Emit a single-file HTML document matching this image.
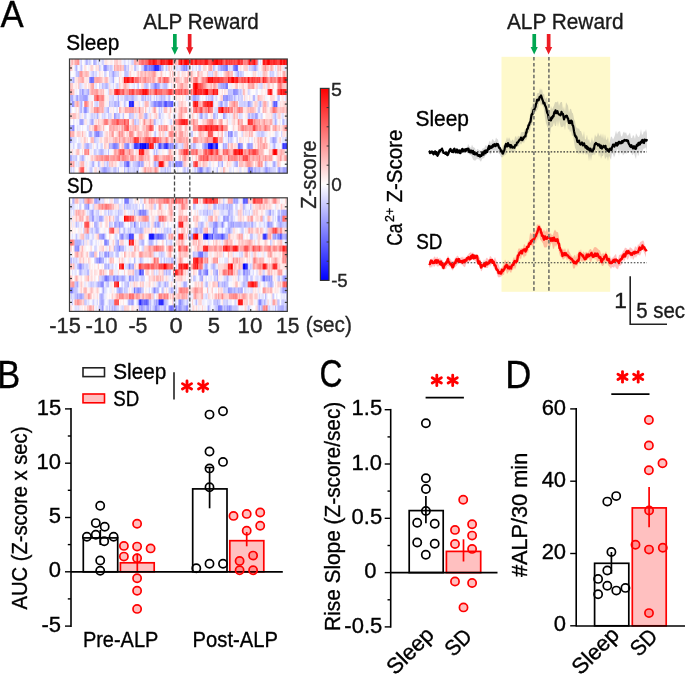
<!DOCTYPE html>
<html><head><meta charset="utf-8"><style>
html,body{margin:0;padding:0;background:#fff;}
body{width:685px;height:675px;overflow:hidden;}
svg{display:block;will-change:transform;}
text{stroke-width:0.35px;}
.hm rect{width:1.6px;height:6.35px;}
svg{font-family:"Liberation Sans",sans-serif;}
</style></head><body>
<svg width="685" height="675" viewBox="0 0 685 675" shape-rendering="auto">
<defs><filter id="hb" x="-2%" y="-2%" width="104%" height="104%"><feGaussianBlur stdDeviation="0.55 0.3"/></filter></defs>
<defs><clipPath id="c1"><rect x="69.50" y="59.00" width="217.80" height="114.20"/></clipPath></defs>
<g clip-path="url(#c1)"><g class="hm" filter="url(#hb)">
<g transform="translate(0,59.00)">
<rect x="69.5" fill="#ffefef"/>
<rect x="70.7" fill="#ffc2c2"/>
<rect x="72.0" fill="#ffb5b5"/>
<rect x="73.2" fill="#ffd8d8"/>
<rect x="74.5" fill="#ffa7a7"/>
<rect x="75.7" fill="#ffa9a9"/>
<rect x="76.9" fill="#ff9999"/>
<rect x="78.2" fill="#ff8787"/>
<rect x="79.4" fill="#eaeaff"/>
<rect x="80.6" fill="#cfcfff"/>
<rect x="81.9" fill="#fff9f9"/>
<rect x="83.1" fill="#fcfcff"/>
<rect x="84.3" fill="#e5e5ff"/>
<rect x="85.6" fill="#b2b2ff"/>
<rect x="86.8" fill="#bebeff"/>
<rect x="88.1" fill="#dbdbff"/>
<rect x="89.3" fill="#bfbfff"/>
<rect x="90.5" fill="#ededff"/>
<rect x="91.8" fill="#ffffff"/>
<rect x="93.0" fill="#bfbfff"/>
<rect x="94.2" fill="#a2a2ff"/>
<rect x="95.5" fill="#bfbfff"/>
<rect x="96.7" fill="#ededff"/>
<rect x="98.0" fill="#d4d4ff"/>
<rect x="99.2" fill="#e9e9ff"/>
<rect x="100.4" fill="#efefff"/>
<rect x="101.7" fill="#d1d1ff"/>
<rect x="102.9" fill="#d4d4ff"/>
<rect x="104.2" fill="#ffeaea"/>
<rect x="105.4" fill="#ffdcdc"/>
<rect x="106.6" fill="#ffecec"/>
<rect x="107.9" fill="#fff3f3"/>
<rect x="109.1" fill="#fff7f7"/>
<rect x="110.3" fill="#ffe6e6"/>
<rect x="111.6" fill="#ffebeb"/>
<rect x="112.8" fill="#fafaff"/>
<rect x="114.1" fill="#ffcccc"/>
<rect x="115.3" fill="#ffcaca"/>
<rect x="116.5" fill="#ffc2c2"/>
<rect x="117.8" fill="#ffe4e4"/>
<rect x="119.0" fill="#ffdfdf"/>
<rect x="120.2" fill="#ffd3d3"/>
<rect x="121.5" fill="#f4f4ff"/>
<rect x="122.7" fill="#ececff"/>
<rect x="124.0" fill="#dbdbff"/>
<rect x="125.2" fill="#e7e7ff"/>
<rect x="126.4" fill="#fefeff"/>
<rect x="127.7" fill="#dfdfff"/>
<rect x="128.9" fill="#f2f2ff"/>
<rect x="130.1" fill="#eeeeff"/>
<rect x="131.4" fill="#ceceff"/>
<rect x="132.6" fill="#d7d7ff"/>
<rect x="133.9" fill="#ffafaf"/>
<rect x="135.1" fill="#ffa6a6"/>
<rect x="136.3" fill="#ffbdbd"/>
<rect x="137.6" fill="#ffc1c1"/>
<rect x="138.8" fill="#ff8585"/>
<rect x="140.0" fill="#ff8989"/>
<rect x="141.3" fill="#ff5d5d"/>
<rect x="142.5" fill="#ff6969"/>
<rect x="143.8" fill="#ff8282"/>
<rect x="145.0" fill="#ff6f6f"/>
<rect x="146.2" fill="#ff5959"/>
<rect x="147.5" fill="#ff5252"/>
<rect x="148.7" fill="#ff2525"/>
<rect x="149.9" fill="#ff2929"/>
<rect x="151.2" fill="#ff2626"/>
<rect x="152.4" fill="#ff0e0e"/>
<rect x="153.7" fill="#ff1818"/>
<rect x="154.9" fill="#ff2727"/>
<rect x="156.1" fill="#ff2626"/>
<rect x="157.4" fill="#ff4b4b"/>
<rect x="158.6" fill="#ff5b5b"/>
<rect x="159.8" fill="#ff2c2c"/>
<rect x="161.1" fill="#ff0000"/>
<rect x="162.3" fill="#ff0c0c"/>
<rect x="163.6" fill="#ff2222"/>
<rect x="164.8" fill="#ff3e3e"/>
<rect x="166.0" fill="#ff2f2f"/>
<rect x="167.3" fill="#ff0202"/>
<rect x="168.5" fill="#ff0000"/>
<rect x="169.7" fill="#ff1010"/>
<rect x="171.0" fill="#ff0000"/>
<rect x="172.2" fill="#ff2828"/>
<rect x="173.4" fill="#ffd2d2"/>
<rect x="174.7" fill="#ffadad"/>
<rect x="175.9" fill="#ffbaba"/>
<rect x="177.2" fill="#ffcaca"/>
<rect x="178.4" fill="#ff3333"/>
<rect x="179.6" fill="#ff2727"/>
<rect x="180.9" fill="#ff0000"/>
<rect x="182.1" fill="#ff3c3c"/>
<rect x="183.4" fill="#ff1717"/>
<rect x="184.6" fill="#ff0404"/>
<rect x="185.8" fill="#ff0000"/>
<rect x="187.1" fill="#ff0000"/>
<rect x="188.3" fill="#ff0000"/>
<rect x="189.5" fill="#ff0f0f"/>
<rect x="190.8" fill="#ff1515"/>
<rect x="192.0" fill="#ff2323"/>
<rect x="193.2" fill="#ff4848"/>
<rect x="194.5" fill="#ff1616"/>
<rect x="195.7" fill="#ff1818"/>
<rect x="197.0" fill="#ff3737"/>
<rect x="198.2" fill="#ff2c2c"/>
<rect x="199.4" fill="#ff2929"/>
<rect x="200.7" fill="#ff3232"/>
<rect x="201.9" fill="#ff3737"/>
<rect x="203.2" fill="#ff2929"/>
<rect x="204.4" fill="#ff1c1c"/>
<rect x="205.6" fill="#ff1717"/>
<rect x="206.9" fill="#ff2121"/>
<rect x="208.1" fill="#ff4949"/>
<rect x="209.3" fill="#ff4b4b"/>
<rect x="210.6" fill="#ff5050"/>
<rect x="211.8" fill="#ff3131"/>
<rect x="213.1" fill="#ff0c0c"/>
<rect x="214.3" fill="#ff0101"/>
<rect x="215.5" fill="#ff0000"/>
<rect x="216.8" fill="#ff0000"/>
<rect x="218.0" fill="#ff2424"/>
<rect x="219.2" fill="#ff0808"/>
<rect x="220.5" fill="#ff0909"/>
<rect x="221.7" fill="#ff3a3a"/>
<rect x="223.0" fill="#ff5555"/>
<rect x="224.2" fill="#ff6262"/>
<rect x="225.4" fill="#ff2b2b"/>
<rect x="226.7" fill="#ff3b3b"/>
<rect x="227.9" fill="#ff4e4e"/>
<rect x="229.1" fill="#ff2d2d"/>
<rect x="230.4" fill="#ff3434"/>
<rect x="231.6" fill="#ff4e4e"/>
<rect x="232.8" fill="#ff5353"/>
<rect x="234.1" fill="#ff3737"/>
<rect x="235.3" fill="#ff4747"/>
<rect x="236.6" fill="#ff4646"/>
<rect x="237.8" fill="#ff2222"/>
<rect x="239.0" fill="#ff2727"/>
<rect x="240.3" fill="#ff3434"/>
<rect x="241.5" fill="#ff2d2d"/>
<rect x="242.8" fill="#ff9191"/>
<rect x="244.0" fill="#ff8383"/>
<rect x="245.2" fill="#ff7979"/>
<rect x="246.5" fill="#ff8888"/>
<rect x="247.7" fill="#ff5353"/>
<rect x="248.9" fill="#ff1818"/>
<rect x="250.2" fill="#ff1e1e"/>
<rect x="251.4" fill="#ff3939"/>
<rect x="252.7" fill="#ff2525"/>
<rect x="253.9" fill="#ff0a0a"/>
<rect x="255.1" fill="#ff3f3f"/>
<rect x="256.4" fill="#ff5757"/>
<rect x="257.6" fill="#cbcbff"/>
<rect x="258.8" fill="#f9f9ff"/>
<rect x="260.1" fill="#e1e1ff"/>
<rect x="261.3" fill="#fffcfc"/>
<rect x="262.6" fill="#ff1414"/>
<rect x="263.8" fill="#ff1919"/>
<rect x="265.0" fill="#ff3636"/>
<rect x="266.3" fill="#ff0505"/>
<rect x="267.5" fill="#ff0000"/>
<rect x="268.7" fill="#ff1111"/>
<rect x="270.0" fill="#ff3232"/>
<rect x="271.2" fill="#ff1e1e"/>
<rect x="272.5" fill="#ff2a2a"/>
<rect x="273.7" fill="#ff2020"/>
<rect x="274.9" fill="#ff3131"/>
<rect x="276.2" fill="#ff1f1f"/>
<rect x="277.4" fill="#ff4646"/>
<rect x="278.6" fill="#ff4343"/>
<rect x="279.9" fill="#ff0c0c"/>
<rect x="281.1" fill="#ff0000"/>
<rect x="282.4" fill="#ff2121"/>
<rect x="283.6" fill="#ff0505"/>
<rect x="284.8" fill="#ff2525"/>
<rect x="286.1" fill="#ff0101"/>
</g>
<g transform="translate(0,65.01)">
<rect x="69.5" fill="#ffbdbd"/>
<rect x="70.7" fill="#ffcfcf"/>
<rect x="72.0" fill="#ffe4e4"/>
<rect x="73.2" fill="#fcfcff"/>
<rect x="74.5" fill="#dadaff"/>
<rect x="75.7" fill="#afafff"/>
<rect x="76.9" fill="#dcdcff"/>
<rect x="78.2" fill="#fcfcff"/>
<rect x="79.4" fill="#eaeaff"/>
<rect x="80.6" fill="#c2c2ff"/>
<rect x="81.9" fill="#e8e8ff"/>
<rect x="83.1" fill="#fffcfc"/>
<rect x="84.3" fill="#ffd8d8"/>
<rect x="85.6" fill="#ffeded"/>
<rect x="86.8" fill="#fdfdff"/>
<rect x="88.1" fill="#f2f2ff"/>
<rect x="89.3" fill="#ffefef"/>
<rect x="90.5" fill="#ffd0d0"/>
<rect x="91.8" fill="#ffd6d6"/>
<rect x="93.0" fill="#ffecec"/>
<rect x="94.2" fill="#fffefe"/>
<rect x="95.5" fill="#ffd8d8"/>
<rect x="96.7" fill="#ffe5e5"/>
<rect x="98.0" fill="#ffdada"/>
<rect x="99.2" fill="#bfbfff"/>
<rect x="100.4" fill="#e7e7ff"/>
<rect x="101.7" fill="#fcfcff"/>
<rect x="102.9" fill="#bdbdff"/>
<rect x="104.2" fill="#8282ff"/>
<rect x="105.4" fill="#8686ff"/>
<rect x="106.6" fill="#bebeff"/>
<rect x="107.9" fill="#c6c6ff"/>
<rect x="109.1" fill="#d4d4ff"/>
<rect x="110.3" fill="#bbbbff"/>
<rect x="111.6" fill="#d5d5ff"/>
<rect x="112.8" fill="#efefff"/>
<rect x="114.1" fill="#ffa1a1"/>
<rect x="115.3" fill="#ffc8c8"/>
<rect x="116.5" fill="#ffaeae"/>
<rect x="117.8" fill="#ffb2b2"/>
<rect x="119.0" fill="#ffc4c4"/>
<rect x="120.2" fill="#ffa4a4"/>
<rect x="121.5" fill="#ffd2d2"/>
<rect x="122.7" fill="#ffbfbf"/>
<rect x="124.0" fill="#b7b7ff"/>
<rect x="125.2" fill="#ababff"/>
<rect x="126.4" fill="#e1e1ff"/>
<rect x="127.7" fill="#c1c1ff"/>
<rect x="128.9" fill="#fff1f1"/>
<rect x="130.1" fill="#fff1f1"/>
<rect x="131.4" fill="#ffdddd"/>
<rect x="132.6" fill="#fffafa"/>
<rect x="133.9" fill="#c6c6ff"/>
<rect x="135.1" fill="#bbbbff"/>
<rect x="136.3" fill="#e5e5ff"/>
<rect x="137.6" fill="#e3e3ff"/>
<rect x="138.8" fill="#fefeff"/>
<rect x="140.0" fill="#fff9f9"/>
<rect x="141.3" fill="#cbcbff"/>
<rect x="142.5" fill="#d2d2ff"/>
<rect x="143.8" fill="#8383ff"/>
<rect x="145.0" fill="#6f6fff"/>
<rect x="146.2" fill="#6969ff"/>
<rect x="147.5" fill="#a7a7ff"/>
<rect x="148.7" fill="#7f7fff"/>
<rect x="149.9" fill="#8c8cff"/>
<rect x="151.2" fill="#6a6aff"/>
<rect x="152.4" fill="#7171ff"/>
<rect x="153.7" fill="#4040ff"/>
<rect x="154.9" fill="#2626ff"/>
<rect x="156.1" fill="#2b2bff"/>
<rect x="157.4" fill="#1010ff"/>
<rect x="158.6" fill="#7878ff"/>
<rect x="159.8" fill="#7d7dff"/>
<rect x="161.1" fill="#b2b2ff"/>
<rect x="162.3" fill="#afafff"/>
<rect x="163.6" fill="#f9f9ff"/>
<rect x="164.8" fill="#e0e0ff"/>
<rect x="166.0" fill="#c5c5ff"/>
<rect x="167.3" fill="#e3e3ff"/>
<rect x="168.5" fill="#ffaeae"/>
<rect x="169.7" fill="#ffe9e9"/>
<rect x="171.0" fill="#ffcece"/>
<rect x="172.2" fill="#fff1f1"/>
<rect x="173.4" fill="#d1d1ff"/>
<rect x="174.7" fill="#fff4f4"/>
<rect x="175.9" fill="#dedeff"/>
<rect x="177.2" fill="#dbdbff"/>
<rect x="178.4" fill="#e9e9ff"/>
<rect x="179.6" fill="#d5d5ff"/>
<rect x="180.9" fill="#b4b4ff"/>
<rect x="182.1" fill="#a9a9ff"/>
<rect x="183.4" fill="#7c7cff"/>
<rect x="184.6" fill="#a5a5ff"/>
<rect x="185.8" fill="#8484ff"/>
<rect x="187.1" fill="#b7b7ff"/>
<rect x="188.3" fill="#d0d0ff"/>
<rect x="189.5" fill="#f7f7ff"/>
<rect x="190.8" fill="#fffafa"/>
<rect x="192.0" fill="#d7d7ff"/>
<rect x="193.2" fill="#eeeeff"/>
<rect x="194.5" fill="#f5f5ff"/>
<rect x="195.7" fill="#dadaff"/>
<rect x="197.0" fill="#fbfbff"/>
<rect x="198.2" fill="#d8d8ff"/>
<rect x="199.4" fill="#c5c5ff"/>
<rect x="200.7" fill="#fff2f2"/>
<rect x="201.9" fill="#f4f4ff"/>
<rect x="203.2" fill="#ffcece"/>
<rect x="204.4" fill="#ffd4d4"/>
<rect x="205.6" fill="#ffe2e2"/>
<rect x="206.9" fill="#fffcfc"/>
<rect x="208.1" fill="#ffc3c3"/>
<rect x="209.3" fill="#ffa4a4"/>
<rect x="210.6" fill="#ff9797"/>
<rect x="211.8" fill="#ffd6d6"/>
<rect x="213.1" fill="#b7b7ff"/>
<rect x="214.3" fill="#cfcfff"/>
<rect x="215.5" fill="#f7f7ff"/>
<rect x="216.8" fill="#e6e6ff"/>
<rect x="218.0" fill="#bcbcff"/>
<rect x="219.2" fill="#bcbcff"/>
<rect x="220.5" fill="#9a9aff"/>
<rect x="221.7" fill="#a3a3ff"/>
<rect x="223.0" fill="#9393ff"/>
<rect x="224.2" fill="#8787ff"/>
<rect x="225.4" fill="#7474ff"/>
<rect x="226.7" fill="#7c7cff"/>
<rect x="227.9" fill="#e7e7ff"/>
<rect x="229.1" fill="#d7d7ff"/>
<rect x="230.4" fill="#e0e0ff"/>
<rect x="231.6" fill="#e4e4ff"/>
<rect x="232.8" fill="#9292ff"/>
<rect x="234.1" fill="#7171ff"/>
<rect x="235.3" fill="#5b5bff"/>
<rect x="236.6" fill="#5353ff"/>
<rect x="237.8" fill="#e8e8ff"/>
<rect x="239.0" fill="#ffeded"/>
<rect x="240.3" fill="#ffd7d7"/>
<rect x="241.5" fill="#fffdfd"/>
<rect x="242.8" fill="#ffdede"/>
<rect x="244.0" fill="#ffd3d3"/>
<rect x="245.2" fill="#ffcccc"/>
<rect x="246.5" fill="#ffc7c7"/>
<rect x="247.7" fill="#efefff"/>
<rect x="248.9" fill="#d1d1ff"/>
<rect x="250.2" fill="#d5d5ff"/>
<rect x="251.4" fill="#c9c9ff"/>
<rect x="252.7" fill="#bdbdff"/>
<rect x="253.9" fill="#a5a5ff"/>
<rect x="255.1" fill="#9b9bff"/>
<rect x="256.4" fill="#c4c4ff"/>
<rect x="257.6" fill="#e8e8ff"/>
<rect x="258.8" fill="#fff2f2"/>
<rect x="260.1" fill="#fffafa"/>
<rect x="261.3" fill="#ffdfdf"/>
<rect x="262.6" fill="#ffb1b1"/>
<rect x="263.8" fill="#ffa9a9"/>
<rect x="265.0" fill="#ff8e8e"/>
<rect x="266.3" fill="#ffbcbc"/>
<rect x="267.5" fill="#ffb8b8"/>
<rect x="268.7" fill="#ffe0e0"/>
<rect x="270.0" fill="#ffc1c1"/>
<rect x="271.2" fill="#ffa2a2"/>
<rect x="272.5" fill="#ffd0d0"/>
<rect x="273.7" fill="#fff8f8"/>
<rect x="274.9" fill="#e2e2ff"/>
<rect x="276.2" fill="#f3f3ff"/>
<rect x="277.4" fill="#ffb4b4"/>
<rect x="278.6" fill="#ffd5d5"/>
<rect x="279.9" fill="#ffb3b3"/>
<rect x="281.1" fill="#ffe1e1"/>
<rect x="282.4" fill="#ffe5e5"/>
<rect x="283.6" fill="#e5e5ff"/>
<rect x="284.8" fill="#e4e4ff"/>
<rect x="286.1" fill="#ffeaea"/>
</g>
<g transform="translate(0,71.02)">
<rect x="69.5" fill="#eaeaff"/>
<rect x="70.7" fill="#fdfdff"/>
<rect x="72.0" fill="#fffdfd"/>
<rect x="73.2" fill="#fbfbff"/>
<rect x="74.5" fill="#f3f3ff"/>
<rect x="75.7" fill="#c6c6ff"/>
<rect x="76.9" fill="#c7c7ff"/>
<rect x="78.2" fill="#b1b1ff"/>
<rect x="79.4" fill="#ffa0a0"/>
<rect x="80.6" fill="#ff9494"/>
<rect x="81.9" fill="#ffb1b1"/>
<rect x="83.1" fill="#ffcdcd"/>
<rect x="84.3" fill="#ffbebe"/>
<rect x="85.6" fill="#ffafaf"/>
<rect x="86.8" fill="#ffbebe"/>
<rect x="88.1" fill="#ffc5c5"/>
<rect x="89.3" fill="#f3f3ff"/>
<rect x="90.5" fill="#ddddff"/>
<rect x="91.8" fill="#ceceff"/>
<rect x="93.0" fill="#c2c2ff"/>
<rect x="94.2" fill="#e5e5ff"/>
<rect x="95.5" fill="#ccccff"/>
<rect x="96.7" fill="#f4f4ff"/>
<rect x="98.0" fill="#f3f3ff"/>
<rect x="99.2" fill="#ffd1d1"/>
<rect x="100.4" fill="#fff5f5"/>
<rect x="101.7" fill="#ffeded"/>
<rect x="102.9" fill="#fffbfb"/>
<rect x="104.2" fill="#cdcdff"/>
<rect x="105.4" fill="#d5d5ff"/>
<rect x="106.6" fill="#fff7f7"/>
<rect x="107.9" fill="#fafaff"/>
<rect x="109.1" fill="#c7c7ff"/>
<rect x="110.3" fill="#d6d6ff"/>
<rect x="111.6" fill="#bdbdff"/>
<rect x="112.8" fill="#a0a0ff"/>
<rect x="114.1" fill="#bdbdff"/>
<rect x="115.3" fill="#c8c8ff"/>
<rect x="116.5" fill="#d9d9ff"/>
<rect x="117.8" fill="#d0d0ff"/>
<rect x="119.0" fill="#fff0f0"/>
<rect x="120.2" fill="#ffe6e6"/>
<rect x="121.5" fill="#f5f5ff"/>
<rect x="122.7" fill="#fafaff"/>
<rect x="124.0" fill="#cdcdff"/>
<rect x="125.2" fill="#b9b9ff"/>
<rect x="126.4" fill="#bfbfff"/>
<rect x="127.7" fill="#ceceff"/>
<rect x="128.9" fill="#ffdfdf"/>
<rect x="130.1" fill="#ffcfcf"/>
<rect x="131.4" fill="#fffcfc"/>
<rect x="132.6" fill="#fff2f2"/>
<rect x="133.9" fill="#fff0f0"/>
<rect x="135.1" fill="#fcfcff"/>
<rect x="136.3" fill="#ffe6e6"/>
<rect x="137.6" fill="#ffbcbc"/>
<rect x="138.8" fill="#ffe3e3"/>
<rect x="140.0" fill="#ffc4c4"/>
<rect x="141.3" fill="#ffacac"/>
<rect x="142.5" fill="#ffd0d0"/>
<rect x="143.8" fill="#ffc1c1"/>
<rect x="145.0" fill="#ffadad"/>
<rect x="146.2" fill="#ffcbcb"/>
<rect x="147.5" fill="#ffbebe"/>
<rect x="148.7" fill="#ffb5b5"/>
<rect x="149.9" fill="#ffbdbd"/>
<rect x="151.2" fill="#ffabab"/>
<rect x="152.4" fill="#ffa0a0"/>
<rect x="153.7" fill="#ff9595"/>
<rect x="154.9" fill="#ffb0b0"/>
<rect x="156.1" fill="#ffdddd"/>
<rect x="157.4" fill="#ffebeb"/>
<rect x="158.6" fill="#fff4f4"/>
<rect x="159.8" fill="#ffdbdb"/>
<rect x="161.1" fill="#ffc1c1"/>
<rect x="162.3" fill="#ffeeee"/>
<rect x="163.6" fill="#fffdfd"/>
<rect x="164.8" fill="#ffecec"/>
<rect x="166.0" fill="#fbfbff"/>
<rect x="167.3" fill="#fefeff"/>
<rect x="168.5" fill="#ffeded"/>
<rect x="169.7" fill="#ffcbcb"/>
<rect x="171.0" fill="#fff4f4"/>
<rect x="172.2" fill="#ffb9b9"/>
<rect x="173.4" fill="#ffdbdb"/>
<rect x="174.7" fill="#ffe4e4"/>
<rect x="175.9" fill="#f8f8ff"/>
<rect x="177.2" fill="#ffe0e0"/>
<rect x="178.4" fill="#ffcccc"/>
<rect x="179.6" fill="#f9f9ff"/>
<rect x="180.9" fill="#ffebeb"/>
<rect x="182.1" fill="#ffdada"/>
<rect x="183.4" fill="#ffe1e1"/>
<rect x="184.6" fill="#ffe1e1"/>
<rect x="185.8" fill="#fff6f6"/>
<rect x="187.1" fill="#ffd8d8"/>
<rect x="188.3" fill="#ff9999"/>
<rect x="189.5" fill="#ffc2c2"/>
<rect x="190.8" fill="#ffb1b1"/>
<rect x="192.0" fill="#ffc8c8"/>
<rect x="193.2" fill="#ffe9e9"/>
<rect x="194.5" fill="#ffeaea"/>
<rect x="195.7" fill="#fffbfb"/>
<rect x="197.0" fill="#ffc2c2"/>
<rect x="198.2" fill="#ffa5a5"/>
<rect x="199.4" fill="#ffdcdc"/>
<rect x="200.7" fill="#ffcece"/>
<rect x="201.9" fill="#ffd7d7"/>
<rect x="203.2" fill="#fff3f3"/>
<rect x="204.4" fill="#fff1f1"/>
<rect x="205.6" fill="#fff4f4"/>
<rect x="206.9" fill="#ffcccc"/>
<rect x="208.1" fill="#d9d9ff"/>
<rect x="209.3" fill="#d4d4ff"/>
<rect x="210.6" fill="#e7e7ff"/>
<rect x="211.8" fill="#cdcdff"/>
<rect x="213.1" fill="#ffdddd"/>
<rect x="214.3" fill="#ffcece"/>
<rect x="215.5" fill="#ffb4b4"/>
<rect x="216.8" fill="#ffdcdc"/>
<rect x="218.0" fill="#e8e8ff"/>
<rect x="219.2" fill="#f8f8ff"/>
<rect x="220.5" fill="#e9e9ff"/>
<rect x="221.7" fill="#fcfcff"/>
<rect x="223.0" fill="#ffe7e7"/>
<rect x="224.2" fill="#ffcccc"/>
<rect x="225.4" fill="#ffb7b7"/>
<rect x="226.7" fill="#ffacac"/>
<rect x="227.9" fill="#ff9a9a"/>
<rect x="229.1" fill="#ffb5b5"/>
<rect x="230.4" fill="#ffc5c5"/>
<rect x="231.6" fill="#ffafaf"/>
<rect x="232.8" fill="#f7f7ff"/>
<rect x="234.1" fill="#e8e8ff"/>
<rect x="235.3" fill="#d2d2ff"/>
<rect x="236.6" fill="#c0c0ff"/>
<rect x="237.8" fill="#a9a9ff"/>
<rect x="239.0" fill="#d8d8ff"/>
<rect x="240.3" fill="#b5b5ff"/>
<rect x="241.5" fill="#d9d9ff"/>
<rect x="242.8" fill="#d8d8ff"/>
<rect x="244.0" fill="#fafaff"/>
<rect x="245.2" fill="#f9f9ff"/>
<rect x="246.5" fill="#fff4f4"/>
<rect x="247.7" fill="#fbfbff"/>
<rect x="248.9" fill="#fdfdff"/>
<rect x="250.2" fill="#fffafa"/>
<rect x="251.4" fill="#f2f2ff"/>
<rect x="252.7" fill="#ffd7d7"/>
<rect x="253.9" fill="#ffdfdf"/>
<rect x="255.1" fill="#ffd5d5"/>
<rect x="256.4" fill="#fffcfc"/>
<rect x="257.6" fill="#e7e7ff"/>
<rect x="258.8" fill="#f0f0ff"/>
<rect x="260.1" fill="#e8e8ff"/>
<rect x="261.3" fill="#ededff"/>
<rect x="262.6" fill="#ffc2c2"/>
<rect x="263.8" fill="#ffbbbb"/>
<rect x="265.0" fill="#ffc8c8"/>
<rect x="266.3" fill="#ffc1c1"/>
<rect x="267.5" fill="#fcfcff"/>
<rect x="268.7" fill="#e6e6ff"/>
<rect x="270.0" fill="#cbcbff"/>
<rect x="271.2" fill="#d5d5ff"/>
<rect x="272.5" fill="#c6c6ff"/>
<rect x="273.7" fill="#ebebff"/>
<rect x="274.9" fill="#f8f8ff"/>
<rect x="276.2" fill="#e3e3ff"/>
<rect x="277.4" fill="#ffcfcf"/>
<rect x="278.6" fill="#ffeded"/>
<rect x="279.9" fill="#ffdbdb"/>
<rect x="281.1" fill="#fff6f6"/>
<rect x="282.4" fill="#ffb9b9"/>
<rect x="283.6" fill="#ff9f9f"/>
<rect x="284.8" fill="#ffcaca"/>
<rect x="286.1" fill="#ffe9e9"/>
</g>
<g transform="translate(0,77.03)">
<rect x="69.5" fill="#dbdbff"/>
<rect x="70.7" fill="#d8d8ff"/>
<rect x="72.0" fill="#c9c9ff"/>
<rect x="73.2" fill="#a5a5ff"/>
<rect x="74.5" fill="#ffeeee"/>
<rect x="75.7" fill="#ffe4e4"/>
<rect x="76.9" fill="#ffe1e1"/>
<rect x="78.2" fill="#ffbbbb"/>
<rect x="79.4" fill="#ffc0c0"/>
<rect x="80.6" fill="#ffb6b6"/>
<rect x="81.9" fill="#ffa5a5"/>
<rect x="83.1" fill="#ffa9a9"/>
<rect x="84.3" fill="#ffeded"/>
<rect x="85.6" fill="#ffe3e3"/>
<rect x="86.8" fill="#ffe7e7"/>
<rect x="88.1" fill="#ffe8e8"/>
<rect x="89.3" fill="#7b7bff"/>
<rect x="90.5" fill="#6868ff"/>
<rect x="91.8" fill="#7171ff"/>
<rect x="93.0" fill="#7676ff"/>
<rect x="94.2" fill="#ffa6a6"/>
<rect x="95.5" fill="#ffa7a7"/>
<rect x="96.7" fill="#ffa2a2"/>
<rect x="98.0" fill="#ffa6a6"/>
<rect x="99.2" fill="#ffa4a4"/>
<rect x="100.4" fill="#ffb4b4"/>
<rect x="101.7" fill="#ffd0d0"/>
<rect x="102.9" fill="#ffe4e4"/>
<rect x="104.2" fill="#ffc9c9"/>
<rect x="105.4" fill="#ffafaf"/>
<rect x="106.6" fill="#ffbebe"/>
<rect x="107.9" fill="#ffe5e5"/>
<rect x="109.1" fill="#e3e3ff"/>
<rect x="110.3" fill="#d8d8ff"/>
<rect x="111.6" fill="#d2d2ff"/>
<rect x="112.8" fill="#acacff"/>
<rect x="114.1" fill="#efefff"/>
<rect x="115.3" fill="#fff2f2"/>
<rect x="116.5" fill="#fefeff"/>
<rect x="117.8" fill="#f3f3ff"/>
<rect x="119.0" fill="#ffcaca"/>
<rect x="120.2" fill="#fff5f5"/>
<rect x="121.5" fill="#ffe1e1"/>
<rect x="122.7" fill="#ffb4b4"/>
<rect x="124.0" fill="#ff0707"/>
<rect x="125.2" fill="#ff1f1f"/>
<rect x="126.4" fill="#ff1212"/>
<rect x="127.7" fill="#ff1313"/>
<rect x="128.9" fill="#ff3434"/>
<rect x="130.1" fill="#ff4343"/>
<rect x="131.4" fill="#ff1212"/>
<rect x="132.6" fill="#ff2f2f"/>
<rect x="133.9" fill="#ff8e8e"/>
<rect x="135.1" fill="#ff5d5d"/>
<rect x="136.3" fill="#ff6060"/>
<rect x="137.6" fill="#ff6e6e"/>
<rect x="138.8" fill="#ffa6a6"/>
<rect x="140.0" fill="#ff9191"/>
<rect x="141.3" fill="#ffb6b6"/>
<rect x="142.5" fill="#ff9f9f"/>
<rect x="143.8" fill="#ff9090"/>
<rect x="145.0" fill="#ff8181"/>
<rect x="146.2" fill="#ffa7a7"/>
<rect x="147.5" fill="#ff9c9c"/>
<rect x="148.7" fill="#ffb6b6"/>
<rect x="149.9" fill="#ffa7a7"/>
<rect x="151.2" fill="#ffbfbf"/>
<rect x="152.4" fill="#ff9898"/>
<rect x="153.7" fill="#ffaeae"/>
<rect x="154.9" fill="#ffcfcf"/>
<rect x="156.1" fill="#ffe7e7"/>
<rect x="157.4" fill="#ffb5b5"/>
<rect x="158.6" fill="#ff8686"/>
<rect x="159.8" fill="#ff7a7a"/>
<rect x="161.1" fill="#ffb7b7"/>
<rect x="162.3" fill="#ff8b8b"/>
<rect x="163.6" fill="#ff5151"/>
<rect x="164.8" fill="#ff6c6c"/>
<rect x="166.0" fill="#ff6e6e"/>
<rect x="167.3" fill="#ff5454"/>
<rect x="168.5" fill="#ffb2b2"/>
<rect x="169.7" fill="#ffdcdc"/>
<rect x="171.0" fill="#ffcccc"/>
<rect x="172.2" fill="#ffeaea"/>
<rect x="173.4" fill="#ffb6b6"/>
<rect x="174.7" fill="#ffc9c9"/>
<rect x="175.9" fill="#ffacac"/>
<rect x="177.2" fill="#ffaeae"/>
<rect x="178.4" fill="#ffb9b9"/>
<rect x="179.6" fill="#ffd9d9"/>
<rect x="180.9" fill="#ffd3d3"/>
<rect x="182.1" fill="#ffefef"/>
<rect x="183.4" fill="#ffcece"/>
<rect x="184.6" fill="#ffa5a5"/>
<rect x="185.8" fill="#ffafaf"/>
<rect x="187.1" fill="#ff9494"/>
<rect x="188.3" fill="#ffe0e0"/>
<rect x="189.5" fill="#ffc6c6"/>
<rect x="190.8" fill="#ffbaba"/>
<rect x="192.0" fill="#ffd7d7"/>
<rect x="193.2" fill="#ff8989"/>
<rect x="194.5" fill="#ff7e7e"/>
<rect x="195.7" fill="#ff7171"/>
<rect x="197.0" fill="#ff8c8c"/>
<rect x="198.2" fill="#ffcece"/>
<rect x="199.4" fill="#ffdbdb"/>
<rect x="200.7" fill="#ffb4b4"/>
<rect x="201.9" fill="#ff8b8b"/>
<rect x="203.2" fill="#ff7272"/>
<rect x="204.4" fill="#ff9191"/>
<rect x="205.6" fill="#ff6969"/>
<rect x="206.9" fill="#ff4e4e"/>
<rect x="208.1" fill="#ff0000"/>
<rect x="209.3" fill="#ff0404"/>
<rect x="210.6" fill="#ff2323"/>
<rect x="211.8" fill="#ff0808"/>
<rect x="213.1" fill="#ff3636"/>
<rect x="214.3" fill="#ff1c1c"/>
<rect x="215.5" fill="#ff4141"/>
<rect x="216.8" fill="#ff3939"/>
<rect x="218.0" fill="#ff2e2e"/>
<rect x="219.2" fill="#ff3232"/>
<rect x="220.5" fill="#ff4545"/>
<rect x="221.7" fill="#ff4949"/>
<rect x="223.0" fill="#ff5d5d"/>
<rect x="224.2" fill="#ff6565"/>
<rect x="225.4" fill="#ff5f5f"/>
<rect x="226.7" fill="#ff7a7a"/>
<rect x="227.9" fill="#ff1b1b"/>
<rect x="229.1" fill="#ff2e2e"/>
<rect x="230.4" fill="#ff2121"/>
<rect x="231.6" fill="#ff0101"/>
<rect x="232.8" fill="#ff0000"/>
<rect x="234.1" fill="#ff3030"/>
<rect x="235.3" fill="#ff1111"/>
<rect x="236.6" fill="#ff0000"/>
<rect x="237.8" fill="#ff6464"/>
<rect x="239.0" fill="#ff6f6f"/>
<rect x="240.3" fill="#ff6363"/>
<rect x="241.5" fill="#ff4343"/>
<rect x="242.8" fill="#ff5e5e"/>
<rect x="244.0" fill="#ff4343"/>
<rect x="245.2" fill="#ff4141"/>
<rect x="246.5" fill="#ff7272"/>
<rect x="247.7" fill="#ff0707"/>
<rect x="248.9" fill="#ff3e3e"/>
<rect x="250.2" fill="#ff4d4d"/>
<rect x="251.4" fill="#ff2929"/>
<rect x="252.7" fill="#ff4a4a"/>
<rect x="253.9" fill="#ff3f3f"/>
<rect x="255.1" fill="#ff4e4e"/>
<rect x="256.4" fill="#ff3a3a"/>
<rect x="257.6" fill="#ff5454"/>
<rect x="258.8" fill="#ff3d3d"/>
<rect x="260.1" fill="#ff7979"/>
<rect x="261.3" fill="#ff9393"/>
<rect x="262.6" fill="#ff1c1c"/>
<rect x="263.8" fill="#ff4646"/>
<rect x="265.0" fill="#ff4545"/>
<rect x="266.3" fill="#ff5252"/>
<rect x="267.5" fill="#ff9c9c"/>
<rect x="268.7" fill="#ffa5a5"/>
<rect x="270.0" fill="#ff7777"/>
<rect x="271.2" fill="#ff5a5a"/>
<rect x="272.5" fill="#ff8e8e"/>
<rect x="273.7" fill="#ff7e7e"/>
<rect x="274.9" fill="#ff8585"/>
<rect x="276.2" fill="#ff9f9f"/>
<rect x="277.4" fill="#ff5959"/>
<rect x="278.6" fill="#ff3a3a"/>
<rect x="279.9" fill="#ff4747"/>
<rect x="281.1" fill="#ff6d6d"/>
<rect x="282.4" fill="#ff4b4b"/>
<rect x="283.6" fill="#ff1212"/>
<rect x="284.8" fill="#ff1414"/>
<rect x="286.1" fill="#ff2929"/>
</g>
<g transform="translate(0,83.04)">
<rect x="69.5" fill="#ffc9c9"/>
<rect x="70.7" fill="#ffc8c8"/>
<rect x="72.0" fill="#ffcbcb"/>
<rect x="73.2" fill="#fff2f2"/>
<rect x="74.5" fill="#ffecec"/>
<rect x="75.7" fill="#ffe4e4"/>
<rect x="76.9" fill="#fff2f2"/>
<rect x="78.2" fill="#ffc1c1"/>
<rect x="79.4" fill="#d2d2ff"/>
<rect x="80.6" fill="#dfdfff"/>
<rect x="81.9" fill="#e9e9ff"/>
<rect x="83.1" fill="#f0f0ff"/>
<rect x="84.3" fill="#ffdfdf"/>
<rect x="85.6" fill="#ffdcdc"/>
<rect x="86.8" fill="#fafaff"/>
<rect x="88.1" fill="#ffdada"/>
<rect x="89.3" fill="#ffdddd"/>
<rect x="90.5" fill="#ffb4b4"/>
<rect x="91.8" fill="#ffa7a7"/>
<rect x="93.0" fill="#ffa2a2"/>
<rect x="94.2" fill="#f0f0ff"/>
<rect x="95.5" fill="#d7d7ff"/>
<rect x="96.7" fill="#fff8f8"/>
<rect x="98.0" fill="#fffefe"/>
<rect x="99.2" fill="#c7c7ff"/>
<rect x="100.4" fill="#f4f4ff"/>
<rect x="101.7" fill="#bbbbff"/>
<rect x="102.9" fill="#cacaff"/>
<rect x="104.2" fill="#c9c9ff"/>
<rect x="105.4" fill="#afafff"/>
<rect x="106.6" fill="#b9b9ff"/>
<rect x="107.9" fill="#d7d7ff"/>
<rect x="109.1" fill="#ffdddd"/>
<rect x="110.3" fill="#e8e8ff"/>
<rect x="111.6" fill="#f6f6ff"/>
<rect x="112.8" fill="#dadaff"/>
<rect x="114.1" fill="#fff7f7"/>
<rect x="115.3" fill="#e1e1ff"/>
<rect x="116.5" fill="#cbcbff"/>
<rect x="117.8" fill="#dedeff"/>
<rect x="119.0" fill="#ffcdcd"/>
<rect x="120.2" fill="#ffdede"/>
<rect x="121.5" fill="#fff5f5"/>
<rect x="122.7" fill="#ffc9c9"/>
<rect x="124.0" fill="#ffb5b5"/>
<rect x="125.2" fill="#ffa7a7"/>
<rect x="126.4" fill="#ffcece"/>
<rect x="127.7" fill="#ffd6d6"/>
<rect x="128.9" fill="#e8e8ff"/>
<rect x="130.1" fill="#f9f9ff"/>
<rect x="131.4" fill="#efefff"/>
<rect x="132.6" fill="#eaeaff"/>
<rect x="133.9" fill="#dfdfff"/>
<rect x="135.1" fill="#fdfdff"/>
<rect x="136.3" fill="#ececff"/>
<rect x="137.6" fill="#bdbdff"/>
<rect x="138.8" fill="#fffcfc"/>
<rect x="140.0" fill="#fcfcff"/>
<rect x="141.3" fill="#ffd8d8"/>
<rect x="142.5" fill="#ffdcdc"/>
<rect x="143.8" fill="#ceceff"/>
<rect x="145.0" fill="#c7c7ff"/>
<rect x="146.2" fill="#b6b6ff"/>
<rect x="147.5" fill="#ccccff"/>
<rect x="148.7" fill="#ffffff"/>
<rect x="149.9" fill="#d5d5ff"/>
<rect x="151.2" fill="#b7b7ff"/>
<rect x="152.4" fill="#bbbbff"/>
<rect x="153.7" fill="#9b9bff"/>
<rect x="154.9" fill="#7f7fff"/>
<rect x="156.1" fill="#8686ff"/>
<rect x="157.4" fill="#9c9cff"/>
<rect x="158.6" fill="#a9a9ff"/>
<rect x="159.8" fill="#d9d9ff"/>
<rect x="161.1" fill="#e1e1ff"/>
<rect x="162.3" fill="#c9c9ff"/>
<rect x="163.6" fill="#bdbdff"/>
<rect x="164.8" fill="#bcbcff"/>
<rect x="166.0" fill="#b9b9ff"/>
<rect x="167.3" fill="#dbdbff"/>
<rect x="168.5" fill="#fffbfb"/>
<rect x="169.7" fill="#fffbfb"/>
<rect x="171.0" fill="#e4e4ff"/>
<rect x="172.2" fill="#ffe9e9"/>
<rect x="173.4" fill="#ffd6d6"/>
<rect x="174.7" fill="#ffe1e1"/>
<rect x="175.9" fill="#fffcfc"/>
<rect x="177.2" fill="#ffbdbd"/>
<rect x="178.4" fill="#ffcaca"/>
<rect x="179.6" fill="#ffacac"/>
<rect x="180.9" fill="#ff9e9e"/>
<rect x="182.1" fill="#ff9494"/>
<rect x="183.4" fill="#ffcaca"/>
<rect x="184.6" fill="#ffc4c4"/>
<rect x="185.8" fill="#ffc2c2"/>
<rect x="187.1" fill="#ffcbcb"/>
<rect x="188.3" fill="#f9f9ff"/>
<rect x="189.5" fill="#fefeff"/>
<rect x="190.8" fill="#fff9f9"/>
<rect x="192.0" fill="#ffd4d4"/>
<rect x="193.2" fill="#ff0000"/>
<rect x="194.5" fill="#ff0000"/>
<rect x="195.7" fill="#ff0000"/>
<rect x="197.0" fill="#ff1f1f"/>
<rect x="198.2" fill="#ff4040"/>
<rect x="199.4" fill="#ff4949"/>
<rect x="200.7" fill="#ff6161"/>
<rect x="201.9" fill="#ff6767"/>
<rect x="203.2" fill="#ff7c7c"/>
<rect x="204.4" fill="#ff8f8f"/>
<rect x="205.6" fill="#ffb5b5"/>
<rect x="206.9" fill="#ffc8c8"/>
<rect x="208.1" fill="#ffd2d2"/>
<rect x="209.3" fill="#ffcdcd"/>
<rect x="210.6" fill="#ffaeae"/>
<rect x="211.8" fill="#ffdbdb"/>
<rect x="213.1" fill="#ffafaf"/>
<rect x="214.3" fill="#ff9696"/>
<rect x="215.5" fill="#ffc2c2"/>
<rect x="216.8" fill="#ffd2d2"/>
<rect x="218.0" fill="#c0c0ff"/>
<rect x="219.2" fill="#b6b6ff"/>
<rect x="220.5" fill="#a5a5ff"/>
<rect x="221.7" fill="#aaaaff"/>
<rect x="223.0" fill="#9c9cff"/>
<rect x="224.2" fill="#a2a2ff"/>
<rect x="225.4" fill="#8080ff"/>
<rect x="226.7" fill="#7171ff"/>
<rect x="227.9" fill="#fff9f9"/>
<rect x="229.1" fill="#fff1f1"/>
<rect x="230.4" fill="#ebebff"/>
<rect x="231.6" fill="#ffebeb"/>
<rect x="232.8" fill="#ffefef"/>
<rect x="234.1" fill="#ffe9e9"/>
<rect x="235.3" fill="#ffc0c0"/>
<rect x="236.6" fill="#ffb8b8"/>
<rect x="237.8" fill="#f9f9ff"/>
<rect x="239.0" fill="#ffe2e2"/>
<rect x="240.3" fill="#ffeaea"/>
<rect x="241.5" fill="#ffd8d8"/>
<rect x="242.8" fill="#ffcdcd"/>
<rect x="244.0" fill="#ffefef"/>
<rect x="245.2" fill="#ffe9e9"/>
<rect x="246.5" fill="#fff2f2"/>
<rect x="247.7" fill="#ffa7a7"/>
<rect x="248.9" fill="#ffa6a6"/>
<rect x="250.2" fill="#ffabab"/>
<rect x="251.4" fill="#ffa6a6"/>
<rect x="252.7" fill="#ff9595"/>
<rect x="253.9" fill="#ffcaca"/>
<rect x="255.1" fill="#ffe6e6"/>
<rect x="256.4" fill="#ffc6c6"/>
<rect x="257.6" fill="#ececff"/>
<rect x="258.8" fill="#dedeff"/>
<rect x="260.1" fill="#d6d6ff"/>
<rect x="261.3" fill="#cbcbff"/>
<rect x="262.6" fill="#ffe2e2"/>
<rect x="263.8" fill="#ffdada"/>
<rect x="265.0" fill="#ffe7e7"/>
<rect x="266.3" fill="#e4e4ff"/>
<rect x="267.5" fill="#ffc1c1"/>
<rect x="268.7" fill="#ffcdcd"/>
<rect x="270.0" fill="#ffe9e9"/>
<rect x="271.2" fill="#ffecec"/>
<rect x="272.5" fill="#ffcece"/>
<rect x="273.7" fill="#fff8f8"/>
<rect x="274.9" fill="#fcfcff"/>
<rect x="276.2" fill="#fff7f7"/>
<rect x="277.4" fill="#ff9595"/>
<rect x="278.6" fill="#ff8989"/>
<rect x="279.9" fill="#ff7171"/>
<rect x="281.1" fill="#ff8989"/>
<rect x="282.4" fill="#ffbfbf"/>
<rect x="283.6" fill="#ffc5c5"/>
<rect x="284.8" fill="#ffcaca"/>
<rect x="286.1" fill="#ffcaca"/>
</g>
<g transform="translate(0,89.05)">
<rect x="69.5" fill="#ffb7b7"/>
<rect x="70.7" fill="#ffa0a0"/>
<rect x="72.0" fill="#ffc3c3"/>
<rect x="73.2" fill="#ffc0c0"/>
<rect x="74.5" fill="#f7f7ff"/>
<rect x="75.7" fill="#ebebff"/>
<rect x="76.9" fill="#f7f7ff"/>
<rect x="78.2" fill="#fffcfc"/>
<rect x="79.4" fill="#a9a9ff"/>
<rect x="80.6" fill="#cdcdff"/>
<rect x="81.9" fill="#9a9aff"/>
<rect x="83.1" fill="#aaaaff"/>
<rect x="84.3" fill="#cfcfff"/>
<rect x="85.6" fill="#cacaff"/>
<rect x="86.8" fill="#babaff"/>
<rect x="88.1" fill="#a3a3ff"/>
<rect x="89.3" fill="#ffd9d9"/>
<rect x="90.5" fill="#ffb1b1"/>
<rect x="91.8" fill="#ffa2a2"/>
<rect x="93.0" fill="#ffaeae"/>
<rect x="94.2" fill="#ffa1a1"/>
<rect x="95.5" fill="#ff9999"/>
<rect x="96.7" fill="#ff9b9b"/>
<rect x="98.0" fill="#ffc2c2"/>
<rect x="99.2" fill="#ffcdcd"/>
<rect x="100.4" fill="#ffb7b7"/>
<rect x="101.7" fill="#ffd0d0"/>
<rect x="102.9" fill="#ffbcbc"/>
<rect x="104.2" fill="#fff7f7"/>
<rect x="105.4" fill="#f5f5ff"/>
<rect x="106.6" fill="#f7f7ff"/>
<rect x="107.9" fill="#dcdcff"/>
<rect x="109.1" fill="#ffbfbf"/>
<rect x="110.3" fill="#ffb7b7"/>
<rect x="111.6" fill="#ffd3d3"/>
<rect x="112.8" fill="#ffd4d4"/>
<rect x="114.1" fill="#ff4d4d"/>
<rect x="115.3" fill="#ff1919"/>
<rect x="116.5" fill="#ff1818"/>
<rect x="117.8" fill="#ff3030"/>
<rect x="119.0" fill="#ff4343"/>
<rect x="120.2" fill="#ff6a6a"/>
<rect x="121.5" fill="#ff6767"/>
<rect x="122.7" fill="#ff5353"/>
<rect x="124.0" fill="#ff8b8b"/>
<rect x="125.2" fill="#ff9e9e"/>
<rect x="126.4" fill="#ff8a8a"/>
<rect x="127.7" fill="#ff9999"/>
<rect x="128.9" fill="#ff5050"/>
<rect x="130.1" fill="#ff5d5d"/>
<rect x="131.4" fill="#ff3b3b"/>
<rect x="132.6" fill="#ff4141"/>
<rect x="133.9" fill="#ff7777"/>
<rect x="135.1" fill="#ff8c8c"/>
<rect x="136.3" fill="#ff5151"/>
<rect x="137.6" fill="#ff7373"/>
<rect x="138.8" fill="#ff5050"/>
<rect x="140.0" fill="#ff4c4c"/>
<rect x="141.3" fill="#ff3737"/>
<rect x="142.5" fill="#ff0808"/>
<rect x="143.8" fill="#ff1f1f"/>
<rect x="145.0" fill="#ff0f0f"/>
<rect x="146.2" fill="#ff0000"/>
<rect x="147.5" fill="#ff3535"/>
<rect x="148.7" fill="#ffa2a2"/>
<rect x="149.9" fill="#ff7a7a"/>
<rect x="151.2" fill="#ff8d8d"/>
<rect x="152.4" fill="#ff9696"/>
<rect x="153.7" fill="#ff6d6d"/>
<rect x="154.9" fill="#ff4545"/>
<rect x="156.1" fill="#ff3131"/>
<rect x="157.4" fill="#ff6e6e"/>
<rect x="158.6" fill="#ff6565"/>
<rect x="159.8" fill="#ff6c6c"/>
<rect x="161.1" fill="#ff5b5b"/>
<rect x="162.3" fill="#ff8080"/>
<rect x="163.6" fill="#ff8585"/>
<rect x="164.8" fill="#ff8686"/>
<rect x="166.0" fill="#ff7676"/>
<rect x="167.3" fill="#ff5555"/>
<rect x="168.5" fill="#ff4141"/>
<rect x="169.7" fill="#ff3e3e"/>
<rect x="171.0" fill="#ff4646"/>
<rect x="172.2" fill="#ff7979"/>
<rect x="173.4" fill="#ff7878"/>
<rect x="174.7" fill="#ff6060"/>
<rect x="175.9" fill="#ff7474"/>
<rect x="177.2" fill="#ff6c6c"/>
<rect x="178.4" fill="#ff4848"/>
<rect x="179.6" fill="#ff7878"/>
<rect x="180.9" fill="#ff5151"/>
<rect x="182.1" fill="#ff7d7d"/>
<rect x="183.4" fill="#ff7a7a"/>
<rect x="184.6" fill="#ff4e4e"/>
<rect x="185.8" fill="#ff7373"/>
<rect x="187.1" fill="#ff6a6a"/>
<rect x="188.3" fill="#ffacac"/>
<rect x="189.5" fill="#ff8787"/>
<rect x="190.8" fill="#ff6f6f"/>
<rect x="192.0" fill="#ff9d9d"/>
<rect x="193.2" fill="#ff2121"/>
<rect x="194.5" fill="#ff0202"/>
<rect x="195.7" fill="#ff1111"/>
<rect x="197.0" fill="#ff3333"/>
<rect x="198.2" fill="#ff1515"/>
<rect x="199.4" fill="#ff2a2a"/>
<rect x="200.7" fill="#ff2828"/>
<rect x="201.9" fill="#ff4e4e"/>
<rect x="203.2" fill="#ff0f0f"/>
<rect x="204.4" fill="#ff0d0d"/>
<rect x="205.6" fill="#ff0000"/>
<rect x="206.9" fill="#ff0000"/>
<rect x="208.1" fill="#ff5f5f"/>
<rect x="209.3" fill="#ff5f5f"/>
<rect x="210.6" fill="#ff6868"/>
<rect x="211.8" fill="#ff5252"/>
<rect x="213.1" fill="#ff0000"/>
<rect x="214.3" fill="#ff2929"/>
<rect x="215.5" fill="#ff3939"/>
<rect x="216.8" fill="#ff1c1c"/>
<rect x="218.0" fill="#ffd5d5"/>
<rect x="219.2" fill="#fff1f1"/>
<rect x="220.5" fill="#fff8f8"/>
<rect x="221.7" fill="#ffdede"/>
<rect x="223.0" fill="#fffdfd"/>
<rect x="224.2" fill="#ffd8d8"/>
<rect x="225.4" fill="#ffebeb"/>
<rect x="226.7" fill="#ffeded"/>
<rect x="227.9" fill="#bdbdff"/>
<rect x="229.1" fill="#c1c1ff"/>
<rect x="230.4" fill="#b8b8ff"/>
<rect x="231.6" fill="#d6d6ff"/>
<rect x="232.8" fill="#9292ff"/>
<rect x="234.1" fill="#8484ff"/>
<rect x="235.3" fill="#8a8aff"/>
<rect x="236.6" fill="#9696ff"/>
<rect x="237.8" fill="#bebeff"/>
<rect x="239.0" fill="#d1d1ff"/>
<rect x="240.3" fill="#b7b7ff"/>
<rect x="241.5" fill="#e4e4ff"/>
<rect x="242.8" fill="#ffb9b9"/>
<rect x="244.0" fill="#ffc3c3"/>
<rect x="245.2" fill="#ffefef"/>
<rect x="246.5" fill="#ffeded"/>
<rect x="247.7" fill="#d4d4ff"/>
<rect x="248.9" fill="#dedeff"/>
<rect x="250.2" fill="#f1f1ff"/>
<rect x="251.4" fill="#ffffff"/>
<rect x="252.7" fill="#fff9f9"/>
<rect x="253.9" fill="#fffdfd"/>
<rect x="255.1" fill="#f2f2ff"/>
<rect x="256.4" fill="#dbdbff"/>
<rect x="257.6" fill="#ffffff"/>
<rect x="258.8" fill="#fffafa"/>
<rect x="260.1" fill="#f9f9ff"/>
<rect x="261.3" fill="#ffe5e5"/>
<rect x="262.6" fill="#fff8f8"/>
<rect x="263.8" fill="#fff6f6"/>
<rect x="265.0" fill="#ffecec"/>
<rect x="266.3" fill="#f1f1ff"/>
<rect x="267.5" fill="#ff4242"/>
<rect x="268.7" fill="#ff2c2c"/>
<rect x="270.0" fill="#ff0808"/>
<rect x="271.2" fill="#ff1e1e"/>
<rect x="272.5" fill="#fff7f7"/>
<rect x="273.7" fill="#f5f5ff"/>
<rect x="274.9" fill="#fffafa"/>
<rect x="276.2" fill="#ffdada"/>
<rect x="277.4" fill="#ff4a4a"/>
<rect x="278.6" fill="#ff4b4b"/>
<rect x="279.9" fill="#ff2727"/>
<rect x="281.1" fill="#ff0000"/>
<rect x="282.4" fill="#ff1f1f"/>
<rect x="283.6" fill="#ff1a1a"/>
<rect x="284.8" fill="#ff1e1e"/>
<rect x="286.1" fill="#ff4848"/>
</g>
<g transform="translate(0,95.06)">
<rect x="69.5" fill="#c3c3ff"/>
<rect x="70.7" fill="#adadff"/>
<rect x="72.0" fill="#adadff"/>
<rect x="73.2" fill="#d7d7ff"/>
<rect x="74.5" fill="#e2e2ff"/>
<rect x="75.7" fill="#b3b3ff"/>
<rect x="76.9" fill="#a1a1ff"/>
<rect x="78.2" fill="#ceceff"/>
<rect x="79.4" fill="#afafff"/>
<rect x="80.6" fill="#b3b3ff"/>
<rect x="81.9" fill="#b1b1ff"/>
<rect x="83.1" fill="#9e9eff"/>
<rect x="84.3" fill="#9494ff"/>
<rect x="85.6" fill="#9898ff"/>
<rect x="86.8" fill="#afafff"/>
<rect x="88.1" fill="#e5e5ff"/>
<rect x="89.3" fill="#ffebeb"/>
<rect x="90.5" fill="#f3f3ff"/>
<rect x="91.8" fill="#fff6f6"/>
<rect x="93.0" fill="#f1f1ff"/>
<rect x="94.2" fill="#ff6b6b"/>
<rect x="95.5" fill="#ff7777"/>
<rect x="96.7" fill="#ff4949"/>
<rect x="98.0" fill="#ff6565"/>
<rect x="99.2" fill="#ff8a8a"/>
<rect x="100.4" fill="#ff8c8c"/>
<rect x="101.7" fill="#ff7d7d"/>
<rect x="102.9" fill="#ff8989"/>
<rect x="104.2" fill="#ffd5d5"/>
<rect x="105.4" fill="#fff4f4"/>
<rect x="106.6" fill="#ffebeb"/>
<rect x="107.9" fill="#ffecec"/>
<rect x="109.1" fill="#dcdcff"/>
<rect x="110.3" fill="#dbdbff"/>
<rect x="111.6" fill="#d9d9ff"/>
<rect x="112.8" fill="#ccccff"/>
<rect x="114.1" fill="#efefff"/>
<rect x="115.3" fill="#e9e9ff"/>
<rect x="116.5" fill="#e0e0ff"/>
<rect x="117.8" fill="#b3b3ff"/>
<rect x="119.0" fill="#f2f2ff"/>
<rect x="120.2" fill="#dfdfff"/>
<rect x="121.5" fill="#d9d9ff"/>
<rect x="122.7" fill="#e9e9ff"/>
<rect x="124.0" fill="#cbcbff"/>
<rect x="125.2" fill="#babaff"/>
<rect x="126.4" fill="#b4b4ff"/>
<rect x="127.7" fill="#c6c6ff"/>
<rect x="128.9" fill="#cacaff"/>
<rect x="130.1" fill="#c6c6ff"/>
<rect x="131.4" fill="#acacff"/>
<rect x="132.6" fill="#b6b6ff"/>
<rect x="133.9" fill="#d2d2ff"/>
<rect x="135.1" fill="#d5d5ff"/>
<rect x="136.3" fill="#d6d6ff"/>
<rect x="137.6" fill="#f0f0ff"/>
<rect x="138.8" fill="#f1f1ff"/>
<rect x="140.0" fill="#efefff"/>
<rect x="141.3" fill="#b8b8ff"/>
<rect x="142.5" fill="#b6b6ff"/>
<rect x="143.8" fill="#d4d4ff"/>
<rect x="145.0" fill="#b6b6ff"/>
<rect x="146.2" fill="#e7e7ff"/>
<rect x="147.5" fill="#bebeff"/>
<rect x="148.7" fill="#e7e7ff"/>
<rect x="149.9" fill="#c4c4ff"/>
<rect x="151.2" fill="#e7e7ff"/>
<rect x="152.4" fill="#f7f7ff"/>
<rect x="153.7" fill="#d5d5ff"/>
<rect x="154.9" fill="#f3f3ff"/>
<rect x="156.1" fill="#c4c4ff"/>
<rect x="157.4" fill="#e8e8ff"/>
<rect x="158.6" fill="#d2d2ff"/>
<rect x="159.8" fill="#ccccff"/>
<rect x="161.1" fill="#b0b0ff"/>
<rect x="162.3" fill="#cacaff"/>
<rect x="163.6" fill="#bbbbff"/>
<rect x="164.8" fill="#d5d5ff"/>
<rect x="166.0" fill="#ebebff"/>
<rect x="167.3" fill="#e5e5ff"/>
<rect x="168.5" fill="#b2b2ff"/>
<rect x="169.7" fill="#e8e8ff"/>
<rect x="171.0" fill="#fefeff"/>
<rect x="172.2" fill="#f1f1ff"/>
<rect x="173.4" fill="#fffbfb"/>
<rect x="174.7" fill="#fff8f8"/>
<rect x="175.9" fill="#ffdddd"/>
<rect x="177.2" fill="#fff3f3"/>
<rect x="178.4" fill="#ffe3e3"/>
<rect x="179.6" fill="#ffeaea"/>
<rect x="180.9" fill="#fffcfc"/>
<rect x="182.1" fill="#ffdada"/>
<rect x="183.4" fill="#fff6f6"/>
<rect x="184.6" fill="#fff2f2"/>
<rect x="185.8" fill="#e0e0ff"/>
<rect x="187.1" fill="#efefff"/>
<rect x="188.3" fill="#d2d2ff"/>
<rect x="189.5" fill="#fbfbff"/>
<rect x="190.8" fill="#d5d5ff"/>
<rect x="192.0" fill="#c7c7ff"/>
<rect x="193.2" fill="#9898ff"/>
<rect x="194.5" fill="#9a9aff"/>
<rect x="195.7" fill="#b9b9ff"/>
<rect x="197.0" fill="#bbbbff"/>
<rect x="198.2" fill="#b4b4ff"/>
<rect x="199.4" fill="#ececff"/>
<rect x="200.7" fill="#fefeff"/>
<rect x="201.9" fill="#f2f2ff"/>
<rect x="203.2" fill="#f9f9ff"/>
<rect x="204.4" fill="#fdfdff"/>
<rect x="205.6" fill="#d0d0ff"/>
<rect x="206.9" fill="#eaeaff"/>
<rect x="208.1" fill="#c7c7ff"/>
<rect x="209.3" fill="#d2d2ff"/>
<rect x="210.6" fill="#c6c6ff"/>
<rect x="211.8" fill="#b0b0ff"/>
<rect x="213.1" fill="#d9d9ff"/>
<rect x="214.3" fill="#f7f7ff"/>
<rect x="215.5" fill="#d3d3ff"/>
<rect x="216.8" fill="#f1f1ff"/>
<rect x="218.0" fill="#fffdfd"/>
<rect x="219.2" fill="#fff1f1"/>
<rect x="220.5" fill="#ffd0d0"/>
<rect x="221.7" fill="#ffd4d4"/>
<rect x="223.0" fill="#9292ff"/>
<rect x="224.2" fill="#9696ff"/>
<rect x="225.4" fill="#9393ff"/>
<rect x="226.7" fill="#8b8bff"/>
<rect x="227.9" fill="#b2b2ff"/>
<rect x="229.1" fill="#a5a5ff"/>
<rect x="230.4" fill="#b4b4ff"/>
<rect x="231.6" fill="#b6b6ff"/>
<rect x="232.8" fill="#dbdbff"/>
<rect x="234.1" fill="#b1b1ff"/>
<rect x="235.3" fill="#d1d1ff"/>
<rect x="236.6" fill="#f1f1ff"/>
<rect x="237.8" fill="#c5c5ff"/>
<rect x="239.0" fill="#d7d7ff"/>
<rect x="240.3" fill="#d3d3ff"/>
<rect x="241.5" fill="#c5c5ff"/>
<rect x="242.8" fill="#fff3f3"/>
<rect x="244.0" fill="#ffd3d3"/>
<rect x="245.2" fill="#ececff"/>
<rect x="246.5" fill="#ffe7e7"/>
<rect x="247.7" fill="#fffefe"/>
<rect x="248.9" fill="#ffe3e3"/>
<rect x="250.2" fill="#f1f1ff"/>
<rect x="251.4" fill="#fff4f4"/>
<rect x="252.7" fill="#b6b6ff"/>
<rect x="253.9" fill="#b7b7ff"/>
<rect x="255.1" fill="#ececff"/>
<rect x="256.4" fill="#eaeaff"/>
<rect x="257.6" fill="#ffafaf"/>
<rect x="258.8" fill="#ffc5c5"/>
<rect x="260.1" fill="#ffcece"/>
<rect x="261.3" fill="#ffd0d0"/>
<rect x="262.6" fill="#ffe8e8"/>
<rect x="263.8" fill="#ffe3e3"/>
<rect x="265.0" fill="#f3f3ff"/>
<rect x="266.3" fill="#f5f5ff"/>
<rect x="267.5" fill="#fefeff"/>
<rect x="268.7" fill="#fffafa"/>
<rect x="270.0" fill="#ffdada"/>
<rect x="271.2" fill="#ffd3d3"/>
<rect x="272.5" fill="#ffdada"/>
<rect x="273.7" fill="#ffdfdf"/>
<rect x="274.9" fill="#fff7f7"/>
<rect x="276.2" fill="#f5f5ff"/>
<rect x="277.4" fill="#c3c3ff"/>
<rect x="278.6" fill="#cacaff"/>
<rect x="279.9" fill="#fdfdff"/>
<rect x="281.1" fill="#fff2f2"/>
<rect x="282.4" fill="#ffe1e1"/>
<rect x="283.6" fill="#fbfbff"/>
<rect x="284.8" fill="#e1e1ff"/>
<rect x="286.1" fill="#ffe6e6"/>
</g>
<g transform="translate(0,101.07)">
<rect x="69.5" fill="#bebeff"/>
<rect x="70.7" fill="#d4d4ff"/>
<rect x="72.0" fill="#9292ff"/>
<rect x="73.2" fill="#9393ff"/>
<rect x="74.5" fill="#ffcece"/>
<rect x="75.7" fill="#ffbcbc"/>
<rect x="76.9" fill="#ffa6a6"/>
<rect x="78.2" fill="#ffbbbb"/>
<rect x="79.4" fill="#d2d2ff"/>
<rect x="80.6" fill="#a9a9ff"/>
<rect x="81.9" fill="#d8d8ff"/>
<rect x="83.1" fill="#fcfcff"/>
<rect x="84.3" fill="#ff6f6f"/>
<rect x="85.6" fill="#ff7e7e"/>
<rect x="86.8" fill="#ff9f9f"/>
<rect x="88.1" fill="#ffb7b7"/>
<rect x="89.3" fill="#fff1f1"/>
<rect x="90.5" fill="#ffd5d5"/>
<rect x="91.8" fill="#ffc7c7"/>
<rect x="93.0" fill="#fefeff"/>
<rect x="94.2" fill="#d8d8ff"/>
<rect x="95.5" fill="#d5d5ff"/>
<rect x="96.7" fill="#cdcdff"/>
<rect x="98.0" fill="#e7e7ff"/>
<rect x="99.2" fill="#ffa4a4"/>
<rect x="100.4" fill="#ffaaaa"/>
<rect x="101.7" fill="#ffafaf"/>
<rect x="102.9" fill="#ffb2b2"/>
<rect x="104.2" fill="#ffe5e5"/>
<rect x="105.4" fill="#fff0f0"/>
<rect x="106.6" fill="#f1f1ff"/>
<rect x="107.9" fill="#ffeeee"/>
<rect x="109.1" fill="#b9b9ff"/>
<rect x="110.3" fill="#d2d2ff"/>
<rect x="111.6" fill="#c8c8ff"/>
<rect x="112.8" fill="#d2d2ff"/>
<rect x="114.1" fill="#afafff"/>
<rect x="115.3" fill="#a7a7ff"/>
<rect x="116.5" fill="#ccccff"/>
<rect x="117.8" fill="#a0a0ff"/>
<rect x="119.0" fill="#d6d6ff"/>
<rect x="120.2" fill="#ffecec"/>
<rect x="121.5" fill="#f8f8ff"/>
<rect x="122.7" fill="#eaeaff"/>
<rect x="124.0" fill="#c1c1ff"/>
<rect x="125.2" fill="#d1d1ff"/>
<rect x="126.4" fill="#f9f9ff"/>
<rect x="127.7" fill="#f4f4ff"/>
<rect x="128.9" fill="#2525ff"/>
<rect x="130.1" fill="#2727ff"/>
<rect x="131.4" fill="#2121ff"/>
<rect x="132.6" fill="#2323ff"/>
<rect x="133.9" fill="#ffd8d8"/>
<rect x="135.1" fill="#ffefef"/>
<rect x="136.3" fill="#ffe7e7"/>
<rect x="137.6" fill="#ffe4e4"/>
<rect x="138.8" fill="#dedeff"/>
<rect x="140.0" fill="#fff4f4"/>
<rect x="141.3" fill="#f9f9ff"/>
<rect x="142.5" fill="#e0e0ff"/>
<rect x="143.8" fill="#ffdada"/>
<rect x="145.0" fill="#ffb9b9"/>
<rect x="146.2" fill="#ffafaf"/>
<rect x="147.5" fill="#ffb8b8"/>
<rect x="148.7" fill="#efefff"/>
<rect x="149.9" fill="#d1d1ff"/>
<rect x="151.2" fill="#b4b4ff"/>
<rect x="152.4" fill="#b0b0ff"/>
<rect x="153.7" fill="#8888ff"/>
<rect x="154.9" fill="#8585ff"/>
<rect x="156.1" fill="#9393ff"/>
<rect x="157.4" fill="#7f7fff"/>
<rect x="158.6" fill="#7575ff"/>
<rect x="159.8" fill="#7a7aff"/>
<rect x="161.1" fill="#7878ff"/>
<rect x="162.3" fill="#a8a8ff"/>
<rect x="163.6" fill="#6b6bff"/>
<rect x="164.8" fill="#5050ff"/>
<rect x="166.0" fill="#5656ff"/>
<rect x="167.3" fill="#7d7dff"/>
<rect x="168.5" fill="#7777ff"/>
<rect x="169.7" fill="#7272ff"/>
<rect x="171.0" fill="#6363ff"/>
<rect x="172.2" fill="#4c4cff"/>
<rect x="173.4" fill="#fdfdff"/>
<rect x="174.7" fill="#dcdcff"/>
<rect x="175.9" fill="#fff8f8"/>
<rect x="177.2" fill="#dedeff"/>
<rect x="178.4" fill="#ffcccc"/>
<rect x="179.6" fill="#ffd8d8"/>
<rect x="180.9" fill="#ffc5c5"/>
<rect x="182.1" fill="#ffc4c4"/>
<rect x="183.4" fill="#ffeaea"/>
<rect x="184.6" fill="#ffd9d9"/>
<rect x="185.8" fill="#fff7f7"/>
<rect x="187.1" fill="#fff7f7"/>
<rect x="188.3" fill="#e4e4ff"/>
<rect x="189.5" fill="#e1e1ff"/>
<rect x="190.8" fill="#ffffff"/>
<rect x="192.0" fill="#ffd7d7"/>
<rect x="193.2" fill="#ff1e1e"/>
<rect x="194.5" fill="#ff0505"/>
<rect x="195.7" fill="#ff2c2c"/>
<rect x="197.0" fill="#ff1717"/>
<rect x="198.2" fill="#ffaaaa"/>
<rect x="199.4" fill="#ffa3a3"/>
<rect x="200.7" fill="#ffc5c5"/>
<rect x="201.9" fill="#ff9898"/>
<rect x="203.2" fill="#ff3636"/>
<rect x="204.4" fill="#ff2f2f"/>
<rect x="205.6" fill="#ff3a3a"/>
<rect x="206.9" fill="#ff1414"/>
<rect x="208.1" fill="#ff1515"/>
<rect x="209.3" fill="#ff1414"/>
<rect x="210.6" fill="#ff0808"/>
<rect x="211.8" fill="#ff2b2b"/>
<rect x="213.1" fill="#d8d8ff"/>
<rect x="214.3" fill="#fff6f6"/>
<rect x="215.5" fill="#f4f4ff"/>
<rect x="216.8" fill="#ffeaea"/>
<rect x="218.0" fill="#d2d2ff"/>
<rect x="219.2" fill="#c3c3ff"/>
<rect x="220.5" fill="#9191ff"/>
<rect x="221.7" fill="#b8b8ff"/>
<rect x="223.0" fill="#e5e5ff"/>
<rect x="224.2" fill="#c5c5ff"/>
<rect x="225.4" fill="#b4b4ff"/>
<rect x="226.7" fill="#c5c5ff"/>
<rect x="227.9" fill="#fff6f6"/>
<rect x="229.1" fill="#ffc0c0"/>
<rect x="230.4" fill="#ffb9b9"/>
<rect x="231.6" fill="#ffacac"/>
<rect x="232.8" fill="#ff9c9c"/>
<rect x="234.1" fill="#ff7d7d"/>
<rect x="235.3" fill="#ffb0b0"/>
<rect x="236.6" fill="#ff9797"/>
<rect x="237.8" fill="#f0f0ff"/>
<rect x="239.0" fill="#d0d0ff"/>
<rect x="240.3" fill="#cbcbff"/>
<rect x="241.5" fill="#cfcfff"/>
<rect x="242.8" fill="#d1d1ff"/>
<rect x="244.0" fill="#c7c7ff"/>
<rect x="245.2" fill="#cbcbff"/>
<rect x="246.5" fill="#d8d8ff"/>
<rect x="247.7" fill="#9393ff"/>
<rect x="248.9" fill="#a7a7ff"/>
<rect x="250.2" fill="#b3b3ff"/>
<rect x="251.4" fill="#cdcdff"/>
<rect x="252.7" fill="#ffecec"/>
<rect x="253.9" fill="#ffd9d9"/>
<rect x="255.1" fill="#ffc8c8"/>
<rect x="256.4" fill="#ffd0d0"/>
<rect x="257.6" fill="#e0e0ff"/>
<rect x="258.8" fill="#c5c5ff"/>
<rect x="260.1" fill="#ababff"/>
<rect x="261.3" fill="#dbdbff"/>
<rect x="262.6" fill="#ffbdbd"/>
<rect x="263.8" fill="#ffaaaa"/>
<rect x="265.0" fill="#ffaaaa"/>
<rect x="266.3" fill="#ffcbcb"/>
<rect x="267.5" fill="#d6d6ff"/>
<rect x="268.7" fill="#fff7f7"/>
<rect x="270.0" fill="#fff8f8"/>
<rect x="271.2" fill="#ffd9d9"/>
<rect x="272.5" fill="#9898ff"/>
<rect x="273.7" fill="#5b5bff"/>
<rect x="274.9" fill="#7070ff"/>
<rect x="276.2" fill="#4545ff"/>
<rect x="277.4" fill="#eaeaff"/>
<rect x="278.6" fill="#f1f1ff"/>
<rect x="279.9" fill="#ffe0e0"/>
<rect x="281.1" fill="#ffe9e9"/>
<rect x="282.4" fill="#ffe1e1"/>
<rect x="283.6" fill="#ffd7d7"/>
<rect x="284.8" fill="#ffd2d2"/>
<rect x="286.1" fill="#ffeaea"/>
</g>
<g transform="translate(0,107.08)">
<rect x="69.5" fill="#c6c6ff"/>
<rect x="70.7" fill="#ebebff"/>
<rect x="72.0" fill="#fffafa"/>
<rect x="73.2" fill="#ffffff"/>
<rect x="74.5" fill="#f0f0ff"/>
<rect x="75.7" fill="#ffe5e5"/>
<rect x="76.9" fill="#fff7f7"/>
<rect x="78.2" fill="#ffe0e0"/>
<rect x="79.4" fill="#c5c5ff"/>
<rect x="80.6" fill="#afafff"/>
<rect x="81.9" fill="#e3e3ff"/>
<rect x="83.1" fill="#c8c8ff"/>
<rect x="84.3" fill="#7a7aff"/>
<rect x="85.6" fill="#9191ff"/>
<rect x="86.8" fill="#c3c3ff"/>
<rect x="88.1" fill="#cdcdff"/>
<rect x="89.3" fill="#fff5f5"/>
<rect x="90.5" fill="#ffd2d2"/>
<rect x="91.8" fill="#ffd3d3"/>
<rect x="93.0" fill="#ffcfcf"/>
<rect x="94.2" fill="#ff8282"/>
<rect x="95.5" fill="#ff9d9d"/>
<rect x="96.7" fill="#ff7f7f"/>
<rect x="98.0" fill="#ff9595"/>
<rect x="99.2" fill="#ffa7a7"/>
<rect x="100.4" fill="#ffbaba"/>
<rect x="101.7" fill="#ffa5a5"/>
<rect x="102.9" fill="#ffbfbf"/>
<rect x="104.2" fill="#d3d3ff"/>
<rect x="105.4" fill="#d9d9ff"/>
<rect x="106.6" fill="#c6c6ff"/>
<rect x="107.9" fill="#afafff"/>
<rect x="109.1" fill="#f7f7ff"/>
<rect x="110.3" fill="#ffe6e6"/>
<rect x="111.6" fill="#f8f8ff"/>
<rect x="112.8" fill="#ffe4e4"/>
<rect x="114.1" fill="#f5f5ff"/>
<rect x="115.3" fill="#f8f8ff"/>
<rect x="116.5" fill="#dbdbff"/>
<rect x="117.8" fill="#fefeff"/>
<rect x="119.0" fill="#ffa5a5"/>
<rect x="120.2" fill="#ffb7b7"/>
<rect x="121.5" fill="#ffe5e5"/>
<rect x="122.7" fill="#ffd4d4"/>
<rect x="124.0" fill="#ffcccc"/>
<rect x="125.2" fill="#ff9595"/>
<rect x="126.4" fill="#ffaaaa"/>
<rect x="127.7" fill="#ffb1b1"/>
<rect x="128.9" fill="#ffa5a5"/>
<rect x="130.1" fill="#ff9999"/>
<rect x="131.4" fill="#ff9898"/>
<rect x="132.6" fill="#ff9f9f"/>
<rect x="133.9" fill="#ffc4c4"/>
<rect x="135.1" fill="#ffafaf"/>
<rect x="136.3" fill="#ffc6c6"/>
<rect x="137.6" fill="#ffcccc"/>
<rect x="138.8" fill="#ff8888"/>
<rect x="140.0" fill="#ffbfbf"/>
<rect x="141.3" fill="#ffcccc"/>
<rect x="142.5" fill="#ffc4c4"/>
<rect x="143.8" fill="#fff7f7"/>
<rect x="145.0" fill="#ffc2c2"/>
<rect x="146.2" fill="#ffe7e7"/>
<rect x="147.5" fill="#fffbfb"/>
<rect x="148.7" fill="#ddddff"/>
<rect x="149.9" fill="#f1f1ff"/>
<rect x="151.2" fill="#ffebeb"/>
<rect x="152.4" fill="#ffcece"/>
<rect x="153.7" fill="#ff9e9e"/>
<rect x="154.9" fill="#ffb1b1"/>
<rect x="156.1" fill="#ffe9e9"/>
<rect x="157.4" fill="#ffffff"/>
<rect x="158.6" fill="#c7c7ff"/>
<rect x="159.8" fill="#e7e7ff"/>
<rect x="161.1" fill="#c8c8ff"/>
<rect x="162.3" fill="#f3f3ff"/>
<rect x="163.6" fill="#ffbebe"/>
<rect x="164.8" fill="#ffc2c2"/>
<rect x="166.0" fill="#ffc1c1"/>
<rect x="167.3" fill="#ffecec"/>
<rect x="168.5" fill="#fff8f8"/>
<rect x="169.7" fill="#ffbfbf"/>
<rect x="171.0" fill="#ffdcdc"/>
<rect x="172.2" fill="#fff8f8"/>
<rect x="173.4" fill="#fff4f4"/>
<rect x="174.7" fill="#ffcfcf"/>
<rect x="175.9" fill="#ffe3e3"/>
<rect x="177.2" fill="#fff1f1"/>
<rect x="178.4" fill="#ffc4c4"/>
<rect x="179.6" fill="#ffb3b3"/>
<rect x="180.9" fill="#ff9797"/>
<rect x="182.1" fill="#ffaeae"/>
<rect x="183.4" fill="#ffb7b7"/>
<rect x="184.6" fill="#ff9f9f"/>
<rect x="185.8" fill="#ffa0a0"/>
<rect x="187.1" fill="#ffdede"/>
<rect x="188.3" fill="#eaeaff"/>
<rect x="189.5" fill="#ffe6e6"/>
<rect x="190.8" fill="#ffd6d6"/>
<rect x="192.0" fill="#f3f3ff"/>
<rect x="193.2" fill="#ff7070"/>
<rect x="194.5" fill="#ff7676"/>
<rect x="195.7" fill="#ff5959"/>
<rect x="197.0" fill="#ff8787"/>
<rect x="198.2" fill="#ff8484"/>
<rect x="199.4" fill="#ff5f5f"/>
<rect x="200.7" fill="#ff4343"/>
<rect x="201.9" fill="#ff7c7c"/>
<rect x="203.2" fill="#ffa6a6"/>
<rect x="204.4" fill="#ff9797"/>
<rect x="205.6" fill="#ff7f7f"/>
<rect x="206.9" fill="#ff9999"/>
<rect x="208.1" fill="#ff3b3b"/>
<rect x="209.3" fill="#ff6b6b"/>
<rect x="210.6" fill="#ff8888"/>
<rect x="211.8" fill="#ff9393"/>
<rect x="213.1" fill="#f2f2ff"/>
<rect x="214.3" fill="#dadaff"/>
<rect x="215.5" fill="#dbdbff"/>
<rect x="216.8" fill="#d6d6ff"/>
<rect x="218.0" fill="#ff5a5a"/>
<rect x="219.2" fill="#ff1717"/>
<rect x="220.5" fill="#ff2b2b"/>
<rect x="221.7" fill="#ff0101"/>
<rect x="223.0" fill="#ff4444"/>
<rect x="224.2" fill="#ff6e6e"/>
<rect x="225.4" fill="#ff4646"/>
<rect x="226.7" fill="#ff8080"/>
<rect x="227.9" fill="#ff4a4a"/>
<rect x="229.1" fill="#ff8080"/>
<rect x="230.4" fill="#ff8686"/>
<rect x="231.6" fill="#ff7070"/>
<rect x="232.8" fill="#ffd0d0"/>
<rect x="234.1" fill="#ffa2a2"/>
<rect x="235.3" fill="#ffc4c4"/>
<rect x="236.6" fill="#ff9898"/>
<rect x="237.8" fill="#ff8787"/>
<rect x="239.0" fill="#ff7373"/>
<rect x="240.3" fill="#ff8383"/>
<rect x="241.5" fill="#ff8484"/>
<rect x="242.8" fill="#ffe0e0"/>
<rect x="244.0" fill="#ffe2e2"/>
<rect x="245.2" fill="#ffe2e2"/>
<rect x="246.5" fill="#ffcccc"/>
<rect x="247.7" fill="#ffbaba"/>
<rect x="248.9" fill="#ffc7c7"/>
<rect x="250.2" fill="#ffa4a4"/>
<rect x="251.4" fill="#ffb4b4"/>
<rect x="252.7" fill="#ffb5b5"/>
<rect x="253.9" fill="#ffcbcb"/>
<rect x="255.1" fill="#ffd0d0"/>
<rect x="256.4" fill="#fff8f8"/>
<rect x="257.6" fill="#c7c7ff"/>
<rect x="258.8" fill="#c5c5ff"/>
<rect x="260.1" fill="#efefff"/>
<rect x="261.3" fill="#fff9f9"/>
<rect x="262.6" fill="#ffa9a9"/>
<rect x="263.8" fill="#ffc5c5"/>
<rect x="265.0" fill="#ffbbbb"/>
<rect x="266.3" fill="#ffd4d4"/>
<rect x="267.5" fill="#fff5f5"/>
<rect x="268.7" fill="#ffe8e8"/>
<rect x="270.0" fill="#ffcbcb"/>
<rect x="271.2" fill="#ffb5b5"/>
<rect x="272.5" fill="#ff7272"/>
<rect x="273.7" fill="#ff7272"/>
<rect x="274.9" fill="#ff8888"/>
<rect x="276.2" fill="#ff9393"/>
<rect x="277.4" fill="#ffcaca"/>
<rect x="278.6" fill="#ffd0d0"/>
<rect x="279.9" fill="#ffc2c2"/>
<rect x="281.1" fill="#ffc4c4"/>
<rect x="282.4" fill="#ffaeae"/>
<rect x="283.6" fill="#ffc5c5"/>
<rect x="284.8" fill="#ffcece"/>
<rect x="286.1" fill="#ffb5b5"/>
</g>
<g transform="translate(0,113.09)">
<rect x="69.5" fill="#ffc3c3"/>
<rect x="70.7" fill="#ffc9c9"/>
<rect x="72.0" fill="#ffc8c8"/>
<rect x="73.2" fill="#ffb4b4"/>
<rect x="74.5" fill="#ffbbbb"/>
<rect x="75.7" fill="#ffdbdb"/>
<rect x="76.9" fill="#ffe5e5"/>
<rect x="78.2" fill="#ffd2d2"/>
<rect x="79.4" fill="#dadaff"/>
<rect x="80.6" fill="#ebebff"/>
<rect x="81.9" fill="#ffe8e8"/>
<rect x="83.1" fill="#f3f3ff"/>
<rect x="84.3" fill="#c7c7ff"/>
<rect x="85.6" fill="#ddddff"/>
<rect x="86.8" fill="#f9f9ff"/>
<rect x="88.1" fill="#f3f3ff"/>
<rect x="89.3" fill="#ebebff"/>
<rect x="90.5" fill="#d3d3ff"/>
<rect x="91.8" fill="#cdcdff"/>
<rect x="93.0" fill="#dbdbff"/>
<rect x="94.2" fill="#cacaff"/>
<rect x="95.5" fill="#e5e5ff"/>
<rect x="96.7" fill="#b2b2ff"/>
<rect x="98.0" fill="#d8d8ff"/>
<rect x="99.2" fill="#ffe8e8"/>
<rect x="100.4" fill="#f9f9ff"/>
<rect x="101.7" fill="#d5d5ff"/>
<rect x="102.9" fill="#dfdfff"/>
<rect x="104.2" fill="#cacaff"/>
<rect x="105.4" fill="#e5e5ff"/>
<rect x="106.6" fill="#f8f8ff"/>
<rect x="107.9" fill="#cbcbff"/>
<rect x="109.1" fill="#dadaff"/>
<rect x="110.3" fill="#cfcfff"/>
<rect x="111.6" fill="#ffeded"/>
<rect x="112.8" fill="#ffebeb"/>
<rect x="114.1" fill="#8e8eff"/>
<rect x="115.3" fill="#a9a9ff"/>
<rect x="116.5" fill="#cbcbff"/>
<rect x="117.8" fill="#bebeff"/>
<rect x="119.0" fill="#c7c7ff"/>
<rect x="120.2" fill="#f2f2ff"/>
<rect x="121.5" fill="#f0f0ff"/>
<rect x="122.7" fill="#c5c5ff"/>
<rect x="124.0" fill="#ffefef"/>
<rect x="125.2" fill="#fff7f7"/>
<rect x="126.4" fill="#fff5f5"/>
<rect x="127.7" fill="#f8f8ff"/>
<rect x="128.9" fill="#bdbdff"/>
<rect x="130.1" fill="#c2c2ff"/>
<rect x="131.4" fill="#ccccff"/>
<rect x="132.6" fill="#ccccff"/>
<rect x="133.9" fill="#ffe3e3"/>
<rect x="135.1" fill="#e9e9ff"/>
<rect x="136.3" fill="#dcdcff"/>
<rect x="137.6" fill="#ffebeb"/>
<rect x="138.8" fill="#ffbfbf"/>
<rect x="140.0" fill="#ffbfbf"/>
<rect x="141.3" fill="#ffbfbf"/>
<rect x="142.5" fill="#ffdede"/>
<rect x="143.8" fill="#c3c3ff"/>
<rect x="145.0" fill="#b3b3ff"/>
<rect x="146.2" fill="#a7a7ff"/>
<rect x="147.5" fill="#e6e6ff"/>
<rect x="148.7" fill="#ffe2e2"/>
<rect x="149.9" fill="#ffd3d3"/>
<rect x="151.2" fill="#eaeaff"/>
<rect x="152.4" fill="#fff8f8"/>
<rect x="153.7" fill="#ffdede"/>
<rect x="154.9" fill="#ffd7d7"/>
<rect x="156.1" fill="#ffc5c5"/>
<rect x="157.4" fill="#fff2f2"/>
<rect x="158.6" fill="#b8b8ff"/>
<rect x="159.8" fill="#cacaff"/>
<rect x="161.1" fill="#ececff"/>
<rect x="162.3" fill="#dfdfff"/>
<rect x="163.6" fill="#f6f6ff"/>
<rect x="164.8" fill="#fffbfb"/>
<rect x="166.0" fill="#fff6f6"/>
<rect x="167.3" fill="#f2f2ff"/>
<rect x="168.5" fill="#ffd3d3"/>
<rect x="169.7" fill="#ffe4e4"/>
<rect x="171.0" fill="#fcfcff"/>
<rect x="172.2" fill="#fff6f6"/>
<rect x="173.4" fill="#ccccff"/>
<rect x="174.7" fill="#e8e8ff"/>
<rect x="175.9" fill="#f5f5ff"/>
<rect x="177.2" fill="#ffe5e5"/>
<rect x="178.4" fill="#ffb1b1"/>
<rect x="179.6" fill="#ffaeae"/>
<rect x="180.9" fill="#ff9a9a"/>
<rect x="182.1" fill="#ffcbcb"/>
<rect x="183.4" fill="#ffd9d9"/>
<rect x="184.6" fill="#ffebeb"/>
<rect x="185.8" fill="#fffdfd"/>
<rect x="187.1" fill="#ffe4e4"/>
<rect x="188.3" fill="#f8f8ff"/>
<rect x="189.5" fill="#ddddff"/>
<rect x="190.8" fill="#ffecec"/>
<rect x="192.0" fill="#ffcfcf"/>
<rect x="193.2" fill="#ffdfdf"/>
<rect x="194.5" fill="#fefeff"/>
<rect x="195.7" fill="#f4f4ff"/>
<rect x="197.0" fill="#ffd8d8"/>
<rect x="198.2" fill="#ebebff"/>
<rect x="199.4" fill="#b9b9ff"/>
<rect x="200.7" fill="#9e9eff"/>
<rect x="201.9" fill="#bdbdff"/>
<rect x="203.2" fill="#e8e8ff"/>
<rect x="204.4" fill="#ceceff"/>
<rect x="205.6" fill="#c1c1ff"/>
<rect x="206.9" fill="#cbcbff"/>
<rect x="208.1" fill="#fdfdff"/>
<rect x="209.3" fill="#fff7f7"/>
<rect x="210.6" fill="#ffdede"/>
<rect x="211.8" fill="#ffebeb"/>
<rect x="213.1" fill="#b0b0ff"/>
<rect x="214.3" fill="#aaaaff"/>
<rect x="215.5" fill="#dfdfff"/>
<rect x="216.8" fill="#c2c2ff"/>
<rect x="218.0" fill="#fdfdff"/>
<rect x="219.2" fill="#fafaff"/>
<rect x="220.5" fill="#efefff"/>
<rect x="221.7" fill="#f0f0ff"/>
<rect x="223.0" fill="#a3a3ff"/>
<rect x="224.2" fill="#a3a3ff"/>
<rect x="225.4" fill="#c8c8ff"/>
<rect x="226.7" fill="#e2e2ff"/>
<rect x="227.9" fill="#f0f0ff"/>
<rect x="229.1" fill="#dedeff"/>
<rect x="230.4" fill="#ffeded"/>
<rect x="231.6" fill="#e6e6ff"/>
<rect x="232.8" fill="#ffc4c4"/>
<rect x="234.1" fill="#ffacac"/>
<rect x="235.3" fill="#ffdddd"/>
<rect x="236.6" fill="#ffbbbb"/>
<rect x="237.8" fill="#ececff"/>
<rect x="239.0" fill="#d1d1ff"/>
<rect x="240.3" fill="#d9d9ff"/>
<rect x="241.5" fill="#e1e1ff"/>
<rect x="242.8" fill="#f9f9ff"/>
<rect x="244.0" fill="#f8f8ff"/>
<rect x="245.2" fill="#ffeaea"/>
<rect x="246.5" fill="#ffe8e8"/>
<rect x="247.7" fill="#bcbcff"/>
<rect x="248.9" fill="#afafff"/>
<rect x="250.2" fill="#d6d6ff"/>
<rect x="251.4" fill="#b4b4ff"/>
<rect x="252.7" fill="#bbbbff"/>
<rect x="253.9" fill="#c7c7ff"/>
<rect x="255.1" fill="#9d9dff"/>
<rect x="256.4" fill="#8f8fff"/>
<rect x="257.6" fill="#e2e2ff"/>
<rect x="258.8" fill="#ebebff"/>
<rect x="260.1" fill="#e2e2ff"/>
<rect x="261.3" fill="#ccccff"/>
<rect x="262.6" fill="#fffcfc"/>
<rect x="263.8" fill="#fffefe"/>
<rect x="265.0" fill="#fff1f1"/>
<rect x="266.3" fill="#ffe3e3"/>
<rect x="267.5" fill="#ffe9e9"/>
<rect x="268.7" fill="#ffe8e8"/>
<rect x="270.0" fill="#ffebeb"/>
<rect x="271.2" fill="#ffd8d8"/>
<rect x="272.5" fill="#d9d9ff"/>
<rect x="273.7" fill="#cfcfff"/>
<rect x="274.9" fill="#bbbbff"/>
<rect x="276.2" fill="#e2e2ff"/>
<rect x="277.4" fill="#ffd9d9"/>
<rect x="278.6" fill="#ffcccc"/>
<rect x="279.9" fill="#ffe0e0"/>
<rect x="281.1" fill="#eeeeff"/>
<rect x="282.4" fill="#d4d4ff"/>
<rect x="283.6" fill="#fffafa"/>
<rect x="284.8" fill="#ffdddd"/>
<rect x="286.1" fill="#ffeded"/>
</g>
<g transform="translate(0,119.11)">
<rect x="69.5" fill="#f3f3ff"/>
<rect x="70.7" fill="#fffafa"/>
<rect x="72.0" fill="#fdfdff"/>
<rect x="73.2" fill="#dadaff"/>
<rect x="74.5" fill="#fffefe"/>
<rect x="75.7" fill="#f3f3ff"/>
<rect x="76.9" fill="#f1f1ff"/>
<rect x="78.2" fill="#f6f6ff"/>
<rect x="79.4" fill="#a6a6ff"/>
<rect x="80.6" fill="#9f9fff"/>
<rect x="81.9" fill="#a0a0ff"/>
<rect x="83.1" fill="#c0c0ff"/>
<rect x="84.3" fill="#ffe8e8"/>
<rect x="85.6" fill="#ffe4e4"/>
<rect x="86.8" fill="#efefff"/>
<rect x="88.1" fill="#f4f4ff"/>
<rect x="89.3" fill="#d7d7ff"/>
<rect x="90.5" fill="#b6b6ff"/>
<rect x="91.8" fill="#a3a3ff"/>
<rect x="93.0" fill="#c5c5ff"/>
<rect x="94.2" fill="#ffecec"/>
<rect x="95.5" fill="#ffd1d1"/>
<rect x="96.7" fill="#ffecec"/>
<rect x="98.0" fill="#ffc0c0"/>
<rect x="99.2" fill="#ffd9d9"/>
<rect x="100.4" fill="#ffdbdb"/>
<rect x="101.7" fill="#ffd1d1"/>
<rect x="102.9" fill="#ffb2b2"/>
<rect x="104.2" fill="#ff7373"/>
<rect x="105.4" fill="#ff7171"/>
<rect x="106.6" fill="#ff7e7e"/>
<rect x="107.9" fill="#ffb5b5"/>
<rect x="109.1" fill="#ffc5c5"/>
<rect x="110.3" fill="#ffb0b0"/>
<rect x="111.6" fill="#ff8181"/>
<rect x="112.8" fill="#ff8181"/>
<rect x="114.1" fill="#ff7070"/>
<rect x="115.3" fill="#ff7676"/>
<rect x="116.5" fill="#ff4848"/>
<rect x="117.8" fill="#ff5858"/>
<rect x="119.0" fill="#ff7f7f"/>
<rect x="120.2" fill="#ff7575"/>
<rect x="121.5" fill="#ff7878"/>
<rect x="122.7" fill="#ff8585"/>
<rect x="124.0" fill="#ff4b4b"/>
<rect x="125.2" fill="#ff6767"/>
<rect x="126.4" fill="#ff8585"/>
<rect x="127.7" fill="#ff4f4f"/>
<rect x="128.9" fill="#ffeded"/>
<rect x="130.1" fill="#fff0f0"/>
<rect x="131.4" fill="#ffd6d6"/>
<rect x="132.6" fill="#ffadad"/>
<rect x="133.9" fill="#cacaff"/>
<rect x="135.1" fill="#b9b9ff"/>
<rect x="136.3" fill="#e3e3ff"/>
<rect x="137.6" fill="#cbcbff"/>
<rect x="138.8" fill="#ffdcdc"/>
<rect x="140.0" fill="#ffe1e1"/>
<rect x="141.3" fill="#fffdfd"/>
<rect x="142.5" fill="#ffc1c1"/>
<rect x="143.8" fill="#ff8c8c"/>
<rect x="145.0" fill="#ffc1c1"/>
<rect x="146.2" fill="#ffd1d1"/>
<rect x="147.5" fill="#ffd6d6"/>
<rect x="148.7" fill="#ffc5c5"/>
<rect x="149.9" fill="#ff9292"/>
<rect x="151.2" fill="#ffb9b9"/>
<rect x="152.4" fill="#ffc3c3"/>
<rect x="153.7" fill="#b3b3ff"/>
<rect x="154.9" fill="#c5c5ff"/>
<rect x="156.1" fill="#ececff"/>
<rect x="157.4" fill="#e1e1ff"/>
<rect x="158.6" fill="#f9f9ff"/>
<rect x="159.8" fill="#e6e6ff"/>
<rect x="161.1" fill="#d5d5ff"/>
<rect x="162.3" fill="#f1f1ff"/>
<rect x="163.6" fill="#ffeaea"/>
<rect x="164.8" fill="#fff8f8"/>
<rect x="166.0" fill="#fffbfb"/>
<rect x="167.3" fill="#f5f5ff"/>
<rect x="168.5" fill="#f5f5ff"/>
<rect x="169.7" fill="#d8d8ff"/>
<rect x="171.0" fill="#d5d5ff"/>
<rect x="172.2" fill="#fffcfc"/>
<rect x="173.4" fill="#ff8383"/>
<rect x="174.7" fill="#ff8b8b"/>
<rect x="175.9" fill="#ff9292"/>
<rect x="177.2" fill="#ff8585"/>
<rect x="178.4" fill="#ff5656"/>
<rect x="179.6" fill="#ff4646"/>
<rect x="180.9" fill="#ff2a2a"/>
<rect x="182.1" fill="#ff1818"/>
<rect x="183.4" fill="#ff0000"/>
<rect x="184.6" fill="#ff3636"/>
<rect x="185.8" fill="#ff2020"/>
<rect x="187.1" fill="#ff3b3b"/>
<rect x="188.3" fill="#ffe8e8"/>
<rect x="189.5" fill="#ffd5d5"/>
<rect x="190.8" fill="#ffb7b7"/>
<rect x="192.0" fill="#ffb8b8"/>
<rect x="193.2" fill="#ff7070"/>
<rect x="194.5" fill="#ffb4b4"/>
<rect x="195.7" fill="#ffbaba"/>
<rect x="197.0" fill="#ffafaf"/>
<rect x="198.2" fill="#fffcfc"/>
<rect x="199.4" fill="#f5f5ff"/>
<rect x="200.7" fill="#fff5f5"/>
<rect x="201.9" fill="#ffdcdc"/>
<rect x="203.2" fill="#ffc6c6"/>
<rect x="204.4" fill="#ffd6d6"/>
<rect x="205.6" fill="#ffc9c9"/>
<rect x="206.9" fill="#ffa0a0"/>
<rect x="208.1" fill="#ff9c9c"/>
<rect x="209.3" fill="#ff7878"/>
<rect x="210.6" fill="#ff8787"/>
<rect x="211.8" fill="#ff7777"/>
<rect x="213.1" fill="#ffb7b7"/>
<rect x="214.3" fill="#ffc7c7"/>
<rect x="215.5" fill="#ffd3d3"/>
<rect x="216.8" fill="#fff5f5"/>
<rect x="218.0" fill="#ffd7d7"/>
<rect x="219.2" fill="#ffaeae"/>
<rect x="220.5" fill="#ff8b8b"/>
<rect x="221.7" fill="#ffbfbf"/>
<rect x="223.0" fill="#fff8f8"/>
<rect x="224.2" fill="#fff1f1"/>
<rect x="225.4" fill="#ffefef"/>
<rect x="226.7" fill="#ffc3c3"/>
<rect x="227.9" fill="#f1f1ff"/>
<rect x="229.1" fill="#e9e9ff"/>
<rect x="230.4" fill="#f4f4ff"/>
<rect x="231.6" fill="#ffdfdf"/>
<rect x="232.8" fill="#ffd4d4"/>
<rect x="234.1" fill="#ffc7c7"/>
<rect x="235.3" fill="#fff2f2"/>
<rect x="236.6" fill="#ffe5e5"/>
<rect x="237.8" fill="#ff8989"/>
<rect x="239.0" fill="#ffafaf"/>
<rect x="240.3" fill="#ffb4b4"/>
<rect x="241.5" fill="#ff9e9e"/>
<rect x="242.8" fill="#fff7f7"/>
<rect x="244.0" fill="#fff5f5"/>
<rect x="245.2" fill="#fff2f2"/>
<rect x="246.5" fill="#ffebeb"/>
<rect x="247.7" fill="#ff2929"/>
<rect x="248.9" fill="#ff3232"/>
<rect x="250.2" fill="#ff3333"/>
<rect x="251.4" fill="#ff2929"/>
<rect x="252.7" fill="#ffa0a0"/>
<rect x="253.9" fill="#ff8383"/>
<rect x="255.1" fill="#ff9d9d"/>
<rect x="256.4" fill="#ffa5a5"/>
<rect x="257.6" fill="#ffb7b7"/>
<rect x="258.8" fill="#ff9f9f"/>
<rect x="260.1" fill="#ffcfcf"/>
<rect x="261.3" fill="#ffbebe"/>
<rect x="262.6" fill="#ffafaf"/>
<rect x="263.8" fill="#ff9595"/>
<rect x="265.0" fill="#ffc2c2"/>
<rect x="266.3" fill="#ffb1b1"/>
<rect x="267.5" fill="#ffd1d1"/>
<rect x="268.7" fill="#ffc1c1"/>
<rect x="270.0" fill="#ffa8a8"/>
<rect x="271.2" fill="#ffa6a6"/>
<rect x="272.5" fill="#e9e9ff"/>
<rect x="273.7" fill="#dcdcff"/>
<rect x="274.9" fill="#aeaeff"/>
<rect x="276.2" fill="#c6c6ff"/>
<rect x="277.4" fill="#ffffff"/>
<rect x="278.6" fill="#ffebeb"/>
<rect x="279.9" fill="#ededff"/>
<rect x="281.1" fill="#fefeff"/>
<rect x="282.4" fill="#acacff"/>
<rect x="283.6" fill="#d3d3ff"/>
<rect x="284.8" fill="#ececff"/>
<rect x="286.1" fill="#d8d8ff"/>
</g>
<g transform="translate(0,125.12)">
<rect x="69.5" fill="#b3b3ff"/>
<rect x="70.7" fill="#b7b7ff"/>
<rect x="72.0" fill="#9c9cff"/>
<rect x="73.2" fill="#7e7eff"/>
<rect x="74.5" fill="#fffafa"/>
<rect x="75.7" fill="#f5f5ff"/>
<rect x="76.9" fill="#dfdfff"/>
<rect x="78.2" fill="#ececff"/>
<rect x="79.4" fill="#e4e4ff"/>
<rect x="80.6" fill="#ffffff"/>
<rect x="81.9" fill="#ebebff"/>
<rect x="83.1" fill="#fffbfb"/>
<rect x="84.3" fill="#fbfbff"/>
<rect x="85.6" fill="#fcfcff"/>
<rect x="86.8" fill="#d6d6ff"/>
<rect x="88.1" fill="#d7d7ff"/>
<rect x="89.3" fill="#ffc5c5"/>
<rect x="90.5" fill="#ffefef"/>
<rect x="91.8" fill="#ffd2d2"/>
<rect x="93.0" fill="#ffd1d1"/>
<rect x="94.2" fill="#ff7b7b"/>
<rect x="95.5" fill="#ff6969"/>
<rect x="96.7" fill="#ffa8a8"/>
<rect x="98.0" fill="#ffb9b9"/>
<rect x="99.2" fill="#ffb3b3"/>
<rect x="100.4" fill="#ffd1d1"/>
<rect x="101.7" fill="#ffebeb"/>
<rect x="102.9" fill="#ffbbbb"/>
<rect x="104.2" fill="#ffecec"/>
<rect x="105.4" fill="#f8f8ff"/>
<rect x="106.6" fill="#fffefe"/>
<rect x="107.9" fill="#fafaff"/>
<rect x="109.1" fill="#ffa9a9"/>
<rect x="110.3" fill="#ffa2a2"/>
<rect x="111.6" fill="#ffbdbd"/>
<rect x="112.8" fill="#ffa6a6"/>
<rect x="114.1" fill="#ffadad"/>
<rect x="115.3" fill="#ffb9b9"/>
<rect x="116.5" fill="#ffafaf"/>
<rect x="117.8" fill="#ffd3d3"/>
<rect x="119.0" fill="#ffc0c0"/>
<rect x="120.2" fill="#ffd9d9"/>
<rect x="121.5" fill="#ff9494"/>
<rect x="122.7" fill="#ffbbbb"/>
<rect x="124.0" fill="#ff7b7b"/>
<rect x="125.2" fill="#ff6363"/>
<rect x="126.4" fill="#ff5151"/>
<rect x="127.7" fill="#ff5353"/>
<rect x="128.9" fill="#ffcece"/>
<rect x="130.1" fill="#ffb6b6"/>
<rect x="131.4" fill="#ffcaca"/>
<rect x="132.6" fill="#ffb2b2"/>
<rect x="133.9" fill="#ffbaba"/>
<rect x="135.1" fill="#ff9b9b"/>
<rect x="136.3" fill="#ffc0c0"/>
<rect x="137.6" fill="#ffbaba"/>
<rect x="138.8" fill="#ffe0e0"/>
<rect x="140.0" fill="#fff2f2"/>
<rect x="141.3" fill="#ffe4e4"/>
<rect x="142.5" fill="#ffbdbd"/>
<rect x="143.8" fill="#ffc0c0"/>
<rect x="145.0" fill="#ffc9c9"/>
<rect x="146.2" fill="#ff8d8d"/>
<rect x="147.5" fill="#ff9d9d"/>
<rect x="148.7" fill="#ff6c6c"/>
<rect x="149.9" fill="#ff4747"/>
<rect x="151.2" fill="#ff4242"/>
<rect x="152.4" fill="#ff7070"/>
<rect x="153.7" fill="#fffcfc"/>
<rect x="154.9" fill="#e6e6ff"/>
<rect x="156.1" fill="#fff4f4"/>
<rect x="157.4" fill="#fff5f5"/>
<rect x="158.6" fill="#ff8686"/>
<rect x="159.8" fill="#ffbaba"/>
<rect x="161.1" fill="#ff8a8a"/>
<rect x="162.3" fill="#ffaeae"/>
<rect x="163.6" fill="#ff8c8c"/>
<rect x="164.8" fill="#ff9d9d"/>
<rect x="166.0" fill="#ff8181"/>
<rect x="167.3" fill="#ffb4b4"/>
<rect x="168.5" fill="#fffdfd"/>
<rect x="169.7" fill="#ffe8e8"/>
<rect x="171.0" fill="#ffb8b8"/>
<rect x="172.2" fill="#ffc9c9"/>
<rect x="173.4" fill="#ffcdcd"/>
<rect x="174.7" fill="#ffebeb"/>
<rect x="175.9" fill="#ffd9d9"/>
<rect x="177.2" fill="#ffdbdb"/>
<rect x="178.4" fill="#ffb6b6"/>
<rect x="179.6" fill="#ffb1b1"/>
<rect x="180.9" fill="#ffc5c5"/>
<rect x="182.1" fill="#ffe8e8"/>
<rect x="183.4" fill="#fff8f8"/>
<rect x="184.6" fill="#ffbcbc"/>
<rect x="185.8" fill="#ffbfbf"/>
<rect x="187.1" fill="#ffdfdf"/>
<rect x="188.3" fill="#ffecec"/>
<rect x="189.5" fill="#f0f0ff"/>
<rect x="190.8" fill="#f5f5ff"/>
<rect x="192.0" fill="#ffe5e5"/>
<rect x="193.2" fill="#ff7b7b"/>
<rect x="194.5" fill="#ff9090"/>
<rect x="195.7" fill="#ff9d9d"/>
<rect x="197.0" fill="#ff9b9b"/>
<rect x="198.2" fill="#ff4646"/>
<rect x="199.4" fill="#ff4242"/>
<rect x="200.7" fill="#ff4343"/>
<rect x="201.9" fill="#ff5959"/>
<rect x="203.2" fill="#ff3d3d"/>
<rect x="204.4" fill="#ff3434"/>
<rect x="205.6" fill="#ff1717"/>
<rect x="206.9" fill="#ff2e2e"/>
<rect x="208.1" fill="#ff2222"/>
<rect x="209.3" fill="#ff3232"/>
<rect x="210.6" fill="#ff1616"/>
<rect x="211.8" fill="#ff3838"/>
<rect x="213.1" fill="#ff2e2e"/>
<rect x="214.3" fill="#ff2d2d"/>
<rect x="215.5" fill="#ff2b2b"/>
<rect x="216.8" fill="#ff2424"/>
<rect x="218.0" fill="#ff6363"/>
<rect x="219.2" fill="#ff7474"/>
<rect x="220.5" fill="#ff5252"/>
<rect x="221.7" fill="#ff3838"/>
<rect x="223.0" fill="#ff8a8a"/>
<rect x="224.2" fill="#ff8d8d"/>
<rect x="225.4" fill="#ff8787"/>
<rect x="226.7" fill="#ffa5a5"/>
<rect x="227.9" fill="#fff8f8"/>
<rect x="229.1" fill="#ffffff"/>
<rect x="230.4" fill="#fefeff"/>
<rect x="231.6" fill="#f6f6ff"/>
<rect x="232.8" fill="#ffd2d2"/>
<rect x="234.1" fill="#ffe9e9"/>
<rect x="235.3" fill="#fff1f1"/>
<rect x="236.6" fill="#fff8f8"/>
<rect x="237.8" fill="#ffadad"/>
<rect x="239.0" fill="#ffbcbc"/>
<rect x="240.3" fill="#ff9898"/>
<rect x="241.5" fill="#ff7d7d"/>
<rect x="242.8" fill="#ff7d7d"/>
<rect x="244.0" fill="#ffa0a0"/>
<rect x="245.2" fill="#ff7e7e"/>
<rect x="246.5" fill="#ff9f9f"/>
<rect x="247.7" fill="#ffadad"/>
<rect x="248.9" fill="#ffa0a0"/>
<rect x="250.2" fill="#ff9494"/>
<rect x="251.4" fill="#ffa4a4"/>
<rect x="252.7" fill="#ff4f4f"/>
<rect x="253.9" fill="#ff3f3f"/>
<rect x="255.1" fill="#ff6666"/>
<rect x="256.4" fill="#ff7c7c"/>
<rect x="257.6" fill="#ffb6b6"/>
<rect x="258.8" fill="#ff9b9b"/>
<rect x="260.1" fill="#ff9292"/>
<rect x="261.3" fill="#ffb6b6"/>
<rect x="262.6" fill="#ffb5b5"/>
<rect x="263.8" fill="#ff8a8a"/>
<rect x="265.0" fill="#ff7272"/>
<rect x="266.3" fill="#ff8585"/>
<rect x="267.5" fill="#ffadad"/>
<rect x="268.7" fill="#ffa5a5"/>
<rect x="270.0" fill="#ffd4d4"/>
<rect x="271.2" fill="#fff6f6"/>
<rect x="272.5" fill="#ffabab"/>
<rect x="273.7" fill="#ffb0b0"/>
<rect x="274.9" fill="#ff9898"/>
<rect x="276.2" fill="#ffafaf"/>
<rect x="277.4" fill="#ffdcdc"/>
<rect x="278.6" fill="#ffbdbd"/>
<rect x="279.9" fill="#ffe9e9"/>
<rect x="281.1" fill="#ffe3e3"/>
<rect x="282.4" fill="#ffc8c8"/>
<rect x="283.6" fill="#ffb1b1"/>
<rect x="284.8" fill="#ff9696"/>
<rect x="286.1" fill="#ff7676"/>
</g>
<g transform="translate(0,131.13)">
<rect x="69.5" fill="#ff8f8f"/>
<rect x="70.7" fill="#ffb7b7"/>
<rect x="72.0" fill="#ffb1b1"/>
<rect x="73.2" fill="#ffa6a6"/>
<rect x="74.5" fill="#fff5f5"/>
<rect x="75.7" fill="#ffeaea"/>
<rect x="76.9" fill="#ffcfcf"/>
<rect x="78.2" fill="#ffc5c5"/>
<rect x="79.4" fill="#ffcfcf"/>
<rect x="80.6" fill="#ffecec"/>
<rect x="81.9" fill="#ffb7b7"/>
<rect x="83.1" fill="#ffe1e1"/>
<rect x="84.3" fill="#ffe0e0"/>
<rect x="85.6" fill="#eeeeff"/>
<rect x="86.8" fill="#fefeff"/>
<rect x="88.1" fill="#e0e0ff"/>
<rect x="89.3" fill="#a5a5ff"/>
<rect x="90.5" fill="#b0b0ff"/>
<rect x="91.8" fill="#dadaff"/>
<rect x="93.0" fill="#e6e6ff"/>
<rect x="94.2" fill="#9e9eff"/>
<rect x="95.5" fill="#8383ff"/>
<rect x="96.7" fill="#8989ff"/>
<rect x="98.0" fill="#7d7dff"/>
<rect x="99.2" fill="#aaaaff"/>
<rect x="100.4" fill="#bfbfff"/>
<rect x="101.7" fill="#c8c8ff"/>
<rect x="102.9" fill="#f0f0ff"/>
<rect x="104.2" fill="#ffe5e5"/>
<rect x="105.4" fill="#ffd7d7"/>
<rect x="106.6" fill="#ffcfcf"/>
<rect x="107.9" fill="#ffeded"/>
<rect x="109.1" fill="#ffbbbb"/>
<rect x="110.3" fill="#ffcccc"/>
<rect x="111.6" fill="#ff9595"/>
<rect x="112.8" fill="#ffa9a9"/>
<rect x="114.1" fill="#fff7f7"/>
<rect x="115.3" fill="#ffe4e4"/>
<rect x="116.5" fill="#ffd7d7"/>
<rect x="117.8" fill="#ffb4b4"/>
<rect x="119.0" fill="#ff8484"/>
<rect x="120.2" fill="#ffadad"/>
<rect x="121.5" fill="#ff8686"/>
<rect x="122.7" fill="#ffbfbf"/>
<rect x="124.0" fill="#ffcdcd"/>
<rect x="125.2" fill="#fff5f5"/>
<rect x="126.4" fill="#ffc7c7"/>
<rect x="127.7" fill="#ffe6e6"/>
<rect x="128.9" fill="#ff9494"/>
<rect x="130.1" fill="#ff8383"/>
<rect x="131.4" fill="#ff7f7f"/>
<rect x="132.6" fill="#ffb3b3"/>
<rect x="133.9" fill="#ffe0e0"/>
<rect x="135.1" fill="#fff8f8"/>
<rect x="136.3" fill="#ffd1d1"/>
<rect x="137.6" fill="#ffa9a9"/>
<rect x="138.8" fill="#ffbdbd"/>
<rect x="140.0" fill="#ffbcbc"/>
<rect x="141.3" fill="#ffbaba"/>
<rect x="142.5" fill="#ffe4e4"/>
<rect x="143.8" fill="#ffb6b6"/>
<rect x="145.0" fill="#ffb8b8"/>
<rect x="146.2" fill="#ff9898"/>
<rect x="147.5" fill="#ffa5a5"/>
<rect x="148.7" fill="#ffdddd"/>
<rect x="149.9" fill="#ffd2d2"/>
<rect x="151.2" fill="#ffeaea"/>
<rect x="152.4" fill="#fefeff"/>
<rect x="153.7" fill="#d5d5ff"/>
<rect x="154.9" fill="#c5c5ff"/>
<rect x="156.1" fill="#f3f3ff"/>
<rect x="157.4" fill="#f6f6ff"/>
<rect x="158.6" fill="#ffcccc"/>
<rect x="159.8" fill="#ffc9c9"/>
<rect x="161.1" fill="#fff2f2"/>
<rect x="162.3" fill="#ffc6c6"/>
<rect x="163.6" fill="#ffe0e0"/>
<rect x="164.8" fill="#e5e5ff"/>
<rect x="166.0" fill="#ededff"/>
<rect x="167.3" fill="#fff0f0"/>
<rect x="168.5" fill="#ffa3a3"/>
<rect x="169.7" fill="#ff8686"/>
<rect x="171.0" fill="#ff8686"/>
<rect x="172.2" fill="#ff8989"/>
<rect x="173.4" fill="#ffa4a4"/>
<rect x="174.7" fill="#ffa6a6"/>
<rect x="175.9" fill="#ffb7b7"/>
<rect x="177.2" fill="#ffeaea"/>
<rect x="178.4" fill="#ffb2b2"/>
<rect x="179.6" fill="#ff9b9b"/>
<rect x="180.9" fill="#ff9d9d"/>
<rect x="182.1" fill="#ff9a9a"/>
<rect x="183.4" fill="#ffd9d9"/>
<rect x="184.6" fill="#ffb9b9"/>
<rect x="185.8" fill="#ffdbdb"/>
<rect x="187.1" fill="#ffcaca"/>
<rect x="188.3" fill="#fdfdff"/>
<rect x="189.5" fill="#e1e1ff"/>
<rect x="190.8" fill="#cacaff"/>
<rect x="192.0" fill="#c9c9ff"/>
<rect x="193.2" fill="#fffbfb"/>
<rect x="194.5" fill="#ffe6e6"/>
<rect x="195.7" fill="#fdfdff"/>
<rect x="197.0" fill="#f4f4ff"/>
<rect x="198.2" fill="#ffd3d3"/>
<rect x="199.4" fill="#ffabab"/>
<rect x="200.7" fill="#ffc5c5"/>
<rect x="201.9" fill="#ffcece"/>
<rect x="203.2" fill="#ffc7c7"/>
<rect x="204.4" fill="#ffeeee"/>
<rect x="205.6" fill="#ffdbdb"/>
<rect x="206.9" fill="#ffc7c7"/>
<rect x="208.1" fill="#ff3d3d"/>
<rect x="209.3" fill="#ff4848"/>
<rect x="210.6" fill="#ff5555"/>
<rect x="211.8" fill="#ff6666"/>
<rect x="213.1" fill="#ffdddd"/>
<rect x="214.3" fill="#ffeeee"/>
<rect x="215.5" fill="#fff9f9"/>
<rect x="216.8" fill="#ffe9e9"/>
<rect x="218.0" fill="#ffcccc"/>
<rect x="219.2" fill="#fff2f2"/>
<rect x="220.5" fill="#ffd9d9"/>
<rect x="221.7" fill="#ffb7b7"/>
<rect x="223.0" fill="#fffefe"/>
<rect x="224.2" fill="#dfdfff"/>
<rect x="225.4" fill="#d0d0ff"/>
<rect x="226.7" fill="#fff3f3"/>
<rect x="227.9" fill="#8989ff"/>
<rect x="229.1" fill="#a4a4ff"/>
<rect x="230.4" fill="#8282ff"/>
<rect x="231.6" fill="#9595ff"/>
<rect x="232.8" fill="#ececff"/>
<rect x="234.1" fill="#c8c8ff"/>
<rect x="235.3" fill="#bdbdff"/>
<rect x="236.6" fill="#d1d1ff"/>
<rect x="237.8" fill="#fff9f9"/>
<rect x="239.0" fill="#fff7f7"/>
<rect x="240.3" fill="#fafaff"/>
<rect x="241.5" fill="#d7d7ff"/>
<rect x="242.8" fill="#ffdbdb"/>
<rect x="244.0" fill="#ffe8e8"/>
<rect x="245.2" fill="#ffd2d2"/>
<rect x="246.5" fill="#ffd6d6"/>
<rect x="247.7" fill="#ffe6e6"/>
<rect x="248.9" fill="#ffb2b2"/>
<rect x="250.2" fill="#ffd2d2"/>
<rect x="251.4" fill="#ffabab"/>
<rect x="252.7" fill="#fff0f0"/>
<rect x="253.9" fill="#fff5f5"/>
<rect x="255.1" fill="#f0f0ff"/>
<rect x="256.4" fill="#dedeff"/>
<rect x="257.6" fill="#d3d3ff"/>
<rect x="258.8" fill="#ceceff"/>
<rect x="260.1" fill="#d7d7ff"/>
<rect x="261.3" fill="#babaff"/>
<rect x="262.6" fill="#c7c7ff"/>
<rect x="263.8" fill="#dadaff"/>
<rect x="265.0" fill="#eaeaff"/>
<rect x="266.3" fill="#eaeaff"/>
<rect x="267.5" fill="#fffbfb"/>
<rect x="268.7" fill="#ffeeee"/>
<rect x="270.0" fill="#ffefef"/>
<rect x="271.2" fill="#fffafa"/>
<rect x="272.5" fill="#fff2f2"/>
<rect x="273.7" fill="#f5f5ff"/>
<rect x="274.9" fill="#d7d7ff"/>
<rect x="276.2" fill="#d0d0ff"/>
<rect x="277.4" fill="#e3e3ff"/>
<rect x="278.6" fill="#f9f9ff"/>
<rect x="279.9" fill="#fefeff"/>
<rect x="281.1" fill="#d2d2ff"/>
<rect x="282.4" fill="#ffe3e3"/>
<rect x="283.6" fill="#ffdbdb"/>
<rect x="284.8" fill="#ffebeb"/>
<rect x="286.1" fill="#f8f8ff"/>
</g>
<g transform="translate(0,137.14)">
<rect x="69.5" fill="#8383ff"/>
<rect x="70.7" fill="#bdbdff"/>
<rect x="72.0" fill="#d8d8ff"/>
<rect x="73.2" fill="#d7d7ff"/>
<rect x="74.5" fill="#e4e4ff"/>
<rect x="75.7" fill="#ececff"/>
<rect x="76.9" fill="#ffffff"/>
<rect x="78.2" fill="#e9e9ff"/>
<rect x="79.4" fill="#ebebff"/>
<rect x="80.6" fill="#ffe1e1"/>
<rect x="81.9" fill="#ffeeee"/>
<rect x="83.1" fill="#ffe2e2"/>
<rect x="84.3" fill="#ffbaba"/>
<rect x="85.6" fill="#ffeaea"/>
<rect x="86.8" fill="#ffdfdf"/>
<rect x="88.1" fill="#ffffff"/>
<rect x="89.3" fill="#fff9f9"/>
<rect x="90.5" fill="#ffbdbd"/>
<rect x="91.8" fill="#ffb9b9"/>
<rect x="93.0" fill="#ffc1c1"/>
<rect x="94.2" fill="#b9b9ff"/>
<rect x="95.5" fill="#d5d5ff"/>
<rect x="96.7" fill="#dcdcff"/>
<rect x="98.0" fill="#e1e1ff"/>
<rect x="99.2" fill="#ffe8e8"/>
<rect x="100.4" fill="#ffd2d2"/>
<rect x="101.7" fill="#ffefef"/>
<rect x="102.9" fill="#ffefef"/>
<rect x="104.2" fill="#ffc7c7"/>
<rect x="105.4" fill="#ffc5c5"/>
<rect x="106.6" fill="#ffbdbd"/>
<rect x="107.9" fill="#ffe2e2"/>
<rect x="109.1" fill="#ffcfcf"/>
<rect x="110.3" fill="#ffd6d6"/>
<rect x="111.6" fill="#ffdfdf"/>
<rect x="112.8" fill="#ffbaba"/>
<rect x="114.1" fill="#ffbdbd"/>
<rect x="115.3" fill="#ff9898"/>
<rect x="116.5" fill="#ffbaba"/>
<rect x="117.8" fill="#ffcaca"/>
<rect x="119.0" fill="#ff9797"/>
<rect x="120.2" fill="#ffbfbf"/>
<rect x="121.5" fill="#ffbcbc"/>
<rect x="122.7" fill="#ff9f9f"/>
<rect x="124.0" fill="#ff9c9c"/>
<rect x="125.2" fill="#ffb3b3"/>
<rect x="126.4" fill="#ffc8c8"/>
<rect x="127.7" fill="#ffadad"/>
<rect x="128.9" fill="#ffbcbc"/>
<rect x="130.1" fill="#ff9191"/>
<rect x="131.4" fill="#ffaeae"/>
<rect x="132.6" fill="#ff8585"/>
<rect x="133.9" fill="#ff3d3d"/>
<rect x="135.1" fill="#ff2626"/>
<rect x="136.3" fill="#ff3737"/>
<rect x="137.6" fill="#ff2e2e"/>
<rect x="138.8" fill="#ffadad"/>
<rect x="140.0" fill="#ff8e8e"/>
<rect x="141.3" fill="#ffb4b4"/>
<rect x="142.5" fill="#ff9595"/>
<rect x="143.8" fill="#ff8585"/>
<rect x="145.0" fill="#ff6969"/>
<rect x="146.2" fill="#ff4d4d"/>
<rect x="147.5" fill="#ff6060"/>
<rect x="148.7" fill="#ff4747"/>
<rect x="149.9" fill="#ff6464"/>
<rect x="151.2" fill="#ff7171"/>
<rect x="152.4" fill="#ff4949"/>
<rect x="153.7" fill="#ff3131"/>
<rect x="154.9" fill="#ff3737"/>
<rect x="156.1" fill="#ff6767"/>
<rect x="157.4" fill="#ff4242"/>
<rect x="158.6" fill="#ff9e9e"/>
<rect x="159.8" fill="#ff8383"/>
<rect x="161.1" fill="#ffa3a3"/>
<rect x="162.3" fill="#ffbaba"/>
<rect x="163.6" fill="#ffc1c1"/>
<rect x="164.8" fill="#ffa1a1"/>
<rect x="166.0" fill="#ff7b7b"/>
<rect x="167.3" fill="#ff8f8f"/>
<rect x="168.5" fill="#ffe8e8"/>
<rect x="169.7" fill="#ffcccc"/>
<rect x="171.0" fill="#ffaeae"/>
<rect x="172.2" fill="#ffabab"/>
<rect x="173.4" fill="#ffe8e8"/>
<rect x="174.7" fill="#ffebeb"/>
<rect x="175.9" fill="#ffc6c6"/>
<rect x="177.2" fill="#ffbcbc"/>
<rect x="178.4" fill="#ff9f9f"/>
<rect x="179.6" fill="#ff9a9a"/>
<rect x="180.9" fill="#ffa0a0"/>
<rect x="182.1" fill="#ffacac"/>
<rect x="183.4" fill="#ff9c9c"/>
<rect x="184.6" fill="#ffc6c6"/>
<rect x="185.8" fill="#ff9d9d"/>
<rect x="187.1" fill="#ffa4a4"/>
<rect x="188.3" fill="#ffe2e2"/>
<rect x="189.5" fill="#eeeeff"/>
<rect x="190.8" fill="#ffe9e9"/>
<rect x="192.0" fill="#ffe9e9"/>
<rect x="193.2" fill="#ff7a7a"/>
<rect x="194.5" fill="#ff8080"/>
<rect x="195.7" fill="#ff9999"/>
<rect x="197.0" fill="#ff9d9d"/>
<rect x="198.2" fill="#ffc1c1"/>
<rect x="199.4" fill="#ffc6c6"/>
<rect x="200.7" fill="#ffadad"/>
<rect x="201.9" fill="#ffc2c2"/>
<rect x="203.2" fill="#ffbcbc"/>
<rect x="204.4" fill="#ffa3a3"/>
<rect x="205.6" fill="#ff9b9b"/>
<rect x="206.9" fill="#ff8080"/>
<rect x="208.1" fill="#ff9999"/>
<rect x="209.3" fill="#ff9a9a"/>
<rect x="210.6" fill="#ffa5a5"/>
<rect x="211.8" fill="#ff8f8f"/>
<rect x="213.1" fill="#ff1111"/>
<rect x="214.3" fill="#ff0000"/>
<rect x="215.5" fill="#ff2d2d"/>
<rect x="216.8" fill="#ff4646"/>
<rect x="218.0" fill="#ffc4c4"/>
<rect x="219.2" fill="#ffa8a8"/>
<rect x="220.5" fill="#ff9a9a"/>
<rect x="221.7" fill="#ffb8b8"/>
<rect x="223.0" fill="#e3e3ff"/>
<rect x="224.2" fill="#fafaff"/>
<rect x="225.4" fill="#eaeaff"/>
<rect x="226.7" fill="#ffeeee"/>
<rect x="227.9" fill="#b9b9ff"/>
<rect x="229.1" fill="#ddddff"/>
<rect x="230.4" fill="#babaff"/>
<rect x="231.6" fill="#d8d8ff"/>
<rect x="232.8" fill="#ebebff"/>
<rect x="234.1" fill="#fffdfd"/>
<rect x="235.3" fill="#fff6f6"/>
<rect x="236.6" fill="#c3c3ff"/>
<rect x="237.8" fill="#fff8f8"/>
<rect x="239.0" fill="#ffdada"/>
<rect x="240.3" fill="#ffd9d9"/>
<rect x="241.5" fill="#fff1f1"/>
<rect x="242.8" fill="#ffe4e4"/>
<rect x="244.0" fill="#f9f9ff"/>
<rect x="245.2" fill="#ffe9e9"/>
<rect x="246.5" fill="#fffdfd"/>
<rect x="247.7" fill="#ffd8d8"/>
<rect x="248.9" fill="#eaeaff"/>
<rect x="250.2" fill="#fcfcff"/>
<rect x="251.4" fill="#e0e0ff"/>
<rect x="252.7" fill="#fff7f7"/>
<rect x="253.9" fill="#ffd5d5"/>
<rect x="255.1" fill="#ffeded"/>
<rect x="256.4" fill="#ffdbdb"/>
<rect x="257.6" fill="#ffa9a9"/>
<rect x="258.8" fill="#ffcccc"/>
<rect x="260.1" fill="#ff9d9d"/>
<rect x="261.3" fill="#ffa8a8"/>
<rect x="262.6" fill="#fff5f5"/>
<rect x="263.8" fill="#ffd3d3"/>
<rect x="265.0" fill="#ffb1b1"/>
<rect x="266.3" fill="#ffe5e5"/>
<rect x="267.5" fill="#ffffff"/>
<rect x="268.7" fill="#f3f3ff"/>
<rect x="270.0" fill="#d4d4ff"/>
<rect x="271.2" fill="#c9c9ff"/>
<rect x="272.5" fill="#9494ff"/>
<rect x="273.7" fill="#a6a6ff"/>
<rect x="274.9" fill="#aeaeff"/>
<rect x="276.2" fill="#c4c4ff"/>
<rect x="277.4" fill="#fffbfb"/>
<rect x="278.6" fill="#ffe1e1"/>
<rect x="279.9" fill="#ffd4d4"/>
<rect x="281.1" fill="#f7f7ff"/>
<rect x="282.4" fill="#d8d8ff"/>
<rect x="283.6" fill="#f3f3ff"/>
<rect x="284.8" fill="#ccccff"/>
<rect x="286.1" fill="#d7d7ff"/>
</g>
<g transform="translate(0,143.15)">
<rect x="69.5" fill="#f9f9ff"/>
<rect x="70.7" fill="#eeeeff"/>
<rect x="72.0" fill="#efefff"/>
<rect x="73.2" fill="#cfcfff"/>
<rect x="74.5" fill="#f8f8ff"/>
<rect x="75.7" fill="#fefeff"/>
<rect x="76.9" fill="#d7d7ff"/>
<rect x="78.2" fill="#c3c3ff"/>
<rect x="79.4" fill="#d0d0ff"/>
<rect x="80.6" fill="#e9e9ff"/>
<rect x="81.9" fill="#ffebeb"/>
<rect x="83.1" fill="#ffdfdf"/>
<rect x="84.3" fill="#c3c3ff"/>
<rect x="85.6" fill="#b6b6ff"/>
<rect x="86.8" fill="#a9a9ff"/>
<rect x="88.1" fill="#ababff"/>
<rect x="89.3" fill="#d6d6ff"/>
<rect x="90.5" fill="#d1d1ff"/>
<rect x="91.8" fill="#efefff"/>
<rect x="93.0" fill="#ffe5e5"/>
<rect x="94.2" fill="#fafaff"/>
<rect x="95.5" fill="#ededff"/>
<rect x="96.7" fill="#cfcfff"/>
<rect x="98.0" fill="#f1f1ff"/>
<rect x="99.2" fill="#f6f6ff"/>
<rect x="100.4" fill="#d5d5ff"/>
<rect x="101.7" fill="#d5d5ff"/>
<rect x="102.9" fill="#fffafa"/>
<rect x="104.2" fill="#ffbfbf"/>
<rect x="105.4" fill="#ffd8d8"/>
<rect x="106.6" fill="#ffebeb"/>
<rect x="107.9" fill="#ffd2d2"/>
<rect x="109.1" fill="#a4a4ff"/>
<rect x="110.3" fill="#bcbcff"/>
<rect x="111.6" fill="#aaaaff"/>
<rect x="112.8" fill="#8484ff"/>
<rect x="114.1" fill="#7272ff"/>
<rect x="115.3" fill="#7777ff"/>
<rect x="116.5" fill="#9191ff"/>
<rect x="117.8" fill="#adadff"/>
<rect x="119.0" fill="#ffc8c8"/>
<rect x="120.2" fill="#fff5f5"/>
<rect x="121.5" fill="#ffbcbc"/>
<rect x="122.7" fill="#ffcbcb"/>
<rect x="124.0" fill="#a9a9ff"/>
<rect x="125.2" fill="#8d8dff"/>
<rect x="126.4" fill="#8484ff"/>
<rect x="127.7" fill="#7e7eff"/>
<rect x="128.9" fill="#c9c9ff"/>
<rect x="130.1" fill="#efefff"/>
<rect x="131.4" fill="#cbcbff"/>
<rect x="132.6" fill="#c2c2ff"/>
<rect x="133.9" fill="#4e4eff"/>
<rect x="135.1" fill="#3535ff"/>
<rect x="136.3" fill="#2828ff"/>
<rect x="137.6" fill="#6161ff"/>
<rect x="138.8" fill="#4848ff"/>
<rect x="140.0" fill="#0f0fff"/>
<rect x="141.3" fill="#0000ff"/>
<rect x="142.5" fill="#0c0cff"/>
<rect x="143.8" fill="#0909ff"/>
<rect x="145.0" fill="#0303ff"/>
<rect x="146.2" fill="#3333ff"/>
<rect x="147.5" fill="#1212ff"/>
<rect x="148.7" fill="#ff4545"/>
<rect x="149.9" fill="#ff1111"/>
<rect x="151.2" fill="#ff1111"/>
<rect x="152.4" fill="#ff0c0c"/>
<rect x="153.7" fill="#e9e9ff"/>
<rect x="154.9" fill="#b5b5ff"/>
<rect x="156.1" fill="#ececff"/>
<rect x="157.4" fill="#b7b7ff"/>
<rect x="158.6" fill="#4444ff"/>
<rect x="159.8" fill="#5555ff"/>
<rect x="161.1" fill="#7a7aff"/>
<rect x="162.3" fill="#9494ff"/>
<rect x="163.6" fill="#5252ff"/>
<rect x="164.8" fill="#4040ff"/>
<rect x="166.0" fill="#2d2dff"/>
<rect x="167.3" fill="#2f2fff"/>
<rect x="168.5" fill="#acacff"/>
<rect x="169.7" fill="#8585ff"/>
<rect x="171.0" fill="#9999ff"/>
<rect x="172.2" fill="#8686ff"/>
<rect x="173.4" fill="#9c9cff"/>
<rect x="174.7" fill="#a7a7ff"/>
<rect x="175.9" fill="#ababff"/>
<rect x="177.2" fill="#c3c3ff"/>
<rect x="178.4" fill="#e9e9ff"/>
<rect x="179.6" fill="#dedeff"/>
<rect x="180.9" fill="#dadaff"/>
<rect x="182.1" fill="#c3c3ff"/>
<rect x="183.4" fill="#ffc4c4"/>
<rect x="184.6" fill="#ffb3b3"/>
<rect x="185.8" fill="#ffb3b3"/>
<rect x="187.1" fill="#ff8a8a"/>
<rect x="188.3" fill="#f3f3ff"/>
<rect x="189.5" fill="#d3d3ff"/>
<rect x="190.8" fill="#c7c7ff"/>
<rect x="192.0" fill="#d7d7ff"/>
<rect x="193.2" fill="#a8a8ff"/>
<rect x="194.5" fill="#b6b6ff"/>
<rect x="195.7" fill="#e4e4ff"/>
<rect x="197.0" fill="#ececff"/>
<rect x="198.2" fill="#e5e5ff"/>
<rect x="199.4" fill="#f5f5ff"/>
<rect x="200.7" fill="#fffefe"/>
<rect x="201.9" fill="#c3c3ff"/>
<rect x="203.2" fill="#acacff"/>
<rect x="204.4" fill="#8989ff"/>
<rect x="205.6" fill="#9090ff"/>
<rect x="206.9" fill="#9292ff"/>
<rect x="208.1" fill="#0909ff"/>
<rect x="209.3" fill="#0000ff"/>
<rect x="210.6" fill="#0000ff"/>
<rect x="211.8" fill="#1f1fff"/>
<rect x="213.1" fill="#4747ff"/>
<rect x="214.3" fill="#5555ff"/>
<rect x="215.5" fill="#1313ff"/>
<rect x="216.8" fill="#2222ff"/>
<rect x="218.0" fill="#e5e5ff"/>
<rect x="219.2" fill="#f5f5ff"/>
<rect x="220.5" fill="#fdfdff"/>
<rect x="221.7" fill="#e3e3ff"/>
<rect x="223.0" fill="#a3a3ff"/>
<rect x="224.2" fill="#bbbbff"/>
<rect x="225.4" fill="#a2a2ff"/>
<rect x="226.7" fill="#d8d8ff"/>
<rect x="227.9" fill="#ffaeae"/>
<rect x="229.1" fill="#ffe9e9"/>
<rect x="230.4" fill="#ffc3c3"/>
<rect x="231.6" fill="#ffafaf"/>
<rect x="232.8" fill="#ffe7e7"/>
<rect x="234.1" fill="#ffd4d4"/>
<rect x="235.3" fill="#ffd4d4"/>
<rect x="236.6" fill="#ffeded"/>
<rect x="237.8" fill="#7373ff"/>
<rect x="239.0" fill="#7171ff"/>
<rect x="240.3" fill="#8585ff"/>
<rect x="241.5" fill="#9797ff"/>
<rect x="242.8" fill="#fff0f0"/>
<rect x="244.0" fill="#fafaff"/>
<rect x="245.2" fill="#fffcfc"/>
<rect x="246.5" fill="#c3c3ff"/>
<rect x="247.7" fill="#9090ff"/>
<rect x="248.9" fill="#9898ff"/>
<rect x="250.2" fill="#9f9fff"/>
<rect x="251.4" fill="#9797ff"/>
<rect x="252.7" fill="#ffebeb"/>
<rect x="253.9" fill="#ffefef"/>
<rect x="255.1" fill="#ffdcdc"/>
<rect x="256.4" fill="#fff4f4"/>
<rect x="257.6" fill="#ffa8a8"/>
<rect x="258.8" fill="#ffcaca"/>
<rect x="260.1" fill="#ffa6a6"/>
<rect x="261.3" fill="#ffb8b8"/>
<rect x="262.6" fill="#ffa2a2"/>
<rect x="263.8" fill="#ff9999"/>
<rect x="265.0" fill="#ffbfbf"/>
<rect x="266.3" fill="#ffa0a0"/>
<rect x="267.5" fill="#fff6f6"/>
<rect x="268.7" fill="#ffe2e2"/>
<rect x="270.0" fill="#e9e9ff"/>
<rect x="271.2" fill="#efefff"/>
<rect x="272.5" fill="#d1d1ff"/>
<rect x="273.7" fill="#adadff"/>
<rect x="274.9" fill="#d6d6ff"/>
<rect x="276.2" fill="#f4f4ff"/>
<rect x="277.4" fill="#ebebff"/>
<rect x="278.6" fill="#f2f2ff"/>
<rect x="279.9" fill="#fffafa"/>
<rect x="281.1" fill="#e4e4ff"/>
<rect x="282.4" fill="#2d2dff"/>
<rect x="283.6" fill="#4848ff"/>
<rect x="284.8" fill="#4242ff"/>
<rect x="286.1" fill="#1f1fff"/>
</g>
<g transform="translate(0,149.16)">
<rect x="69.5" fill="#fff8f8"/>
<rect x="70.7" fill="#ffe6e6"/>
<rect x="72.0" fill="#ffd8d8"/>
<rect x="73.2" fill="#f3f3ff"/>
<rect x="74.5" fill="#fff2f2"/>
<rect x="75.7" fill="#ffd1d1"/>
<rect x="76.9" fill="#ffbfbf"/>
<rect x="78.2" fill="#ffb6b6"/>
<rect x="79.4" fill="#fff4f4"/>
<rect x="80.6" fill="#fbfbff"/>
<rect x="81.9" fill="#ffdbdb"/>
<rect x="83.1" fill="#fbfbff"/>
<rect x="84.3" fill="#ff7979"/>
<rect x="85.6" fill="#ff9595"/>
<rect x="86.8" fill="#ff9d9d"/>
<rect x="88.1" fill="#ff7575"/>
<rect x="89.3" fill="#fff8f8"/>
<rect x="90.5" fill="#ebebff"/>
<rect x="91.8" fill="#fff4f4"/>
<rect x="93.0" fill="#e9e9ff"/>
<rect x="94.2" fill="#bdbdff"/>
<rect x="95.5" fill="#d3d3ff"/>
<rect x="96.7" fill="#e9e9ff"/>
<rect x="98.0" fill="#d8d8ff"/>
<rect x="99.2" fill="#bfbfff"/>
<rect x="100.4" fill="#aeaeff"/>
<rect x="101.7" fill="#b5b5ff"/>
<rect x="102.9" fill="#c7c7ff"/>
<rect x="104.2" fill="#e6e6ff"/>
<rect x="105.4" fill="#e0e0ff"/>
<rect x="106.6" fill="#fbfbff"/>
<rect x="107.9" fill="#bebeff"/>
<rect x="109.1" fill="#fdfdff"/>
<rect x="110.3" fill="#f2f2ff"/>
<rect x="111.6" fill="#fffbfb"/>
<rect x="112.8" fill="#ffe1e1"/>
<rect x="114.1" fill="#ffa1a1"/>
<rect x="115.3" fill="#ff9393"/>
<rect x="116.5" fill="#ffc3c3"/>
<rect x="117.8" fill="#ff9393"/>
<rect x="119.0" fill="#ff7474"/>
<rect x="120.2" fill="#ff4646"/>
<rect x="121.5" fill="#ff6464"/>
<rect x="122.7" fill="#ff4949"/>
<rect x="124.0" fill="#ff8585"/>
<rect x="125.2" fill="#ffbcbc"/>
<rect x="126.4" fill="#ffaeae"/>
<rect x="127.7" fill="#ffb1b1"/>
<rect x="128.9" fill="#ff8181"/>
<rect x="130.1" fill="#ffaaaa"/>
<rect x="131.4" fill="#ffafaf"/>
<rect x="132.6" fill="#ffc3c3"/>
<rect x="133.9" fill="#f6f6ff"/>
<rect x="135.1" fill="#ffe7e7"/>
<rect x="136.3" fill="#ffd1d1"/>
<rect x="137.6" fill="#ffeded"/>
<rect x="138.8" fill="#ff1515"/>
<rect x="140.0" fill="#ff3434"/>
<rect x="141.3" fill="#ff0707"/>
<rect x="142.5" fill="#ff0909"/>
<rect x="143.8" fill="#ff9e9e"/>
<rect x="145.0" fill="#ffbfbf"/>
<rect x="146.2" fill="#ffaeae"/>
<rect x="147.5" fill="#ffb9b9"/>
<rect x="148.7" fill="#ffe2e2"/>
<rect x="149.9" fill="#fff9f9"/>
<rect x="151.2" fill="#fffcfc"/>
<rect x="152.4" fill="#eeeeff"/>
<rect x="153.7" fill="#bcbcff"/>
<rect x="154.9" fill="#eaeaff"/>
<rect x="156.1" fill="#babaff"/>
<rect x="157.4" fill="#e2e2ff"/>
<rect x="158.6" fill="#ffe3e3"/>
<rect x="159.8" fill="#f0f0ff"/>
<rect x="161.1" fill="#f3f3ff"/>
<rect x="162.3" fill="#ffe9e9"/>
<rect x="163.6" fill="#fff4f4"/>
<rect x="164.8" fill="#fffafa"/>
<rect x="166.0" fill="#fffcfc"/>
<rect x="167.3" fill="#e5e5ff"/>
<rect x="168.5" fill="#ffb5b5"/>
<rect x="169.7" fill="#ffb0b0"/>
<rect x="171.0" fill="#ffd4d4"/>
<rect x="172.2" fill="#ffdfdf"/>
<rect x="173.4" fill="#fff4f4"/>
<rect x="174.7" fill="#ffdcdc"/>
<rect x="175.9" fill="#ffebeb"/>
<rect x="177.2" fill="#f7f7ff"/>
<rect x="178.4" fill="#ffb3b3"/>
<rect x="179.6" fill="#ffa6a6"/>
<rect x="180.9" fill="#ff8585"/>
<rect x="182.1" fill="#ff8585"/>
<rect x="183.4" fill="#ff2d2d"/>
<rect x="184.6" fill="#ff4f4f"/>
<rect x="185.8" fill="#ff2a2a"/>
<rect x="187.1" fill="#ff3a3a"/>
<rect x="188.3" fill="#ff8e8e"/>
<rect x="189.5" fill="#ffb6b6"/>
<rect x="190.8" fill="#ff8383"/>
<rect x="192.0" fill="#ff7c7c"/>
<rect x="193.2" fill="#ff6969"/>
<rect x="194.5" fill="#ff8f8f"/>
<rect x="195.7" fill="#ff5e5e"/>
<rect x="197.0" fill="#ff8282"/>
<rect x="198.2" fill="#ffcccc"/>
<rect x="199.4" fill="#ffbfbf"/>
<rect x="200.7" fill="#ffcaca"/>
<rect x="201.9" fill="#ffd6d6"/>
<rect x="203.2" fill="#ff7979"/>
<rect x="204.4" fill="#ff6262"/>
<rect x="205.6" fill="#ff4d4d"/>
<rect x="206.9" fill="#ff7f7f"/>
<rect x="208.1" fill="#ff5353"/>
<rect x="209.3" fill="#ff3b3b"/>
<rect x="210.6" fill="#ff1b1b"/>
<rect x="211.8" fill="#ff3737"/>
<rect x="213.1" fill="#ff6767"/>
<rect x="214.3" fill="#ff8686"/>
<rect x="215.5" fill="#ff5454"/>
<rect x="216.8" fill="#ff3f3f"/>
<rect x="218.0" fill="#ff9c9c"/>
<rect x="219.2" fill="#ffc2c2"/>
<rect x="220.5" fill="#ffeded"/>
<rect x="221.7" fill="#ffc4c4"/>
<rect x="223.0" fill="#ff6565"/>
<rect x="224.2" fill="#ff7272"/>
<rect x="225.4" fill="#ff7171"/>
<rect x="226.7" fill="#ff5a5a"/>
<rect x="227.9" fill="#ff8b8b"/>
<rect x="229.1" fill="#ff9e9e"/>
<rect x="230.4" fill="#ffb4b4"/>
<rect x="231.6" fill="#ffc7c7"/>
<rect x="232.8" fill="#ff5858"/>
<rect x="234.1" fill="#ff1616"/>
<rect x="235.3" fill="#ff0000"/>
<rect x="236.6" fill="#ff3333"/>
<rect x="237.8" fill="#ff2323"/>
<rect x="239.0" fill="#ff0000"/>
<rect x="240.3" fill="#ff0c0c"/>
<rect x="241.5" fill="#ff0000"/>
<rect x="242.8" fill="#ffaaaa"/>
<rect x="244.0" fill="#ff9494"/>
<rect x="245.2" fill="#ff8181"/>
<rect x="246.5" fill="#ffb3b3"/>
<rect x="247.7" fill="#ff8585"/>
<rect x="248.9" fill="#ff5050"/>
<rect x="250.2" fill="#ff7272"/>
<rect x="251.4" fill="#ff6262"/>
<rect x="252.7" fill="#ff4242"/>
<rect x="253.9" fill="#ff4545"/>
<rect x="255.1" fill="#ff4141"/>
<rect x="256.4" fill="#ff6666"/>
<rect x="257.6" fill="#ff8787"/>
<rect x="258.8" fill="#ffb4b4"/>
<rect x="260.1" fill="#ffb3b3"/>
<rect x="261.3" fill="#ffabab"/>
<rect x="262.6" fill="#ffc4c4"/>
<rect x="263.8" fill="#fff1f1"/>
<rect x="265.0" fill="#fcfcff"/>
<rect x="266.3" fill="#fff2f2"/>
<rect x="267.5" fill="#fffcfc"/>
<rect x="268.7" fill="#ffc3c3"/>
<rect x="270.0" fill="#ffcfcf"/>
<rect x="271.2" fill="#ffc9c9"/>
<rect x="272.5" fill="#ff2626"/>
<rect x="273.7" fill="#ff0707"/>
<rect x="274.9" fill="#ff0000"/>
<rect x="276.2" fill="#ff0000"/>
<rect x="277.4" fill="#ffdbdb"/>
<rect x="278.6" fill="#ffcccc"/>
<rect x="279.9" fill="#ffb8b8"/>
<rect x="281.1" fill="#ffa4a4"/>
<rect x="282.4" fill="#ffb8b8"/>
<rect x="283.6" fill="#ffc8c8"/>
<rect x="284.8" fill="#ffe8e8"/>
<rect x="286.1" fill="#fbfbff"/>
</g>
<g transform="translate(0,155.17)">
<rect x="69.5" fill="#aaaaff"/>
<rect x="70.7" fill="#aeaeff"/>
<rect x="72.0" fill="#d3d3ff"/>
<rect x="73.2" fill="#cacaff"/>
<rect x="74.5" fill="#d1d1ff"/>
<rect x="75.7" fill="#bfbfff"/>
<rect x="76.9" fill="#efefff"/>
<rect x="78.2" fill="#fffdfd"/>
<rect x="79.4" fill="#d3d3ff"/>
<rect x="80.6" fill="#c9c9ff"/>
<rect x="81.9" fill="#adadff"/>
<rect x="83.1" fill="#b8b8ff"/>
<rect x="84.3" fill="#dfdfff"/>
<rect x="85.6" fill="#fffbfb"/>
<rect x="86.8" fill="#f2f2ff"/>
<rect x="88.1" fill="#fff6f6"/>
<rect x="89.3" fill="#fff4f4"/>
<rect x="90.5" fill="#ffd0d0"/>
<rect x="91.8" fill="#ffc5c5"/>
<rect x="93.0" fill="#ffdddd"/>
<rect x="94.2" fill="#ffc0c0"/>
<rect x="95.5" fill="#ffacac"/>
<rect x="96.7" fill="#ff9f9f"/>
<rect x="98.0" fill="#ffabab"/>
<rect x="99.2" fill="#ff9797"/>
<rect x="100.4" fill="#ff9797"/>
<rect x="101.7" fill="#ff8888"/>
<rect x="102.9" fill="#ffa6a6"/>
<rect x="104.2" fill="#ff8585"/>
<rect x="105.4" fill="#ff7e7e"/>
<rect x="106.6" fill="#ff8383"/>
<rect x="107.9" fill="#ff7f7f"/>
<rect x="109.1" fill="#ffb8b8"/>
<rect x="110.3" fill="#ff9393"/>
<rect x="111.6" fill="#ffa0a0"/>
<rect x="112.8" fill="#ff9393"/>
<rect x="114.1" fill="#ff8f8f"/>
<rect x="115.3" fill="#ffa1a1"/>
<rect x="116.5" fill="#ff8f8f"/>
<rect x="117.8" fill="#ff7d7d"/>
<rect x="119.0" fill="#ff6a6a"/>
<rect x="120.2" fill="#ffb1b1"/>
<rect x="121.5" fill="#ff8787"/>
<rect x="122.7" fill="#ff8080"/>
<rect x="124.0" fill="#ff8c8c"/>
<rect x="125.2" fill="#ff8383"/>
<rect x="126.4" fill="#ffa1a1"/>
<rect x="127.7" fill="#ffaaaa"/>
<rect x="128.9" fill="#ffcccc"/>
<rect x="130.1" fill="#ff9393"/>
<rect x="131.4" fill="#ff8383"/>
<rect x="132.6" fill="#ff9393"/>
<rect x="133.9" fill="#ffc1c1"/>
<rect x="135.1" fill="#ffafaf"/>
<rect x="136.3" fill="#ffdddd"/>
<rect x="137.6" fill="#ffd1d1"/>
<rect x="138.8" fill="#ff9191"/>
<rect x="140.0" fill="#ff9494"/>
<rect x="141.3" fill="#ff7676"/>
<rect x="142.5" fill="#ffa3a3"/>
<rect x="143.8" fill="#ffc2c2"/>
<rect x="145.0" fill="#ffb4b4"/>
<rect x="146.2" fill="#ffcdcd"/>
<rect x="147.5" fill="#ffabab"/>
<rect x="148.7" fill="#ffc7c7"/>
<rect x="149.9" fill="#ffeaea"/>
<rect x="151.2" fill="#fff7f7"/>
<rect x="152.4" fill="#ffebeb"/>
<rect x="153.7" fill="#ff8787"/>
<rect x="154.9" fill="#ff7575"/>
<rect x="156.1" fill="#ff6e6e"/>
<rect x="157.4" fill="#ff7e7e"/>
<rect x="158.6" fill="#ffc0c0"/>
<rect x="159.8" fill="#ffbebe"/>
<rect x="161.1" fill="#ffc0c0"/>
<rect x="162.3" fill="#ffa4a4"/>
<rect x="163.6" fill="#ff9898"/>
<rect x="164.8" fill="#ffa7a7"/>
<rect x="166.0" fill="#ff9292"/>
<rect x="167.3" fill="#ff8383"/>
<rect x="168.5" fill="#ff8181"/>
<rect x="169.7" fill="#ffb0b0"/>
<rect x="171.0" fill="#ff9e9e"/>
<rect x="172.2" fill="#ffb4b4"/>
<rect x="173.4" fill="#ffebeb"/>
<rect x="174.7" fill="#fff1f1"/>
<rect x="175.9" fill="#f7f7ff"/>
<rect x="177.2" fill="#f5f5ff"/>
<rect x="178.4" fill="#ffdcdc"/>
<rect x="179.6" fill="#ffbebe"/>
<rect x="180.9" fill="#ffe9e9"/>
<rect x="182.1" fill="#ffb7b7"/>
<rect x="183.4" fill="#ff9a9a"/>
<rect x="184.6" fill="#ff8888"/>
<rect x="185.8" fill="#ffbcbc"/>
<rect x="187.1" fill="#ffd1d1"/>
<rect x="188.3" fill="#ffcccc"/>
<rect x="189.5" fill="#fff0f0"/>
<rect x="190.8" fill="#f9f9ff"/>
<rect x="192.0" fill="#ffdbdb"/>
<rect x="193.2" fill="#fffbfb"/>
<rect x="194.5" fill="#ffebeb"/>
<rect x="195.7" fill="#ffc3c3"/>
<rect x="197.0" fill="#ffeaea"/>
<rect x="198.2" fill="#ff9393"/>
<rect x="199.4" fill="#ff7a7a"/>
<rect x="200.7" fill="#ff6a6a"/>
<rect x="201.9" fill="#ff8080"/>
<rect x="203.2" fill="#ff3c3c"/>
<rect x="204.4" fill="#ff6f6f"/>
<rect x="205.6" fill="#ff6464"/>
<rect x="206.9" fill="#ff4646"/>
<rect x="208.1" fill="#ff7777"/>
<rect x="209.3" fill="#ffaaaa"/>
<rect x="210.6" fill="#ff8c8c"/>
<rect x="211.8" fill="#ffa1a1"/>
<rect x="213.1" fill="#ffa1a1"/>
<rect x="214.3" fill="#ff8a8a"/>
<rect x="215.5" fill="#ff8a8a"/>
<rect x="216.8" fill="#ffa6a6"/>
<rect x="218.0" fill="#ff8787"/>
<rect x="219.2" fill="#ff7474"/>
<rect x="220.5" fill="#ff7575"/>
<rect x="221.7" fill="#ffb3b3"/>
<rect x="223.0" fill="#ffd2d2"/>
<rect x="224.2" fill="#ffb2b2"/>
<rect x="225.4" fill="#ffcbcb"/>
<rect x="226.7" fill="#ffd7d7"/>
<rect x="227.9" fill="#ff5f5f"/>
<rect x="229.1" fill="#ff8888"/>
<rect x="230.4" fill="#ff8787"/>
<rect x="231.6" fill="#ff8585"/>
<rect x="232.8" fill="#ff8e8e"/>
<rect x="234.1" fill="#ff7575"/>
<rect x="235.3" fill="#ff7777"/>
<rect x="236.6" fill="#ff9393"/>
<rect x="237.8" fill="#ffbbbb"/>
<rect x="239.0" fill="#ff8888"/>
<rect x="240.3" fill="#ffaeae"/>
<rect x="241.5" fill="#ff9c9c"/>
<rect x="242.8" fill="#ff4c4c"/>
<rect x="244.0" fill="#ff5a5a"/>
<rect x="245.2" fill="#ff4141"/>
<rect x="246.5" fill="#ff3232"/>
<rect x="247.7" fill="#ff9797"/>
<rect x="248.9" fill="#ff8c8c"/>
<rect x="250.2" fill="#ffbaba"/>
<rect x="251.4" fill="#ffb3b3"/>
<rect x="252.7" fill="#ff9c9c"/>
<rect x="253.9" fill="#ffb2b2"/>
<rect x="255.1" fill="#ffb4b4"/>
<rect x="256.4" fill="#ff9696"/>
<rect x="257.6" fill="#ffb5b5"/>
<rect x="258.8" fill="#ff8989"/>
<rect x="260.1" fill="#ffb5b5"/>
<rect x="261.3" fill="#ffc2c2"/>
<rect x="262.6" fill="#ffa8a8"/>
<rect x="263.8" fill="#ffbbbb"/>
<rect x="265.0" fill="#ff9292"/>
<rect x="266.3" fill="#ffa7a7"/>
<rect x="267.5" fill="#ffc3c3"/>
<rect x="268.7" fill="#ffa4a4"/>
<rect x="270.0" fill="#ffa9a9"/>
<rect x="271.2" fill="#ff9c9c"/>
<rect x="272.5" fill="#ffeded"/>
<rect x="273.7" fill="#fcfcff"/>
<rect x="274.9" fill="#fff8f8"/>
<rect x="276.2" fill="#ffe1e1"/>
<rect x="277.4" fill="#ffc3c3"/>
<rect x="278.6" fill="#ffc9c9"/>
<rect x="279.9" fill="#ff9999"/>
<rect x="281.1" fill="#ffb4b4"/>
<rect x="282.4" fill="#ffe5e5"/>
<rect x="283.6" fill="#ffbcbc"/>
<rect x="284.8" fill="#ff9f9f"/>
<rect x="286.1" fill="#ffa4a4"/>
</g>
<g transform="translate(0,161.18)">
<rect x="69.5" fill="#ffc1c1"/>
<rect x="70.7" fill="#ff9b9b"/>
<rect x="72.0" fill="#ffc1c1"/>
<rect x="73.2" fill="#ff9898"/>
<rect x="74.5" fill="#f2f2ff"/>
<rect x="75.7" fill="#e2e2ff"/>
<rect x="76.9" fill="#ececff"/>
<rect x="78.2" fill="#d9d9ff"/>
<rect x="79.4" fill="#ffd4d4"/>
<rect x="80.6" fill="#ffb8b8"/>
<rect x="81.9" fill="#ffb8b8"/>
<rect x="83.1" fill="#ffaeae"/>
<rect x="84.3" fill="#f3f3ff"/>
<rect x="85.6" fill="#e7e7ff"/>
<rect x="86.8" fill="#ffeeee"/>
<rect x="88.1" fill="#f8f8ff"/>
<rect x="89.3" fill="#e2e2ff"/>
<rect x="90.5" fill="#dedeff"/>
<rect x="91.8" fill="#babaff"/>
<rect x="93.0" fill="#b0b0ff"/>
<rect x="94.2" fill="#e5e5ff"/>
<rect x="95.5" fill="#fbfbff"/>
<rect x="96.7" fill="#ececff"/>
<rect x="98.0" fill="#b6b6ff"/>
<rect x="99.2" fill="#cbcbff"/>
<rect x="100.4" fill="#fff3f3"/>
<rect x="101.7" fill="#ffe1e1"/>
<rect x="102.9" fill="#ffe1e1"/>
<rect x="104.2" fill="#cbcbff"/>
<rect x="105.4" fill="#f0f0ff"/>
<rect x="106.6" fill="#bcbcff"/>
<rect x="107.9" fill="#d7d7ff"/>
<rect x="109.1" fill="#ffbfbf"/>
<rect x="110.3" fill="#ffd4d4"/>
<rect x="111.6" fill="#ffb9b9"/>
<rect x="112.8" fill="#ffdfdf"/>
<rect x="114.1" fill="#ffe0e0"/>
<rect x="115.3" fill="#ffcece"/>
<rect x="116.5" fill="#fff6f6"/>
<rect x="117.8" fill="#f5f5ff"/>
<rect x="119.0" fill="#e5e5ff"/>
<rect x="120.2" fill="#cdcdff"/>
<rect x="121.5" fill="#d7d7ff"/>
<rect x="122.7" fill="#e3e3ff"/>
<rect x="124.0" fill="#9292ff"/>
<rect x="125.2" fill="#8f8fff"/>
<rect x="126.4" fill="#6666ff"/>
<rect x="127.7" fill="#5a5aff"/>
<rect x="128.9" fill="#a9a9ff"/>
<rect x="130.1" fill="#d8d8ff"/>
<rect x="131.4" fill="#f0f0ff"/>
<rect x="132.6" fill="#c9c9ff"/>
<rect x="133.9" fill="#cbcbff"/>
<rect x="135.1" fill="#c2c2ff"/>
<rect x="136.3" fill="#b8b8ff"/>
<rect x="137.6" fill="#a0a0ff"/>
<rect x="138.8" fill="#9595ff"/>
<rect x="140.0" fill="#c1c1ff"/>
<rect x="141.3" fill="#9696ff"/>
<rect x="142.5" fill="#b2b2ff"/>
<rect x="143.8" fill="#ffe2e2"/>
<rect x="145.0" fill="#ffefef"/>
<rect x="146.2" fill="#ffdbdb"/>
<rect x="147.5" fill="#fff5f5"/>
<rect x="148.7" fill="#ffc3c3"/>
<rect x="149.9" fill="#ffeeee"/>
<rect x="151.2" fill="#fffafa"/>
<rect x="152.4" fill="#ffdddd"/>
<rect x="153.7" fill="#babaff"/>
<rect x="154.9" fill="#ababff"/>
<rect x="156.1" fill="#cacaff"/>
<rect x="157.4" fill="#b4b4ff"/>
<rect x="158.6" fill="#ff2323"/>
<rect x="159.8" fill="#ff0c0c"/>
<rect x="161.1" fill="#ff0000"/>
<rect x="162.3" fill="#ff0000"/>
<rect x="163.6" fill="#ffacac"/>
<rect x="164.8" fill="#ffd8d8"/>
<rect x="166.0" fill="#ffe4e4"/>
<rect x="167.3" fill="#ffd5d5"/>
<rect x="168.5" fill="#aaaaff"/>
<rect x="169.7" fill="#afafff"/>
<rect x="171.0" fill="#d9d9ff"/>
<rect x="172.2" fill="#c0c0ff"/>
<rect x="173.4" fill="#a8a8ff"/>
<rect x="174.7" fill="#9595ff"/>
<rect x="175.9" fill="#7f7fff"/>
<rect x="177.2" fill="#8585ff"/>
<rect x="178.4" fill="#8787ff"/>
<rect x="179.6" fill="#8484ff"/>
<rect x="180.9" fill="#8686ff"/>
<rect x="182.1" fill="#b8b8ff"/>
<rect x="183.4" fill="#ffc2c2"/>
<rect x="184.6" fill="#ffcaca"/>
<rect x="185.8" fill="#ffe1e1"/>
<rect x="187.1" fill="#ffeaea"/>
<rect x="188.3" fill="#fff2f2"/>
<rect x="189.5" fill="#f7f7ff"/>
<rect x="190.8" fill="#dfdfff"/>
<rect x="192.0" fill="#e7e7ff"/>
<rect x="193.2" fill="#ff6262"/>
<rect x="194.5" fill="#ff4040"/>
<rect x="195.7" fill="#ff3a3a"/>
<rect x="197.0" fill="#ff5353"/>
<rect x="198.2" fill="#ffe3e3"/>
<rect x="199.4" fill="#ffbaba"/>
<rect x="200.7" fill="#ffecec"/>
<rect x="201.9" fill="#ffd7d7"/>
<rect x="203.2" fill="#ffadad"/>
<rect x="204.4" fill="#ffd0d0"/>
<rect x="205.6" fill="#ffcfcf"/>
<rect x="206.9" fill="#ffe0e0"/>
<rect x="208.1" fill="#f1f1ff"/>
<rect x="209.3" fill="#d9d9ff"/>
<rect x="210.6" fill="#f7f7ff"/>
<rect x="211.8" fill="#fff2f2"/>
<rect x="213.1" fill="#ffe9e9"/>
<rect x="214.3" fill="#fafaff"/>
<rect x="215.5" fill="#fffdfd"/>
<rect x="216.8" fill="#fff1f1"/>
<rect x="218.0" fill="#bdbdff"/>
<rect x="219.2" fill="#dadaff"/>
<rect x="220.5" fill="#d7d7ff"/>
<rect x="221.7" fill="#adadff"/>
<rect x="223.0" fill="#f6f6ff"/>
<rect x="224.2" fill="#ffefef"/>
<rect x="225.4" fill="#fff9f9"/>
<rect x="226.7" fill="#ffcaca"/>
<rect x="227.9" fill="#ffe8e8"/>
<rect x="229.1" fill="#ffdcdc"/>
<rect x="230.4" fill="#ffe6e6"/>
<rect x="231.6" fill="#f3f3ff"/>
<rect x="232.8" fill="#e3e3ff"/>
<rect x="234.1" fill="#c8c8ff"/>
<rect x="235.3" fill="#b2b2ff"/>
<rect x="236.6" fill="#9d9dff"/>
<rect x="237.8" fill="#fff1f1"/>
<rect x="239.0" fill="#ffbaba"/>
<rect x="240.3" fill="#ffb8b8"/>
<rect x="241.5" fill="#ffb9b9"/>
<rect x="242.8" fill="#ffd0d0"/>
<rect x="244.0" fill="#ffd6d6"/>
<rect x="245.2" fill="#ffb2b2"/>
<rect x="246.5" fill="#ff9a9a"/>
<rect x="247.7" fill="#ff9898"/>
<rect x="248.9" fill="#ff9797"/>
<rect x="250.2" fill="#ff9f9f"/>
<rect x="251.4" fill="#ffb9b9"/>
<rect x="252.7" fill="#ffdada"/>
<rect x="253.9" fill="#fff7f7"/>
<rect x="255.1" fill="#ffcaca"/>
<rect x="256.4" fill="#ffd6d6"/>
<rect x="257.6" fill="#ff9999"/>
<rect x="258.8" fill="#ff8888"/>
<rect x="260.1" fill="#ffacac"/>
<rect x="261.3" fill="#ff8383"/>
<rect x="262.6" fill="#fff7f7"/>
<rect x="263.8" fill="#e8e8ff"/>
<rect x="265.0" fill="#b9b9ff"/>
<rect x="266.3" fill="#d1d1ff"/>
<rect x="267.5" fill="#fff0f0"/>
<rect x="268.7" fill="#efefff"/>
<rect x="270.0" fill="#fff0f0"/>
<rect x="271.2" fill="#f4f4ff"/>
<rect x="272.5" fill="#b9b9ff"/>
<rect x="273.7" fill="#a4a4ff"/>
<rect x="274.9" fill="#c7c7ff"/>
<rect x="276.2" fill="#e1e1ff"/>
<rect x="277.4" fill="#ffbaba"/>
<rect x="278.6" fill="#ffd7d7"/>
<rect x="279.9" fill="#ffe4e4"/>
<rect x="281.1" fill="#fffefe"/>
<rect x="282.4" fill="#fefeff"/>
<rect x="283.6" fill="#fffafa"/>
<rect x="284.8" fill="#fffbfb"/>
<rect x="286.1" fill="#f5f5ff"/>
</g>
<g transform="translate(0,167.19)">
<rect x="69.5" fill="#f7f7ff"/>
<rect x="70.7" fill="#d3d3ff"/>
<rect x="72.0" fill="#ececff"/>
<rect x="73.2" fill="#ceceff"/>
<rect x="74.5" fill="#fff1f1"/>
<rect x="75.7" fill="#fefeff"/>
<rect x="76.9" fill="#fcfcff"/>
<rect x="78.2" fill="#ffd7d7"/>
<rect x="79.4" fill="#ff8c8c"/>
<rect x="80.6" fill="#ff6060"/>
<rect x="81.9" fill="#ff5555"/>
<rect x="83.1" fill="#ff5353"/>
<rect x="84.3" fill="#fff4f4"/>
<rect x="85.6" fill="#ffe8e8"/>
<rect x="86.8" fill="#f3f3ff"/>
<rect x="88.1" fill="#f2f2ff"/>
<rect x="89.3" fill="#d2d2ff"/>
<rect x="90.5" fill="#c2c2ff"/>
<rect x="91.8" fill="#ddddff"/>
<rect x="93.0" fill="#f9f9ff"/>
<rect x="94.2" fill="#ffdcdc"/>
<rect x="95.5" fill="#ffd3d3"/>
<rect x="96.7" fill="#eeeeff"/>
<rect x="98.0" fill="#ffe5e5"/>
<rect x="99.2" fill="#d5d5ff"/>
<rect x="100.4" fill="#ccccff"/>
<rect x="101.7" fill="#b3b3ff"/>
<rect x="102.9" fill="#a2a2ff"/>
<rect x="104.2" fill="#8a8aff"/>
<rect x="105.4" fill="#9c9cff"/>
<rect x="106.6" fill="#bcbcff"/>
<rect x="107.9" fill="#bcbcff"/>
<rect x="109.1" fill="#c3c3ff"/>
<rect x="110.3" fill="#d3d3ff"/>
<rect x="111.6" fill="#ececff"/>
<rect x="112.8" fill="#c9c9ff"/>
<rect x="114.1" fill="#bcbcff"/>
<rect x="115.3" fill="#b4b4ff"/>
<rect x="116.5" fill="#ebebff"/>
<rect x="117.8" fill="#c0c0ff"/>
<rect x="119.0" fill="#fffcfc"/>
<rect x="120.2" fill="#f5f5ff"/>
<rect x="121.5" fill="#fff1f1"/>
<rect x="122.7" fill="#fff9f9"/>
<rect x="124.0" fill="#bdbdff"/>
<rect x="125.2" fill="#e5e5ff"/>
<rect x="126.4" fill="#ddddff"/>
<rect x="127.7" fill="#b0b0ff"/>
<rect x="128.9" fill="#d9d9ff"/>
<rect x="130.1" fill="#d3d3ff"/>
<rect x="131.4" fill="#ddddff"/>
<rect x="132.6" fill="#d4d4ff"/>
<rect x="133.9" fill="#cacaff"/>
<rect x="135.1" fill="#d7d7ff"/>
<rect x="136.3" fill="#cacaff"/>
<rect x="137.6" fill="#babaff"/>
<rect x="138.8" fill="#fffefe"/>
<rect x="140.0" fill="#f5f5ff"/>
<rect x="141.3" fill="#ffeeee"/>
<rect x="142.5" fill="#ffd9d9"/>
<rect x="143.8" fill="#ffaeae"/>
<rect x="145.0" fill="#ff9e9e"/>
<rect x="146.2" fill="#ffcaca"/>
<rect x="147.5" fill="#ffb1b1"/>
<rect x="148.7" fill="#ffcaca"/>
<rect x="149.9" fill="#ffb1b1"/>
<rect x="151.2" fill="#ffb9b9"/>
<rect x="152.4" fill="#ffd8d8"/>
<rect x="153.7" fill="#ffb8b8"/>
<rect x="154.9" fill="#ff8f8f"/>
<rect x="156.1" fill="#ff9c9c"/>
<rect x="157.4" fill="#ffbcbc"/>
<rect x="158.6" fill="#fafaff"/>
<rect x="159.8" fill="#e0e0ff"/>
<rect x="161.1" fill="#cdcdff"/>
<rect x="162.3" fill="#d5d5ff"/>
<rect x="163.6" fill="#d5d5ff"/>
<rect x="164.8" fill="#bbbbff"/>
<rect x="166.0" fill="#e5e5ff"/>
<rect x="167.3" fill="#b4b4ff"/>
<rect x="168.5" fill="#e5e5ff"/>
<rect x="169.7" fill="#cbcbff"/>
<rect x="171.0" fill="#f7f7ff"/>
<rect x="172.2" fill="#fff9f9"/>
<rect x="173.4" fill="#ebebff"/>
<rect x="174.7" fill="#f6f6ff"/>
<rect x="175.9" fill="#fffbfb"/>
<rect x="177.2" fill="#e1e1ff"/>
<rect x="178.4" fill="#fbfbff"/>
<rect x="179.6" fill="#fff8f8"/>
<rect x="180.9" fill="#fffdfd"/>
<rect x="182.1" fill="#e7e7ff"/>
<rect x="183.4" fill="#c1c1ff"/>
<rect x="184.6" fill="#c1c1ff"/>
<rect x="185.8" fill="#eaeaff"/>
<rect x="187.1" fill="#babaff"/>
<rect x="188.3" fill="#d9d9ff"/>
<rect x="189.5" fill="#e6e6ff"/>
<rect x="190.8" fill="#fcfcff"/>
<rect x="192.0" fill="#eaeaff"/>
<rect x="193.2" fill="#ededff"/>
<rect x="194.5" fill="#bfbfff"/>
<rect x="195.7" fill="#e7e7ff"/>
<rect x="197.0" fill="#b7b7ff"/>
<rect x="198.2" fill="#a0a0ff"/>
<rect x="199.4" fill="#8282ff"/>
<rect x="200.7" fill="#7e7eff"/>
<rect x="201.9" fill="#a2a2ff"/>
<rect x="203.2" fill="#c7c7ff"/>
<rect x="204.4" fill="#dcdcff"/>
<rect x="205.6" fill="#bfbfff"/>
<rect x="206.9" fill="#a8a8ff"/>
<rect x="208.1" fill="#b2b2ff"/>
<rect x="209.3" fill="#c4c4ff"/>
<rect x="210.6" fill="#e4e4ff"/>
<rect x="211.8" fill="#f8f8ff"/>
<rect x="213.1" fill="#d9d9ff"/>
<rect x="214.3" fill="#f9f9ff"/>
<rect x="215.5" fill="#e8e8ff"/>
<rect x="216.8" fill="#c2c2ff"/>
<rect x="218.0" fill="#f8f8ff"/>
<rect x="219.2" fill="#fff3f3"/>
<rect x="220.5" fill="#ffe4e4"/>
<rect x="221.7" fill="#ececff"/>
<rect x="223.0" fill="#ffb3b3"/>
<rect x="224.2" fill="#ffbfbf"/>
<rect x="225.4" fill="#fff1f1"/>
<rect x="226.7" fill="#fff1f1"/>
<rect x="227.9" fill="#fff2f2"/>
<rect x="229.1" fill="#e0e0ff"/>
<rect x="230.4" fill="#e2e2ff"/>
<rect x="231.6" fill="#fffefe"/>
<rect x="232.8" fill="#e1e1ff"/>
<rect x="234.1" fill="#fffbfb"/>
<rect x="235.3" fill="#fff6f6"/>
<rect x="236.6" fill="#f0f0ff"/>
<rect x="237.8" fill="#ffecec"/>
<rect x="239.0" fill="#e5e5ff"/>
<rect x="240.3" fill="#dadaff"/>
<rect x="241.5" fill="#fffafa"/>
<rect x="242.8" fill="#fff4f4"/>
<rect x="244.0" fill="#ededff"/>
<rect x="245.2" fill="#eeeeff"/>
<rect x="246.5" fill="#ffeaea"/>
<rect x="247.7" fill="#9292ff"/>
<rect x="248.9" fill="#7878ff"/>
<rect x="250.2" fill="#9090ff"/>
<rect x="251.4" fill="#8282ff"/>
<rect x="252.7" fill="#d1d1ff"/>
<rect x="253.9" fill="#bcbcff"/>
<rect x="255.1" fill="#aeaeff"/>
<rect x="256.4" fill="#cbcbff"/>
<rect x="257.6" fill="#c6c6ff"/>
<rect x="258.8" fill="#b7b7ff"/>
<rect x="260.1" fill="#d2d2ff"/>
<rect x="261.3" fill="#e0e0ff"/>
<rect x="262.6" fill="#d3d3ff"/>
<rect x="263.8" fill="#bfbfff"/>
<rect x="265.0" fill="#a5a5ff"/>
<rect x="266.3" fill="#8282ff"/>
<rect x="267.5" fill="#c4c4ff"/>
<rect x="268.7" fill="#b1b1ff"/>
<rect x="270.0" fill="#c8c8ff"/>
<rect x="271.2" fill="#c8c8ff"/>
<rect x="272.5" fill="#d1d1ff"/>
<rect x="273.7" fill="#d7d7ff"/>
<rect x="274.9" fill="#d9d9ff"/>
<rect x="276.2" fill="#f7f7ff"/>
<rect x="277.4" fill="#b9b9ff"/>
<rect x="278.6" fill="#8e8eff"/>
<rect x="279.9" fill="#b9b9ff"/>
<rect x="281.1" fill="#c1c1ff"/>
<rect x="282.4" fill="#a6a6ff"/>
<rect x="283.6" fill="#a0a0ff"/>
<rect x="284.8" fill="#a7a7ff"/>
<rect x="286.1" fill="#9c9cff"/>
</g>
</g></g>
<defs><clipPath id="c2"><rect x="69.50" y="197.80" width="217.80" height="113.60"/></clipPath></defs>
<g clip-path="url(#c2)"><g class="hm" filter="url(#hb)">
<g transform="translate(0,197.80)">
<rect x="69.5" fill="#f6f6ff"/>
<rect x="70.7" fill="#fff8f8"/>
<rect x="72.0" fill="#c5c5ff"/>
<rect x="73.2" fill="#aaaaff"/>
<rect x="74.5" fill="#ffc7c7"/>
<rect x="75.7" fill="#ffb9b9"/>
<rect x="76.9" fill="#ffb9b9"/>
<rect x="78.2" fill="#ffd6d6"/>
<rect x="79.4" fill="#d8d8ff"/>
<rect x="80.6" fill="#ddddff"/>
<rect x="81.9" fill="#ddddff"/>
<rect x="83.1" fill="#bbbbff"/>
<rect x="84.3" fill="#ffb3b3"/>
<rect x="85.6" fill="#ffb3b3"/>
<rect x="86.8" fill="#ff9898"/>
<rect x="88.1" fill="#ff7676"/>
<rect x="89.3" fill="#ff9898"/>
<rect x="90.5" fill="#ffb4b4"/>
<rect x="91.8" fill="#ffc8c8"/>
<rect x="93.0" fill="#ffe0e0"/>
<rect x="94.2" fill="#a4a4ff"/>
<rect x="95.5" fill="#9696ff"/>
<rect x="96.7" fill="#b4b4ff"/>
<rect x="98.0" fill="#b5b5ff"/>
<rect x="99.2" fill="#bbbbff"/>
<rect x="100.4" fill="#e7e7ff"/>
<rect x="101.7" fill="#ddddff"/>
<rect x="102.9" fill="#dbdbff"/>
<rect x="104.2" fill="#ffe2e2"/>
<rect x="105.4" fill="#fefeff"/>
<rect x="106.6" fill="#fff4f4"/>
<rect x="107.9" fill="#ffffff"/>
<rect x="109.1" fill="#ebebff"/>
<rect x="110.3" fill="#ffdfdf"/>
<rect x="111.6" fill="#ffe2e2"/>
<rect x="112.8" fill="#f2f2ff"/>
<rect x="114.1" fill="#bdbdff"/>
<rect x="115.3" fill="#c7c7ff"/>
<rect x="116.5" fill="#c7c7ff"/>
<rect x="117.8" fill="#d4d4ff"/>
<rect x="119.0" fill="#fdfdff"/>
<rect x="120.2" fill="#fcfcff"/>
<rect x="121.5" fill="#d9d9ff"/>
<rect x="122.7" fill="#fcfcff"/>
<rect x="124.0" fill="#9f9fff"/>
<rect x="125.2" fill="#6464ff"/>
<rect x="126.4" fill="#7a7aff"/>
<rect x="127.7" fill="#8080ff"/>
<rect x="128.9" fill="#dadaff"/>
<rect x="130.1" fill="#d8d8ff"/>
<rect x="131.4" fill="#d3d3ff"/>
<rect x="132.6" fill="#f5f5ff"/>
<rect x="133.9" fill="#ffefef"/>
<rect x="135.1" fill="#ffdddd"/>
<rect x="136.3" fill="#fffbfb"/>
<rect x="137.6" fill="#ffdede"/>
<rect x="138.8" fill="#fffefe"/>
<rect x="140.0" fill="#e3e3ff"/>
<rect x="141.3" fill="#dfdfff"/>
<rect x="142.5" fill="#fafaff"/>
<rect x="143.8" fill="#ffadad"/>
<rect x="145.0" fill="#ffc2c2"/>
<rect x="146.2" fill="#ffe1e1"/>
<rect x="147.5" fill="#ffe7e7"/>
<rect x="148.7" fill="#ff9d9d"/>
<rect x="149.9" fill="#ffbbbb"/>
<rect x="151.2" fill="#ff8d8d"/>
<rect x="152.4" fill="#ffacac"/>
<rect x="153.7" fill="#ffb4b4"/>
<rect x="154.9" fill="#ffd3d3"/>
<rect x="156.1" fill="#ffadad"/>
<rect x="157.4" fill="#ffb0b0"/>
<rect x="158.6" fill="#ff9494"/>
<rect x="159.8" fill="#ff9b9b"/>
<rect x="161.1" fill="#ff9393"/>
<rect x="162.3" fill="#ff9595"/>
<rect x="163.6" fill="#ff6f6f"/>
<rect x="164.8" fill="#ff8282"/>
<rect x="166.0" fill="#ff7272"/>
<rect x="167.3" fill="#ff4848"/>
<rect x="168.5" fill="#ff8c8c"/>
<rect x="169.7" fill="#ffbbbb"/>
<rect x="171.0" fill="#ff9494"/>
<rect x="172.2" fill="#ff8a8a"/>
<rect x="173.4" fill="#ff3939"/>
<rect x="174.7" fill="#ff6b6b"/>
<rect x="175.9" fill="#ff5454"/>
<rect x="177.2" fill="#ff8282"/>
<rect x="178.4" fill="#ff6666"/>
<rect x="179.6" fill="#ff7979"/>
<rect x="180.9" fill="#ff8585"/>
<rect x="182.1" fill="#ff5555"/>
<rect x="183.4" fill="#ffbcbc"/>
<rect x="184.6" fill="#ffacac"/>
<rect x="185.8" fill="#ff8a8a"/>
<rect x="187.1" fill="#ffadad"/>
<rect x="188.3" fill="#e3e3ff"/>
<rect x="189.5" fill="#ffeded"/>
<rect x="190.8" fill="#fffdfd"/>
<rect x="192.0" fill="#ffecec"/>
<rect x="193.2" fill="#ff4242"/>
<rect x="194.5" fill="#ff3c3c"/>
<rect x="195.7" fill="#ff4a4a"/>
<rect x="197.0" fill="#ff2727"/>
<rect x="198.2" fill="#fff4f4"/>
<rect x="199.4" fill="#ffbcbc"/>
<rect x="200.7" fill="#ffeeee"/>
<rect x="201.9" fill="#ffcccc"/>
<rect x="203.2" fill="#ff4848"/>
<rect x="204.4" fill="#ff4848"/>
<rect x="205.6" fill="#ff1b1b"/>
<rect x="206.9" fill="#ff3c3c"/>
<rect x="208.1" fill="#ff4848"/>
<rect x="209.3" fill="#ff2525"/>
<rect x="210.6" fill="#ff2d2d"/>
<rect x="211.8" fill="#ff4d4d"/>
<rect x="213.1" fill="#ff0e0e"/>
<rect x="214.3" fill="#ff3737"/>
<rect x="215.5" fill="#ff5252"/>
<rect x="216.8" fill="#ff4545"/>
<rect x="218.0" fill="#ffd7d7"/>
<rect x="219.2" fill="#ffc0c0"/>
<rect x="220.5" fill="#ffe9e9"/>
<rect x="221.7" fill="#ffe9e9"/>
<rect x="223.0" fill="#ceceff"/>
<rect x="224.2" fill="#e5e5ff"/>
<rect x="225.4" fill="#fff5f5"/>
<rect x="226.7" fill="#ffe7e7"/>
<rect x="227.9" fill="#ffa5a5"/>
<rect x="229.1" fill="#ffa9a9"/>
<rect x="230.4" fill="#ffa1a1"/>
<rect x="231.6" fill="#ffabab"/>
<rect x="232.8" fill="#b2b2ff"/>
<rect x="234.1" fill="#9494ff"/>
<rect x="235.3" fill="#a9a9ff"/>
<rect x="236.6" fill="#9797ff"/>
<rect x="237.8" fill="#d9d9ff"/>
<rect x="239.0" fill="#eaeaff"/>
<rect x="240.3" fill="#ffeaea"/>
<rect x="241.5" fill="#eaeaff"/>
<rect x="242.8" fill="#6464ff"/>
<rect x="244.0" fill="#5c5cff"/>
<rect x="245.2" fill="#6363ff"/>
<rect x="246.5" fill="#4747ff"/>
<rect x="247.7" fill="#ffb9b9"/>
<rect x="248.9" fill="#ffdada"/>
<rect x="250.2" fill="#ffcccc"/>
<rect x="251.4" fill="#ffd6d6"/>
<rect x="252.7" fill="#ff4d4d"/>
<rect x="253.9" fill="#ff3232"/>
<rect x="255.1" fill="#ff4747"/>
<rect x="256.4" fill="#ff5858"/>
<rect x="257.6" fill="#ff6161"/>
<rect x="258.8" fill="#ff5b5b"/>
<rect x="260.1" fill="#ff5e5e"/>
<rect x="261.3" fill="#ff3333"/>
<rect x="262.6" fill="#ffd7d7"/>
<rect x="263.8" fill="#ffacac"/>
<rect x="265.0" fill="#ff9d9d"/>
<rect x="266.3" fill="#ff9191"/>
<rect x="267.5" fill="#ffcaca"/>
<rect x="268.7" fill="#ffd3d3"/>
<rect x="270.0" fill="#ffe6e6"/>
<rect x="271.2" fill="#ffd3d3"/>
<rect x="272.5" fill="#ff9a9a"/>
<rect x="273.7" fill="#ff8787"/>
<rect x="274.9" fill="#ff8585"/>
<rect x="276.2" fill="#ffaaaa"/>
<rect x="277.4" fill="#ffdada"/>
<rect x="278.6" fill="#ffd3d3"/>
<rect x="279.9" fill="#fffafa"/>
<rect x="281.1" fill="#f4f4ff"/>
<rect x="282.4" fill="#fff2f2"/>
<rect x="283.6" fill="#fefeff"/>
<rect x="284.8" fill="#ffd4d4"/>
<rect x="286.1" fill="#ffe7e7"/>
</g>
<g transform="translate(0,203.78)">
<rect x="69.5" fill="#dedeff"/>
<rect x="70.7" fill="#d6d6ff"/>
<rect x="72.0" fill="#d7d7ff"/>
<rect x="73.2" fill="#d6d6ff"/>
<rect x="74.5" fill="#eeeeff"/>
<rect x="75.7" fill="#f5f5ff"/>
<rect x="76.9" fill="#ebebff"/>
<rect x="78.2" fill="#fffdfd"/>
<rect x="79.4" fill="#bbbbff"/>
<rect x="80.6" fill="#e8e8ff"/>
<rect x="81.9" fill="#fffdfd"/>
<rect x="83.1" fill="#f9f9ff"/>
<rect x="84.3" fill="#b0b0ff"/>
<rect x="85.6" fill="#aaaaff"/>
<rect x="86.8" fill="#adadff"/>
<rect x="88.1" fill="#8383ff"/>
<rect x="89.3" fill="#eaeaff"/>
<rect x="90.5" fill="#f7f7ff"/>
<rect x="91.8" fill="#e2e2ff"/>
<rect x="93.0" fill="#d1d1ff"/>
<rect x="94.2" fill="#ffcdcd"/>
<rect x="95.5" fill="#ffdada"/>
<rect x="96.7" fill="#ffd4d4"/>
<rect x="98.0" fill="#ffb0b0"/>
<rect x="99.2" fill="#ff8b8b"/>
<rect x="100.4" fill="#ffaaaa"/>
<rect x="101.7" fill="#ff7f7f"/>
<rect x="102.9" fill="#ff9d9d"/>
<rect x="104.2" fill="#ff8b8b"/>
<rect x="105.4" fill="#ff6767"/>
<rect x="106.6" fill="#ff8787"/>
<rect x="107.9" fill="#ff8585"/>
<rect x="109.1" fill="#ff9595"/>
<rect x="110.3" fill="#ff8f8f"/>
<rect x="111.6" fill="#ffc2c2"/>
<rect x="112.8" fill="#ffb5b5"/>
<rect x="114.1" fill="#ffe0e0"/>
<rect x="115.3" fill="#ffd9d9"/>
<rect x="116.5" fill="#ffeded"/>
<rect x="117.8" fill="#ffd6d6"/>
<rect x="119.0" fill="#dadaff"/>
<rect x="120.2" fill="#ddddff"/>
<rect x="121.5" fill="#e5e5ff"/>
<rect x="122.7" fill="#ffe7e7"/>
<rect x="124.0" fill="#b9b9ff"/>
<rect x="125.2" fill="#dbdbff"/>
<rect x="126.4" fill="#bdbdff"/>
<rect x="127.7" fill="#ceceff"/>
<rect x="128.9" fill="#c7c7ff"/>
<rect x="130.1" fill="#c9c9ff"/>
<rect x="131.4" fill="#e2e2ff"/>
<rect x="132.6" fill="#d0d0ff"/>
<rect x="133.9" fill="#e0e0ff"/>
<rect x="135.1" fill="#d2d2ff"/>
<rect x="136.3" fill="#c9c9ff"/>
<rect x="137.6" fill="#fffbfb"/>
<rect x="138.8" fill="#dedeff"/>
<rect x="140.0" fill="#fdfdff"/>
<rect x="141.3" fill="#f4f4ff"/>
<rect x="142.5" fill="#babaff"/>
<rect x="143.8" fill="#fffcfc"/>
<rect x="145.0" fill="#ffe7e7"/>
<rect x="146.2" fill="#ffe2e2"/>
<rect x="147.5" fill="#fff2f2"/>
<rect x="148.7" fill="#ffd7d7"/>
<rect x="149.9" fill="#ffd7d7"/>
<rect x="151.2" fill="#ffbbbb"/>
<rect x="152.4" fill="#ffdada"/>
<rect x="153.7" fill="#cfcfff"/>
<rect x="154.9" fill="#ceceff"/>
<rect x="156.1" fill="#f5f5ff"/>
<rect x="157.4" fill="#fafaff"/>
<rect x="158.6" fill="#ff9b9b"/>
<rect x="159.8" fill="#ff9e9e"/>
<rect x="161.1" fill="#ffcaca"/>
<rect x="162.3" fill="#ffe4e4"/>
<rect x="163.6" fill="#f6f6ff"/>
<rect x="164.8" fill="#e7e7ff"/>
<rect x="166.0" fill="#eeeeff"/>
<rect x="167.3" fill="#fff8f8"/>
<rect x="168.5" fill="#ffacac"/>
<rect x="169.7" fill="#ffb9b9"/>
<rect x="171.0" fill="#ffacac"/>
<rect x="172.2" fill="#ffe2e2"/>
<rect x="173.4" fill="#ececff"/>
<rect x="174.7" fill="#ffdfdf"/>
<rect x="175.9" fill="#f1f1ff"/>
<rect x="177.2" fill="#f2f2ff"/>
<rect x="178.4" fill="#ffcdcd"/>
<rect x="179.6" fill="#ffd8d8"/>
<rect x="180.9" fill="#ff9a9a"/>
<rect x="182.1" fill="#ff7777"/>
<rect x="183.4" fill="#ff8383"/>
<rect x="184.6" fill="#ffb3b3"/>
<rect x="185.8" fill="#ffbbbb"/>
<rect x="187.1" fill="#ffc4c4"/>
<rect x="188.3" fill="#fefeff"/>
<rect x="189.5" fill="#fff1f1"/>
<rect x="190.8" fill="#fffdfd"/>
<rect x="192.0" fill="#fffcfc"/>
<rect x="193.2" fill="#b3b3ff"/>
<rect x="194.5" fill="#c7c7ff"/>
<rect x="195.7" fill="#f1f1ff"/>
<rect x="197.0" fill="#f4f4ff"/>
<rect x="198.2" fill="#eeeeff"/>
<rect x="199.4" fill="#f9f9ff"/>
<rect x="200.7" fill="#fff0f0"/>
<rect x="201.9" fill="#f2f2ff"/>
<rect x="203.2" fill="#ebebff"/>
<rect x="204.4" fill="#dadaff"/>
<rect x="205.6" fill="#e6e6ff"/>
<rect x="206.9" fill="#d2d2ff"/>
<rect x="208.1" fill="#ffd6d6"/>
<rect x="209.3" fill="#ffd5d5"/>
<rect x="210.6" fill="#ffe6e6"/>
<rect x="211.8" fill="#ededff"/>
<rect x="213.1" fill="#c4c4ff"/>
<rect x="214.3" fill="#a5a5ff"/>
<rect x="215.5" fill="#c5c5ff"/>
<rect x="216.8" fill="#ebebff"/>
<rect x="218.0" fill="#c3c3ff"/>
<rect x="219.2" fill="#cbcbff"/>
<rect x="220.5" fill="#cdcdff"/>
<rect x="221.7" fill="#c8c8ff"/>
<rect x="223.0" fill="#b0b0ff"/>
<rect x="224.2" fill="#cdcdff"/>
<rect x="225.4" fill="#c7c7ff"/>
<rect x="226.7" fill="#b1b1ff"/>
<rect x="227.9" fill="#cfcfff"/>
<rect x="229.1" fill="#a9a9ff"/>
<rect x="230.4" fill="#babaff"/>
<rect x="231.6" fill="#babaff"/>
<rect x="232.8" fill="#f1f1ff"/>
<rect x="234.1" fill="#fcfcff"/>
<rect x="235.3" fill="#ceceff"/>
<rect x="236.6" fill="#dadaff"/>
<rect x="237.8" fill="#fbfbff"/>
<rect x="239.0" fill="#fff3f3"/>
<rect x="240.3" fill="#ffd3d3"/>
<rect x="241.5" fill="#ffe0e0"/>
<rect x="242.8" fill="#b7b7ff"/>
<rect x="244.0" fill="#c3c3ff"/>
<rect x="245.2" fill="#dcdcff"/>
<rect x="246.5" fill="#f5f5ff"/>
<rect x="247.7" fill="#eeeeff"/>
<rect x="248.9" fill="#f8f8ff"/>
<rect x="250.2" fill="#bbbbff"/>
<rect x="251.4" fill="#ebebff"/>
<rect x="252.7" fill="#ffe0e0"/>
<rect x="253.9" fill="#ffe9e9"/>
<rect x="255.1" fill="#ffd4d4"/>
<rect x="256.4" fill="#ffcccc"/>
<rect x="257.6" fill="#ffdbdb"/>
<rect x="258.8" fill="#ffbcbc"/>
<rect x="260.1" fill="#ffb2b2"/>
<rect x="261.3" fill="#ffdbdb"/>
<rect x="262.6" fill="#ffc2c2"/>
<rect x="263.8" fill="#ffc3c3"/>
<rect x="265.0" fill="#ffe4e4"/>
<rect x="266.3" fill="#ffc1c1"/>
<rect x="267.5" fill="#ffe7e7"/>
<rect x="268.7" fill="#ffd2d2"/>
<rect x="270.0" fill="#ffd7d7"/>
<rect x="271.2" fill="#ffe8e8"/>
<rect x="272.5" fill="#fafaff"/>
<rect x="273.7" fill="#fafaff"/>
<rect x="274.9" fill="#e5e5ff"/>
<rect x="276.2" fill="#ffe5e5"/>
<rect x="277.4" fill="#ffe8e8"/>
<rect x="278.6" fill="#fafaff"/>
<rect x="279.9" fill="#ffe9e9"/>
<rect x="281.1" fill="#ffc0c0"/>
<rect x="282.4" fill="#ffebeb"/>
<rect x="283.6" fill="#ffe1e1"/>
<rect x="284.8" fill="#fff3f3"/>
<rect x="286.1" fill="#ffebeb"/>
</g>
<g transform="translate(0,209.76)">
<rect x="69.5" fill="#f2f2ff"/>
<rect x="70.7" fill="#e6e6ff"/>
<rect x="72.0" fill="#f4f4ff"/>
<rect x="73.2" fill="#d3d3ff"/>
<rect x="74.5" fill="#ffd9d9"/>
<rect x="75.7" fill="#ffa7a7"/>
<rect x="76.9" fill="#ffbfbf"/>
<rect x="78.2" fill="#ff9b9b"/>
<rect x="79.4" fill="#ffb6b6"/>
<rect x="80.6" fill="#ffcdcd"/>
<rect x="81.9" fill="#ffc1c1"/>
<rect x="83.1" fill="#ffb2b2"/>
<rect x="84.3" fill="#ffd3d3"/>
<rect x="85.6" fill="#f5f5ff"/>
<rect x="86.8" fill="#dfdfff"/>
<rect x="88.1" fill="#e7e7ff"/>
<rect x="89.3" fill="#c3c3ff"/>
<rect x="90.5" fill="#babaff"/>
<rect x="91.8" fill="#9f9fff"/>
<rect x="93.0" fill="#bfbfff"/>
<rect x="94.2" fill="#efefff"/>
<rect x="95.5" fill="#d4d4ff"/>
<rect x="96.7" fill="#d5d5ff"/>
<rect x="98.0" fill="#c9c9ff"/>
<rect x="99.2" fill="#f7f7ff"/>
<rect x="100.4" fill="#ffe4e4"/>
<rect x="101.7" fill="#fbfbff"/>
<rect x="102.9" fill="#fff4f4"/>
<rect x="104.2" fill="#d5d5ff"/>
<rect x="105.4" fill="#d6d6ff"/>
<rect x="106.6" fill="#f5f5ff"/>
<rect x="107.9" fill="#bfbfff"/>
<rect x="109.1" fill="#e3e3ff"/>
<rect x="110.3" fill="#c9c9ff"/>
<rect x="111.6" fill="#dadaff"/>
<rect x="112.8" fill="#ededff"/>
<rect x="114.1" fill="#eaeaff"/>
<rect x="115.3" fill="#d4d4ff"/>
<rect x="116.5" fill="#eeeeff"/>
<rect x="117.8" fill="#bdbdff"/>
<rect x="119.0" fill="#d3d3ff"/>
<rect x="120.2" fill="#c9c9ff"/>
<rect x="121.5" fill="#d0d0ff"/>
<rect x="122.7" fill="#ededff"/>
<rect x="124.0" fill="#ffdada"/>
<rect x="125.2" fill="#ffe4e4"/>
<rect x="126.4" fill="#fcfcff"/>
<rect x="127.7" fill="#e8e8ff"/>
<rect x="128.9" fill="#f1f1ff"/>
<rect x="130.1" fill="#e3e3ff"/>
<rect x="131.4" fill="#e0e0ff"/>
<rect x="132.6" fill="#ffe8e8"/>
<rect x="133.9" fill="#bcbcff"/>
<rect x="135.1" fill="#e2e2ff"/>
<rect x="136.3" fill="#cfcfff"/>
<rect x="137.6" fill="#c5c5ff"/>
<rect x="138.8" fill="#8f8fff"/>
<rect x="140.0" fill="#7878ff"/>
<rect x="141.3" fill="#8c8cff"/>
<rect x="142.5" fill="#7e7eff"/>
<rect x="143.8" fill="#8e8eff"/>
<rect x="145.0" fill="#8888ff"/>
<rect x="146.2" fill="#b7b7ff"/>
<rect x="147.5" fill="#cfcfff"/>
<rect x="148.7" fill="#fff0f0"/>
<rect x="149.9" fill="#ffeded"/>
<rect x="151.2" fill="#ffd4d4"/>
<rect x="152.4" fill="#fffafa"/>
<rect x="153.7" fill="#ffefef"/>
<rect x="154.9" fill="#fff4f4"/>
<rect x="156.1" fill="#fffafa"/>
<rect x="157.4" fill="#ffd5d5"/>
<rect x="158.6" fill="#ffdddd"/>
<rect x="159.8" fill="#ffe2e2"/>
<rect x="161.1" fill="#ffc1c1"/>
<rect x="162.3" fill="#ffe0e0"/>
<rect x="163.6" fill="#ffecec"/>
<rect x="164.8" fill="#ffecec"/>
<rect x="166.0" fill="#fffefe"/>
<rect x="167.3" fill="#ffe4e4"/>
<rect x="168.5" fill="#ffd2d2"/>
<rect x="169.7" fill="#ffb3b3"/>
<rect x="171.0" fill="#ffa1a1"/>
<rect x="172.2" fill="#ffbbbb"/>
<rect x="173.4" fill="#ebebff"/>
<rect x="174.7" fill="#fffdfd"/>
<rect x="175.9" fill="#fbfbff"/>
<rect x="177.2" fill="#f8f8ff"/>
<rect x="178.4" fill="#ffcfcf"/>
<rect x="179.6" fill="#ffc6c6"/>
<rect x="180.9" fill="#ffd1d1"/>
<rect x="182.1" fill="#ffc3c3"/>
<rect x="183.4" fill="#fff5f5"/>
<rect x="184.6" fill="#fff1f1"/>
<rect x="185.8" fill="#ffebeb"/>
<rect x="187.1" fill="#fdfdff"/>
<rect x="188.3" fill="#f6f6ff"/>
<rect x="189.5" fill="#e0e0ff"/>
<rect x="190.8" fill="#ffe7e7"/>
<rect x="192.0" fill="#fefeff"/>
<rect x="193.2" fill="#fcfcff"/>
<rect x="194.5" fill="#ffe0e0"/>
<rect x="195.7" fill="#f3f3ff"/>
<rect x="197.0" fill="#ffdfdf"/>
<rect x="198.2" fill="#efefff"/>
<rect x="199.4" fill="#d1d1ff"/>
<rect x="200.7" fill="#dedeff"/>
<rect x="201.9" fill="#e5e5ff"/>
<rect x="203.2" fill="#b9b9ff"/>
<rect x="204.4" fill="#ccccff"/>
<rect x="205.6" fill="#cbcbff"/>
<rect x="206.9" fill="#b0b0ff"/>
<rect x="208.1" fill="#dadaff"/>
<rect x="209.3" fill="#c0c0ff"/>
<rect x="210.6" fill="#e5e5ff"/>
<rect x="211.8" fill="#d1d1ff"/>
<rect x="213.1" fill="#ffe3e3"/>
<rect x="214.3" fill="#ffcece"/>
<rect x="215.5" fill="#ffecec"/>
<rect x="216.8" fill="#ffecec"/>
<rect x="218.0" fill="#ffe8e8"/>
<rect x="219.2" fill="#e8e8ff"/>
<rect x="220.5" fill="#d8d8ff"/>
<rect x="221.7" fill="#d5d5ff"/>
<rect x="223.0" fill="#d8d8ff"/>
<rect x="224.2" fill="#e7e7ff"/>
<rect x="225.4" fill="#e0e0ff"/>
<rect x="226.7" fill="#e4e4ff"/>
<rect x="227.9" fill="#b0b0ff"/>
<rect x="229.1" fill="#adadff"/>
<rect x="230.4" fill="#cacaff"/>
<rect x="231.6" fill="#c1c1ff"/>
<rect x="232.8" fill="#ededff"/>
<rect x="234.1" fill="#fff1f1"/>
<rect x="235.3" fill="#e1e1ff"/>
<rect x="236.6" fill="#d5d5ff"/>
<rect x="237.8" fill="#ffc8c8"/>
<rect x="239.0" fill="#ffd3d3"/>
<rect x="240.3" fill="#ffbbbb"/>
<rect x="241.5" fill="#ffe5e5"/>
<rect x="242.8" fill="#cacaff"/>
<rect x="244.0" fill="#eaeaff"/>
<rect x="245.2" fill="#cfcfff"/>
<rect x="246.5" fill="#e6e6ff"/>
<rect x="247.7" fill="#e4e4ff"/>
<rect x="248.9" fill="#d1d1ff"/>
<rect x="250.2" fill="#fafaff"/>
<rect x="251.4" fill="#dbdbff"/>
<rect x="252.7" fill="#ffcfcf"/>
<rect x="253.9" fill="#ffc6c6"/>
<rect x="255.1" fill="#ffdbdb"/>
<rect x="256.4" fill="#ffbaba"/>
<rect x="257.6" fill="#ffeded"/>
<rect x="258.8" fill="#fff0f0"/>
<rect x="260.1" fill="#fff5f5"/>
<rect x="261.3" fill="#ffd3d3"/>
<rect x="262.6" fill="#fff1f1"/>
<rect x="263.8" fill="#fff6f6"/>
<rect x="265.0" fill="#e6e6ff"/>
<rect x="266.3" fill="#d3d3ff"/>
<rect x="267.5" fill="#d4d4ff"/>
<rect x="268.7" fill="#adadff"/>
<rect x="270.0" fill="#a1a1ff"/>
<rect x="271.2" fill="#e4e4ff"/>
<rect x="272.5" fill="#bbbbff"/>
<rect x="273.7" fill="#ebebff"/>
<rect x="274.9" fill="#ebebff"/>
<rect x="276.2" fill="#ffffff"/>
<rect x="277.4" fill="#c3c3ff"/>
<rect x="278.6" fill="#bbbbff"/>
<rect x="279.9" fill="#dfdfff"/>
<rect x="281.1" fill="#afafff"/>
<rect x="282.4" fill="#a2a2ff"/>
<rect x="283.6" fill="#b0b0ff"/>
<rect x="284.8" fill="#a7a7ff"/>
<rect x="286.1" fill="#a2a2ff"/>
</g>
<g transform="translate(0,215.74)">
<rect x="69.5" fill="#fff1f1"/>
<rect x="70.7" fill="#e4e4ff"/>
<rect x="72.0" fill="#ffe5e5"/>
<rect x="73.2" fill="#ffe7e7"/>
<rect x="74.5" fill="#ffebeb"/>
<rect x="75.7" fill="#ffbcbc"/>
<rect x="76.9" fill="#ffdddd"/>
<rect x="78.2" fill="#ffd8d8"/>
<rect x="79.4" fill="#ffa1a1"/>
<rect x="80.6" fill="#ffc0c0"/>
<rect x="81.9" fill="#ffb0b0"/>
<rect x="83.1" fill="#ffcdcd"/>
<rect x="84.3" fill="#fffcfc"/>
<rect x="85.6" fill="#ffc2c2"/>
<rect x="86.8" fill="#ffb0b0"/>
<rect x="88.1" fill="#ffc0c0"/>
<rect x="89.3" fill="#babaff"/>
<rect x="90.5" fill="#ccccff"/>
<rect x="91.8" fill="#9898ff"/>
<rect x="93.0" fill="#9e9eff"/>
<rect x="94.2" fill="#dedeff"/>
<rect x="95.5" fill="#d1d1ff"/>
<rect x="96.7" fill="#cacaff"/>
<rect x="98.0" fill="#d0d0ff"/>
<rect x="99.2" fill="#9797ff"/>
<rect x="100.4" fill="#a0a0ff"/>
<rect x="101.7" fill="#b1b1ff"/>
<rect x="102.9" fill="#cdcdff"/>
<rect x="104.2" fill="#ffe4e4"/>
<rect x="105.4" fill="#ffd2d2"/>
<rect x="106.6" fill="#ffd9d9"/>
<rect x="107.9" fill="#ffeded"/>
<rect x="109.1" fill="#ffa7a7"/>
<rect x="110.3" fill="#ffdada"/>
<rect x="111.6" fill="#fff5f5"/>
<rect x="112.8" fill="#ffc7c7"/>
<rect x="114.1" fill="#e0e0ff"/>
<rect x="115.3" fill="#c0c0ff"/>
<rect x="116.5" fill="#bfbfff"/>
<rect x="117.8" fill="#b9b9ff"/>
<rect x="119.0" fill="#eeeeff"/>
<rect x="120.2" fill="#f2f2ff"/>
<rect x="121.5" fill="#f1f1ff"/>
<rect x="122.7" fill="#ffeded"/>
<rect x="124.0" fill="#ff0202"/>
<rect x="125.2" fill="#ff1010"/>
<rect x="126.4" fill="#ff1d1d"/>
<rect x="127.7" fill="#ff3232"/>
<rect x="128.9" fill="#ff5757"/>
<rect x="130.1" fill="#ff3737"/>
<rect x="131.4" fill="#ff6767"/>
<rect x="132.6" fill="#ff5656"/>
<rect x="133.9" fill="#ffbaba"/>
<rect x="135.1" fill="#ffbaba"/>
<rect x="136.3" fill="#ffeded"/>
<rect x="137.6" fill="#ffd9d9"/>
<rect x="138.8" fill="#ffbfbf"/>
<rect x="140.0" fill="#ffc9c9"/>
<rect x="141.3" fill="#ffaeae"/>
<rect x="142.5" fill="#ff9c9c"/>
<rect x="143.8" fill="#ff9696"/>
<rect x="145.0" fill="#ff8989"/>
<rect x="146.2" fill="#ff8787"/>
<rect x="147.5" fill="#ff9999"/>
<rect x="148.7" fill="#dfdfff"/>
<rect x="149.9" fill="#fff7f7"/>
<rect x="151.2" fill="#ffe1e1"/>
<rect x="152.4" fill="#ffd6d6"/>
<rect x="153.7" fill="#ffe5e5"/>
<rect x="154.9" fill="#e5e5ff"/>
<rect x="156.1" fill="#dbdbff"/>
<rect x="157.4" fill="#cfcfff"/>
<rect x="158.6" fill="#ff7171"/>
<rect x="159.8" fill="#ff6767"/>
<rect x="161.1" fill="#ff8080"/>
<rect x="162.3" fill="#ff4d4d"/>
<rect x="163.6" fill="#ff9f9f"/>
<rect x="164.8" fill="#ff9a9a"/>
<rect x="166.0" fill="#ffbbbb"/>
<rect x="167.3" fill="#ffd8d8"/>
<rect x="168.5" fill="#ffecec"/>
<rect x="169.7" fill="#ffc3c3"/>
<rect x="171.0" fill="#ffbaba"/>
<rect x="172.2" fill="#ffd9d9"/>
<rect x="173.4" fill="#ffe2e2"/>
<rect x="174.7" fill="#ffecec"/>
<rect x="175.9" fill="#fffefe"/>
<rect x="177.2" fill="#f9f9ff"/>
<rect x="178.4" fill="#ff9494"/>
<rect x="179.6" fill="#ffa0a0"/>
<rect x="180.9" fill="#ff9595"/>
<rect x="182.1" fill="#ffbcbc"/>
<rect x="183.4" fill="#ff9e9e"/>
<rect x="184.6" fill="#ffb3b3"/>
<rect x="185.8" fill="#ff8989"/>
<rect x="187.1" fill="#ffafaf"/>
<rect x="188.3" fill="#ececff"/>
<rect x="189.5" fill="#fafaff"/>
<rect x="190.8" fill="#f4f4ff"/>
<rect x="192.0" fill="#fcfcff"/>
<rect x="193.2" fill="#ffb0b0"/>
<rect x="194.5" fill="#ffdbdb"/>
<rect x="195.7" fill="#ffbfbf"/>
<rect x="197.0" fill="#ffb9b9"/>
<rect x="198.2" fill="#ffdddd"/>
<rect x="199.4" fill="#fff4f4"/>
<rect x="200.7" fill="#fffefe"/>
<rect x="201.9" fill="#f3f3ff"/>
<rect x="203.2" fill="#f7f7ff"/>
<rect x="204.4" fill="#e8e8ff"/>
<rect x="205.6" fill="#dbdbff"/>
<rect x="206.9" fill="#ededff"/>
<rect x="208.1" fill="#ffc4c4"/>
<rect x="209.3" fill="#ffb5b5"/>
<rect x="210.6" fill="#ffa5a5"/>
<rect x="211.8" fill="#ffb4b4"/>
<rect x="213.1" fill="#fff3f3"/>
<rect x="214.3" fill="#ffd8d8"/>
<rect x="215.5" fill="#ffb7b7"/>
<rect x="216.8" fill="#ffdcdc"/>
<rect x="218.0" fill="#d6d6ff"/>
<rect x="219.2" fill="#e0e0ff"/>
<rect x="220.5" fill="#f7f7ff"/>
<rect x="221.7" fill="#f1f1ff"/>
<rect x="223.0" fill="#a2a2ff"/>
<rect x="224.2" fill="#8b8bff"/>
<rect x="225.4" fill="#b4b4ff"/>
<rect x="226.7" fill="#9a9aff"/>
<rect x="227.9" fill="#a5a5ff"/>
<rect x="229.1" fill="#dcdcff"/>
<rect x="230.4" fill="#bdbdff"/>
<rect x="231.6" fill="#b9b9ff"/>
<rect x="232.8" fill="#e5e5ff"/>
<rect x="234.1" fill="#e0e0ff"/>
<rect x="235.3" fill="#fffbfb"/>
<rect x="236.6" fill="#f4f4ff"/>
<rect x="237.8" fill="#ffdbdb"/>
<rect x="239.0" fill="#ffdcdc"/>
<rect x="240.3" fill="#ffbbbb"/>
<rect x="241.5" fill="#ffeeee"/>
<rect x="242.8" fill="#ffd8d8"/>
<rect x="244.0" fill="#fff2f2"/>
<rect x="245.2" fill="#fffcfc"/>
<rect x="246.5" fill="#ffdcdc"/>
<rect x="247.7" fill="#ffb2b2"/>
<rect x="248.9" fill="#ffcdcd"/>
<rect x="250.2" fill="#ffafaf"/>
<rect x="251.4" fill="#ff8787"/>
<rect x="252.7" fill="#ffe6e6"/>
<rect x="253.9" fill="#fff4f4"/>
<rect x="255.1" fill="#ffe2e2"/>
<rect x="256.4" fill="#ffd0d0"/>
<rect x="257.6" fill="#ffd8d8"/>
<rect x="258.8" fill="#ffe5e5"/>
<rect x="260.1" fill="#ffb4b4"/>
<rect x="261.3" fill="#ffa1a1"/>
<rect x="262.6" fill="#ceceff"/>
<rect x="263.8" fill="#e0e0ff"/>
<rect x="265.0" fill="#f7f7ff"/>
<rect x="266.3" fill="#e9e9ff"/>
<rect x="267.5" fill="#ffb6b6"/>
<rect x="268.7" fill="#ffc3c3"/>
<rect x="270.0" fill="#ffe0e0"/>
<rect x="271.2" fill="#ffefef"/>
<rect x="272.5" fill="#ceceff"/>
<rect x="273.7" fill="#f6f6ff"/>
<rect x="274.9" fill="#dedeff"/>
<rect x="276.2" fill="#fafaff"/>
<rect x="277.4" fill="#9898ff"/>
<rect x="278.6" fill="#9999ff"/>
<rect x="279.9" fill="#c5c5ff"/>
<rect x="281.1" fill="#aaaaff"/>
<rect x="282.4" fill="#ff6565"/>
<rect x="283.6" fill="#ff6f6f"/>
<rect x="284.8" fill="#ff8181"/>
<rect x="286.1" fill="#ff8989"/>
</g>
<g transform="translate(0,221.72)">
<rect x="69.5" fill="#fffcfc"/>
<rect x="70.7" fill="#ffe4e4"/>
<rect x="72.0" fill="#eaeaff"/>
<rect x="73.2" fill="#ffe4e4"/>
<rect x="74.5" fill="#ebebff"/>
<rect x="75.7" fill="#b9b9ff"/>
<rect x="76.9" fill="#d7d7ff"/>
<rect x="78.2" fill="#ccccff"/>
<rect x="79.4" fill="#fefeff"/>
<rect x="80.6" fill="#dedeff"/>
<rect x="81.9" fill="#f1f1ff"/>
<rect x="83.1" fill="#fafaff"/>
<rect x="84.3" fill="#ff5151"/>
<rect x="85.6" fill="#ff5656"/>
<rect x="86.8" fill="#ff4e4e"/>
<rect x="88.1" fill="#ff4848"/>
<rect x="89.3" fill="#ffdada"/>
<rect x="90.5" fill="#fffcfc"/>
<rect x="91.8" fill="#ffe6e6"/>
<rect x="93.0" fill="#fff9f9"/>
<rect x="94.2" fill="#a2a2ff"/>
<rect x="95.5" fill="#adadff"/>
<rect x="96.7" fill="#c4c4ff"/>
<rect x="98.0" fill="#d5d5ff"/>
<rect x="99.2" fill="#fff1f1"/>
<rect x="100.4" fill="#ffd5d5"/>
<rect x="101.7" fill="#f2f2ff"/>
<rect x="102.9" fill="#fefeff"/>
<rect x="104.2" fill="#fff3f3"/>
<rect x="105.4" fill="#ffd3d3"/>
<rect x="106.6" fill="#ffd7d7"/>
<rect x="107.9" fill="#fff1f1"/>
<rect x="109.1" fill="#b3b3ff"/>
<rect x="110.3" fill="#d1d1ff"/>
<rect x="111.6" fill="#cfcfff"/>
<rect x="112.8" fill="#f4f4ff"/>
<rect x="114.1" fill="#a7a7ff"/>
<rect x="115.3" fill="#9898ff"/>
<rect x="116.5" fill="#c1c1ff"/>
<rect x="117.8" fill="#b9b9ff"/>
<rect x="119.0" fill="#8d8dff"/>
<rect x="120.2" fill="#b0b0ff"/>
<rect x="121.5" fill="#9e9eff"/>
<rect x="122.7" fill="#c5c5ff"/>
<rect x="124.0" fill="#ececff"/>
<rect x="125.2" fill="#f6f6ff"/>
<rect x="126.4" fill="#fffcfc"/>
<rect x="127.7" fill="#e8e8ff"/>
<rect x="128.9" fill="#fffdfd"/>
<rect x="130.1" fill="#c0c0ff"/>
<rect x="131.4" fill="#bcbcff"/>
<rect x="132.6" fill="#e3e3ff"/>
<rect x="133.9" fill="#8383ff"/>
<rect x="135.1" fill="#a3a3ff"/>
<rect x="136.3" fill="#ccccff"/>
<rect x="137.6" fill="#c7c7ff"/>
<rect x="138.8" fill="#ffffff"/>
<rect x="140.0" fill="#c3c3ff"/>
<rect x="141.3" fill="#ceceff"/>
<rect x="142.5" fill="#d9d9ff"/>
<rect x="143.8" fill="#cfcfff"/>
<rect x="145.0" fill="#cacaff"/>
<rect x="146.2" fill="#e5e5ff"/>
<rect x="147.5" fill="#bfbfff"/>
<rect x="148.7" fill="#d2d2ff"/>
<rect x="149.9" fill="#f2f2ff"/>
<rect x="151.2" fill="#ffdfdf"/>
<rect x="152.4" fill="#ffd6d6"/>
<rect x="153.7" fill="#c4c4ff"/>
<rect x="154.9" fill="#a1a1ff"/>
<rect x="156.1" fill="#c3c3ff"/>
<rect x="157.4" fill="#8c8cff"/>
<rect x="158.6" fill="#b2b2ff"/>
<rect x="159.8" fill="#dbdbff"/>
<rect x="161.1" fill="#f6f6ff"/>
<rect x="162.3" fill="#dadaff"/>
<rect x="163.6" fill="#ffdada"/>
<rect x="164.8" fill="#f0f0ff"/>
<rect x="166.0" fill="#fffefe"/>
<rect x="167.3" fill="#dcdcff"/>
<rect x="168.5" fill="#fff7f7"/>
<rect x="169.7" fill="#fffbfb"/>
<rect x="171.0" fill="#f2f2ff"/>
<rect x="172.2" fill="#fff3f3"/>
<rect x="173.4" fill="#f0f0ff"/>
<rect x="174.7" fill="#e6e6ff"/>
<rect x="175.9" fill="#fffefe"/>
<rect x="177.2" fill="#dbdbff"/>
<rect x="178.4" fill="#ff3232"/>
<rect x="179.6" fill="#ff2828"/>
<rect x="180.9" fill="#ff2e2e"/>
<rect x="182.1" fill="#ff0606"/>
<rect x="183.4" fill="#ffe2e2"/>
<rect x="184.6" fill="#ffdfdf"/>
<rect x="185.8" fill="#ffdbdb"/>
<rect x="187.1" fill="#ffe0e0"/>
<rect x="188.3" fill="#ffdfdf"/>
<rect x="189.5" fill="#ffebeb"/>
<rect x="190.8" fill="#fff5f5"/>
<rect x="192.0" fill="#ffffff"/>
<rect x="193.2" fill="#fafaff"/>
<rect x="194.5" fill="#ffdddd"/>
<rect x="195.7" fill="#ffd7d7"/>
<rect x="197.0" fill="#ffe1e1"/>
<rect x="198.2" fill="#c3c3ff"/>
<rect x="199.4" fill="#d2d2ff"/>
<rect x="200.7" fill="#b3b3ff"/>
<rect x="201.9" fill="#b8b8ff"/>
<rect x="203.2" fill="#cdcdff"/>
<rect x="204.4" fill="#f9f9ff"/>
<rect x="205.6" fill="#ffdbdb"/>
<rect x="206.9" fill="#ffe3e3"/>
<rect x="208.1" fill="#e3e3ff"/>
<rect x="209.3" fill="#c5c5ff"/>
<rect x="210.6" fill="#c7c7ff"/>
<rect x="211.8" fill="#cacaff"/>
<rect x="213.1" fill="#9a9aff"/>
<rect x="214.3" fill="#8c8cff"/>
<rect x="215.5" fill="#8282ff"/>
<rect x="216.8" fill="#a9a9ff"/>
<rect x="218.0" fill="#cbcbff"/>
<rect x="219.2" fill="#cfcfff"/>
<rect x="220.5" fill="#c1c1ff"/>
<rect x="221.7" fill="#8a8aff"/>
<rect x="223.0" fill="#b6b6ff"/>
<rect x="224.2" fill="#e0e0ff"/>
<rect x="225.4" fill="#ffffff"/>
<rect x="226.7" fill="#e9e9ff"/>
<rect x="227.9" fill="#b4b4ff"/>
<rect x="229.1" fill="#babaff"/>
<rect x="230.4" fill="#9999ff"/>
<rect x="231.6" fill="#b0b0ff"/>
<rect x="232.8" fill="#9e9eff"/>
<rect x="234.1" fill="#bdbdff"/>
<rect x="235.3" fill="#acacff"/>
<rect x="236.6" fill="#b4b4ff"/>
<rect x="237.8" fill="#b0b0ff"/>
<rect x="239.0" fill="#acacff"/>
<rect x="240.3" fill="#a4a4ff"/>
<rect x="241.5" fill="#c8c8ff"/>
<rect x="242.8" fill="#c9c9ff"/>
<rect x="244.0" fill="#aeaeff"/>
<rect x="245.2" fill="#a8a8ff"/>
<rect x="246.5" fill="#c6c6ff"/>
<rect x="247.7" fill="#c7c7ff"/>
<rect x="248.9" fill="#c0c0ff"/>
<rect x="250.2" fill="#d6d6ff"/>
<rect x="251.4" fill="#9b9bff"/>
<rect x="252.7" fill="#d5d5ff"/>
<rect x="253.9" fill="#ddddff"/>
<rect x="255.1" fill="#d3d3ff"/>
<rect x="256.4" fill="#f8f8ff"/>
<rect x="257.6" fill="#fff5f5"/>
<rect x="258.8" fill="#e1e1ff"/>
<rect x="260.1" fill="#e2e2ff"/>
<rect x="261.3" fill="#eeeeff"/>
<rect x="262.6" fill="#eeeeff"/>
<rect x="263.8" fill="#d3d3ff"/>
<rect x="265.0" fill="#eaeaff"/>
<rect x="266.3" fill="#d0d0ff"/>
<rect x="267.5" fill="#8686ff"/>
<rect x="268.7" fill="#a3a3ff"/>
<rect x="270.0" fill="#afafff"/>
<rect x="271.2" fill="#a1a1ff"/>
<rect x="272.5" fill="#d0d0ff"/>
<rect x="273.7" fill="#f8f8ff"/>
<rect x="274.9" fill="#fcfcff"/>
<rect x="276.2" fill="#ddddff"/>
<rect x="277.4" fill="#cacaff"/>
<rect x="278.6" fill="#babaff"/>
<rect x="279.9" fill="#a6a6ff"/>
<rect x="281.1" fill="#b0b0ff"/>
<rect x="282.4" fill="#c0c0ff"/>
<rect x="283.6" fill="#d1d1ff"/>
<rect x="284.8" fill="#c6c6ff"/>
<rect x="286.1" fill="#c0c0ff"/>
</g>
<g transform="translate(0,227.69)">
<rect x="69.5" fill="#ffd9d9"/>
<rect x="70.7" fill="#fffafa"/>
<rect x="72.0" fill="#ffe7e7"/>
<rect x="73.2" fill="#fffbfb"/>
<rect x="74.5" fill="#ffeeee"/>
<rect x="75.7" fill="#fcfcff"/>
<rect x="76.9" fill="#fff8f8"/>
<rect x="78.2" fill="#ffe9e9"/>
<rect x="79.4" fill="#efefff"/>
<rect x="80.6" fill="#ffebeb"/>
<rect x="81.9" fill="#fafaff"/>
<rect x="83.1" fill="#dadaff"/>
<rect x="84.3" fill="#ffacac"/>
<rect x="85.6" fill="#ffafaf"/>
<rect x="86.8" fill="#ff8686"/>
<rect x="88.1" fill="#ff9b9b"/>
<rect x="89.3" fill="#e2e2ff"/>
<rect x="90.5" fill="#cbcbff"/>
<rect x="91.8" fill="#c1c1ff"/>
<rect x="93.0" fill="#e3e3ff"/>
<rect x="94.2" fill="#d6d6ff"/>
<rect x="95.5" fill="#afafff"/>
<rect x="96.7" fill="#b4b4ff"/>
<rect x="98.0" fill="#c2c2ff"/>
<rect x="99.2" fill="#ebebff"/>
<rect x="100.4" fill="#fffbfb"/>
<rect x="101.7" fill="#fff8f8"/>
<rect x="102.9" fill="#f4f4ff"/>
<rect x="104.2" fill="#ffe9e9"/>
<rect x="105.4" fill="#f2f2ff"/>
<rect x="106.6" fill="#fffcfc"/>
<rect x="107.9" fill="#e5e5ff"/>
<rect x="109.1" fill="#ff8282"/>
<rect x="110.3" fill="#ff5757"/>
<rect x="111.6" fill="#ff5a5a"/>
<rect x="112.8" fill="#ff4e4e"/>
<rect x="114.1" fill="#ffc9c9"/>
<rect x="115.3" fill="#ffe0e0"/>
<rect x="116.5" fill="#ffd7d7"/>
<rect x="117.8" fill="#ffcece"/>
<rect x="119.0" fill="#bdbdff"/>
<rect x="120.2" fill="#e4e4ff"/>
<rect x="121.5" fill="#fffdfd"/>
<rect x="122.7" fill="#cdcdff"/>
<rect x="124.0" fill="#babaff"/>
<rect x="125.2" fill="#e0e0ff"/>
<rect x="126.4" fill="#eaeaff"/>
<rect x="127.7" fill="#c6c6ff"/>
<rect x="128.9" fill="#d3d3ff"/>
<rect x="130.1" fill="#bdbdff"/>
<rect x="131.4" fill="#e5e5ff"/>
<rect x="132.6" fill="#e1e1ff"/>
<rect x="133.9" fill="#d9d9ff"/>
<rect x="135.1" fill="#b9b9ff"/>
<rect x="136.3" fill="#bfbfff"/>
<rect x="137.6" fill="#c7c7ff"/>
<rect x="138.8" fill="#c1c1ff"/>
<rect x="140.0" fill="#b0b0ff"/>
<rect x="141.3" fill="#a9a9ff"/>
<rect x="142.5" fill="#d0d0ff"/>
<rect x="143.8" fill="#ffdddd"/>
<rect x="145.0" fill="#ffd4d4"/>
<rect x="146.2" fill="#ffe2e2"/>
<rect x="147.5" fill="#ffdada"/>
<rect x="148.7" fill="#ffdede"/>
<rect x="149.9" fill="#ffefef"/>
<rect x="151.2" fill="#ffcece"/>
<rect x="152.4" fill="#fff8f8"/>
<rect x="153.7" fill="#f9f9ff"/>
<rect x="154.9" fill="#ffd2d2"/>
<rect x="156.1" fill="#ffeaea"/>
<rect x="157.4" fill="#fff6f6"/>
<rect x="158.6" fill="#e6e6ff"/>
<rect x="159.8" fill="#ffefef"/>
<rect x="161.1" fill="#dedeff"/>
<rect x="162.3" fill="#ffefef"/>
<rect x="163.6" fill="#c8c8ff"/>
<rect x="164.8" fill="#d3d3ff"/>
<rect x="166.0" fill="#d0d0ff"/>
<rect x="167.3" fill="#b2b2ff"/>
<rect x="168.5" fill="#e8e8ff"/>
<rect x="169.7" fill="#c1c1ff"/>
<rect x="171.0" fill="#e3e3ff"/>
<rect x="172.2" fill="#f8f8ff"/>
<rect x="173.4" fill="#fff1f1"/>
<rect x="174.7" fill="#ffd3d3"/>
<rect x="175.9" fill="#efefff"/>
<rect x="177.2" fill="#dbdbff"/>
<rect x="178.4" fill="#ffe3e3"/>
<rect x="179.6" fill="#fffcfc"/>
<rect x="180.9" fill="#ffcbcb"/>
<rect x="182.1" fill="#ffcccc"/>
<rect x="183.4" fill="#ffb7b7"/>
<rect x="184.6" fill="#ffd7d7"/>
<rect x="185.8" fill="#fffafa"/>
<rect x="187.1" fill="#ffc4c4"/>
<rect x="188.3" fill="#ededff"/>
<rect x="189.5" fill="#f0f0ff"/>
<rect x="190.8" fill="#dadaff"/>
<rect x="192.0" fill="#f5f5ff"/>
<rect x="193.2" fill="#cacaff"/>
<rect x="194.5" fill="#b5b5ff"/>
<rect x="195.7" fill="#9f9fff"/>
<rect x="197.0" fill="#adadff"/>
<rect x="198.2" fill="#d8d8ff"/>
<rect x="199.4" fill="#b8b8ff"/>
<rect x="200.7" fill="#b0b0ff"/>
<rect x="201.9" fill="#ccccff"/>
<rect x="203.2" fill="#ffc8c8"/>
<rect x="204.4" fill="#ffb4b4"/>
<rect x="205.6" fill="#ffb8b8"/>
<rect x="206.9" fill="#ffa9a9"/>
<rect x="208.1" fill="#f5f5ff"/>
<rect x="209.3" fill="#ffe1e1"/>
<rect x="210.6" fill="#e6e6ff"/>
<rect x="211.8" fill="#d5d5ff"/>
<rect x="213.1" fill="#7070ff"/>
<rect x="214.3" fill="#a3a3ff"/>
<rect x="215.5" fill="#a3a3ff"/>
<rect x="216.8" fill="#c6c6ff"/>
<rect x="218.0" fill="#fff7f7"/>
<rect x="219.2" fill="#fff0f0"/>
<rect x="220.5" fill="#f6f6ff"/>
<rect x="221.7" fill="#d6d6ff"/>
<rect x="223.0" fill="#f8f8ff"/>
<rect x="224.2" fill="#f6f6ff"/>
<rect x="225.4" fill="#c9c9ff"/>
<rect x="226.7" fill="#d2d2ff"/>
<rect x="227.9" fill="#aaaaff"/>
<rect x="229.1" fill="#9898ff"/>
<rect x="230.4" fill="#c3c3ff"/>
<rect x="231.6" fill="#ddddff"/>
<rect x="232.8" fill="#ffdcdc"/>
<rect x="234.1" fill="#ffdbdb"/>
<rect x="235.3" fill="#f2f2ff"/>
<rect x="236.6" fill="#fff2f2"/>
<rect x="237.8" fill="#fefeff"/>
<rect x="239.0" fill="#f4f4ff"/>
<rect x="240.3" fill="#dfdfff"/>
<rect x="241.5" fill="#c7c7ff"/>
<rect x="242.8" fill="#d7d7ff"/>
<rect x="244.0" fill="#f7f7ff"/>
<rect x="245.2" fill="#ffdddd"/>
<rect x="246.5" fill="#efefff"/>
<rect x="247.7" fill="#ffbebe"/>
<rect x="248.9" fill="#ffa8a8"/>
<rect x="250.2" fill="#ffcbcb"/>
<rect x="251.4" fill="#ffb2b2"/>
<rect x="252.7" fill="#ffdfdf"/>
<rect x="253.9" fill="#ffe8e8"/>
<rect x="255.1" fill="#ffd6d6"/>
<rect x="256.4" fill="#ffb4b4"/>
<rect x="257.6" fill="#ffc1c1"/>
<rect x="258.8" fill="#ffebeb"/>
<rect x="260.1" fill="#ffbaba"/>
<rect x="261.3" fill="#ffc1c1"/>
<rect x="262.6" fill="#ffe1e1"/>
<rect x="263.8" fill="#f6f6ff"/>
<rect x="265.0" fill="#eeeeff"/>
<rect x="266.3" fill="#d6d6ff"/>
<rect x="267.5" fill="#ffcfcf"/>
<rect x="268.7" fill="#ffbcbc"/>
<rect x="270.0" fill="#ffb6b6"/>
<rect x="271.2" fill="#ff9f9f"/>
<rect x="272.5" fill="#ff4949"/>
<rect x="273.7" fill="#ff6666"/>
<rect x="274.9" fill="#ff4343"/>
<rect x="276.2" fill="#ff4a4a"/>
<rect x="277.4" fill="#ffa3a3"/>
<rect x="278.6" fill="#ffbdbd"/>
<rect x="279.9" fill="#ff8a8a"/>
<rect x="281.1" fill="#ff8b8b"/>
<rect x="282.4" fill="#ffebeb"/>
<rect x="283.6" fill="#ffcece"/>
<rect x="284.8" fill="#ffdada"/>
<rect x="286.1" fill="#ffdbdb"/>
</g>
<g transform="translate(0,233.67)">
<rect x="69.5" fill="#ffe9e9"/>
<rect x="70.7" fill="#f2f2ff"/>
<rect x="72.0" fill="#e6e6ff"/>
<rect x="73.2" fill="#f7f7ff"/>
<rect x="74.5" fill="#efefff"/>
<rect x="75.7" fill="#bdbdff"/>
<rect x="76.9" fill="#e3e3ff"/>
<rect x="78.2" fill="#ebebff"/>
<rect x="79.4" fill="#ffe0e0"/>
<rect x="80.6" fill="#ffcaca"/>
<rect x="81.9" fill="#ffc4c4"/>
<rect x="83.1" fill="#ffbaba"/>
<rect x="84.3" fill="#dedeff"/>
<rect x="85.6" fill="#c8c8ff"/>
<rect x="86.8" fill="#cdcdff"/>
<rect x="88.1" fill="#babaff"/>
<rect x="89.3" fill="#f1f1ff"/>
<rect x="90.5" fill="#f1f1ff"/>
<rect x="91.8" fill="#d9d9ff"/>
<rect x="93.0" fill="#d8d8ff"/>
<rect x="94.2" fill="#ffefef"/>
<rect x="95.5" fill="#ffe7e7"/>
<rect x="96.7" fill="#ffd6d6"/>
<rect x="98.0" fill="#ffbfbf"/>
<rect x="99.2" fill="#9898ff"/>
<rect x="100.4" fill="#a2a2ff"/>
<rect x="101.7" fill="#9696ff"/>
<rect x="102.9" fill="#8787ff"/>
<rect x="104.2" fill="#a7a7ff"/>
<rect x="105.4" fill="#e4e4ff"/>
<rect x="106.6" fill="#fdfdff"/>
<rect x="107.9" fill="#fffefe"/>
<rect x="109.1" fill="#ffd7d7"/>
<rect x="110.3" fill="#fff0f0"/>
<rect x="111.6" fill="#ffffff"/>
<rect x="112.8" fill="#fff6f6"/>
<rect x="114.1" fill="#e8e8ff"/>
<rect x="115.3" fill="#cdcdff"/>
<rect x="116.5" fill="#e2e2ff"/>
<rect x="117.8" fill="#fffdfd"/>
<rect x="119.0" fill="#c0c0ff"/>
<rect x="120.2" fill="#9797ff"/>
<rect x="121.5" fill="#7575ff"/>
<rect x="122.7" fill="#a6a6ff"/>
<rect x="124.0" fill="#c9c9ff"/>
<rect x="125.2" fill="#bebeff"/>
<rect x="126.4" fill="#acacff"/>
<rect x="127.7" fill="#aeaeff"/>
<rect x="128.9" fill="#4343ff"/>
<rect x="130.1" fill="#4242ff"/>
<rect x="131.4" fill="#4040ff"/>
<rect x="132.6" fill="#5656ff"/>
<rect x="133.9" fill="#ffecec"/>
<rect x="135.1" fill="#f8f8ff"/>
<rect x="136.3" fill="#f5f5ff"/>
<rect x="137.6" fill="#f9f9ff"/>
<rect x="138.8" fill="#ffb8b8"/>
<rect x="140.0" fill="#ffb0b0"/>
<rect x="141.3" fill="#ff9b9b"/>
<rect x="142.5" fill="#ffd3d3"/>
<rect x="143.8" fill="#ffe7e7"/>
<rect x="145.0" fill="#f9f9ff"/>
<rect x="146.2" fill="#fffbfb"/>
<rect x="147.5" fill="#fffbfb"/>
<rect x="148.7" fill="#2c2cff"/>
<rect x="149.9" fill="#1919ff"/>
<rect x="151.2" fill="#0000ff"/>
<rect x="152.4" fill="#0000ff"/>
<rect x="153.7" fill="#6f6fff"/>
<rect x="154.9" fill="#8989ff"/>
<rect x="156.1" fill="#7373ff"/>
<rect x="157.4" fill="#4a4aff"/>
<rect x="158.6" fill="#7575ff"/>
<rect x="159.8" fill="#6d6dff"/>
<rect x="161.1" fill="#6767ff"/>
<rect x="162.3" fill="#7272ff"/>
<rect x="163.6" fill="#babaff"/>
<rect x="164.8" fill="#b0b0ff"/>
<rect x="166.0" fill="#dcdcff"/>
<rect x="167.3" fill="#e9e9ff"/>
<rect x="168.5" fill="#ff9f9f"/>
<rect x="169.7" fill="#ffc0c0"/>
<rect x="171.0" fill="#ffa3a3"/>
<rect x="172.2" fill="#ff9d9d"/>
<rect x="173.4" fill="#ffe7e7"/>
<rect x="174.7" fill="#ffd4d4"/>
<rect x="175.9" fill="#f7f7ff"/>
<rect x="177.2" fill="#d8d8ff"/>
<rect x="178.4" fill="#ff1c1c"/>
<rect x="179.6" fill="#ff3d3d"/>
<rect x="180.9" fill="#ff2e2e"/>
<rect x="182.1" fill="#ff1515"/>
<rect x="183.4" fill="#ffbcbc"/>
<rect x="184.6" fill="#ffdede"/>
<rect x="185.8" fill="#ffc0c0"/>
<rect x="187.1" fill="#ffefef"/>
<rect x="188.3" fill="#9b9bff"/>
<rect x="189.5" fill="#c0c0ff"/>
<rect x="190.8" fill="#b4b4ff"/>
<rect x="192.0" fill="#9b9bff"/>
<rect x="193.2" fill="#ff0000"/>
<rect x="194.5" fill="#ff0101"/>
<rect x="195.7" fill="#ff0000"/>
<rect x="197.0" fill="#ff0000"/>
<rect x="198.2" fill="#ffc5c5"/>
<rect x="199.4" fill="#ffdfdf"/>
<rect x="200.7" fill="#ffd6d6"/>
<rect x="201.9" fill="#ffecec"/>
<rect x="203.2" fill="#1818ff"/>
<rect x="204.4" fill="#0c0cff"/>
<rect x="205.6" fill="#0606ff"/>
<rect x="206.9" fill="#0000ff"/>
<rect x="208.1" fill="#5858ff"/>
<rect x="209.3" fill="#5858ff"/>
<rect x="210.6" fill="#8181ff"/>
<rect x="211.8" fill="#4e4eff"/>
<rect x="213.1" fill="#afafff"/>
<rect x="214.3" fill="#9090ff"/>
<rect x="215.5" fill="#8c8cff"/>
<rect x="216.8" fill="#8888ff"/>
<rect x="218.0" fill="#7f7fff"/>
<rect x="219.2" fill="#7d7dff"/>
<rect x="220.5" fill="#6e6eff"/>
<rect x="221.7" fill="#5050ff"/>
<rect x="223.0" fill="#7474ff"/>
<rect x="224.2" fill="#8383ff"/>
<rect x="225.4" fill="#bcbcff"/>
<rect x="226.7" fill="#aaaaff"/>
<rect x="227.9" fill="#ffc0c0"/>
<rect x="229.1" fill="#ffaaaa"/>
<rect x="230.4" fill="#ffe5e5"/>
<rect x="231.6" fill="#ffe8e8"/>
<rect x="232.8" fill="#ffe2e2"/>
<rect x="234.1" fill="#ffefef"/>
<rect x="235.3" fill="#ffe8e8"/>
<rect x="236.6" fill="#ffcdcd"/>
<rect x="237.8" fill="#ffbfbf"/>
<rect x="239.0" fill="#ffa0a0"/>
<rect x="240.3" fill="#ffb2b2"/>
<rect x="241.5" fill="#ff9d9d"/>
<rect x="242.8" fill="#e7e7ff"/>
<rect x="244.0" fill="#fff2f2"/>
<rect x="245.2" fill="#fefeff"/>
<rect x="246.5" fill="#ffe4e4"/>
<rect x="247.7" fill="#fffbfb"/>
<rect x="248.9" fill="#eeeeff"/>
<rect x="250.2" fill="#b7b7ff"/>
<rect x="251.4" fill="#bbbbff"/>
<rect x="252.7" fill="#eeeeff"/>
<rect x="253.9" fill="#eaeaff"/>
<rect x="255.1" fill="#f2f2ff"/>
<rect x="256.4" fill="#dedeff"/>
<rect x="257.6" fill="#ffd5d5"/>
<rect x="258.8" fill="#ffcbcb"/>
<rect x="260.1" fill="#ffdede"/>
<rect x="261.3" fill="#ffe9e9"/>
<rect x="262.6" fill="#5050ff"/>
<rect x="263.8" fill="#3434ff"/>
<rect x="265.0" fill="#3737ff"/>
<rect x="266.3" fill="#6363ff"/>
<rect x="267.5" fill="#ffb6b6"/>
<rect x="268.7" fill="#ffafaf"/>
<rect x="270.0" fill="#ffa2a2"/>
<rect x="271.2" fill="#ffe2e2"/>
<rect x="272.5" fill="#a3a3ff"/>
<rect x="273.7" fill="#a8a8ff"/>
<rect x="274.9" fill="#9797ff"/>
<rect x="276.2" fill="#bebeff"/>
<rect x="277.4" fill="#8181ff"/>
<rect x="278.6" fill="#9292ff"/>
<rect x="279.9" fill="#5a5aff"/>
<rect x="281.1" fill="#6e6eff"/>
<rect x="282.4" fill="#b5b5ff"/>
<rect x="283.6" fill="#b8b8ff"/>
<rect x="284.8" fill="#a5a5ff"/>
<rect x="286.1" fill="#8f8fff"/>
</g>
<g transform="translate(0,239.65)">
<rect x="69.5" fill="#ff8484"/>
<rect x="70.7" fill="#ff7474"/>
<rect x="72.0" fill="#ff7c7c"/>
<rect x="73.2" fill="#ff8e8e"/>
<rect x="74.5" fill="#b4b4ff"/>
<rect x="75.7" fill="#b2b2ff"/>
<rect x="76.9" fill="#aeaeff"/>
<rect x="78.2" fill="#acacff"/>
<rect x="79.4" fill="#a9a9ff"/>
<rect x="80.6" fill="#cdcdff"/>
<rect x="81.9" fill="#dedeff"/>
<rect x="83.1" fill="#bcbcff"/>
<rect x="84.3" fill="#ffe8e8"/>
<rect x="85.6" fill="#e1e1ff"/>
<rect x="86.8" fill="#ffe7e7"/>
<rect x="88.1" fill="#ffeeee"/>
<rect x="89.3" fill="#e5e5ff"/>
<rect x="90.5" fill="#c8c8ff"/>
<rect x="91.8" fill="#ddddff"/>
<rect x="93.0" fill="#f5f5ff"/>
<rect x="94.2" fill="#f7f7ff"/>
<rect x="95.5" fill="#ddddff"/>
<rect x="96.7" fill="#fff7f7"/>
<rect x="98.0" fill="#eeeeff"/>
<rect x="99.2" fill="#fff9f9"/>
<rect x="100.4" fill="#ffe4e4"/>
<rect x="101.7" fill="#fff3f3"/>
<rect x="102.9" fill="#fff8f8"/>
<rect x="104.2" fill="#8080ff"/>
<rect x="105.4" fill="#7272ff"/>
<rect x="106.6" fill="#a7a7ff"/>
<rect x="107.9" fill="#aaaaff"/>
<rect x="109.1" fill="#ffefef"/>
<rect x="110.3" fill="#f5f5ff"/>
<rect x="111.6" fill="#ffeded"/>
<rect x="112.8" fill="#ffd1d1"/>
<rect x="114.1" fill="#fff0f0"/>
<rect x="115.3" fill="#c7c7ff"/>
<rect x="116.5" fill="#bdbdff"/>
<rect x="117.8" fill="#a7a7ff"/>
<rect x="119.0" fill="#ffe6e6"/>
<rect x="120.2" fill="#ffcece"/>
<rect x="121.5" fill="#ffc7c7"/>
<rect x="122.7" fill="#ffd8d8"/>
<rect x="124.0" fill="#f4f4ff"/>
<rect x="125.2" fill="#ebebff"/>
<rect x="126.4" fill="#fff9f9"/>
<rect x="127.7" fill="#e2e2ff"/>
<rect x="128.9" fill="#ff1010"/>
<rect x="130.1" fill="#ff3c3c"/>
<rect x="131.4" fill="#ff2c2c"/>
<rect x="132.6" fill="#ff1b1b"/>
<rect x="133.9" fill="#ffe3e3"/>
<rect x="135.1" fill="#ffcfcf"/>
<rect x="136.3" fill="#ffeeee"/>
<rect x="137.6" fill="#ffe1e1"/>
<rect x="138.8" fill="#d3d3ff"/>
<rect x="140.0" fill="#d0d0ff"/>
<rect x="141.3" fill="#b4b4ff"/>
<rect x="142.5" fill="#ababff"/>
<rect x="143.8" fill="#e4e4ff"/>
<rect x="145.0" fill="#ffffff"/>
<rect x="146.2" fill="#fafaff"/>
<rect x="147.5" fill="#e4e4ff"/>
<rect x="148.7" fill="#b8b8ff"/>
<rect x="149.9" fill="#b6b6ff"/>
<rect x="151.2" fill="#a7a7ff"/>
<rect x="152.4" fill="#c6c6ff"/>
<rect x="153.7" fill="#f7f7ff"/>
<rect x="154.9" fill="#ededff"/>
<rect x="156.1" fill="#ceceff"/>
<rect x="157.4" fill="#fff3f3"/>
<rect x="158.6" fill="#fff1f1"/>
<rect x="159.8" fill="#ffffff"/>
<rect x="161.1" fill="#fff6f6"/>
<rect x="162.3" fill="#ffcaca"/>
<rect x="163.6" fill="#f8f8ff"/>
<rect x="164.8" fill="#f8f8ff"/>
<rect x="166.0" fill="#cacaff"/>
<rect x="167.3" fill="#eaeaff"/>
<rect x="168.5" fill="#e4e4ff"/>
<rect x="169.7" fill="#d3d3ff"/>
<rect x="171.0" fill="#ccccff"/>
<rect x="172.2" fill="#ededff"/>
<rect x="173.4" fill="#ffffff"/>
<rect x="174.7" fill="#fff5f5"/>
<rect x="175.9" fill="#ffd6d6"/>
<rect x="177.2" fill="#ffd8d8"/>
<rect x="178.4" fill="#ffacac"/>
<rect x="179.6" fill="#ffdbdb"/>
<rect x="180.9" fill="#ffb4b4"/>
<rect x="182.1" fill="#ffa2a2"/>
<rect x="183.4" fill="#ffcfcf"/>
<rect x="184.6" fill="#f2f2ff"/>
<rect x="185.8" fill="#fff3f3"/>
<rect x="187.1" fill="#fff8f8"/>
<rect x="188.3" fill="#fff9f9"/>
<rect x="189.5" fill="#efefff"/>
<rect x="190.8" fill="#fff0f0"/>
<rect x="192.0" fill="#ffdfdf"/>
<rect x="193.2" fill="#ffadad"/>
<rect x="194.5" fill="#ffd1d1"/>
<rect x="195.7" fill="#ffbebe"/>
<rect x="197.0" fill="#ffeaea"/>
<rect x="198.2" fill="#ffa0a0"/>
<rect x="199.4" fill="#ffc8c8"/>
<rect x="200.7" fill="#ffdcdc"/>
<rect x="201.9" fill="#ffdddd"/>
<rect x="203.2" fill="#f1f1ff"/>
<rect x="204.4" fill="#ffdede"/>
<rect x="205.6" fill="#fff3f3"/>
<rect x="206.9" fill="#ffeeee"/>
<rect x="208.1" fill="#e0e0ff"/>
<rect x="209.3" fill="#f4f4ff"/>
<rect x="210.6" fill="#fff7f7"/>
<rect x="211.8" fill="#fffbfb"/>
<rect x="213.1" fill="#ffc8c8"/>
<rect x="214.3" fill="#fff0f0"/>
<rect x="215.5" fill="#ffbfbf"/>
<rect x="216.8" fill="#ffdbdb"/>
<rect x="218.0" fill="#ffeeee"/>
<rect x="219.2" fill="#ffdada"/>
<rect x="220.5" fill="#f5f5ff"/>
<rect x="221.7" fill="#e1e1ff"/>
<rect x="223.0" fill="#ffe5e5"/>
<rect x="224.2" fill="#ffbebe"/>
<rect x="225.4" fill="#ffacac"/>
<rect x="226.7" fill="#ff9898"/>
<rect x="227.9" fill="#ffcaca"/>
<rect x="229.1" fill="#ffc4c4"/>
<rect x="230.4" fill="#ffadad"/>
<rect x="231.6" fill="#ffcbcb"/>
<rect x="232.8" fill="#fff5f5"/>
<rect x="234.1" fill="#ededff"/>
<rect x="235.3" fill="#ffeaea"/>
<rect x="236.6" fill="#fffafa"/>
<rect x="237.8" fill="#ffd0d0"/>
<rect x="239.0" fill="#ffc4c4"/>
<rect x="240.3" fill="#ffdada"/>
<rect x="241.5" fill="#ffbcbc"/>
<rect x="242.8" fill="#ffcbcb"/>
<rect x="244.0" fill="#ffd4d4"/>
<rect x="245.2" fill="#ffc0c0"/>
<rect x="246.5" fill="#ffbcbc"/>
<rect x="247.7" fill="#ffb6b6"/>
<rect x="248.9" fill="#ffa6a6"/>
<rect x="250.2" fill="#ffa5a5"/>
<rect x="251.4" fill="#ffc5c5"/>
<rect x="252.7" fill="#ffeeee"/>
<rect x="253.9" fill="#ffdada"/>
<rect x="255.1" fill="#ececff"/>
<rect x="256.4" fill="#fffbfb"/>
<rect x="257.6" fill="#ffcdcd"/>
<rect x="258.8" fill="#ffd7d7"/>
<rect x="260.1" fill="#fff3f3"/>
<rect x="261.3" fill="#fff2f2"/>
<rect x="262.6" fill="#fff9f9"/>
<rect x="263.8" fill="#ffdddd"/>
<rect x="265.0" fill="#ffc8c8"/>
<rect x="266.3" fill="#ffd1d1"/>
<rect x="267.5" fill="#fff9f9"/>
<rect x="268.7" fill="#fffbfb"/>
<rect x="270.0" fill="#ccccff"/>
<rect x="271.2" fill="#dedeff"/>
<rect x="272.5" fill="#ffdbdb"/>
<rect x="273.7" fill="#ffdada"/>
<rect x="274.9" fill="#fdfdff"/>
<rect x="276.2" fill="#ffefef"/>
<rect x="277.4" fill="#ffd3d3"/>
<rect x="278.6" fill="#ffd7d7"/>
<rect x="279.9" fill="#ffc1c1"/>
<rect x="281.1" fill="#ffbcbc"/>
<rect x="282.4" fill="#ebebff"/>
<rect x="283.6" fill="#fffdfd"/>
<rect x="284.8" fill="#dcdcff"/>
<rect x="286.1" fill="#d7d7ff"/>
</g>
<g transform="translate(0,245.63)">
<rect x="69.5" fill="#ffe4e4"/>
<rect x="70.7" fill="#ffd1d1"/>
<rect x="72.0" fill="#ffffff"/>
<rect x="73.2" fill="#ffe9e9"/>
<rect x="74.5" fill="#9393ff"/>
<rect x="75.7" fill="#9c9cff"/>
<rect x="76.9" fill="#9393ff"/>
<rect x="78.2" fill="#7a7aff"/>
<rect x="79.4" fill="#ffe9e9"/>
<rect x="80.6" fill="#ffd8d8"/>
<rect x="81.9" fill="#ffb7b7"/>
<rect x="83.1" fill="#ffe6e6"/>
<rect x="84.3" fill="#ffecec"/>
<rect x="85.6" fill="#f8f8ff"/>
<rect x="86.8" fill="#fefeff"/>
<rect x="88.1" fill="#fff9f9"/>
<rect x="89.3" fill="#fff7f7"/>
<rect x="90.5" fill="#ffd8d8"/>
<rect x="91.8" fill="#f9f9ff"/>
<rect x="93.0" fill="#fbfbff"/>
<rect x="94.2" fill="#d1d1ff"/>
<rect x="95.5" fill="#d0d0ff"/>
<rect x="96.7" fill="#f6f6ff"/>
<rect x="98.0" fill="#fff7f7"/>
<rect x="99.2" fill="#ffdfdf"/>
<rect x="100.4" fill="#ffdfdf"/>
<rect x="101.7" fill="#ffd5d5"/>
<rect x="102.9" fill="#ffc7c7"/>
<rect x="104.2" fill="#fff8f8"/>
<rect x="105.4" fill="#ffe2e2"/>
<rect x="106.6" fill="#ebebff"/>
<rect x="107.9" fill="#f3f3ff"/>
<rect x="109.1" fill="#ffbcbc"/>
<rect x="110.3" fill="#ffe2e2"/>
<rect x="111.6" fill="#fff3f3"/>
<rect x="112.8" fill="#ffd7d7"/>
<rect x="114.1" fill="#b1b1ff"/>
<rect x="115.3" fill="#c7c7ff"/>
<rect x="116.5" fill="#aeaeff"/>
<rect x="117.8" fill="#a8a8ff"/>
<rect x="119.0" fill="#8383ff"/>
<rect x="120.2" fill="#acacff"/>
<rect x="121.5" fill="#b0b0ff"/>
<rect x="122.7" fill="#b2b2ff"/>
<rect x="124.0" fill="#e2e2ff"/>
<rect x="125.2" fill="#d0d0ff"/>
<rect x="126.4" fill="#f8f8ff"/>
<rect x="127.7" fill="#eaeaff"/>
<rect x="128.9" fill="#ffe9e9"/>
<rect x="130.1" fill="#e5e5ff"/>
<rect x="131.4" fill="#dfdfff"/>
<rect x="132.6" fill="#f8f8ff"/>
<rect x="133.9" fill="#ffafaf"/>
<rect x="135.1" fill="#ffb1b1"/>
<rect x="136.3" fill="#ffe7e7"/>
<rect x="137.6" fill="#ffc2c2"/>
<rect x="138.8" fill="#eeeeff"/>
<rect x="140.0" fill="#ffffff"/>
<rect x="141.3" fill="#e6e6ff"/>
<rect x="142.5" fill="#d0d0ff"/>
<rect x="143.8" fill="#ffd0d0"/>
<rect x="145.0" fill="#ffd2d2"/>
<rect x="146.2" fill="#ffc9c9"/>
<rect x="147.5" fill="#ffbdbd"/>
<rect x="148.7" fill="#ff9292"/>
<rect x="149.9" fill="#ffa2a2"/>
<rect x="151.2" fill="#ffb1b1"/>
<rect x="152.4" fill="#ffa7a7"/>
<rect x="153.7" fill="#ff7c7c"/>
<rect x="154.9" fill="#ff8484"/>
<rect x="156.1" fill="#ff5a5a"/>
<rect x="157.4" fill="#ff6d6d"/>
<rect x="158.6" fill="#ff9595"/>
<rect x="159.8" fill="#ff8e8e"/>
<rect x="161.1" fill="#ff9c9c"/>
<rect x="162.3" fill="#ff8989"/>
<rect x="163.6" fill="#ffd3d3"/>
<rect x="164.8" fill="#fffbfb"/>
<rect x="166.0" fill="#ffc7c7"/>
<rect x="167.3" fill="#ffb8b8"/>
<rect x="168.5" fill="#ff8585"/>
<rect x="169.7" fill="#ff7373"/>
<rect x="171.0" fill="#ff9595"/>
<rect x="172.2" fill="#ffa3a3"/>
<rect x="173.4" fill="#fff6f6"/>
<rect x="174.7" fill="#ffdcdc"/>
<rect x="175.9" fill="#fdfdff"/>
<rect x="177.2" fill="#ffebeb"/>
<rect x="178.4" fill="#ff3838"/>
<rect x="179.6" fill="#ff6565"/>
<rect x="180.9" fill="#ff8d8d"/>
<rect x="182.1" fill="#ff9393"/>
<rect x="183.4" fill="#ff6e6e"/>
<rect x="184.6" fill="#ff8181"/>
<rect x="185.8" fill="#ff4e4e"/>
<rect x="187.1" fill="#ff7c7c"/>
<rect x="188.3" fill="#ffe9e9"/>
<rect x="189.5" fill="#fdfdff"/>
<rect x="190.8" fill="#ffdede"/>
<rect x="192.0" fill="#fffdfd"/>
<rect x="193.2" fill="#fff0f0"/>
<rect x="194.5" fill="#ffd1d1"/>
<rect x="195.7" fill="#ffe1e1"/>
<rect x="197.0" fill="#ffb4b4"/>
<rect x="198.2" fill="#ffaaaa"/>
<rect x="199.4" fill="#ffd3d3"/>
<rect x="200.7" fill="#ffd3d3"/>
<rect x="201.9" fill="#ffcece"/>
<rect x="203.2" fill="#ff0c0c"/>
<rect x="204.4" fill="#ff2c2c"/>
<rect x="205.6" fill="#ff2222"/>
<rect x="206.9" fill="#ff2121"/>
<rect x="208.1" fill="#ff9b9b"/>
<rect x="209.3" fill="#ff9b9b"/>
<rect x="210.6" fill="#ffa5a5"/>
<rect x="211.8" fill="#ffadad"/>
<rect x="213.1" fill="#ffb0b0"/>
<rect x="214.3" fill="#ff8181"/>
<rect x="215.5" fill="#ff9292"/>
<rect x="216.8" fill="#ffbcbc"/>
<rect x="218.0" fill="#ffb7b7"/>
<rect x="219.2" fill="#ff9696"/>
<rect x="220.5" fill="#ff8f8f"/>
<rect x="221.7" fill="#ffbcbc"/>
<rect x="223.0" fill="#ff3636"/>
<rect x="224.2" fill="#ff3030"/>
<rect x="225.4" fill="#ff0d0d"/>
<rect x="226.7" fill="#ff2c2c"/>
<rect x="227.9" fill="#ff4848"/>
<rect x="229.1" fill="#ff3f3f"/>
<rect x="230.4" fill="#ff7c7c"/>
<rect x="231.6" fill="#ff7070"/>
<rect x="232.8" fill="#ff2525"/>
<rect x="234.1" fill="#ff1a1a"/>
<rect x="235.3" fill="#ff0000"/>
<rect x="236.6" fill="#ff2c2c"/>
<rect x="237.8" fill="#ff8c8c"/>
<rect x="239.0" fill="#ffc1c1"/>
<rect x="240.3" fill="#ff9595"/>
<rect x="241.5" fill="#ffb0b0"/>
<rect x="242.8" fill="#ff9393"/>
<rect x="244.0" fill="#ff6161"/>
<rect x="245.2" fill="#ff3d3d"/>
<rect x="246.5" fill="#ff4747"/>
<rect x="247.7" fill="#ff7e7e"/>
<rect x="248.9" fill="#ff9b9b"/>
<rect x="250.2" fill="#ffb4b4"/>
<rect x="251.4" fill="#ff9d9d"/>
<rect x="252.7" fill="#ff4a4a"/>
<rect x="253.9" fill="#ff6c6c"/>
<rect x="255.1" fill="#ff7373"/>
<rect x="256.4" fill="#ff7f7f"/>
<rect x="257.6" fill="#ff8484"/>
<rect x="258.8" fill="#ff5656"/>
<rect x="260.1" fill="#ff8787"/>
<rect x="261.3" fill="#ff9c9c"/>
<rect x="262.6" fill="#ffd5d5"/>
<rect x="263.8" fill="#ffa2a2"/>
<rect x="265.0" fill="#ff9d9d"/>
<rect x="266.3" fill="#ff8b8b"/>
<rect x="267.5" fill="#ff8989"/>
<rect x="268.7" fill="#ff7878"/>
<rect x="270.0" fill="#ff8888"/>
<rect x="271.2" fill="#ffbebe"/>
<rect x="272.5" fill="#ff9393"/>
<rect x="273.7" fill="#ff8181"/>
<rect x="274.9" fill="#ff9191"/>
<rect x="276.2" fill="#ff8989"/>
<rect x="277.4" fill="#ffc5c5"/>
<rect x="278.6" fill="#ff8b8b"/>
<rect x="279.9" fill="#ff7272"/>
<rect x="281.1" fill="#ff7f7f"/>
<rect x="282.4" fill="#ff1a1a"/>
<rect x="283.6" fill="#ff2626"/>
<rect x="284.8" fill="#ff4848"/>
<rect x="286.1" fill="#ff3838"/>
</g>
<g transform="translate(0,251.61)">
<rect x="69.5" fill="#e2e2ff"/>
<rect x="70.7" fill="#f5f5ff"/>
<rect x="72.0" fill="#ffeaea"/>
<rect x="73.2" fill="#fffefe"/>
<rect x="74.5" fill="#ffc0c0"/>
<rect x="75.7" fill="#ffb0b0"/>
<rect x="76.9" fill="#ffa0a0"/>
<rect x="78.2" fill="#ffc1c1"/>
<rect x="79.4" fill="#ffdfdf"/>
<rect x="80.6" fill="#ffb8b8"/>
<rect x="81.9" fill="#ffc6c6"/>
<rect x="83.1" fill="#ffdfdf"/>
<rect x="84.3" fill="#fff6f6"/>
<rect x="85.6" fill="#ffdddd"/>
<rect x="86.8" fill="#ffc8c8"/>
<rect x="88.1" fill="#fff1f1"/>
<rect x="89.3" fill="#c4c4ff"/>
<rect x="90.5" fill="#b7b7ff"/>
<rect x="91.8" fill="#b5b5ff"/>
<rect x="93.0" fill="#adadff"/>
<rect x="94.2" fill="#ffbfbf"/>
<rect x="95.5" fill="#ffbebe"/>
<rect x="96.7" fill="#ffeded"/>
<rect x="98.0" fill="#ffffff"/>
<rect x="99.2" fill="#a3a3ff"/>
<rect x="100.4" fill="#e2e2ff"/>
<rect x="101.7" fill="#ccccff"/>
<rect x="102.9" fill="#e8e8ff"/>
<rect x="104.2" fill="#9797ff"/>
<rect x="105.4" fill="#8585ff"/>
<rect x="106.6" fill="#babaff"/>
<rect x="107.9" fill="#8b8bff"/>
<rect x="109.1" fill="#c6c6ff"/>
<rect x="110.3" fill="#cfcfff"/>
<rect x="111.6" fill="#c3c3ff"/>
<rect x="112.8" fill="#e0e0ff"/>
<rect x="114.1" fill="#f4f4ff"/>
<rect x="115.3" fill="#cbcbff"/>
<rect x="116.5" fill="#bebeff"/>
<rect x="117.8" fill="#c7c7ff"/>
<rect x="119.0" fill="#f9f9ff"/>
<rect x="120.2" fill="#fff7f7"/>
<rect x="121.5" fill="#ffe5e5"/>
<rect x="122.7" fill="#fefeff"/>
<rect x="124.0" fill="#ffaeae"/>
<rect x="125.2" fill="#ffc5c5"/>
<rect x="126.4" fill="#fff2f2"/>
<rect x="127.7" fill="#ffe6e6"/>
<rect x="128.9" fill="#ffd8d8"/>
<rect x="130.1" fill="#ffeeee"/>
<rect x="131.4" fill="#ffbfbf"/>
<rect x="132.6" fill="#ffc1c1"/>
<rect x="133.9" fill="#ffc8c8"/>
<rect x="135.1" fill="#ffdfdf"/>
<rect x="136.3" fill="#fff5f5"/>
<rect x="137.6" fill="#fff4f4"/>
<rect x="138.8" fill="#ffa7a7"/>
<rect x="140.0" fill="#ff9696"/>
<rect x="141.3" fill="#ff8e8e"/>
<rect x="142.5" fill="#ffc0c0"/>
<rect x="143.8" fill="#ffc7c7"/>
<rect x="145.0" fill="#ffbdbd"/>
<rect x="146.2" fill="#ffb9b9"/>
<rect x="147.5" fill="#ffc4c4"/>
<rect x="148.7" fill="#ffafaf"/>
<rect x="149.9" fill="#ff9c9c"/>
<rect x="151.2" fill="#ffb2b2"/>
<rect x="152.4" fill="#ffc9c9"/>
<rect x="153.7" fill="#d8d8ff"/>
<rect x="154.9" fill="#ededff"/>
<rect x="156.1" fill="#ececff"/>
<rect x="157.4" fill="#f4f4ff"/>
<rect x="158.6" fill="#d1d1ff"/>
<rect x="159.8" fill="#d9d9ff"/>
<rect x="161.1" fill="#bfbfff"/>
<rect x="162.3" fill="#cfcfff"/>
<rect x="163.6" fill="#d7d7ff"/>
<rect x="164.8" fill="#f0f0ff"/>
<rect x="166.0" fill="#fff3f3"/>
<rect x="167.3" fill="#ffd8d8"/>
<rect x="168.5" fill="#ffc1c1"/>
<rect x="169.7" fill="#ffabab"/>
<rect x="171.0" fill="#ffd9d9"/>
<rect x="172.2" fill="#fffcfc"/>
<rect x="173.4" fill="#f0f0ff"/>
<rect x="174.7" fill="#ebebff"/>
<rect x="175.9" fill="#eeeeff"/>
<rect x="177.2" fill="#ffffff"/>
<rect x="178.4" fill="#ffbcbc"/>
<rect x="179.6" fill="#ffaaaa"/>
<rect x="180.9" fill="#ffcece"/>
<rect x="182.1" fill="#ffc9c9"/>
<rect x="183.4" fill="#ffc3c3"/>
<rect x="184.6" fill="#ffbcbc"/>
<rect x="185.8" fill="#ffc1c1"/>
<rect x="187.1" fill="#ffcccc"/>
<rect x="188.3" fill="#ffe4e4"/>
<rect x="189.5" fill="#e4e4ff"/>
<rect x="190.8" fill="#fff4f4"/>
<rect x="192.0" fill="#e9e9ff"/>
<rect x="193.2" fill="#adadff"/>
<rect x="194.5" fill="#cfcfff"/>
<rect x="195.7" fill="#ccccff"/>
<rect x="197.0" fill="#c2c2ff"/>
<rect x="198.2" fill="#7a7aff"/>
<rect x="199.4" fill="#6c6cff"/>
<rect x="200.7" fill="#7777ff"/>
<rect x="201.9" fill="#6f6fff"/>
<rect x="203.2" fill="#c9c9ff"/>
<rect x="204.4" fill="#b5b5ff"/>
<rect x="205.6" fill="#bbbbff"/>
<rect x="206.9" fill="#c1c1ff"/>
<rect x="208.1" fill="#fff6f6"/>
<rect x="209.3" fill="#ffe1e1"/>
<rect x="210.6" fill="#ffe7e7"/>
<rect x="211.8" fill="#f3f3ff"/>
<rect x="213.1" fill="#fff4f4"/>
<rect x="214.3" fill="#ffdcdc"/>
<rect x="215.5" fill="#ffe1e1"/>
<rect x="216.8" fill="#ffc6c6"/>
<rect x="218.0" fill="#ffe3e3"/>
<rect x="219.2" fill="#ffcaca"/>
<rect x="220.5" fill="#ffd9d9"/>
<rect x="221.7" fill="#ffe7e7"/>
<rect x="223.0" fill="#dbdbff"/>
<rect x="224.2" fill="#fffafa"/>
<rect x="225.4" fill="#fffdfd"/>
<rect x="226.7" fill="#fffafa"/>
<rect x="227.9" fill="#ffb4b4"/>
<rect x="229.1" fill="#ffebeb"/>
<rect x="230.4" fill="#ffd9d9"/>
<rect x="231.6" fill="#ffe3e3"/>
<rect x="232.8" fill="#e2e2ff"/>
<rect x="234.1" fill="#fff1f1"/>
<rect x="235.3" fill="#f0f0ff"/>
<rect x="236.6" fill="#f1f1ff"/>
<rect x="237.8" fill="#f3f3ff"/>
<rect x="239.0" fill="#dcdcff"/>
<rect x="240.3" fill="#e0e0ff"/>
<rect x="241.5" fill="#c8c8ff"/>
<rect x="242.8" fill="#ffeaea"/>
<rect x="244.0" fill="#ffd2d2"/>
<rect x="245.2" fill="#ffa9a9"/>
<rect x="246.5" fill="#ff9999"/>
<rect x="247.7" fill="#fff4f4"/>
<rect x="248.9" fill="#ffd4d4"/>
<rect x="250.2" fill="#f2f2ff"/>
<rect x="251.4" fill="#dcdcff"/>
<rect x="252.7" fill="#ffdede"/>
<rect x="253.9" fill="#ffc8c8"/>
<rect x="255.1" fill="#ffc5c5"/>
<rect x="256.4" fill="#fff2f2"/>
<rect x="257.6" fill="#e9e9ff"/>
<rect x="258.8" fill="#f4f4ff"/>
<rect x="260.1" fill="#f1f1ff"/>
<rect x="261.3" fill="#fff0f0"/>
<rect x="262.6" fill="#ffe4e4"/>
<rect x="263.8" fill="#e9e9ff"/>
<rect x="265.0" fill="#f2f2ff"/>
<rect x="266.3" fill="#fff5f5"/>
<rect x="267.5" fill="#ffb5b5"/>
<rect x="268.7" fill="#ffb7b7"/>
<rect x="270.0" fill="#ff9e9e"/>
<rect x="271.2" fill="#ffa7a7"/>
<rect x="272.5" fill="#fff5f5"/>
<rect x="273.7" fill="#ffdfdf"/>
<rect x="274.9" fill="#ffe7e7"/>
<rect x="276.2" fill="#ffecec"/>
<rect x="277.4" fill="#ffefef"/>
<rect x="278.6" fill="#ffe3e3"/>
<rect x="279.9" fill="#ffe1e1"/>
<rect x="281.1" fill="#fff5f5"/>
<rect x="282.4" fill="#ff8787"/>
<rect x="283.6" fill="#ff9d9d"/>
<rect x="284.8" fill="#ff8d8d"/>
<rect x="286.1" fill="#ff7777"/>
</g>
<g transform="translate(0,257.59)">
<rect x="69.5" fill="#d4d4ff"/>
<rect x="70.7" fill="#b5b5ff"/>
<rect x="72.0" fill="#e6e6ff"/>
<rect x="73.2" fill="#c3c3ff"/>
<rect x="74.5" fill="#e1e1ff"/>
<rect x="75.7" fill="#ccccff"/>
<rect x="76.9" fill="#e2e2ff"/>
<rect x="78.2" fill="#eaeaff"/>
<rect x="79.4" fill="#ffc1c1"/>
<rect x="80.6" fill="#ffe4e4"/>
<rect x="81.9" fill="#ffe4e4"/>
<rect x="83.1" fill="#ffc4c4"/>
<rect x="84.3" fill="#fff2f2"/>
<rect x="85.6" fill="#ffe7e7"/>
<rect x="86.8" fill="#fff8f8"/>
<rect x="88.1" fill="#ffcccc"/>
<rect x="89.3" fill="#ffdfdf"/>
<rect x="90.5" fill="#fff5f5"/>
<rect x="91.8" fill="#fdfdff"/>
<rect x="93.0" fill="#fffefe"/>
<rect x="94.2" fill="#cdcdff"/>
<rect x="95.5" fill="#b0b0ff"/>
<rect x="96.7" fill="#9d9dff"/>
<rect x="98.0" fill="#a4a4ff"/>
<rect x="99.2" fill="#6a6aff"/>
<rect x="100.4" fill="#9c9cff"/>
<rect x="101.7" fill="#b5b5ff"/>
<rect x="102.9" fill="#aeaeff"/>
<rect x="104.2" fill="#f6f6ff"/>
<rect x="105.4" fill="#d5d5ff"/>
<rect x="106.6" fill="#fefeff"/>
<rect x="107.9" fill="#e9e9ff"/>
<rect x="109.1" fill="#ffd7d7"/>
<rect x="110.3" fill="#ffacac"/>
<rect x="111.6" fill="#ffd6d6"/>
<rect x="112.8" fill="#ffc4c4"/>
<rect x="114.1" fill="#fffefe"/>
<rect x="115.3" fill="#fffcfc"/>
<rect x="116.5" fill="#f9f9ff"/>
<rect x="117.8" fill="#fff1f1"/>
<rect x="119.0" fill="#ffc9c9"/>
<rect x="120.2" fill="#fff4f4"/>
<rect x="121.5" fill="#ffc7c7"/>
<rect x="122.7" fill="#ffe2e2"/>
<rect x="124.0" fill="#ebebff"/>
<rect x="125.2" fill="#f4f4ff"/>
<rect x="126.4" fill="#fffcfc"/>
<rect x="127.7" fill="#ffe9e9"/>
<rect x="128.9" fill="#eaeaff"/>
<rect x="130.1" fill="#ececff"/>
<rect x="131.4" fill="#fffefe"/>
<rect x="132.6" fill="#fdfdff"/>
<rect x="133.9" fill="#bbbbff"/>
<rect x="135.1" fill="#dfdfff"/>
<rect x="136.3" fill="#fdfdff"/>
<rect x="137.6" fill="#f1f1ff"/>
<rect x="138.8" fill="#e2e2ff"/>
<rect x="140.0" fill="#bdbdff"/>
<rect x="141.3" fill="#c6c6ff"/>
<rect x="142.5" fill="#e3e3ff"/>
<rect x="143.8" fill="#f8f8ff"/>
<rect x="145.0" fill="#f7f7ff"/>
<rect x="146.2" fill="#f7f7ff"/>
<rect x="147.5" fill="#ececff"/>
<rect x="148.7" fill="#fffefe"/>
<rect x="149.9" fill="#efefff"/>
<rect x="151.2" fill="#ffe4e4"/>
<rect x="152.4" fill="#ffd7d7"/>
<rect x="153.7" fill="#ff6464"/>
<rect x="154.9" fill="#ff8888"/>
<rect x="156.1" fill="#ff9c9c"/>
<rect x="157.4" fill="#ff6565"/>
<rect x="158.6" fill="#f9f9ff"/>
<rect x="159.8" fill="#ddddff"/>
<rect x="161.1" fill="#cbcbff"/>
<rect x="162.3" fill="#fefeff"/>
<rect x="163.6" fill="#b9b9ff"/>
<rect x="164.8" fill="#e9e9ff"/>
<rect x="166.0" fill="#d0d0ff"/>
<rect x="167.3" fill="#dbdbff"/>
<rect x="168.5" fill="#c9c9ff"/>
<rect x="169.7" fill="#dadaff"/>
<rect x="171.0" fill="#b8b8ff"/>
<rect x="172.2" fill="#b3b3ff"/>
<rect x="173.4" fill="#d3d3ff"/>
<rect x="174.7" fill="#c7c7ff"/>
<rect x="175.9" fill="#ebebff"/>
<rect x="177.2" fill="#ffe0e0"/>
<rect x="178.4" fill="#ffbdbd"/>
<rect x="179.6" fill="#ff9090"/>
<rect x="180.9" fill="#ffacac"/>
<rect x="182.1" fill="#ffc3c3"/>
<rect x="183.4" fill="#f8f8ff"/>
<rect x="184.6" fill="#fff5f5"/>
<rect x="185.8" fill="#fbfbff"/>
<rect x="187.1" fill="#ffe8e8"/>
<rect x="188.3" fill="#f1f1ff"/>
<rect x="189.5" fill="#dedeff"/>
<rect x="190.8" fill="#ffefef"/>
<rect x="192.0" fill="#fff1f1"/>
<rect x="193.2" fill="#ff0808"/>
<rect x="194.5" fill="#ff2c2c"/>
<rect x="195.7" fill="#ff1616"/>
<rect x="197.0" fill="#ff0d0d"/>
<rect x="198.2" fill="#ff4646"/>
<rect x="199.4" fill="#ff7171"/>
<rect x="200.7" fill="#ff4646"/>
<rect x="201.9" fill="#ff5b5b"/>
<rect x="203.2" fill="#ffc1c1"/>
<rect x="204.4" fill="#ff8e8e"/>
<rect x="205.6" fill="#ffaaaa"/>
<rect x="206.9" fill="#ff8686"/>
<rect x="208.1" fill="#ffdcdc"/>
<rect x="209.3" fill="#fff9f9"/>
<rect x="210.6" fill="#ffe2e2"/>
<rect x="211.8" fill="#ffd5d5"/>
<rect x="213.1" fill="#ff9797"/>
<rect x="214.3" fill="#ff9292"/>
<rect x="215.5" fill="#ffa7a7"/>
<rect x="216.8" fill="#ff9090"/>
<rect x="218.0" fill="#fff5f5"/>
<rect x="219.2" fill="#e7e7ff"/>
<rect x="220.5" fill="#fbfbff"/>
<rect x="221.7" fill="#f1f1ff"/>
<rect x="223.0" fill="#fcfcff"/>
<rect x="224.2" fill="#e2e2ff"/>
<rect x="225.4" fill="#dedeff"/>
<rect x="226.7" fill="#ddddff"/>
<rect x="227.9" fill="#ffd3d3"/>
<rect x="229.1" fill="#fff9f9"/>
<rect x="230.4" fill="#ffeaea"/>
<rect x="231.6" fill="#ffe4e4"/>
<rect x="232.8" fill="#ff8d8d"/>
<rect x="234.1" fill="#ffb8b8"/>
<rect x="235.3" fill="#ffabab"/>
<rect x="236.6" fill="#ff8e8e"/>
<rect x="237.8" fill="#ffcfcf"/>
<rect x="239.0" fill="#ffabab"/>
<rect x="240.3" fill="#ffd4d4"/>
<rect x="241.5" fill="#ffd3d3"/>
<rect x="242.8" fill="#ffe2e2"/>
<rect x="244.0" fill="#ffeaea"/>
<rect x="245.2" fill="#fefeff"/>
<rect x="246.5" fill="#ffcfcf"/>
<rect x="247.7" fill="#fff2f2"/>
<rect x="248.9" fill="#ffdede"/>
<rect x="250.2" fill="#fff2f2"/>
<rect x="251.4" fill="#ebebff"/>
<rect x="252.7" fill="#ff9f9f"/>
<rect x="253.9" fill="#ff7e7e"/>
<rect x="255.1" fill="#ff8e8e"/>
<rect x="256.4" fill="#ffadad"/>
<rect x="257.6" fill="#ffd4d4"/>
<rect x="258.8" fill="#ffb5b5"/>
<rect x="260.1" fill="#ffabab"/>
<rect x="261.3" fill="#ffb5b5"/>
<rect x="262.6" fill="#ffb1b1"/>
<rect x="263.8" fill="#ffe9e9"/>
<rect x="265.0" fill="#fff9f9"/>
<rect x="266.3" fill="#f3f3ff"/>
<rect x="267.5" fill="#ffefef"/>
<rect x="268.7" fill="#ffe0e0"/>
<rect x="270.0" fill="#ffffff"/>
<rect x="271.2" fill="#ffcccc"/>
<rect x="272.5" fill="#ffcbcb"/>
<rect x="273.7" fill="#ffbbbb"/>
<rect x="274.9" fill="#ffa1a1"/>
<rect x="276.2" fill="#ffa6a6"/>
<rect x="277.4" fill="#ffd7d7"/>
<rect x="278.6" fill="#ffe2e2"/>
<rect x="279.9" fill="#fff0f0"/>
<rect x="281.1" fill="#ffe2e2"/>
<rect x="282.4" fill="#ff7f7f"/>
<rect x="283.6" fill="#ffa3a3"/>
<rect x="284.8" fill="#ff8a8a"/>
<rect x="286.1" fill="#ffb5b5"/>
</g>
<g transform="translate(0,263.57)">
<rect x="69.5" fill="#ffcece"/>
<rect x="70.7" fill="#ffaeae"/>
<rect x="72.0" fill="#ffd8d8"/>
<rect x="73.2" fill="#ffb4b4"/>
<rect x="74.5" fill="#ddddff"/>
<rect x="75.7" fill="#e9e9ff"/>
<rect x="76.9" fill="#bfbfff"/>
<rect x="78.2" fill="#a5a5ff"/>
<rect x="79.4" fill="#7b7bff"/>
<rect x="80.6" fill="#9999ff"/>
<rect x="81.9" fill="#bfbfff"/>
<rect x="83.1" fill="#b5b5ff"/>
<rect x="84.3" fill="#dbdbff"/>
<rect x="85.6" fill="#ccccff"/>
<rect x="86.8" fill="#cfcfff"/>
<rect x="88.1" fill="#e1e1ff"/>
<rect x="89.3" fill="#ffdada"/>
<rect x="90.5" fill="#fffbfb"/>
<rect x="91.8" fill="#ffefef"/>
<rect x="93.0" fill="#fafaff"/>
<rect x="94.2" fill="#ffe8e8"/>
<rect x="95.5" fill="#fefeff"/>
<rect x="96.7" fill="#ffeeee"/>
<rect x="98.0" fill="#ffd5d5"/>
<rect x="99.2" fill="#fefeff"/>
<rect x="100.4" fill="#fafaff"/>
<rect x="101.7" fill="#ffebeb"/>
<rect x="102.9" fill="#fffafa"/>
<rect x="104.2" fill="#b5b5ff"/>
<rect x="105.4" fill="#b0b0ff"/>
<rect x="106.6" fill="#ceceff"/>
<rect x="107.9" fill="#a9a9ff"/>
<rect x="109.1" fill="#cfcfff"/>
<rect x="110.3" fill="#e6e6ff"/>
<rect x="111.6" fill="#cacaff"/>
<rect x="112.8" fill="#e6e6ff"/>
<rect x="114.1" fill="#fafaff"/>
<rect x="115.3" fill="#e1e1ff"/>
<rect x="116.5" fill="#f5f5ff"/>
<rect x="117.8" fill="#ffffff"/>
<rect x="119.0" fill="#ff3333"/>
<rect x="120.2" fill="#ff3d3d"/>
<rect x="121.5" fill="#ff0707"/>
<rect x="122.7" fill="#ff1616"/>
<rect x="124.0" fill="#e8e8ff"/>
<rect x="125.2" fill="#d5d5ff"/>
<rect x="126.4" fill="#d7d7ff"/>
<rect x="127.7" fill="#c2c2ff"/>
<rect x="128.9" fill="#8282ff"/>
<rect x="130.1" fill="#afafff"/>
<rect x="131.4" fill="#b7b7ff"/>
<rect x="132.6" fill="#9c9cff"/>
<rect x="133.9" fill="#ffdcdc"/>
<rect x="135.1" fill="#ffd1d1"/>
<rect x="136.3" fill="#fff5f5"/>
<rect x="137.6" fill="#ffd8d8"/>
<rect x="138.8" fill="#ff4141"/>
<rect x="140.0" fill="#ff4646"/>
<rect x="141.3" fill="#ff5a5a"/>
<rect x="142.5" fill="#ff8080"/>
<rect x="143.8" fill="#ff6e6e"/>
<rect x="145.0" fill="#ff6363"/>
<rect x="146.2" fill="#ff5555"/>
<rect x="147.5" fill="#ff3f3f"/>
<rect x="148.7" fill="#ff6767"/>
<rect x="149.9" fill="#ff8787"/>
<rect x="151.2" fill="#ff4e4e"/>
<rect x="152.4" fill="#ff5959"/>
<rect x="153.7" fill="#ff7e7e"/>
<rect x="154.9" fill="#ff8a8a"/>
<rect x="156.1" fill="#ff7777"/>
<rect x="157.4" fill="#ff8787"/>
<rect x="158.6" fill="#ff4747"/>
<rect x="159.8" fill="#ff4d4d"/>
<rect x="161.1" fill="#ff3636"/>
<rect x="162.3" fill="#ff3c3c"/>
<rect x="163.6" fill="#ff0000"/>
<rect x="164.8" fill="#ff1111"/>
<rect x="166.0" fill="#ff3333"/>
<rect x="167.3" fill="#ff4343"/>
<rect x="168.5" fill="#ff7878"/>
<rect x="169.7" fill="#ff6969"/>
<rect x="171.0" fill="#ff5858"/>
<rect x="172.2" fill="#ff6363"/>
<rect x="173.4" fill="#ffd8d8"/>
<rect x="174.7" fill="#fff5f5"/>
<rect x="175.9" fill="#dbdbff"/>
<rect x="177.2" fill="#f1f1ff"/>
<rect x="178.4" fill="#ff1d1d"/>
<rect x="179.6" fill="#ff3636"/>
<rect x="180.9" fill="#ff1818"/>
<rect x="182.1" fill="#ff3737"/>
<rect x="183.4" fill="#ff0c0c"/>
<rect x="184.6" fill="#ff1d1d"/>
<rect x="185.8" fill="#ff0000"/>
<rect x="187.1" fill="#ff0909"/>
<rect x="188.3" fill="#ffb3b3"/>
<rect x="189.5" fill="#ffdbdb"/>
<rect x="190.8" fill="#ffb7b7"/>
<rect x="192.0" fill="#ff9d9d"/>
<rect x="193.2" fill="#ff2929"/>
<rect x="194.5" fill="#ff2020"/>
<rect x="195.7" fill="#ff3e3e"/>
<rect x="197.0" fill="#ff1010"/>
<rect x="198.2" fill="#ff7d7d"/>
<rect x="199.4" fill="#ff7070"/>
<rect x="200.7" fill="#ff7676"/>
<rect x="201.9" fill="#ff9898"/>
<rect x="203.2" fill="#e1e1ff"/>
<rect x="204.4" fill="#b4b4ff"/>
<rect x="205.6" fill="#a4a4ff"/>
<rect x="206.9" fill="#c1c1ff"/>
<rect x="208.1" fill="#fff2f2"/>
<rect x="209.3" fill="#f4f4ff"/>
<rect x="210.6" fill="#d2d2ff"/>
<rect x="211.8" fill="#c6c6ff"/>
<rect x="213.1" fill="#a9a9ff"/>
<rect x="214.3" fill="#b5b5ff"/>
<rect x="215.5" fill="#e6e6ff"/>
<rect x="216.8" fill="#eaeaff"/>
<rect x="218.0" fill="#ffd5d5"/>
<rect x="219.2" fill="#ffd7d7"/>
<rect x="220.5" fill="#ffdddd"/>
<rect x="221.7" fill="#ffdada"/>
<rect x="223.0" fill="#ffd7d7"/>
<rect x="224.2" fill="#ffbfbf"/>
<rect x="225.4" fill="#ffc2c2"/>
<rect x="226.7" fill="#ffbfbf"/>
<rect x="227.9" fill="#ff1c1c"/>
<rect x="229.1" fill="#ff2424"/>
<rect x="230.4" fill="#ff0808"/>
<rect x="231.6" fill="#ff0000"/>
<rect x="232.8" fill="#ffdada"/>
<rect x="234.1" fill="#ffb8b8"/>
<rect x="235.3" fill="#ffc2c2"/>
<rect x="236.6" fill="#ffeeee"/>
<rect x="237.8" fill="#ffc7c7"/>
<rect x="239.0" fill="#ffadad"/>
<rect x="240.3" fill="#ffc6c6"/>
<rect x="241.5" fill="#ffd2d2"/>
<rect x="242.8" fill="#1111ff"/>
<rect x="244.0" fill="#0202ff"/>
<rect x="245.2" fill="#1717ff"/>
<rect x="246.5" fill="#1919ff"/>
<rect x="247.7" fill="#d9d9ff"/>
<rect x="248.9" fill="#e1e1ff"/>
<rect x="250.2" fill="#bfbfff"/>
<rect x="251.4" fill="#dfdfff"/>
<rect x="252.7" fill="#ffa1a1"/>
<rect x="253.9" fill="#ffaaaa"/>
<rect x="255.1" fill="#ffc0c0"/>
<rect x="256.4" fill="#ffa7a7"/>
<rect x="257.6" fill="#ff9696"/>
<rect x="258.8" fill="#ff8686"/>
<rect x="260.1" fill="#ff7c7c"/>
<rect x="261.3" fill="#ff9e9e"/>
<rect x="262.6" fill="#ff1e1e"/>
<rect x="263.8" fill="#ff1818"/>
<rect x="265.0" fill="#ff2727"/>
<rect x="266.3" fill="#ff4d4d"/>
<rect x="267.5" fill="#ffd1d1"/>
<rect x="268.7" fill="#ffb1b1"/>
<rect x="270.0" fill="#ffc5c5"/>
<rect x="271.2" fill="#ffa9a9"/>
<rect x="272.5" fill="#ff3636"/>
<rect x="273.7" fill="#ff2525"/>
<rect x="274.9" fill="#ff2d2d"/>
<rect x="276.2" fill="#ff1c1c"/>
<rect x="277.4" fill="#ffd9d9"/>
<rect x="278.6" fill="#ffc3c3"/>
<rect x="279.9" fill="#ffe3e3"/>
<rect x="281.1" fill="#ffebeb"/>
<rect x="282.4" fill="#ffe4e4"/>
<rect x="283.6" fill="#ffe0e0"/>
<rect x="284.8" fill="#ffdfdf"/>
<rect x="286.1" fill="#ffb3b3"/>
</g>
<g transform="translate(0,269.55)">
<rect x="69.5" fill="#fffefe"/>
<rect x="70.7" fill="#fffafa"/>
<rect x="72.0" fill="#e3e3ff"/>
<rect x="73.2" fill="#f5f5ff"/>
<rect x="74.5" fill="#e2e2ff"/>
<rect x="75.7" fill="#e9e9ff"/>
<rect x="76.9" fill="#fffdfd"/>
<rect x="78.2" fill="#efefff"/>
<rect x="79.4" fill="#a6a6ff"/>
<rect x="80.6" fill="#c3c3ff"/>
<rect x="81.9" fill="#d8d8ff"/>
<rect x="83.1" fill="#e2e2ff"/>
<rect x="84.3" fill="#ceceff"/>
<rect x="85.6" fill="#dedeff"/>
<rect x="86.8" fill="#bbbbff"/>
<rect x="88.1" fill="#b4b4ff"/>
<rect x="89.3" fill="#fff5f5"/>
<rect x="90.5" fill="#ffdcdc"/>
<rect x="91.8" fill="#ffe8e8"/>
<rect x="93.0" fill="#fbfbff"/>
<rect x="94.2" fill="#ffd4d4"/>
<rect x="95.5" fill="#ffe2e2"/>
<rect x="96.7" fill="#ffecec"/>
<rect x="98.0" fill="#fff5f5"/>
<rect x="99.2" fill="#ffbdbd"/>
<rect x="100.4" fill="#ffa5a5"/>
<rect x="101.7" fill="#ffd7d7"/>
<rect x="102.9" fill="#ffb7b7"/>
<rect x="104.2" fill="#ffdfdf"/>
<rect x="105.4" fill="#ffdede"/>
<rect x="106.6" fill="#fafaff"/>
<rect x="107.9" fill="#ffffff"/>
<rect x="109.1" fill="#ffb7b7"/>
<rect x="110.3" fill="#ffb5b5"/>
<rect x="111.6" fill="#ffa1a1"/>
<rect x="112.8" fill="#ffe0e0"/>
<rect x="114.1" fill="#ebebff"/>
<rect x="115.3" fill="#ebebff"/>
<rect x="116.5" fill="#efefff"/>
<rect x="117.8" fill="#ffdede"/>
<rect x="119.0" fill="#fff8f8"/>
<rect x="120.2" fill="#fffafa"/>
<rect x="121.5" fill="#f5f5ff"/>
<rect x="122.7" fill="#f8f8ff"/>
<rect x="124.0" fill="#ffd1d1"/>
<rect x="125.2" fill="#fcfcff"/>
<rect x="126.4" fill="#fff6f6"/>
<rect x="127.7" fill="#ffd3d3"/>
<rect x="128.9" fill="#ffd9d9"/>
<rect x="130.1" fill="#ffd9d9"/>
<rect x="131.4" fill="#ffdfdf"/>
<rect x="132.6" fill="#ffbbbb"/>
<rect x="133.9" fill="#d8d8ff"/>
<rect x="135.1" fill="#b7b7ff"/>
<rect x="136.3" fill="#bbbbff"/>
<rect x="137.6" fill="#d3d3ff"/>
<rect x="138.8" fill="#6b6bff"/>
<rect x="140.0" fill="#4141ff"/>
<rect x="141.3" fill="#6f6fff"/>
<rect x="142.5" fill="#5959ff"/>
<rect x="143.8" fill="#fffdfd"/>
<rect x="145.0" fill="#ffdbdb"/>
<rect x="146.2" fill="#ffc7c7"/>
<rect x="147.5" fill="#ffc4c4"/>
<rect x="148.7" fill="#ffeded"/>
<rect x="149.9" fill="#f9f9ff"/>
<rect x="151.2" fill="#ffd6d6"/>
<rect x="152.4" fill="#ffd3d3"/>
<rect x="153.7" fill="#d6d6ff"/>
<rect x="154.9" fill="#f2f2ff"/>
<rect x="156.1" fill="#d7d7ff"/>
<rect x="157.4" fill="#ebebff"/>
<rect x="158.6" fill="#ffc9c9"/>
<rect x="159.8" fill="#ffe4e4"/>
<rect x="161.1" fill="#ffe1e1"/>
<rect x="162.3" fill="#ffc6c6"/>
<rect x="163.6" fill="#c4c4ff"/>
<rect x="164.8" fill="#d5d5ff"/>
<rect x="166.0" fill="#afafff"/>
<rect x="167.3" fill="#d2d2ff"/>
<rect x="168.5" fill="#bcbcff"/>
<rect x="169.7" fill="#c2c2ff"/>
<rect x="171.0" fill="#f3f3ff"/>
<rect x="172.2" fill="#f7f7ff"/>
<rect x="173.4" fill="#ff2c2c"/>
<rect x="174.7" fill="#ff0f0f"/>
<rect x="175.9" fill="#ff2323"/>
<rect x="177.2" fill="#ff2424"/>
<rect x="178.4" fill="#ff7878"/>
<rect x="179.6" fill="#ff8989"/>
<rect x="180.9" fill="#ff4e4e"/>
<rect x="182.1" fill="#ff6464"/>
<rect x="183.4" fill="#ffe8e8"/>
<rect x="184.6" fill="#ffc3c3"/>
<rect x="185.8" fill="#ffebeb"/>
<rect x="187.1" fill="#ffe4e4"/>
<rect x="188.3" fill="#d7d7ff"/>
<rect x="189.5" fill="#c7c7ff"/>
<rect x="190.8" fill="#fff1f1"/>
<rect x="192.0" fill="#fff9f9"/>
<rect x="193.2" fill="#ffc2c2"/>
<rect x="194.5" fill="#ffe7e7"/>
<rect x="195.7" fill="#ffe6e6"/>
<rect x="197.0" fill="#fffefe"/>
<rect x="198.2" fill="#ababff"/>
<rect x="199.4" fill="#7e7eff"/>
<rect x="200.7" fill="#b7b7ff"/>
<rect x="201.9" fill="#d2d2ff"/>
<rect x="203.2" fill="#9f9fff"/>
<rect x="204.4" fill="#9090ff"/>
<rect x="205.6" fill="#8080ff"/>
<rect x="206.9" fill="#6d6dff"/>
<rect x="208.1" fill="#e5e5ff"/>
<rect x="209.3" fill="#f5f5ff"/>
<rect x="210.6" fill="#ffe4e4"/>
<rect x="211.8" fill="#fff4f4"/>
<rect x="213.1" fill="#bbbbff"/>
<rect x="214.3" fill="#c2c2ff"/>
<rect x="215.5" fill="#aeaeff"/>
<rect x="216.8" fill="#9b9bff"/>
<rect x="218.0" fill="#fff2f2"/>
<rect x="219.2" fill="#ffc5c5"/>
<rect x="220.5" fill="#ffeeee"/>
<rect x="221.7" fill="#ffb7b7"/>
<rect x="223.0" fill="#ff7c7c"/>
<rect x="224.2" fill="#ff6969"/>
<rect x="225.4" fill="#ff8181"/>
<rect x="226.7" fill="#ffa4a4"/>
<rect x="227.9" fill="#ff5050"/>
<rect x="229.1" fill="#ff7979"/>
<rect x="230.4" fill="#ff6d6d"/>
<rect x="231.6" fill="#ff4e4e"/>
<rect x="232.8" fill="#ffc3c3"/>
<rect x="234.1" fill="#ffb5b5"/>
<rect x="235.3" fill="#ffdfdf"/>
<rect x="236.6" fill="#ffbaba"/>
<rect x="237.8" fill="#bfbfff"/>
<rect x="239.0" fill="#bbbbff"/>
<rect x="240.3" fill="#cfcfff"/>
<rect x="241.5" fill="#f2f2ff"/>
<rect x="242.8" fill="#9393ff"/>
<rect x="244.0" fill="#8a8aff"/>
<rect x="245.2" fill="#aeaeff"/>
<rect x="246.5" fill="#9393ff"/>
<rect x="247.7" fill="#c1c1ff"/>
<rect x="248.9" fill="#b0b0ff"/>
<rect x="250.2" fill="#eaeaff"/>
<rect x="251.4" fill="#f4f4ff"/>
<rect x="252.7" fill="#d7d7ff"/>
<rect x="253.9" fill="#fcfcff"/>
<rect x="255.1" fill="#fffafa"/>
<rect x="256.4" fill="#d9d9ff"/>
<rect x="257.6" fill="#fff0f0"/>
<rect x="258.8" fill="#ffcdcd"/>
<rect x="260.1" fill="#ffc4c4"/>
<rect x="261.3" fill="#ffdfdf"/>
<rect x="262.6" fill="#d1d1ff"/>
<rect x="263.8" fill="#d9d9ff"/>
<rect x="265.0" fill="#ffeded"/>
<rect x="266.3" fill="#ffe8e8"/>
<rect x="267.5" fill="#ffb9b9"/>
<rect x="268.7" fill="#ffb6b6"/>
<rect x="270.0" fill="#ffd8d8"/>
<rect x="271.2" fill="#ffb5b5"/>
<rect x="272.5" fill="#fff5f5"/>
<rect x="273.7" fill="#ffd8d8"/>
<rect x="274.9" fill="#ffe4e4"/>
<rect x="276.2" fill="#ffe4e4"/>
<rect x="277.4" fill="#ffa7a7"/>
<rect x="278.6" fill="#ff9797"/>
<rect x="279.9" fill="#ffa5a5"/>
<rect x="281.1" fill="#ff9999"/>
<rect x="282.4" fill="#ffeded"/>
<rect x="283.6" fill="#f8f8ff"/>
<rect x="284.8" fill="#e8e8ff"/>
<rect x="286.1" fill="#eaeaff"/>
</g>
<g transform="translate(0,275.53)">
<rect x="69.5" fill="#ffb1b1"/>
<rect x="70.7" fill="#ffd1d1"/>
<rect x="72.0" fill="#ffe6e6"/>
<rect x="73.2" fill="#fffcfc"/>
<rect x="74.5" fill="#ffd2d2"/>
<rect x="75.7" fill="#ffaeae"/>
<rect x="76.9" fill="#ffc8c8"/>
<rect x="78.2" fill="#ffe9e9"/>
<rect x="79.4" fill="#fff4f4"/>
<rect x="80.6" fill="#ffdede"/>
<rect x="81.9" fill="#fff8f8"/>
<rect x="83.1" fill="#fffefe"/>
<rect x="84.3" fill="#ffdbdb"/>
<rect x="85.6" fill="#ffd3d3"/>
<rect x="86.8" fill="#ffc5c5"/>
<rect x="88.1" fill="#ffa9a9"/>
<rect x="89.3" fill="#fffafa"/>
<rect x="90.5" fill="#ffd7d7"/>
<rect x="91.8" fill="#ffe4e4"/>
<rect x="93.0" fill="#fff6f6"/>
<rect x="94.2" fill="#ffdfdf"/>
<rect x="95.5" fill="#f8f8ff"/>
<rect x="96.7" fill="#fffefe"/>
<rect x="98.0" fill="#ffdddd"/>
<rect x="99.2" fill="#ceceff"/>
<rect x="100.4" fill="#d4d4ff"/>
<rect x="101.7" fill="#bbbbff"/>
<rect x="102.9" fill="#babaff"/>
<rect x="104.2" fill="#8787ff"/>
<rect x="105.4" fill="#6060ff"/>
<rect x="106.6" fill="#8989ff"/>
<rect x="107.9" fill="#8e8eff"/>
<rect x="109.1" fill="#b4b4ff"/>
<rect x="110.3" fill="#b3b3ff"/>
<rect x="111.6" fill="#cfcfff"/>
<rect x="112.8" fill="#8f8fff"/>
<rect x="114.1" fill="#8888ff"/>
<rect x="115.3" fill="#b6b6ff"/>
<rect x="116.5" fill="#8787ff"/>
<rect x="117.8" fill="#a6a6ff"/>
<rect x="119.0" fill="#c2c2ff"/>
<rect x="120.2" fill="#b5b5ff"/>
<rect x="121.5" fill="#a0a0ff"/>
<rect x="122.7" fill="#a9a9ff"/>
<rect x="124.0" fill="#b4b4ff"/>
<rect x="125.2" fill="#d1d1ff"/>
<rect x="126.4" fill="#eaeaff"/>
<rect x="127.7" fill="#e5e5ff"/>
<rect x="128.9" fill="#9090ff"/>
<rect x="130.1" fill="#9c9cff"/>
<rect x="131.4" fill="#c3c3ff"/>
<rect x="132.6" fill="#9c9cff"/>
<rect x="133.9" fill="#dedeff"/>
<rect x="135.1" fill="#c0c0ff"/>
<rect x="136.3" fill="#b9b9ff"/>
<rect x="137.6" fill="#cacaff"/>
<rect x="138.8" fill="#e9e9ff"/>
<rect x="140.0" fill="#dfdfff"/>
<rect x="141.3" fill="#bebeff"/>
<rect x="142.5" fill="#cfcfff"/>
<rect x="143.8" fill="#d9d9ff"/>
<rect x="145.0" fill="#fffdfd"/>
<rect x="146.2" fill="#fff9f9"/>
<rect x="147.5" fill="#f4f4ff"/>
<rect x="148.7" fill="#ffcccc"/>
<rect x="149.9" fill="#ffdada"/>
<rect x="151.2" fill="#ffd6d6"/>
<rect x="152.4" fill="#ffcccc"/>
<rect x="153.7" fill="#ffb6b6"/>
<rect x="154.9" fill="#ffdede"/>
<rect x="156.1" fill="#ffb1b1"/>
<rect x="157.4" fill="#ffa6a6"/>
<rect x="158.6" fill="#ffd7d7"/>
<rect x="159.8" fill="#ffb2b2"/>
<rect x="161.1" fill="#ffd6d6"/>
<rect x="162.3" fill="#ffb7b7"/>
<rect x="163.6" fill="#f3f3ff"/>
<rect x="164.8" fill="#ffe7e7"/>
<rect x="166.0" fill="#ffd6d6"/>
<rect x="167.3" fill="#ffe8e8"/>
<rect x="168.5" fill="#eaeaff"/>
<rect x="169.7" fill="#f1f1ff"/>
<rect x="171.0" fill="#ebebff"/>
<rect x="172.2" fill="#cfcfff"/>
<rect x="173.4" fill="#ffeaea"/>
<rect x="174.7" fill="#ffd5d5"/>
<rect x="175.9" fill="#ffe9e9"/>
<rect x="177.2" fill="#ffd8d8"/>
<rect x="178.4" fill="#ffcbcb"/>
<rect x="179.6" fill="#ffd2d2"/>
<rect x="180.9" fill="#ffc3c3"/>
<rect x="182.1" fill="#ffdada"/>
<rect x="183.4" fill="#ffebeb"/>
<rect x="184.6" fill="#ffdede"/>
<rect x="185.8" fill="#f6f6ff"/>
<rect x="187.1" fill="#f3f3ff"/>
<rect x="188.3" fill="#ffe5e5"/>
<rect x="189.5" fill="#fff2f2"/>
<rect x="190.8" fill="#dfdfff"/>
<rect x="192.0" fill="#fff4f4"/>
<rect x="193.2" fill="#bcbcff"/>
<rect x="194.5" fill="#c5c5ff"/>
<rect x="195.7" fill="#ededff"/>
<rect x="197.0" fill="#f3f3ff"/>
<rect x="198.2" fill="#f4f4ff"/>
<rect x="199.4" fill="#babaff"/>
<rect x="200.7" fill="#b2b2ff"/>
<rect x="201.9" fill="#a4a4ff"/>
<rect x="203.2" fill="#ffecec"/>
<rect x="204.4" fill="#f0f0ff"/>
<rect x="205.6" fill="#ddddff"/>
<rect x="206.9" fill="#fffdfd"/>
<rect x="208.1" fill="#e9e9ff"/>
<rect x="209.3" fill="#ededff"/>
<rect x="210.6" fill="#e0e0ff"/>
<rect x="211.8" fill="#f8f8ff"/>
<rect x="213.1" fill="#ebebff"/>
<rect x="214.3" fill="#b7b7ff"/>
<rect x="215.5" fill="#e1e1ff"/>
<rect x="216.8" fill="#b0b0ff"/>
<rect x="218.0" fill="#ffe6e6"/>
<rect x="219.2" fill="#ffeded"/>
<rect x="220.5" fill="#ffeded"/>
<rect x="221.7" fill="#f2f2ff"/>
<rect x="223.0" fill="#e9e9ff"/>
<rect x="224.2" fill="#d0d0ff"/>
<rect x="225.4" fill="#d7d7ff"/>
<rect x="226.7" fill="#b0b0ff"/>
<rect x="227.9" fill="#d0d0ff"/>
<rect x="229.1" fill="#ededff"/>
<rect x="230.4" fill="#e7e7ff"/>
<rect x="231.6" fill="#f4f4ff"/>
<rect x="232.8" fill="#ffeaea"/>
<rect x="234.1" fill="#fff1f1"/>
<rect x="235.3" fill="#ffdede"/>
<rect x="236.6" fill="#f4f4ff"/>
<rect x="237.8" fill="#c4c4ff"/>
<rect x="239.0" fill="#e4e4ff"/>
<rect x="240.3" fill="#ededff"/>
<rect x="241.5" fill="#ffffff"/>
<rect x="242.8" fill="#cbcbff"/>
<rect x="244.0" fill="#c3c3ff"/>
<rect x="245.2" fill="#bdbdff"/>
<rect x="246.5" fill="#9898ff"/>
<rect x="247.7" fill="#e3e3ff"/>
<rect x="248.9" fill="#f3f3ff"/>
<rect x="250.2" fill="#cacaff"/>
<rect x="251.4" fill="#c4c4ff"/>
<rect x="252.7" fill="#f4f4ff"/>
<rect x="253.9" fill="#fff1f1"/>
<rect x="255.1" fill="#e3e3ff"/>
<rect x="256.4" fill="#d4d4ff"/>
<rect x="257.6" fill="#e0e0ff"/>
<rect x="258.8" fill="#eeeeff"/>
<rect x="260.1" fill="#d7d7ff"/>
<rect x="261.3" fill="#b8b8ff"/>
<rect x="262.6" fill="#7070ff"/>
<rect x="263.8" fill="#7070ff"/>
<rect x="265.0" fill="#acacff"/>
<rect x="266.3" fill="#8585ff"/>
<rect x="267.5" fill="#b2b2ff"/>
<rect x="268.7" fill="#9090ff"/>
<rect x="270.0" fill="#b3b3ff"/>
<rect x="271.2" fill="#9494ff"/>
<rect x="272.5" fill="#fff5f5"/>
<rect x="273.7" fill="#ffe4e4"/>
<rect x="274.9" fill="#fff2f2"/>
<rect x="276.2" fill="#f0f0ff"/>
<rect x="277.4" fill="#cacaff"/>
<rect x="278.6" fill="#b9b9ff"/>
<rect x="279.9" fill="#ededff"/>
<rect x="281.1" fill="#dadaff"/>
<rect x="282.4" fill="#adadff"/>
<rect x="283.6" fill="#9999ff"/>
<rect x="284.8" fill="#9999ff"/>
<rect x="286.1" fill="#bfbfff"/>
</g>
<g transform="translate(0,281.51)">
<rect x="69.5" fill="#ffb1b1"/>
<rect x="70.7" fill="#ffa8a8"/>
<rect x="72.0" fill="#ff9a9a"/>
<rect x="73.2" fill="#ff9090"/>
<rect x="74.5" fill="#c7c7ff"/>
<rect x="75.7" fill="#bbbbff"/>
<rect x="76.9" fill="#a6a6ff"/>
<rect x="78.2" fill="#d9d9ff"/>
<rect x="79.4" fill="#ffeaea"/>
<rect x="80.6" fill="#ffc5c5"/>
<rect x="81.9" fill="#ffe5e5"/>
<rect x="83.1" fill="#fff2f2"/>
<rect x="84.3" fill="#e2e2ff"/>
<rect x="85.6" fill="#ffecec"/>
<rect x="86.8" fill="#f3f3ff"/>
<rect x="88.1" fill="#e0e0ff"/>
<rect x="89.3" fill="#dadaff"/>
<rect x="90.5" fill="#c2c2ff"/>
<rect x="91.8" fill="#d1d1ff"/>
<rect x="93.0" fill="#cfcfff"/>
<rect x="94.2" fill="#e1e1ff"/>
<rect x="95.5" fill="#d8d8ff"/>
<rect x="96.7" fill="#bebeff"/>
<rect x="98.0" fill="#aaaaff"/>
<rect x="99.2" fill="#aeaeff"/>
<rect x="100.4" fill="#9191ff"/>
<rect x="101.7" fill="#8787ff"/>
<rect x="102.9" fill="#9d9dff"/>
<rect x="104.2" fill="#f3f3ff"/>
<rect x="105.4" fill="#d5d5ff"/>
<rect x="106.6" fill="#c4c4ff"/>
<rect x="107.9" fill="#bfbfff"/>
<rect x="109.1" fill="#f3f3ff"/>
<rect x="110.3" fill="#ffe2e2"/>
<rect x="111.6" fill="#ffecec"/>
<rect x="112.8" fill="#fff2f2"/>
<rect x="114.1" fill="#ff2d2d"/>
<rect x="115.3" fill="#ff3535"/>
<rect x="116.5" fill="#ff2f2f"/>
<rect x="117.8" fill="#ff1010"/>
<rect x="119.0" fill="#fbfbff"/>
<rect x="120.2" fill="#fefeff"/>
<rect x="121.5" fill="#ceceff"/>
<rect x="122.7" fill="#f3f3ff"/>
<rect x="124.0" fill="#d0d0ff"/>
<rect x="125.2" fill="#c3c3ff"/>
<rect x="126.4" fill="#c8c8ff"/>
<rect x="127.7" fill="#adadff"/>
<rect x="128.9" fill="#f0f0ff"/>
<rect x="130.1" fill="#ffe1e1"/>
<rect x="131.4" fill="#ededff"/>
<rect x="132.6" fill="#ffe1e1"/>
<rect x="133.9" fill="#ffcbcb"/>
<rect x="135.1" fill="#ffe3e3"/>
<rect x="136.3" fill="#ffd6d6"/>
<rect x="137.6" fill="#fff4f4"/>
<rect x="138.8" fill="#ffeeee"/>
<rect x="140.0" fill="#ffc9c9"/>
<rect x="141.3" fill="#ffdede"/>
<rect x="142.5" fill="#ffc3c3"/>
<rect x="143.8" fill="#f3f3ff"/>
<rect x="145.0" fill="#fff0f0"/>
<rect x="146.2" fill="#ffe6e6"/>
<rect x="147.5" fill="#ffeeee"/>
<rect x="148.7" fill="#ffcccc"/>
<rect x="149.9" fill="#ffe5e5"/>
<rect x="151.2" fill="#fffbfb"/>
<rect x="152.4" fill="#ffe3e3"/>
<rect x="153.7" fill="#eaeaff"/>
<rect x="154.9" fill="#ffecec"/>
<rect x="156.1" fill="#e8e8ff"/>
<rect x="157.4" fill="#d3d3ff"/>
<rect x="158.6" fill="#b0b0ff"/>
<rect x="159.8" fill="#c6c6ff"/>
<rect x="161.1" fill="#e0e0ff"/>
<rect x="162.3" fill="#e2e2ff"/>
<rect x="163.6" fill="#c5c5ff"/>
<rect x="164.8" fill="#a9a9ff"/>
<rect x="166.0" fill="#cdcdff"/>
<rect x="167.3" fill="#b0b0ff"/>
<rect x="168.5" fill="#fff7f7"/>
<rect x="169.7" fill="#fff1f1"/>
<rect x="171.0" fill="#ffd8d8"/>
<rect x="172.2" fill="#fff2f2"/>
<rect x="173.4" fill="#fffdfd"/>
<rect x="174.7" fill="#fff3f3"/>
<rect x="175.9" fill="#e4e4ff"/>
<rect x="177.2" fill="#ffeeee"/>
<rect x="178.4" fill="#fff0f0"/>
<rect x="179.6" fill="#ffe9e9"/>
<rect x="180.9" fill="#e6e6ff"/>
<rect x="182.1" fill="#e2e2ff"/>
<rect x="183.4" fill="#a7a7ff"/>
<rect x="184.6" fill="#b0b0ff"/>
<rect x="185.8" fill="#b9b9ff"/>
<rect x="187.1" fill="#e9e9ff"/>
<rect x="188.3" fill="#fff7f7"/>
<rect x="189.5" fill="#fff6f6"/>
<rect x="190.8" fill="#fdfdff"/>
<rect x="192.0" fill="#f7f7ff"/>
<rect x="193.2" fill="#fff8f8"/>
<rect x="194.5" fill="#ffd4d4"/>
<rect x="195.7" fill="#ffd4d4"/>
<rect x="197.0" fill="#ffeaea"/>
<rect x="198.2" fill="#ffc8c8"/>
<rect x="199.4" fill="#fff4f4"/>
<rect x="200.7" fill="#ffc2c2"/>
<rect x="201.9" fill="#ffc7c7"/>
<rect x="203.2" fill="#f1f1ff"/>
<rect x="204.4" fill="#e0e0ff"/>
<rect x="205.6" fill="#babaff"/>
<rect x="206.9" fill="#c5c5ff"/>
<rect x="208.1" fill="#ffeeee"/>
<rect x="209.3" fill="#ffdada"/>
<rect x="210.6" fill="#fffdfd"/>
<rect x="211.8" fill="#ffd6d6"/>
<rect x="213.1" fill="#ffbbbb"/>
<rect x="214.3" fill="#ffc2c2"/>
<rect x="215.5" fill="#ffd7d7"/>
<rect x="216.8" fill="#ffc5c5"/>
<rect x="218.0" fill="#a0a0ff"/>
<rect x="219.2" fill="#c8c8ff"/>
<rect x="220.5" fill="#d5d5ff"/>
<rect x="221.7" fill="#b4b4ff"/>
<rect x="223.0" fill="#c4c4ff"/>
<rect x="224.2" fill="#9d9dff"/>
<rect x="225.4" fill="#c3c3ff"/>
<rect x="226.7" fill="#bfbfff"/>
<rect x="227.9" fill="#e3e3ff"/>
<rect x="229.1" fill="#fefeff"/>
<rect x="230.4" fill="#f5f5ff"/>
<rect x="231.6" fill="#fff8f8"/>
<rect x="232.8" fill="#ffeded"/>
<rect x="234.1" fill="#ffeaea"/>
<rect x="235.3" fill="#ffb9b9"/>
<rect x="236.6" fill="#ffc0c0"/>
<rect x="237.8" fill="#fff7f7"/>
<rect x="239.0" fill="#ffeded"/>
<rect x="240.3" fill="#e8e8ff"/>
<rect x="241.5" fill="#d7d7ff"/>
<rect x="242.8" fill="#b7b7ff"/>
<rect x="244.0" fill="#babaff"/>
<rect x="245.2" fill="#c4c4ff"/>
<rect x="246.5" fill="#cfcfff"/>
<rect x="247.7" fill="#ff4747"/>
<rect x="248.9" fill="#ff4545"/>
<rect x="250.2" fill="#ff1919"/>
<rect x="251.4" fill="#ff0b0b"/>
<rect x="252.7" fill="#ff0e0e"/>
<rect x="253.9" fill="#ff3f3f"/>
<rect x="255.1" fill="#ff2323"/>
<rect x="256.4" fill="#ff4444"/>
<rect x="257.6" fill="#d8d8ff"/>
<rect x="258.8" fill="#dadaff"/>
<rect x="260.1" fill="#ffe8e8"/>
<rect x="261.3" fill="#fdfdff"/>
<rect x="262.6" fill="#efefff"/>
<rect x="263.8" fill="#d7d7ff"/>
<rect x="265.0" fill="#e6e6ff"/>
<rect x="266.3" fill="#fff3f3"/>
<rect x="267.5" fill="#cacaff"/>
<rect x="268.7" fill="#c7c7ff"/>
<rect x="270.0" fill="#adadff"/>
<rect x="271.2" fill="#a5a5ff"/>
<rect x="272.5" fill="#cbcbff"/>
<rect x="273.7" fill="#fffbfb"/>
<rect x="274.9" fill="#ffe1e1"/>
<rect x="276.2" fill="#fff4f4"/>
<rect x="277.4" fill="#ffc6c6"/>
<rect x="278.6" fill="#ffd5d5"/>
<rect x="279.9" fill="#ffc3c3"/>
<rect x="281.1" fill="#ffe1e1"/>
<rect x="282.4" fill="#ff7a7a"/>
<rect x="283.6" fill="#ff5c5c"/>
<rect x="284.8" fill="#ff6e6e"/>
<rect x="286.1" fill="#ff4141"/>
</g>
<g transform="translate(0,287.48)">
<rect x="69.5" fill="#a0a0ff"/>
<rect x="70.7" fill="#7979ff"/>
<rect x="72.0" fill="#8f8fff"/>
<rect x="73.2" fill="#b8b8ff"/>
<rect x="74.5" fill="#c0c0ff"/>
<rect x="75.7" fill="#c5c5ff"/>
<rect x="76.9" fill="#d0d0ff"/>
<rect x="78.2" fill="#f0f0ff"/>
<rect x="79.4" fill="#ffebeb"/>
<rect x="80.6" fill="#ffcbcb"/>
<rect x="81.9" fill="#fff0f0"/>
<rect x="83.1" fill="#ffcece"/>
<rect x="84.3" fill="#ffacac"/>
<rect x="85.6" fill="#ffb5b5"/>
<rect x="86.8" fill="#ffecec"/>
<rect x="88.1" fill="#ffefef"/>
<rect x="89.3" fill="#ffe1e1"/>
<rect x="90.5" fill="#ffb8b8"/>
<rect x="91.8" fill="#ffcbcb"/>
<rect x="93.0" fill="#ffe3e3"/>
<rect x="94.2" fill="#fff3f3"/>
<rect x="95.5" fill="#ffe6e6"/>
<rect x="96.7" fill="#ffcdcd"/>
<rect x="98.0" fill="#ffdfdf"/>
<rect x="99.2" fill="#f6f6ff"/>
<rect x="100.4" fill="#fffdfd"/>
<rect x="101.7" fill="#cdcdff"/>
<rect x="102.9" fill="#aaaaff"/>
<rect x="104.2" fill="#dadaff"/>
<rect x="105.4" fill="#dfdfff"/>
<rect x="106.6" fill="#f6f6ff"/>
<rect x="107.9" fill="#fefeff"/>
<rect x="109.1" fill="#f4f4ff"/>
<rect x="110.3" fill="#e8e8ff"/>
<rect x="111.6" fill="#ffeded"/>
<rect x="112.8" fill="#fff2f2"/>
<rect x="114.1" fill="#eeeeff"/>
<rect x="115.3" fill="#ffffff"/>
<rect x="116.5" fill="#bebeff"/>
<rect x="117.8" fill="#b4b4ff"/>
<rect x="119.0" fill="#a1a1ff"/>
<rect x="120.2" fill="#a5a5ff"/>
<rect x="121.5" fill="#b4b4ff"/>
<rect x="122.7" fill="#e6e6ff"/>
<rect x="124.0" fill="#c3c3ff"/>
<rect x="125.2" fill="#cacaff"/>
<rect x="126.4" fill="#c8c8ff"/>
<rect x="127.7" fill="#f2f2ff"/>
<rect x="128.9" fill="#ffe2e2"/>
<rect x="130.1" fill="#fff9f9"/>
<rect x="131.4" fill="#e0e0ff"/>
<rect x="132.6" fill="#dedeff"/>
<rect x="133.9" fill="#7676ff"/>
<rect x="135.1" fill="#b7b7ff"/>
<rect x="136.3" fill="#9b9bff"/>
<rect x="137.6" fill="#8585ff"/>
<rect x="138.8" fill="#9d9dff"/>
<rect x="140.0" fill="#9e9eff"/>
<rect x="141.3" fill="#c2c2ff"/>
<rect x="142.5" fill="#cacaff"/>
<rect x="143.8" fill="#fffbfb"/>
<rect x="145.0" fill="#ffebeb"/>
<rect x="146.2" fill="#efefff"/>
<rect x="147.5" fill="#fffefe"/>
<rect x="148.7" fill="#d9d9ff"/>
<rect x="149.9" fill="#fbfbff"/>
<rect x="151.2" fill="#ddddff"/>
<rect x="152.4" fill="#c0c0ff"/>
<rect x="153.7" fill="#8585ff"/>
<rect x="154.9" fill="#a7a7ff"/>
<rect x="156.1" fill="#bebeff"/>
<rect x="157.4" fill="#9f9fff"/>
<rect x="158.6" fill="#eaeaff"/>
<rect x="159.8" fill="#ffffff"/>
<rect x="161.1" fill="#dcdcff"/>
<rect x="162.3" fill="#b5b5ff"/>
<rect x="163.6" fill="#ffe9e9"/>
<rect x="164.8" fill="#f5f5ff"/>
<rect x="166.0" fill="#ffdcdc"/>
<rect x="167.3" fill="#fff8f8"/>
<rect x="168.5" fill="#d4d4ff"/>
<rect x="169.7" fill="#cfcfff"/>
<rect x="171.0" fill="#adadff"/>
<rect x="172.2" fill="#b5b5ff"/>
<rect x="173.4" fill="#d1d1ff"/>
<rect x="174.7" fill="#e9e9ff"/>
<rect x="175.9" fill="#d6d6ff"/>
<rect x="177.2" fill="#f5f5ff"/>
<rect x="178.4" fill="#ffa4a4"/>
<rect x="179.6" fill="#ff8181"/>
<rect x="180.9" fill="#ff7a7a"/>
<rect x="182.1" fill="#ff8787"/>
<rect x="183.4" fill="#ff7f7f"/>
<rect x="184.6" fill="#ff9b9b"/>
<rect x="185.8" fill="#ff8686"/>
<rect x="187.1" fill="#ff8c8c"/>
<rect x="188.3" fill="#ffdada"/>
<rect x="189.5" fill="#ffd0d0"/>
<rect x="190.8" fill="#ffdcdc"/>
<rect x="192.0" fill="#ffcece"/>
<rect x="193.2" fill="#ffb5b5"/>
<rect x="194.5" fill="#ff8888"/>
<rect x="195.7" fill="#ff9898"/>
<rect x="197.0" fill="#ff9e9e"/>
<rect x="198.2" fill="#ffb7b7"/>
<rect x="199.4" fill="#ffbbbb"/>
<rect x="200.7" fill="#ffa9a9"/>
<rect x="201.9" fill="#ffb1b1"/>
<rect x="203.2" fill="#fefeff"/>
<rect x="204.4" fill="#fff3f3"/>
<rect x="205.6" fill="#fffcfc"/>
<rect x="206.9" fill="#ffbcbc"/>
<rect x="208.1" fill="#e7e7ff"/>
<rect x="209.3" fill="#fff8f8"/>
<rect x="210.6" fill="#ffe6e6"/>
<rect x="211.8" fill="#ffcbcb"/>
<rect x="213.1" fill="#fcfcff"/>
<rect x="214.3" fill="#f7f7ff"/>
<rect x="215.5" fill="#ececff"/>
<rect x="216.8" fill="#fdfdff"/>
<rect x="218.0" fill="#ffcfcf"/>
<rect x="219.2" fill="#ffe9e9"/>
<rect x="220.5" fill="#ffcfcf"/>
<rect x="221.7" fill="#ffe3e3"/>
<rect x="223.0" fill="#d6d6ff"/>
<rect x="224.2" fill="#c2c2ff"/>
<rect x="225.4" fill="#d5d5ff"/>
<rect x="226.7" fill="#d7d7ff"/>
<rect x="227.9" fill="#9696ff"/>
<rect x="229.1" fill="#9b9bff"/>
<rect x="230.4" fill="#9999ff"/>
<rect x="231.6" fill="#bdbdff"/>
<rect x="232.8" fill="#bebeff"/>
<rect x="234.1" fill="#a6a6ff"/>
<rect x="235.3" fill="#bebeff"/>
<rect x="236.6" fill="#ccccff"/>
<rect x="237.8" fill="#a9a9ff"/>
<rect x="239.0" fill="#babaff"/>
<rect x="240.3" fill="#a9a9ff"/>
<rect x="241.5" fill="#a6a6ff"/>
<rect x="242.8" fill="#fffcfc"/>
<rect x="244.0" fill="#d9d9ff"/>
<rect x="245.2" fill="#d6d6ff"/>
<rect x="246.5" fill="#ececff"/>
<rect x="247.7" fill="#e3e3ff"/>
<rect x="248.9" fill="#f0f0ff"/>
<rect x="250.2" fill="#e0e0ff"/>
<rect x="251.4" fill="#d9d9ff"/>
<rect x="252.7" fill="#ffe2e2"/>
<rect x="253.9" fill="#ffefef"/>
<rect x="255.1" fill="#ffe1e1"/>
<rect x="256.4" fill="#fff6f6"/>
<rect x="257.6" fill="#e4e4ff"/>
<rect x="258.8" fill="#ffe9e9"/>
<rect x="260.1" fill="#f2f2ff"/>
<rect x="261.3" fill="#ffffff"/>
<rect x="262.6" fill="#ff9595"/>
<rect x="263.8" fill="#ff9d9d"/>
<rect x="265.0" fill="#ffacac"/>
<rect x="266.3" fill="#ffcbcb"/>
<rect x="267.5" fill="#ffbaba"/>
<rect x="268.7" fill="#ffd0d0"/>
<rect x="270.0" fill="#ffb4b4"/>
<rect x="271.2" fill="#ffafaf"/>
<rect x="272.5" fill="#fffafa"/>
<rect x="273.7" fill="#ffefef"/>
<rect x="274.9" fill="#ffe3e3"/>
<rect x="276.2" fill="#ffecec"/>
<rect x="277.4" fill="#ffe6e6"/>
<rect x="278.6" fill="#fafaff"/>
<rect x="279.9" fill="#dadaff"/>
<rect x="281.1" fill="#c8c8ff"/>
<rect x="282.4" fill="#9595ff"/>
<rect x="283.6" fill="#b1b1ff"/>
<rect x="284.8" fill="#9c9cff"/>
<rect x="286.1" fill="#b5b5ff"/>
</g>
<g transform="translate(0,293.46)">
<rect x="69.5" fill="#f4f4ff"/>
<rect x="70.7" fill="#cdcdff"/>
<rect x="72.0" fill="#e0e0ff"/>
<rect x="73.2" fill="#dbdbff"/>
<rect x="74.5" fill="#bbbbff"/>
<rect x="75.7" fill="#c2c2ff"/>
<rect x="76.9" fill="#a3a3ff"/>
<rect x="78.2" fill="#b7b7ff"/>
<rect x="79.4" fill="#a5a5ff"/>
<rect x="80.6" fill="#9e9eff"/>
<rect x="81.9" fill="#b7b7ff"/>
<rect x="83.1" fill="#bbbbff"/>
<rect x="84.3" fill="#ffc7c7"/>
<rect x="85.6" fill="#ffcfcf"/>
<rect x="86.8" fill="#ffc9c9"/>
<rect x="88.1" fill="#ff8e8e"/>
<rect x="89.3" fill="#ffa2a2"/>
<rect x="90.5" fill="#ffcbcb"/>
<rect x="91.8" fill="#fff5f5"/>
<rect x="93.0" fill="#ffe3e3"/>
<rect x="94.2" fill="#ffe7e7"/>
<rect x="95.5" fill="#f5f5ff"/>
<rect x="96.7" fill="#ffdcdc"/>
<rect x="98.0" fill="#fff6f6"/>
<rect x="99.2" fill="#c3c3ff"/>
<rect x="100.4" fill="#a8a8ff"/>
<rect x="101.7" fill="#adadff"/>
<rect x="102.9" fill="#c4c4ff"/>
<rect x="104.2" fill="#e8e8ff"/>
<rect x="105.4" fill="#ebebff"/>
<rect x="106.6" fill="#fff6f6"/>
<rect x="107.9" fill="#fffbfb"/>
<rect x="109.1" fill="#fff1f1"/>
<rect x="110.3" fill="#fdfdff"/>
<rect x="111.6" fill="#ffc9c9"/>
<rect x="112.8" fill="#ffe8e8"/>
<rect x="114.1" fill="#ffe4e4"/>
<rect x="115.3" fill="#ffcaca"/>
<rect x="116.5" fill="#ffa7a7"/>
<rect x="117.8" fill="#ffbdbd"/>
<rect x="119.0" fill="#ff8686"/>
<rect x="120.2" fill="#ff8c8c"/>
<rect x="121.5" fill="#ff8080"/>
<rect x="122.7" fill="#ff9696"/>
<rect x="124.0" fill="#ffb4b4"/>
<rect x="125.2" fill="#ffa7a7"/>
<rect x="126.4" fill="#ff9b9b"/>
<rect x="127.7" fill="#ffbcbc"/>
<rect x="128.9" fill="#ff6a6a"/>
<rect x="130.1" fill="#ff6b6b"/>
<rect x="131.4" fill="#ff7272"/>
<rect x="132.6" fill="#ff6c6c"/>
<rect x="133.9" fill="#ffb1b1"/>
<rect x="135.1" fill="#ffb4b4"/>
<rect x="136.3" fill="#ff8383"/>
<rect x="137.6" fill="#ffa3a3"/>
<rect x="138.8" fill="#ffa5a5"/>
<rect x="140.0" fill="#ffcdcd"/>
<rect x="141.3" fill="#ffc7c7"/>
<rect x="142.5" fill="#ff9a9a"/>
<rect x="143.8" fill="#ffcdcd"/>
<rect x="145.0" fill="#ffc0c0"/>
<rect x="146.2" fill="#ffa8a8"/>
<rect x="147.5" fill="#ffafaf"/>
<rect x="148.7" fill="#ff9d9d"/>
<rect x="149.9" fill="#ff9c9c"/>
<rect x="151.2" fill="#ffd1d1"/>
<rect x="152.4" fill="#ffc7c7"/>
<rect x="153.7" fill="#ddddff"/>
<rect x="154.9" fill="#fbfbff"/>
<rect x="156.1" fill="#ffe0e0"/>
<rect x="157.4" fill="#ffdfdf"/>
<rect x="158.6" fill="#ff7575"/>
<rect x="159.8" fill="#ff8989"/>
<rect x="161.1" fill="#ff8181"/>
<rect x="162.3" fill="#ffa9a9"/>
<rect x="163.6" fill="#ff7b7b"/>
<rect x="164.8" fill="#ff9191"/>
<rect x="166.0" fill="#ff9797"/>
<rect x="167.3" fill="#ff6666"/>
<rect x="168.5" fill="#fff1f1"/>
<rect x="169.7" fill="#ffc9c9"/>
<rect x="171.0" fill="#ffe1e1"/>
<rect x="172.2" fill="#ffbcbc"/>
<rect x="173.4" fill="#ffa1a1"/>
<rect x="174.7" fill="#ffe1e1"/>
<rect x="175.9" fill="#ffd2d2"/>
<rect x="177.2" fill="#ffc4c4"/>
<rect x="178.4" fill="#ffa0a0"/>
<rect x="179.6" fill="#ffc9c9"/>
<rect x="180.9" fill="#ffb4b4"/>
<rect x="182.1" fill="#ff9a9a"/>
<rect x="183.4" fill="#ff9d9d"/>
<rect x="184.6" fill="#ffbcbc"/>
<rect x="185.8" fill="#ffabab"/>
<rect x="187.1" fill="#ffcdcd"/>
<rect x="188.3" fill="#d2d2ff"/>
<rect x="189.5" fill="#ddddff"/>
<rect x="190.8" fill="#eeeeff"/>
<rect x="192.0" fill="#ededff"/>
<rect x="193.2" fill="#ffbfbf"/>
<rect x="194.5" fill="#ff8c8c"/>
<rect x="195.7" fill="#ffb9b9"/>
<rect x="197.0" fill="#ffc9c9"/>
<rect x="198.2" fill="#ffcece"/>
<rect x="199.4" fill="#ffdede"/>
<rect x="200.7" fill="#ffbaba"/>
<rect x="201.9" fill="#ffaaaa"/>
<rect x="203.2" fill="#e3e3ff"/>
<rect x="204.4" fill="#e4e4ff"/>
<rect x="205.6" fill="#d0d0ff"/>
<rect x="206.9" fill="#e5e5ff"/>
<rect x="208.1" fill="#ffd0d0"/>
<rect x="209.3" fill="#ffdfdf"/>
<rect x="210.6" fill="#fffbfb"/>
<rect x="211.8" fill="#ffdbdb"/>
<rect x="213.1" fill="#ffe9e9"/>
<rect x="214.3" fill="#ffc7c7"/>
<rect x="215.5" fill="#ffa8a8"/>
<rect x="216.8" fill="#ffd5d5"/>
<rect x="218.0" fill="#ff9a9a"/>
<rect x="219.2" fill="#ffbfbf"/>
<rect x="220.5" fill="#ffb8b8"/>
<rect x="221.7" fill="#ff8888"/>
<rect x="223.0" fill="#ffb9b9"/>
<rect x="224.2" fill="#ffc6c6"/>
<rect x="225.4" fill="#ffcfcf"/>
<rect x="226.7" fill="#ffd3d3"/>
<rect x="227.9" fill="#ffcfcf"/>
<rect x="229.1" fill="#ff9292"/>
<rect x="230.4" fill="#ff9292"/>
<rect x="231.6" fill="#ff9b9b"/>
<rect x="232.8" fill="#ff8686"/>
<rect x="234.1" fill="#ff8989"/>
<rect x="235.3" fill="#ff7171"/>
<rect x="236.6" fill="#ff9a9a"/>
<rect x="237.8" fill="#ffcaca"/>
<rect x="239.0" fill="#ffadad"/>
<rect x="240.3" fill="#ffd0d0"/>
<rect x="241.5" fill="#ffaeae"/>
<rect x="242.8" fill="#ff9d9d"/>
<rect x="244.0" fill="#ffa4a4"/>
<rect x="245.2" fill="#ffacac"/>
<rect x="246.5" fill="#ffc6c6"/>
<rect x="247.7" fill="#ffeded"/>
<rect x="248.9" fill="#ffcdcd"/>
<rect x="250.2" fill="#ffb3b3"/>
<rect x="251.4" fill="#ffbebe"/>
<rect x="252.7" fill="#ffeded"/>
<rect x="253.9" fill="#ffd6d6"/>
<rect x="255.1" fill="#ffc7c7"/>
<rect x="256.4" fill="#ffc3c3"/>
<rect x="257.6" fill="#f2f2ff"/>
<rect x="258.8" fill="#d5d5ff"/>
<rect x="260.1" fill="#eeeeff"/>
<rect x="261.3" fill="#e3e3ff"/>
<rect x="262.6" fill="#dfdfff"/>
<rect x="263.8" fill="#f5f5ff"/>
<rect x="265.0" fill="#bebeff"/>
<rect x="266.3" fill="#dedeff"/>
<rect x="267.5" fill="#fffdfd"/>
<rect x="268.7" fill="#fafaff"/>
<rect x="270.0" fill="#f9f9ff"/>
<rect x="271.2" fill="#ffe4e4"/>
<rect x="272.5" fill="#bcbcff"/>
<rect x="273.7" fill="#ececff"/>
<rect x="274.9" fill="#ffffff"/>
<rect x="276.2" fill="#e0e0ff"/>
<rect x="277.4" fill="#ffffff"/>
<rect x="278.6" fill="#fefeff"/>
<rect x="279.9" fill="#f4f4ff"/>
<rect x="281.1" fill="#e4e4ff"/>
<rect x="282.4" fill="#ebebff"/>
<rect x="283.6" fill="#e3e3ff"/>
<rect x="284.8" fill="#f1f1ff"/>
<rect x="286.1" fill="#cacaff"/>
</g>
<g transform="translate(0,299.44)">
<rect x="69.5" fill="#f9f9ff"/>
<rect x="70.7" fill="#e9e9ff"/>
<rect x="72.0" fill="#ccccff"/>
<rect x="73.2" fill="#f9f9ff"/>
<rect x="74.5" fill="#ff9d9d"/>
<rect x="75.7" fill="#ffb6b6"/>
<rect x="76.9" fill="#ff9292"/>
<rect x="78.2" fill="#ff8989"/>
<rect x="79.4" fill="#ffb0b0"/>
<rect x="80.6" fill="#ffbbbb"/>
<rect x="81.9" fill="#ffd7d7"/>
<rect x="83.1" fill="#ffc7c7"/>
<rect x="84.3" fill="#c2c2ff"/>
<rect x="85.6" fill="#cdcdff"/>
<rect x="86.8" fill="#e9e9ff"/>
<rect x="88.1" fill="#ddddff"/>
<rect x="89.3" fill="#f4f4ff"/>
<rect x="90.5" fill="#fbfbff"/>
<rect x="91.8" fill="#e1e1ff"/>
<rect x="93.0" fill="#cfcfff"/>
<rect x="94.2" fill="#ececff"/>
<rect x="95.5" fill="#f4f4ff"/>
<rect x="96.7" fill="#d8d8ff"/>
<rect x="98.0" fill="#fff6f6"/>
<rect x="99.2" fill="#c1c1ff"/>
<rect x="100.4" fill="#a7a7ff"/>
<rect x="101.7" fill="#a1a1ff"/>
<rect x="102.9" fill="#afafff"/>
<rect x="104.2" fill="#e2e2ff"/>
<rect x="105.4" fill="#fcfcff"/>
<rect x="106.6" fill="#f0f0ff"/>
<rect x="107.9" fill="#e1e1ff"/>
<rect x="109.1" fill="#c2c2ff"/>
<rect x="110.3" fill="#cbcbff"/>
<rect x="111.6" fill="#cfcfff"/>
<rect x="112.8" fill="#c7c7ff"/>
<rect x="114.1" fill="#ff6767"/>
<rect x="115.3" fill="#ff3f3f"/>
<rect x="116.5" fill="#ff6060"/>
<rect x="117.8" fill="#ff5353"/>
<rect x="119.0" fill="#fffcfc"/>
<rect x="120.2" fill="#ffecec"/>
<rect x="121.5" fill="#ffffff"/>
<rect x="122.7" fill="#ffe6e6"/>
<rect x="124.0" fill="#fffafa"/>
<rect x="125.2" fill="#f9f9ff"/>
<rect x="126.4" fill="#f7f7ff"/>
<rect x="127.7" fill="#bebeff"/>
<rect x="128.9" fill="#aaaaff"/>
<rect x="130.1" fill="#b6b6ff"/>
<rect x="131.4" fill="#9090ff"/>
<rect x="132.6" fill="#b0b0ff"/>
<rect x="133.9" fill="#f1f1ff"/>
<rect x="135.1" fill="#fffcfc"/>
<rect x="136.3" fill="#e0e0ff"/>
<rect x="137.6" fill="#bebeff"/>
<rect x="138.8" fill="#4545ff"/>
<rect x="140.0" fill="#2f2fff"/>
<rect x="141.3" fill="#4e4eff"/>
<rect x="142.5" fill="#8282ff"/>
<rect x="143.8" fill="#6868ff"/>
<rect x="145.0" fill="#6969ff"/>
<rect x="146.2" fill="#4949ff"/>
<rect x="147.5" fill="#6f6fff"/>
<rect x="148.7" fill="#c9c9ff"/>
<rect x="149.9" fill="#bcbcff"/>
<rect x="151.2" fill="#e1e1ff"/>
<rect x="152.4" fill="#e8e8ff"/>
<rect x="153.7" fill="#b4b4ff"/>
<rect x="154.9" fill="#bcbcff"/>
<rect x="156.1" fill="#9191ff"/>
<rect x="157.4" fill="#acacff"/>
<rect x="158.6" fill="#2e2eff"/>
<rect x="159.8" fill="#3232ff"/>
<rect x="161.1" fill="#1c1cff"/>
<rect x="162.3" fill="#1c1cff"/>
<rect x="163.6" fill="#adadff"/>
<rect x="164.8" fill="#bdbdff"/>
<rect x="166.0" fill="#c6c6ff"/>
<rect x="167.3" fill="#d1d1ff"/>
<rect x="168.5" fill="#ffffff"/>
<rect x="169.7" fill="#fff6f6"/>
<rect x="171.0" fill="#fff7f7"/>
<rect x="172.2" fill="#ffd3d3"/>
<rect x="173.4" fill="#c9c9ff"/>
<rect x="174.7" fill="#dadaff"/>
<rect x="175.9" fill="#e9e9ff"/>
<rect x="177.2" fill="#f3f3ff"/>
<rect x="178.4" fill="#9898ff"/>
<rect x="179.6" fill="#8a8aff"/>
<rect x="180.9" fill="#a9a9ff"/>
<rect x="182.1" fill="#b0b0ff"/>
<rect x="183.4" fill="#c8c8ff"/>
<rect x="184.6" fill="#e7e7ff"/>
<rect x="185.8" fill="#d6d6ff"/>
<rect x="187.1" fill="#c0c0ff"/>
<rect x="188.3" fill="#f5f5ff"/>
<rect x="189.5" fill="#e3e3ff"/>
<rect x="190.8" fill="#fff8f8"/>
<rect x="192.0" fill="#ffd6d6"/>
<rect x="193.2" fill="#f6f6ff"/>
<rect x="194.5" fill="#e8e8ff"/>
<rect x="195.7" fill="#babaff"/>
<rect x="197.0" fill="#ebebff"/>
<rect x="198.2" fill="#ffd5d5"/>
<rect x="199.4" fill="#ffd1d1"/>
<rect x="200.7" fill="#ffd8d8"/>
<rect x="201.9" fill="#eeeeff"/>
<rect x="203.2" fill="#e9e9ff"/>
<rect x="204.4" fill="#f4f4ff"/>
<rect x="205.6" fill="#fffcfc"/>
<rect x="206.9" fill="#e9e9ff"/>
<rect x="208.1" fill="#e6e6ff"/>
<rect x="209.3" fill="#dadaff"/>
<rect x="210.6" fill="#e7e7ff"/>
<rect x="211.8" fill="#fbfbff"/>
<rect x="213.1" fill="#d0d0ff"/>
<rect x="214.3" fill="#b8b8ff"/>
<rect x="215.5" fill="#ccccff"/>
<rect x="216.8" fill="#b0b0ff"/>
<rect x="218.0" fill="#cacaff"/>
<rect x="219.2" fill="#c1c1ff"/>
<rect x="220.5" fill="#fafaff"/>
<rect x="221.7" fill="#ffe5e5"/>
<rect x="223.0" fill="#d3d3ff"/>
<rect x="224.2" fill="#cfcfff"/>
<rect x="225.4" fill="#d6d6ff"/>
<rect x="226.7" fill="#c4c4ff"/>
<rect x="227.9" fill="#ececff"/>
<rect x="229.1" fill="#ededff"/>
<rect x="230.4" fill="#e3e3ff"/>
<rect x="231.6" fill="#fffbfb"/>
<rect x="232.8" fill="#fff9f9"/>
<rect x="234.1" fill="#e2e2ff"/>
<rect x="235.3" fill="#d1d1ff"/>
<rect x="236.6" fill="#fefeff"/>
<rect x="237.8" fill="#ff2525"/>
<rect x="239.0" fill="#ff0707"/>
<rect x="240.3" fill="#ff0505"/>
<rect x="241.5" fill="#ff0f0f"/>
<rect x="242.8" fill="#ffdcdc"/>
<rect x="244.0" fill="#ffcdcd"/>
<rect x="245.2" fill="#ffd2d2"/>
<rect x="246.5" fill="#ffbdbd"/>
<rect x="247.7" fill="#f4f4ff"/>
<rect x="248.9" fill="#ffdcdc"/>
<rect x="250.2" fill="#ffcbcb"/>
<rect x="251.4" fill="#ffc0c0"/>
<rect x="252.7" fill="#ffecec"/>
<rect x="253.9" fill="#efefff"/>
<rect x="255.1" fill="#f3f3ff"/>
<rect x="256.4" fill="#ffefef"/>
<rect x="257.6" fill="#b7b7ff"/>
<rect x="258.8" fill="#8484ff"/>
<rect x="260.1" fill="#7f7fff"/>
<rect x="261.3" fill="#b8b8ff"/>
<rect x="262.6" fill="#ddddff"/>
<rect x="263.8" fill="#b3b3ff"/>
<rect x="265.0" fill="#cacaff"/>
<rect x="266.3" fill="#e4e4ff"/>
<rect x="267.5" fill="#ffd5d5"/>
<rect x="268.7" fill="#f3f3ff"/>
<rect x="270.0" fill="#fff3f3"/>
<rect x="271.2" fill="#e4e4ff"/>
<rect x="272.5" fill="#ffa4a4"/>
<rect x="273.7" fill="#ffa0a0"/>
<rect x="274.9" fill="#ffc9c9"/>
<rect x="276.2" fill="#ffcfcf"/>
<rect x="277.4" fill="#b7b7ff"/>
<rect x="278.6" fill="#d6d6ff"/>
<rect x="279.9" fill="#fbfbff"/>
<rect x="281.1" fill="#d2d2ff"/>
<rect x="282.4" fill="#bfbfff"/>
<rect x="283.6" fill="#d8d8ff"/>
<rect x="284.8" fill="#d1d1ff"/>
<rect x="286.1" fill="#d9d9ff"/>
</g>
<g transform="translate(0,305.42)">
<rect x="69.5" fill="#ffe2e2"/>
<rect x="70.7" fill="#ffdede"/>
<rect x="72.0" fill="#fff6f6"/>
<rect x="73.2" fill="#f8f8ff"/>
<rect x="74.5" fill="#dedeff"/>
<rect x="75.7" fill="#dfdfff"/>
<rect x="76.9" fill="#e5e5ff"/>
<rect x="78.2" fill="#d9d9ff"/>
<rect x="79.4" fill="#ffe9e9"/>
<rect x="80.6" fill="#f3f3ff"/>
<rect x="81.9" fill="#ffebeb"/>
<rect x="83.1" fill="#fffefe"/>
<rect x="84.3" fill="#ffd7d7"/>
<rect x="85.6" fill="#fff9f9"/>
<rect x="86.8" fill="#ffc8c8"/>
<rect x="88.1" fill="#ffc8c8"/>
<rect x="89.3" fill="#ff9494"/>
<rect x="90.5" fill="#ffaaaa"/>
<rect x="91.8" fill="#ffcaca"/>
<rect x="93.0" fill="#ffb2b2"/>
<rect x="94.2" fill="#f9f9ff"/>
<rect x="95.5" fill="#e3e3ff"/>
<rect x="96.7" fill="#fff2f2"/>
<rect x="98.0" fill="#dfdfff"/>
<rect x="99.2" fill="#b2b2ff"/>
<rect x="100.4" fill="#cbcbff"/>
<rect x="101.7" fill="#9595ff"/>
<rect x="102.9" fill="#c1c1ff"/>
<rect x="104.2" fill="#fffbfb"/>
<rect x="105.4" fill="#dbdbff"/>
<rect x="106.6" fill="#d0d0ff"/>
<rect x="107.9" fill="#ebebff"/>
<rect x="109.1" fill="#b9b9ff"/>
<rect x="110.3" fill="#e0e0ff"/>
<rect x="111.6" fill="#b0b0ff"/>
<rect x="112.8" fill="#cdcdff"/>
<rect x="114.1" fill="#aaaaff"/>
<rect x="115.3" fill="#bcbcff"/>
<rect x="116.5" fill="#d8d8ff"/>
<rect x="117.8" fill="#d7d7ff"/>
<rect x="119.0" fill="#f7f7ff"/>
<rect x="120.2" fill="#e8e8ff"/>
<rect x="121.5" fill="#d3d3ff"/>
<rect x="122.7" fill="#dadaff"/>
<rect x="124.0" fill="#ffcbcb"/>
<rect x="125.2" fill="#ffcbcb"/>
<rect x="126.4" fill="#ffd4d4"/>
<rect x="127.7" fill="#ffd2d2"/>
<rect x="128.9" fill="#ffeeee"/>
<rect x="130.1" fill="#ffffff"/>
<rect x="131.4" fill="#ffd3d3"/>
<rect x="132.6" fill="#ffe3e3"/>
<rect x="133.9" fill="#fff0f0"/>
<rect x="135.1" fill="#fff3f3"/>
<rect x="136.3" fill="#ffe8e8"/>
<rect x="137.6" fill="#ffe1e1"/>
<rect x="138.8" fill="#a5a5ff"/>
<rect x="140.0" fill="#b3b3ff"/>
<rect x="141.3" fill="#8484ff"/>
<rect x="142.5" fill="#b2b2ff"/>
<rect x="143.8" fill="#bcbcff"/>
<rect x="145.0" fill="#d1d1ff"/>
<rect x="146.2" fill="#ababff"/>
<rect x="147.5" fill="#8b8bff"/>
<rect x="148.7" fill="#d9d9ff"/>
<rect x="149.9" fill="#bbbbff"/>
<rect x="151.2" fill="#e6e6ff"/>
<rect x="152.4" fill="#cdcdff"/>
<rect x="153.7" fill="#bfbfff"/>
<rect x="154.9" fill="#8d8dff"/>
<rect x="156.1" fill="#8888ff"/>
<rect x="157.4" fill="#b0b0ff"/>
<rect x="158.6" fill="#b4b4ff"/>
<rect x="159.8" fill="#d7d7ff"/>
<rect x="161.1" fill="#cbcbff"/>
<rect x="162.3" fill="#d4d4ff"/>
<rect x="163.6" fill="#b8b8ff"/>
<rect x="164.8" fill="#b1b1ff"/>
<rect x="166.0" fill="#e1e1ff"/>
<rect x="167.3" fill="#ebebff"/>
<rect x="168.5" fill="#8f8fff"/>
<rect x="169.7" fill="#7878ff"/>
<rect x="171.0" fill="#7070ff"/>
<rect x="172.2" fill="#7373ff"/>
<rect x="173.4" fill="#7c7cff"/>
<rect x="174.7" fill="#9494ff"/>
<rect x="175.9" fill="#8d8dff"/>
<rect x="177.2" fill="#bdbdff"/>
<rect x="178.4" fill="#8d8dff"/>
<rect x="179.6" fill="#9999ff"/>
<rect x="180.9" fill="#a9a9ff"/>
<rect x="182.1" fill="#bdbdff"/>
<rect x="183.4" fill="#adadff"/>
<rect x="184.6" fill="#b2b2ff"/>
<rect x="185.8" fill="#8e8eff"/>
<rect x="187.1" fill="#8888ff"/>
<rect x="188.3" fill="#ffeeee"/>
<rect x="189.5" fill="#e0e0ff"/>
<rect x="190.8" fill="#f4f4ff"/>
<rect x="192.0" fill="#ffe2e2"/>
<rect x="193.2" fill="#ffcfcf"/>
<rect x="194.5" fill="#fbfbff"/>
<rect x="195.7" fill="#ffd8d8"/>
<rect x="197.0" fill="#fff0f0"/>
<rect x="198.2" fill="#e7e7ff"/>
<rect x="199.4" fill="#fff0f0"/>
<rect x="200.7" fill="#fff6f6"/>
<rect x="201.9" fill="#ffd3d3"/>
<rect x="203.2" fill="#f4f4ff"/>
<rect x="204.4" fill="#ffe8e8"/>
<rect x="205.6" fill="#fafaff"/>
<rect x="206.9" fill="#d7d7ff"/>
<rect x="208.1" fill="#a3a3ff"/>
<rect x="209.3" fill="#d3d3ff"/>
<rect x="210.6" fill="#f4f4ff"/>
<rect x="211.8" fill="#f3f3ff"/>
<rect x="213.1" fill="#ededff"/>
<rect x="214.3" fill="#d8d8ff"/>
<rect x="215.5" fill="#c4c4ff"/>
<rect x="216.8" fill="#c1c1ff"/>
<rect x="218.0" fill="#7979ff"/>
<rect x="219.2" fill="#7373ff"/>
<rect x="220.5" fill="#7979ff"/>
<rect x="221.7" fill="#b2b2ff"/>
<rect x="223.0" fill="#cbcbff"/>
<rect x="224.2" fill="#a3a3ff"/>
<rect x="225.4" fill="#c8c8ff"/>
<rect x="226.7" fill="#9797ff"/>
<rect x="227.9" fill="#ababff"/>
<rect x="229.1" fill="#8787ff"/>
<rect x="230.4" fill="#9d9dff"/>
<rect x="231.6" fill="#c8c8ff"/>
<rect x="232.8" fill="#c7c7ff"/>
<rect x="234.1" fill="#c2c2ff"/>
<rect x="235.3" fill="#bebeff"/>
<rect x="236.6" fill="#cacaff"/>
<rect x="237.8" fill="#e2e2ff"/>
<rect x="239.0" fill="#f9f9ff"/>
<rect x="240.3" fill="#f5f5ff"/>
<rect x="241.5" fill="#f3f3ff"/>
<rect x="242.8" fill="#f9f9ff"/>
<rect x="244.0" fill="#ffeaea"/>
<rect x="245.2" fill="#ffd1d1"/>
<rect x="246.5" fill="#f0f0ff"/>
<rect x="247.7" fill="#c6c6ff"/>
<rect x="248.9" fill="#dcdcff"/>
<rect x="250.2" fill="#efefff"/>
<rect x="251.4" fill="#f8f8ff"/>
<rect x="252.7" fill="#fffdfd"/>
<rect x="253.9" fill="#fefeff"/>
<rect x="255.1" fill="#ffecec"/>
<rect x="256.4" fill="#ffd0d0"/>
<rect x="257.6" fill="#c7c7ff"/>
<rect x="258.8" fill="#a5a5ff"/>
<rect x="260.1" fill="#dadaff"/>
<rect x="261.3" fill="#afafff"/>
<rect x="262.6" fill="#ff9797"/>
<rect x="263.8" fill="#ff8787"/>
<rect x="265.0" fill="#ff9d9d"/>
<rect x="266.3" fill="#ff5c5c"/>
<rect x="267.5" fill="#ddddff"/>
<rect x="268.7" fill="#cdcdff"/>
<rect x="270.0" fill="#e8e8ff"/>
<rect x="271.2" fill="#ececff"/>
<rect x="272.5" fill="#ddddff"/>
<rect x="273.7" fill="#f4f4ff"/>
<rect x="274.9" fill="#babaff"/>
<rect x="276.2" fill="#ebebff"/>
<rect x="277.4" fill="#b9b9ff"/>
<rect x="278.6" fill="#bcbcff"/>
<rect x="279.9" fill="#b3b3ff"/>
<rect x="281.1" fill="#a9a9ff"/>
<rect x="282.4" fill="#9c9cff"/>
<rect x="283.6" fill="#d2d2ff"/>
<rect x="284.8" fill="#c3c3ff"/>
<rect x="286.1" fill="#bebeff"/>
</g>
</g></g>
<rect x="69.5" y="59.0" width="217.8" height="114.2" fill="none" stroke="#3a3a3a" stroke-width="1.2"/>
<line x1="69.5" y1="68.0" x2="72.0" y2="68.0" stroke="#3a3a3a" stroke-width="1.2"/>
<line x1="287.3" y1="68.0" x2="284.8" y2="68.0" stroke="#3a3a3a" stroke-width="1.2"/>
<line x1="69.5" y1="80.0" x2="72.0" y2="80.0" stroke="#3a3a3a" stroke-width="1.2"/>
<line x1="287.3" y1="80.0" x2="284.8" y2="80.0" stroke="#3a3a3a" stroke-width="1.2"/>
<line x1="69.5" y1="92.1" x2="72.0" y2="92.1" stroke="#3a3a3a" stroke-width="1.2"/>
<line x1="287.3" y1="92.1" x2="284.8" y2="92.1" stroke="#3a3a3a" stroke-width="1.2"/>
<line x1="69.5" y1="104.1" x2="72.0" y2="104.1" stroke="#3a3a3a" stroke-width="1.2"/>
<line x1="287.3" y1="104.1" x2="284.8" y2="104.1" stroke="#3a3a3a" stroke-width="1.2"/>
<line x1="69.5" y1="116.1" x2="72.0" y2="116.1" stroke="#3a3a3a" stroke-width="1.2"/>
<line x1="287.3" y1="116.1" x2="284.8" y2="116.1" stroke="#3a3a3a" stroke-width="1.2"/>
<line x1="69.5" y1="128.1" x2="72.0" y2="128.1" stroke="#3a3a3a" stroke-width="1.2"/>
<line x1="287.3" y1="128.1" x2="284.8" y2="128.1" stroke="#3a3a3a" stroke-width="1.2"/>
<line x1="69.5" y1="140.1" x2="72.0" y2="140.1" stroke="#3a3a3a" stroke-width="1.2"/>
<line x1="287.3" y1="140.1" x2="284.8" y2="140.1" stroke="#3a3a3a" stroke-width="1.2"/>
<line x1="69.5" y1="152.2" x2="72.0" y2="152.2" stroke="#3a3a3a" stroke-width="1.2"/>
<line x1="287.3" y1="152.2" x2="284.8" y2="152.2" stroke="#3a3a3a" stroke-width="1.2"/>
<line x1="69.5" y1="164.2" x2="72.0" y2="164.2" stroke="#3a3a3a" stroke-width="1.2"/>
<line x1="287.3" y1="164.2" x2="284.8" y2="164.2" stroke="#3a3a3a" stroke-width="1.2"/>
<line x1="99.5" y1="59.0" x2="99.5" y2="61.5" stroke="#3a3a3a" stroke-width="1.2"/>
<line x1="99.5" y1="173.2" x2="99.5" y2="170.7" stroke="#3a3a3a" stroke-width="1.2"/>
<line x1="137.3" y1="59.0" x2="137.3" y2="61.5" stroke="#3a3a3a" stroke-width="1.2"/>
<line x1="137.3" y1="173.2" x2="137.3" y2="170.7" stroke="#3a3a3a" stroke-width="1.2"/>
<line x1="175.1" y1="59.0" x2="175.1" y2="61.5" stroke="#3a3a3a" stroke-width="1.2"/>
<line x1="175.1" y1="173.2" x2="175.1" y2="170.7" stroke="#3a3a3a" stroke-width="1.2"/>
<line x1="212.9" y1="59.0" x2="212.9" y2="61.5" stroke="#3a3a3a" stroke-width="1.2"/>
<line x1="212.9" y1="173.2" x2="212.9" y2="170.7" stroke="#3a3a3a" stroke-width="1.2"/>
<line x1="250.7" y1="59.0" x2="250.7" y2="61.5" stroke="#3a3a3a" stroke-width="1.2"/>
<line x1="250.7" y1="173.2" x2="250.7" y2="170.7" stroke="#3a3a3a" stroke-width="1.2"/>
<rect x="69.5" y="197.8" width="217.8" height="113.6" fill="none" stroke="#3a3a3a" stroke-width="1.2"/>
<line x1="69.5" y1="206.8" x2="72.0" y2="206.8" stroke="#3a3a3a" stroke-width="1.2"/>
<line x1="287.3" y1="206.8" x2="284.8" y2="206.8" stroke="#3a3a3a" stroke-width="1.2"/>
<line x1="69.5" y1="218.7" x2="72.0" y2="218.7" stroke="#3a3a3a" stroke-width="1.2"/>
<line x1="287.3" y1="218.7" x2="284.8" y2="218.7" stroke="#3a3a3a" stroke-width="1.2"/>
<line x1="69.5" y1="230.7" x2="72.0" y2="230.7" stroke="#3a3a3a" stroke-width="1.2"/>
<line x1="287.3" y1="230.7" x2="284.8" y2="230.7" stroke="#3a3a3a" stroke-width="1.2"/>
<line x1="69.5" y1="242.6" x2="72.0" y2="242.6" stroke="#3a3a3a" stroke-width="1.2"/>
<line x1="287.3" y1="242.6" x2="284.8" y2="242.6" stroke="#3a3a3a" stroke-width="1.2"/>
<line x1="69.5" y1="254.6" x2="72.0" y2="254.6" stroke="#3a3a3a" stroke-width="1.2"/>
<line x1="287.3" y1="254.6" x2="284.8" y2="254.6" stroke="#3a3a3a" stroke-width="1.2"/>
<line x1="69.5" y1="266.6" x2="72.0" y2="266.6" stroke="#3a3a3a" stroke-width="1.2"/>
<line x1="287.3" y1="266.6" x2="284.8" y2="266.6" stroke="#3a3a3a" stroke-width="1.2"/>
<line x1="69.5" y1="278.5" x2="72.0" y2="278.5" stroke="#3a3a3a" stroke-width="1.2"/>
<line x1="287.3" y1="278.5" x2="284.8" y2="278.5" stroke="#3a3a3a" stroke-width="1.2"/>
<line x1="69.5" y1="290.5" x2="72.0" y2="290.5" stroke="#3a3a3a" stroke-width="1.2"/>
<line x1="287.3" y1="290.5" x2="284.8" y2="290.5" stroke="#3a3a3a" stroke-width="1.2"/>
<line x1="69.5" y1="302.4" x2="72.0" y2="302.4" stroke="#3a3a3a" stroke-width="1.2"/>
<line x1="287.3" y1="302.4" x2="284.8" y2="302.4" stroke="#3a3a3a" stroke-width="1.2"/>
<line x1="99.5" y1="197.8" x2="99.5" y2="200.3" stroke="#3a3a3a" stroke-width="1.2"/>
<line x1="99.5" y1="311.4" x2="99.5" y2="308.9" stroke="#3a3a3a" stroke-width="1.2"/>
<line x1="137.3" y1="197.8" x2="137.3" y2="200.3" stroke="#3a3a3a" stroke-width="1.2"/>
<line x1="137.3" y1="311.4" x2="137.3" y2="308.9" stroke="#3a3a3a" stroke-width="1.2"/>
<line x1="175.1" y1="197.8" x2="175.1" y2="200.3" stroke="#3a3a3a" stroke-width="1.2"/>
<line x1="175.1" y1="311.4" x2="175.1" y2="308.9" stroke="#3a3a3a" stroke-width="1.2"/>
<line x1="212.9" y1="197.8" x2="212.9" y2="200.3" stroke="#3a3a3a" stroke-width="1.2"/>
<line x1="212.9" y1="311.4" x2="212.9" y2="308.9" stroke="#3a3a3a" stroke-width="1.2"/>
<line x1="250.7" y1="197.8" x2="250.7" y2="200.3" stroke="#3a3a3a" stroke-width="1.2"/>
<line x1="250.7" y1="311.4" x2="250.7" y2="308.9" stroke="#3a3a3a" stroke-width="1.2"/>
<line x1="174.5" y1="59.5" x2="174.5" y2="311" stroke="#fff" stroke-width="1.2" stroke-opacity="0.7"/>
<line x1="174.5" y1="59.5" x2="174.5" y2="311" stroke="#484848" stroke-width="1.3" stroke-dasharray="4 2.1"/>
<line x1="189.8" y1="59.5" x2="189.8" y2="311" stroke="#fff" stroke-width="1.2" stroke-opacity="0.7"/>
<line x1="189.8" y1="59.5" x2="189.8" y2="311" stroke="#484848" stroke-width="1.3" stroke-dasharray="4 2.1"/>
<path d="M173.0 34.0 H176.7 V47.2 H178.4 L174.8 54.8 L171.2 47.2 H173.0 Z" fill="#00a651"/>
<path d="M187.8 34.0 H191.5 V47.2 H193.3 L189.7 54.8 L186.1 47.2 H187.8 Z" fill="#ed1c24"/>
<path d="M532.4 34.0 H536.1 V47.0 H537.8 L534.2 54.6 L530.6 47.0 H532.4 Z" fill="#00a651"/>
<path d="M546.8 34.0 H550.5 V47.0 H552.2 L548.6 54.6 L545.0 47.0 H546.8 Z" fill="#ed1c24"/>
<text x="0.40" y="27.00" font-size="37.70" fill="#000" stroke="#000" textLength="23.17" lengthAdjust="spacingAndGlyphs">A</text>
<text x="143.30" y="29.00" font-size="22.00" fill="#1a1a1a" stroke="#1a1a1a" textLength="115.46" lengthAdjust="spacingAndGlyphs">ALP Reward</text>
<text x="66.16" y="49.70" font-size="22.00" fill="#000" stroke="#000" textLength="53.23" lengthAdjust="spacingAndGlyphs">Sleep</text>
<text x="66.95" y="193.40" font-size="22.00" fill="#000" stroke="#000" textLength="26.18" lengthAdjust="spacingAndGlyphs">SD</text>
<text x="49.32" y="333.00" font-size="22.00" fill="#262626" stroke="#262626" textLength="31.56" lengthAdjust="spacingAndGlyphs">-15</text>
<text x="85.50" y="333.00" font-size="22.00" fill="#262626" stroke="#262626" textLength="32.08" lengthAdjust="spacingAndGlyphs">-10</text>
<text x="128.44" y="333.00" font-size="22.00" fill="#262626" stroke="#262626" textLength="19.00" lengthAdjust="spacingAndGlyphs">-5</text>
<text x="169.55" y="333.00" font-size="22.00" fill="#262626" stroke="#262626" textLength="13.21" lengthAdjust="spacingAndGlyphs">0</text>
<text x="207.82" y="333.00" font-size="22.00" fill="#262626" stroke="#262626" textLength="12.29" lengthAdjust="spacingAndGlyphs">5</text>
<text x="237.52" y="333.00" font-size="22.00" fill="#262626" stroke="#262626" textLength="24.92" lengthAdjust="spacingAndGlyphs">10</text>
<text x="276.02" y="333.00" font-size="22.00" fill="#262626" stroke="#262626" textLength="23.48" lengthAdjust="spacingAndGlyphs">15</text>
<text x="305.75" y="332.05" font-size="22.00" fill="#262626" stroke="#262626" textLength="46.14" lengthAdjust="spacingAndGlyphs">(sec)</text>
<defs><linearGradient id="cb" x1="0" y1="0" x2="0" y2="1"><stop offset="0" stop-color="#ff0000"/><stop offset="0.5" stop-color="#ffffff"/><stop offset="1" stop-color="#0000ff"/></linearGradient></defs>
<rect x="320.4" y="88.4" width="8.6" height="192" fill="url(#cb)" stroke="#333" stroke-width="1.2"/>
<line x1="326.6" y1="107.6" x2="329" y2="107.6" stroke="#333" stroke-width="1"/>
<line x1="326.6" y1="126.8" x2="329" y2="126.8" stroke="#333" stroke-width="1"/>
<line x1="326.6" y1="146.0" x2="329" y2="146.0" stroke="#333" stroke-width="1"/>
<line x1="326.6" y1="165.2" x2="329" y2="165.2" stroke="#333" stroke-width="1"/>
<line x1="326.6" y1="184.4" x2="329" y2="184.4" stroke="#333" stroke-width="1"/>
<line x1="326.6" y1="203.6" x2="329" y2="203.6" stroke="#333" stroke-width="1"/>
<line x1="326.6" y1="222.8" x2="329" y2="222.8" stroke="#333" stroke-width="1"/>
<line x1="326.6" y1="242.0" x2="329" y2="242.0" stroke="#333" stroke-width="1"/>
<line x1="326.6" y1="261.2" x2="329" y2="261.2" stroke="#333" stroke-width="1"/>
<text x="331.02" y="96.00" font-size="18.70" fill="#262626" stroke="#262626" textLength="10.89" lengthAdjust="spacingAndGlyphs">5</text>
<text x="331.34" y="191.20" font-size="18.70" fill="#262626" stroke="#262626" textLength="10.54" lengthAdjust="spacingAndGlyphs">0</text>
<text x="331.16" y="286.70" font-size="18.70" fill="#262626" stroke="#262626" textLength="16.57" lengthAdjust="spacingAndGlyphs">-5</text>
<text transform="translate(316.10,208.70) rotate(-90)" font-size="21.50" fill="#262626" stroke="#262626" textLength="68.30" lengthAdjust="spacingAndGlyphs">Z-score</text>
<rect x="501.5" y="56.8" width="108.7" height="235" fill="#fef9cb"/>
<polygon points="429.0,150.1 430.0,150.6 431.0,150.4 432.0,151.5 433.0,151.9 434.0,150.9 435.0,152.3 436.0,151.2 437.0,151.6 438.0,151.8 439.0,151.3 440.0,151.3 441.0,149.6 442.0,149.5 443.0,150.2 444.0,151.2 445.0,152.0 446.0,151.5 447.0,151.1 448.0,151.0 449.0,150.2 450.0,149.0 451.0,148.7 452.0,148.7 453.0,149.0 454.0,148.1 455.0,148.1 456.0,149.1 457.0,150.1 458.0,150.0 459.0,150.7 460.0,150.1 461.0,149.4 462.0,150.1 463.0,149.5 464.0,149.6 465.0,149.0 466.0,148.6 467.0,149.4 468.0,143.8 469.0,145.8 470.0,147.1 471.0,148.0 472.0,144.5 473.0,147.0 474.0,147.6 475.0,148.1 476.0,151.6 477.0,149.2 478.0,148.9 479.0,150.6 480.0,150.0 481.0,151.6 482.0,149.4 483.0,148.0 484.0,148.6 485.0,146.4 486.0,144.8 487.0,147.2 488.0,146.2 489.0,141.9 490.0,140.4 491.0,144.1 492.0,139.5 493.0,139.3 494.0,141.0 495.0,141.5 496.0,137.5 497.0,139.1 498.0,139.6 499.0,145.2 500.0,145.0 501.0,148.2 502.0,148.8 503.0,145.1 504.0,145.5 505.0,142.9 506.0,140.8 507.0,137.0 508.0,140.1 509.0,137.3 510.0,139.2 511.0,141.7 512.0,140.1 513.0,139.6 514.0,141.8 515.0,137.1 516.0,136.1 517.0,138.8 518.0,135.4 519.0,136.5 520.0,136.2 521.0,132.6 522.0,132.1 523.0,132.1 524.0,132.1 525.0,128.8 526.0,130.0 527.0,124.6 528.0,124.0 529.0,120.6 530.0,115.0 531.0,107.3 532.0,107.3 533.0,102.1 534.0,103.3 535.0,96.6 536.0,99.4 537.0,93.5 538.0,93.1 539.0,93.0 540.0,87.9 541.0,90.8 542.0,88.4 543.0,94.6 544.0,93.5 545.0,99.3 546.0,97.9 547.0,97.4 548.0,105.2 549.0,109.5 550.0,111.7 551.0,105.7 552.0,109.2 553.0,107.6 554.0,105.6 555.0,102.3 556.0,102.1 557.0,102.4 558.0,101.1 559.0,106.0 560.0,103.1 561.0,101.9 562.0,102.0 563.0,110.3 564.0,105.9 565.0,111.9 566.0,102.3 567.0,104.1 568.0,105.7 569.0,113.2 570.0,109.1 571.0,108.8 572.0,112.6 573.0,113.6 574.0,119.1 575.0,121.3 576.0,127.2 577.0,127.7 578.0,128.7 579.0,128.5 580.0,131.1 581.0,131.0 582.0,134.0 583.0,137.3 584.0,131.1 585.0,139.7 586.0,138.7 587.0,134.6 588.0,141.1 589.0,138.8 590.0,143.6 591.0,141.8 592.0,137.0 593.0,142.5 594.0,140.1 595.0,134.2 596.0,137.0 597.0,135.9 598.0,132.5 599.0,135.1 600.0,136.5 601.0,133.3 602.0,138.4 603.0,133.3 604.0,140.1 605.0,134.0 606.0,139.8 607.0,139.7 608.0,136.5 609.0,143.7 610.0,140.5 611.0,136.5 612.0,137.0 613.0,139.8 614.0,137.7 615.0,135.1 616.0,130.6 617.0,134.4 618.0,132.1 619.0,131.4 620.0,131.1 621.0,135.7 622.0,136.8 623.0,133.0 624.0,131.5 625.0,133.5 626.0,132.0 627.0,135.4 628.0,135.6 629.0,134.1 630.0,132.6 631.0,137.7 632.0,138.2 633.0,135.1 634.0,135.9 635.0,138.9 636.0,133.2 637.0,135.1 638.0,136.7 639.0,137.1 640.0,134.4 641.0,128.9 642.0,135.2 643.0,133.8 644.0,130.9 645.0,132.1 646.0,128.9 647.0,133.3 647.0,151.4 646.0,146.9 645.0,148.4 644.0,148.2 643.0,149.6 642.0,152.3 641.0,154.6 640.0,148.4 639.0,154.1 638.0,156.2 637.0,150.9 636.0,158.9 635.0,156.4 634.0,152.7 633.0,154.5 632.0,154.9 631.0,151.0 630.0,152.5 629.0,150.0 628.0,152.1 627.0,153.4 626.0,153.6 625.0,153.0 624.0,154.1 623.0,155.4 622.0,151.7 621.0,154.3 620.0,149.0 619.0,155.9 618.0,148.8 617.0,150.3 616.0,151.6 615.0,155.1 614.0,157.5 613.0,153.9 612.0,153.6 611.0,159.7 610.0,157.8 609.0,155.8 608.0,160.9 607.0,156.5 606.0,157.7 605.0,159.3 604.0,152.4 603.0,155.9 602.0,156.1 601.0,159.0 600.0,152.9 599.0,157.0 598.0,151.8 597.0,149.8 596.0,150.5 595.0,155.6 594.0,153.9 593.0,155.0 592.0,155.2 591.0,160.9 590.0,155.6 589.0,161.2 588.0,154.7 587.0,153.6 586.0,154.9 585.0,152.9 584.0,153.1 583.0,155.0 582.0,151.4 581.0,154.2 580.0,151.3 579.0,154.6 578.0,153.0 577.0,153.1 576.0,149.8 575.0,147.7 574.0,142.0 573.0,135.6 572.0,135.9 571.0,130.7 570.0,132.2 569.0,128.4 568.0,129.9 567.0,122.3 566.0,122.6 565.0,130.5 564.0,125.1 563.0,126.9 562.0,126.8 561.0,127.4 560.0,124.1 559.0,119.7 558.0,127.6 557.0,120.3 556.0,126.1 555.0,126.1 554.0,122.0 553.0,125.7 552.0,127.0 551.0,127.5 550.0,135.3 549.0,126.3 548.0,127.9 547.0,126.0 546.0,123.0 545.0,118.0 544.0,109.5 543.0,106.3 542.0,103.5 541.0,106.3 540.0,101.4 539.0,103.2 538.0,108.9 537.0,110.0 536.0,112.1 535.0,111.6 534.0,114.7 533.0,119.9 532.0,124.7 531.0,124.9 530.0,130.4 529.0,132.0 528.0,133.1 527.0,137.7 526.0,140.6 525.0,139.4 524.0,143.6 523.0,141.6 522.0,143.1 521.0,144.8 520.0,142.9 519.0,145.7 518.0,146.7 517.0,146.4 516.0,146.7 515.0,152.8 514.0,150.0 513.0,152.7 512.0,151.9 511.0,152.5 510.0,150.2 509.0,151.8 508.0,147.8 507.0,151.7 506.0,154.6 505.0,155.0 504.0,155.7 503.0,156.8 502.0,157.6 501.0,157.0 500.0,154.3 499.0,154.1 498.0,151.8 497.0,151.4 496.0,150.8 495.0,150.5 494.0,153.4 493.0,151.1 492.0,149.8 491.0,154.5 490.0,153.7 489.0,152.8 488.0,152.6 487.0,153.9 486.0,155.0 485.0,155.9 484.0,158.5 483.0,158.1 482.0,159.3 481.0,161.8 480.0,160.7 479.0,159.1 478.0,159.6 477.0,158.4 476.0,160.2 475.0,160.4 474.0,160.5 473.0,159.5 472.0,156.9 471.0,155.1 470.0,155.3 469.0,153.3 468.0,153.9 467.0,151.9 466.0,152.7 465.0,152.5 464.0,153.2 463.0,152.7 462.0,153.1 461.0,153.4 460.0,152.9 459.0,153.7 458.0,152.3 457.0,152.3 456.0,152.4 455.0,151.9 454.0,152.0 453.0,152.5 452.0,152.6 451.0,152.7 450.0,152.2 449.0,153.9 448.0,154.1 447.0,154.8 446.0,155.2 445.0,154.9 444.0,153.8 443.0,152.7 442.0,152.9 441.0,152.6 440.0,154.0 439.0,154.4 438.0,154.9 437.0,154.8 436.0,154.9 435.0,154.2 434.0,155.3 433.0,155.0 432.0,153.6 431.0,153.6 430.0,153.1 429.0,152.0" fill="rgba(128,128,128,0.30)"/>
<polygon points="429.0,260.5 430.0,260.7 431.0,259.4 432.0,258.2 433.0,259.4 434.0,256.8 435.0,256.5 436.0,258.5 437.0,256.5 438.0,257.7 439.0,259.1 440.0,257.6 441.0,259.5 442.0,259.5 443.0,261.1 444.0,264.1 445.0,261.9 446.0,261.4 447.0,258.3 448.0,255.6 449.0,258.2 450.0,258.6 451.0,259.9 452.0,261.3 453.0,260.7 454.0,261.0 455.0,257.7 456.0,257.5 457.0,255.8 458.0,255.8 459.0,257.7 460.0,258.9 461.0,256.5 462.0,257.7 463.0,256.3 464.0,259.1 465.0,256.6 466.0,257.9 467.0,255.4 468.0,254.9 469.0,253.3 470.0,252.7 471.0,252.1 472.0,253.7 473.0,252.0 474.0,254.5 475.0,253.9 476.0,253.9 477.0,254.6 478.0,254.7 479.0,256.8 480.0,258.6 481.0,262.8 482.0,261.5 483.0,262.6 484.0,259.3 485.0,261.5 486.0,258.6 487.0,257.5 488.0,259.0 489.0,258.9 490.0,256.0 491.0,256.6 492.0,258.3 493.0,259.8 494.0,259.4 495.0,256.9 496.0,260.0 497.0,261.8 498.0,263.1 499.0,265.7 500.0,268.8 501.0,268.1 502.0,267.6 503.0,265.7 504.0,263.0 505.0,259.6 506.0,261.3 507.0,262.9 508.0,259.9 509.0,261.7 510.0,262.7 511.0,263.5 512.0,262.9 513.0,258.9 514.0,256.8 515.0,259.3 516.0,255.5 517.0,253.9 518.0,249.8 519.0,248.0 520.0,249.0 521.0,248.6 522.0,248.1 523.0,248.1 524.0,243.9 525.0,244.8 526.0,247.0 527.0,244.8 528.0,241.5 529.0,240.9 530.0,233.3 531.0,233.2 532.0,234.7 533.0,232.6 534.0,228.8 535.0,232.2 536.0,229.5 537.0,223.8 538.0,225.3 539.0,224.2 540.0,225.0 541.0,227.1 542.0,229.9 543.0,231.3 544.0,229.3 545.0,231.4 546.0,231.3 547.0,227.8 548.0,232.7 549.0,229.9 550.0,233.8 551.0,233.2 552.0,235.5 553.0,234.4 554.0,231.3 555.0,229.6 556.0,231.2 557.0,232.3 558.0,232.0 559.0,237.8 560.0,242.9 561.0,248.5 562.0,249.0 563.0,248.6 564.0,250.3 565.0,248.0 566.0,251.2 567.0,251.7 568.0,248.1 569.0,251.2 570.0,253.1 571.0,255.3 572.0,255.7 573.0,257.5 574.0,255.5 575.0,254.8 576.0,257.4 577.0,253.6 578.0,254.6 579.0,249.8 580.0,251.9 581.0,249.0 582.0,254.5 583.0,251.3 584.0,252.2 585.0,253.2 586.0,251.6 587.0,252.6 588.0,252.5 589.0,250.5 590.0,249.0 591.0,248.9 592.0,251.2 593.0,249.8 594.0,247.4 595.0,246.9 596.0,247.3 597.0,248.1 598.0,249.1 599.0,250.1 600.0,250.4 601.0,253.5 602.0,254.8 603.0,252.4 604.0,254.1 605.0,253.3 606.0,250.9 607.0,254.7 608.0,255.7 609.0,257.4 610.0,255.6 611.0,259.5 612.0,257.6 613.0,257.7 614.0,255.9 615.0,255.1 616.0,253.8 617.0,258.8 618.0,259.2 619.0,255.3 620.0,254.4 621.0,254.5 622.0,253.2 623.0,250.9 624.0,249.9 625.0,247.6 626.0,247.9 627.0,248.6 628.0,249.4 629.0,249.3 630.0,247.0 631.0,248.0 632.0,248.5 633.0,249.9 634.0,249.4 635.0,246.5 636.0,246.6 637.0,247.9 638.0,244.1 639.0,245.2 640.0,242.6 641.0,241.4 642.0,241.3 643.0,240.3 644.0,241.7 645.0,247.0 646.0,245.8 646.0,257.6 645.0,254.8 644.0,252.5 643.0,250.5 642.0,249.7 641.0,253.5 640.0,255.8 639.0,255.1 638.0,255.0 637.0,255.5 636.0,257.9 635.0,256.3 634.0,258.5 633.0,260.2 632.0,256.6 631.0,259.4 630.0,255.5 629.0,257.1 628.0,259.4 627.0,259.2 626.0,256.6 625.0,259.7 624.0,261.7 623.0,259.6 622.0,264.0 621.0,265.0 620.0,265.9 619.0,265.7 618.0,269.6 617.0,268.8 616.0,268.3 615.0,266.1 614.0,267.7 613.0,267.3 612.0,267.1 611.0,268.9 610.0,267.2 609.0,266.3 608.0,265.0 607.0,261.1 606.0,262.3 605.0,262.1 604.0,264.5 603.0,266.0 602.0,266.0 601.0,263.5 600.0,262.7 599.0,260.9 598.0,261.0 597.0,262.4 596.0,257.7 595.0,260.2 594.0,257.1 593.0,257.5 592.0,259.4 591.0,262.2 590.0,261.6 589.0,258.4 588.0,258.7 587.0,260.8 586.0,260.0 585.0,261.9 584.0,260.5 583.0,262.0 582.0,260.7 581.0,262.0 580.0,258.7 579.0,261.6 578.0,264.2 577.0,267.0 576.0,264.4 575.0,267.7 574.0,269.1 573.0,268.0 572.0,262.7 571.0,263.2 570.0,261.7 569.0,260.5 568.0,258.3 567.0,260.7 566.0,257.6 565.0,257.7 564.0,259.0 563.0,259.7 562.0,258.2 561.0,256.8 560.0,255.9 559.0,252.3 558.0,245.9 557.0,244.5 556.0,247.1 555.0,245.1 554.0,248.4 553.0,249.0 552.0,243.3 551.0,243.5 550.0,247.5 549.0,247.3 548.0,242.4 547.0,247.3 546.0,247.2 545.0,247.7 544.0,246.9 543.0,243.4 542.0,242.0 541.0,240.6 540.0,239.6 539.0,232.8 538.0,240.8 537.0,237.1 536.0,243.7 535.0,241.1 534.0,244.8 533.0,248.5 532.0,245.2 531.0,246.0 530.0,246.4 529.0,247.5 528.0,253.2 527.0,251.8 526.0,256.6 525.0,255.4 524.0,258.1 523.0,255.6 522.0,255.1 521.0,259.4 520.0,258.3 519.0,258.5 518.0,262.2 517.0,262.7 516.0,267.1 515.0,269.6 514.0,267.2 513.0,270.1 512.0,270.3 511.0,273.3 510.0,271.5 509.0,270.9 508.0,272.8 507.0,273.9 506.0,270.6 505.0,270.7 504.0,274.7 503.0,274.9 502.0,275.9 501.0,276.4 500.0,277.3 499.0,277.2 498.0,277.3 497.0,274.3 496.0,270.8 495.0,269.3 494.0,268.4 493.0,264.5 492.0,263.9 491.0,264.8 490.0,266.7 489.0,264.3 488.0,267.9 487.0,267.9 486.0,268.1 485.0,267.8 484.0,267.0 483.0,267.8 482.0,270.5 481.0,271.4 480.0,266.2 479.0,265.2 478.0,263.1 477.0,264.1 476.0,261.9 475.0,260.6 474.0,260.6 473.0,259.5 472.0,258.4 471.0,260.5 470.0,260.5 469.0,263.0 468.0,263.5 467.0,262.9 466.0,264.2 465.0,267.2 464.0,266.8 463.0,265.8 462.0,264.4 461.0,264.5 460.0,263.6 459.0,263.1 458.0,263.5 457.0,265.4 456.0,266.3 455.0,267.3 454.0,267.3 453.0,270.6 452.0,270.1 451.0,267.3 450.0,267.1 449.0,266.2 448.0,266.0 447.0,266.2 446.0,269.0 445.0,268.7 444.0,270.0 443.0,269.0 442.0,269.6 441.0,266.5 440.0,265.4 439.0,266.1 438.0,266.6 437.0,266.6 436.0,264.5 435.0,265.8 434.0,267.2 433.0,264.8 432.0,267.8 431.0,266.6 430.0,268.2 429.0,266.2" fill="rgba(255,30,30,0.28)"/>
<line x1="429" y1="151.9" x2="647" y2="151.9" stroke="#333" stroke-width="1.1" stroke-dasharray="1.6 1.6"/>
<line x1="429" y1="262.8" x2="647" y2="262.8" stroke="#333" stroke-width="1.1" stroke-dasharray="1.6 1.6"/>
<polyline points="429.0,150.8 429.5,151.4 430.0,153.2 430.5,152.2 431.0,152.2 431.5,152.6 432.0,151.4 432.5,152.4 433.0,153.4 433.5,154.3 434.0,152.0 434.5,152.1 435.0,151.3 435.5,153.8 436.0,154.3 436.5,152.0 437.0,154.9 437.5,155.8 438.0,154.7 438.5,153.9 439.0,151.8 439.5,150.3 440.0,151.5 440.5,150.0 441.0,149.7 441.5,149.7 442.0,148.6 442.5,150.3 443.0,151.0 443.5,153.0 444.0,152.7 444.5,153.2 445.0,153.1 445.5,153.8 446.0,153.5 446.5,152.6 447.0,154.7 447.5,155.2 448.0,154.6 448.5,153.6 449.0,151.5 449.5,150.3 450.0,149.8 450.5,148.9 451.0,151.1 451.5,150.4 452.0,151.8 452.5,150.5 453.0,152.1 453.5,152.2 454.0,149.0 454.5,148.6 455.0,151.0 455.5,150.5 456.0,152.4 456.5,151.0 457.0,149.5 457.5,151.2 458.0,152.5 458.5,151.2 459.0,150.3 459.5,150.6 460.0,153.1 460.5,153.1 461.0,150.6 461.5,150.2 462.0,149.4 462.5,148.9 463.0,151.5 463.5,149.9 464.0,150.8 464.5,150.6 465.0,149.4 465.5,151.0 466.0,149.2 466.5,150.5 467.0,148.8 467.5,149.3 468.0,148.6 468.5,148.8 469.0,151.7 469.5,152.2 470.0,150.6 470.5,152.4 471.0,150.6 471.5,150.8 472.0,152.7 472.5,152.7 473.0,150.9 473.5,154.0 474.0,152.4 474.5,152.3 475.0,154.5 475.5,153.8 476.0,153.8 476.5,153.2 477.0,153.3 477.5,155.5 478.0,155.0 478.5,155.8 479.0,155.1 479.5,155.0 480.0,156.7 480.5,155.4 481.0,155.1 481.5,155.9 482.0,153.4 482.5,152.3 483.0,154.6 483.5,154.7 484.0,152.3 484.5,150.9 485.0,152.2 485.5,153.2 486.0,150.4 486.5,152.0 487.0,152.0 487.5,150.7 488.0,149.2 488.5,147.2 489.0,146.0 489.5,148.8 490.0,146.7 490.5,147.8 491.0,146.3 491.5,147.8 492.0,147.4 492.5,146.0 493.0,144.9 493.5,146.5 494.0,144.5 494.5,144.1 495.0,145.0 495.5,146.2 496.0,145.5 496.5,143.8 497.0,145.4 497.5,144.5 498.0,144.2 498.5,145.7 499.0,147.7 499.5,147.6 500.0,148.4 500.5,149.7 501.0,151.2 501.5,150.4 502.0,151.4 502.5,153.5 503.0,153.7 503.5,152.0 504.0,150.9 504.5,149.6 505.0,146.9 505.5,145.1 506.0,143.9 506.5,146.3 507.0,145.9 507.5,146.3 508.0,143.2 508.5,144.7 509.0,144.8 509.5,146.0 510.0,145.0 510.5,147.5 511.0,145.0 511.5,145.8 512.0,146.8 512.5,147.7 513.0,147.4 513.5,147.1 514.0,147.3 514.5,147.8 515.0,145.3 515.5,145.1 516.0,145.4 516.5,144.9 517.0,142.5 517.5,142.6 518.0,142.4 518.5,141.1 519.0,140.8 519.5,139.6 520.0,139.7 520.5,139.7 521.0,137.6 521.5,138.7 522.0,140.2 522.5,140.0 523.0,139.1 523.5,137.3 524.0,137.7 524.5,137.1 525.0,136.1 525.5,136.2 526.0,132.4 526.5,132.7 527.0,129.2 527.5,129.2 528.0,127.9 528.5,125.3 529.0,125.2 529.5,123.4 530.0,122.1 530.5,121.8 531.0,118.2 531.5,114.9 532.0,113.9 532.5,114.2 533.0,111.7 533.5,109.9 534.0,111.0 534.5,109.4 535.0,107.1 535.5,107.0 536.0,103.9 536.5,103.1 537.0,100.1 537.5,99.6 538.0,100.3 538.5,100.4 539.0,99.7 539.5,97.1 540.0,97.2 540.5,96.3 541.0,95.5 541.5,96.7 542.0,98.5 542.5,99.8 543.0,101.1 543.5,103.4 544.0,102.7 544.5,103.0 545.0,105.2 545.5,106.2 546.0,107.3 546.5,109.5 547.0,112.0 547.5,113.3 548.0,114.1 548.5,117.4 549.0,120.1 549.5,120.0 550.0,119.5 550.5,118.3 551.0,120.4 551.5,117.4 552.0,118.4 552.5,117.6 553.0,115.9 553.5,116.5 554.0,113.3 554.5,112.0 555.0,112.2 555.5,110.4 556.0,113.2 556.5,112.1 557.0,111.6 557.5,111.2 558.0,113.4 558.5,113.7 559.0,114.5 559.5,114.5 560.0,114.9 560.5,115.3 561.0,114.2 561.5,111.8 562.0,113.4 562.5,113.7 563.0,114.0 563.5,116.7 564.0,119.4 564.5,117.8 565.0,116.8 565.5,116.2 566.0,116.7 566.5,115.7 567.0,116.0 567.5,118.0 568.0,118.2 568.5,120.7 569.0,122.9 569.5,121.1 570.0,123.1 570.5,123.0 571.0,120.6 571.5,120.8 572.0,121.5 572.5,125.0 573.0,125.5 573.5,127.8 574.0,131.2 574.5,133.4 575.0,135.8 575.5,135.7 576.0,137.3 576.5,137.2 577.0,140.0 577.5,141.9 578.0,141.8 578.5,142.2 579.0,140.6 579.5,142.8 580.0,144.0 580.5,144.6 581.0,143.3 581.5,143.9 582.0,142.5 582.5,144.5 583.0,145.4 583.5,144.2 584.0,143.3 584.5,144.7 585.0,146.0 585.5,147.7 586.0,147.7 586.5,146.1 587.0,148.7 587.5,147.0 588.0,149.4 588.5,148.1 589.0,148.5 589.5,150.5 590.0,149.0 590.5,148.7 591.0,150.3 591.5,151.4 592.0,151.5 592.5,150.4 593.0,150.6 593.5,148.4 594.0,148.9 594.5,145.3 595.0,144.0 595.5,144.3 596.0,143.0 596.5,143.7 597.0,144.0 597.5,144.1 598.0,145.5 598.5,145.2 599.0,144.4 599.5,144.7 600.0,146.8 600.5,147.8 601.0,145.6 601.5,147.4 602.0,148.5 602.5,147.4 603.0,147.2 603.5,145.9 604.0,146.8 604.5,147.1 605.0,147.7 605.5,145.9 606.0,149.3 606.5,149.1 607.0,148.9 607.5,150.7 608.0,150.8 608.5,150.9 609.0,151.6 609.5,148.8 610.0,149.3 610.5,148.6 611.0,150.0 611.5,150.0 612.0,147.1 612.5,146.5 613.0,144.6 613.5,144.7 614.0,145.8 614.5,146.5 615.0,145.1 615.5,143.9 616.0,143.0 616.5,144.2 617.0,145.7 617.5,143.1 618.0,144.6 618.5,142.1 619.0,141.8 619.5,141.8 620.0,143.4 620.5,142.5 621.0,142.3 621.5,143.0 622.0,141.1 622.5,142.7 623.0,140.8 623.5,141.4 624.0,140.5 624.5,139.8 625.0,140.7 625.5,140.5 626.0,140.0 626.5,140.0 627.0,141.1 627.5,140.5 628.0,140.8 628.5,143.0 629.0,144.2 629.5,144.6 630.0,146.3 630.5,146.0 631.0,147.0 631.5,145.2 632.0,146.6 632.5,147.5 633.0,148.4 633.5,146.6 634.0,146.2 634.5,148.5 635.0,146.8 635.5,148.8 636.0,148.7 636.5,145.6 637.0,144.6 637.5,145.8 638.0,144.2 638.5,142.8 639.0,144.8 639.5,143.7 640.0,144.4 640.5,141.9 641.0,141.9 641.5,142.7 642.0,140.3 642.5,139.9 643.0,141.4 643.5,142.6 644.0,143.0 644.5,139.7 645.0,139.8 645.5,140.6 646.0,140.0 646.5,140.7 647.0,139.1" fill="none" stroke="#000" stroke-width="2.2" stroke-linejoin="round"/>
<polyline points="429.0,263.5 429.5,264.0 430.0,264.0 430.5,261.9 431.0,260.6 431.5,261.3 432.0,261.1 432.5,262.9 433.0,263.0 433.5,262.7 434.0,262.4 434.5,262.7 435.0,260.8 435.5,261.3 436.0,260.3 436.5,262.8 437.0,260.5 437.5,262.5 438.0,260.4 438.5,261.9 439.0,261.6 439.5,262.0 440.0,264.0 440.5,261.9 441.0,261.6 441.5,265.0 442.0,264.9 442.5,263.6 443.0,266.8 443.5,268.0 444.0,265.5 444.5,265.4 445.0,263.6 445.5,263.2 446.0,263.7 446.5,261.7 447.0,262.5 447.5,259.9 448.0,258.9 448.5,262.0 449.0,262.0 449.5,262.6 450.0,263.9 450.5,264.4 451.0,264.8 451.5,264.0 452.0,266.3 452.5,267.4 453.0,267.4 453.5,265.9 454.0,263.8 454.5,262.7 455.0,263.2 455.5,262.9 456.0,260.3 456.5,259.4 457.0,259.3 457.5,259.5 458.0,261.2 458.5,260.8 459.0,259.1 459.5,261.7 460.0,261.3 460.5,261.8 461.0,261.0 461.5,261.3 462.0,261.3 462.5,262.7 463.0,260.6 463.5,261.6 464.0,260.5 464.5,262.0 465.0,260.0 465.5,259.8 466.0,259.7 466.5,260.5 467.0,258.2 467.5,258.7 468.0,257.6 468.5,257.2 469.0,257.5 469.5,259.3 470.0,257.9 470.5,259.1 471.0,256.3 471.5,258.0 472.0,256.3 472.5,254.9 473.0,256.8 473.5,258.3 474.0,255.6 474.5,255.8 475.0,258.0 475.5,257.3 476.0,256.9 476.5,256.0 477.0,256.0 477.5,258.6 478.0,261.7 478.5,263.5 479.0,262.9 479.5,261.5 480.0,262.8 480.5,265.7 481.0,267.5 481.5,267.3 482.0,265.3 482.5,265.5 483.0,265.2 483.5,265.5 484.0,264.0 484.5,265.9 485.0,266.2 485.5,263.3 486.0,262.6 486.5,264.4 487.0,262.6 487.5,264.3 488.0,263.2 488.5,263.3 489.0,263.2 489.5,261.1 490.0,260.5 490.5,260.0 491.0,261.3 491.5,261.6 492.0,260.0 492.5,262.7 493.0,262.2 493.5,261.6 494.0,262.5 494.5,265.2 495.0,264.9 495.5,265.5 496.0,267.7 496.5,269.4 497.0,270.0 497.5,269.7 498.0,271.0 498.5,273.0 499.0,273.3 499.5,272.9 500.0,272.0 500.5,272.0 501.0,273.6 501.5,272.7 502.0,269.6 502.5,270.5 503.0,270.9 503.5,270.0 504.0,269.4 504.5,268.6 505.0,266.5 505.5,267.2 506.0,266.1 506.5,264.8 507.0,265.4 507.5,265.7 508.0,268.3 508.5,268.4 509.0,268.1 509.5,268.4 510.0,266.8 510.5,268.0 511.0,268.4 511.5,266.9 512.0,265.4 512.5,265.1 513.0,264.2 513.5,264.8 514.0,262.5 514.5,261.1 515.0,261.0 515.5,262.0 516.0,262.2 516.5,261.3 517.0,261.2 517.5,258.4 518.0,255.4 518.5,255.5 519.0,254.6 519.5,252.7 520.0,253.2 520.5,252.2 521.0,251.3 521.5,251.2 522.0,253.4 522.5,250.4 523.0,250.6 523.5,250.2 524.0,249.6 524.5,250.1 525.0,249.3 525.5,251.6 526.0,250.3 526.5,249.9 527.0,247.2 527.5,246.7 528.0,246.6 528.5,246.8 529.0,244.0 529.5,243.3 530.0,243.9 530.5,243.8 531.0,241.0 531.5,240.8 532.0,241.2 532.5,239.6 533.0,239.6 533.5,239.2 534.0,239.8 534.5,238.0 535.0,237.4 535.5,235.5 536.0,235.8 536.5,233.9 537.0,233.2 537.5,231.6 538.0,230.1 538.5,228.2 539.0,227.1 539.5,228.9 540.0,229.3 540.5,229.3 541.0,232.8 541.5,232.7 542.0,235.7 542.5,236.0 543.0,235.8 543.5,238.2 544.0,239.6 544.5,237.9 545.0,236.4 545.5,237.7 546.0,238.8 546.5,238.3 547.0,238.6 547.5,237.3 548.0,237.5 548.5,236.8 549.0,237.4 549.5,237.8 550.0,238.3 550.5,238.9 551.0,240.8 551.5,238.9 552.0,238.2 552.5,238.1 553.0,240.7 553.5,239.9 554.0,237.7 554.5,239.9 555.0,240.7 555.5,240.7 556.0,239.4 556.5,240.7 557.0,239.9 557.5,239.3 558.0,242.2 558.5,243.4 559.0,243.7 559.5,248.0 560.0,247.9 560.5,250.2 561.0,250.4 561.5,251.9 562.0,253.2 562.5,256.0 563.0,254.8 563.5,253.8 564.0,253.1 564.5,253.2 565.0,255.1 565.5,255.0 566.0,253.3 566.5,255.1 567.0,255.3 567.5,255.2 568.0,255.6 568.5,256.4 569.0,257.5 569.5,257.2 570.0,258.0 570.5,258.0 571.0,259.0 571.5,258.9 572.0,259.3 572.5,260.2 573.0,261.7 573.5,260.9 574.0,263.1 574.5,262.0 575.0,262.9 575.5,262.6 576.0,263.4 576.5,262.6 577.0,261.2 577.5,260.6 578.0,261.1 578.5,261.0 579.0,258.0 579.5,253.5 580.0,253.1 580.5,253.5 581.0,254.0 581.5,254.5 582.0,254.9 582.5,255.9 583.0,255.4 583.5,257.3 584.0,257.6 584.5,258.9 585.0,259.2 585.5,258.4 586.0,258.7 586.5,255.2 587.0,254.6 587.5,257.0 588.0,256.0 588.5,254.6 589.0,256.1 589.5,255.3 590.0,255.4 590.5,254.4 591.0,253.8 591.5,252.9 592.0,254.4 592.5,256.2 593.0,256.9 593.5,256.2 594.0,256.5 594.5,254.4 595.0,253.6 595.5,255.9 596.0,255.6 596.5,255.8 597.0,253.6 597.5,253.7 598.0,254.9 598.5,256.3 599.0,257.4 599.5,257.8 600.0,257.1 600.5,257.5 601.0,260.1 601.5,262.0 602.0,261.3 602.5,259.3 603.0,259.7 603.5,259.2 604.0,257.9 604.5,256.5 605.0,256.3 605.5,256.6 606.0,254.8 606.5,256.6 607.0,259.3 607.5,260.0 608.0,258.9 608.5,259.7 609.0,259.2 609.5,262.0 610.0,263.1 610.5,262.3 611.0,263.1 611.5,263.1 612.0,262.7 612.5,261.5 613.0,260.5 613.5,260.0 614.0,261.9 614.5,259.7 615.0,260.1 615.5,260.4 616.0,259.6 616.5,260.4 617.0,260.2 617.5,260.8 618.0,261.5 618.5,261.5 619.0,263.1 619.5,260.8 620.0,259.8 620.5,260.3 621.0,259.1 621.5,258.7 622.0,258.7 622.5,256.1 623.0,257.1 623.5,254.8 624.0,254.2 624.5,255.7 625.0,256.5 625.5,255.2 626.0,252.4 626.5,252.1 627.0,251.2 627.5,253.3 628.0,251.7 628.5,251.1 629.0,252.6 629.5,253.2 630.0,253.2 630.5,252.9 631.0,254.6 631.5,253.4 632.0,254.8 632.5,253.3 633.0,252.9 633.5,252.2 634.0,253.2 634.5,253.6 635.0,251.7 635.5,252.0 636.0,252.8 636.5,252.1 637.0,252.3 637.5,252.1 638.0,252.3 638.5,250.7 639.0,249.4 639.5,247.5 640.0,249.8 640.5,249.8 641.0,247.9 641.5,249.0 642.0,248.7 642.5,245.4 643.0,246.8 643.5,246.9 644.0,247.3 644.5,248.0 645.0,249.5 645.5,249.4 646.0,250.1 646.5,251.4" fill="none" stroke="#ff0000" stroke-width="2.4" stroke-linejoin="round"/>
<line x1="533.9" y1="57" x2="533.9" y2="292" stroke="#7a7a70" stroke-width="1.7" stroke-dasharray="3.6 2.3"/>
<line x1="548.9" y1="57" x2="548.9" y2="292" stroke="#7a7a70" stroke-width="1.7" stroke-dasharray="3.6 2.3"/>
<text x="506.90" y="28.80" font-size="22.00" fill="#1a1a1a" stroke="#1a1a1a" textLength="116.67" lengthAdjust="spacingAndGlyphs">ALP Reward</text>
<text x="415.46" y="126.00" font-size="22.00" fill="#000" stroke="#000" textLength="53.54" lengthAdjust="spacingAndGlyphs">Sleep</text>
<text x="416.15" y="248.50" font-size="22.00" fill="#000" stroke="#000" textLength="26.28" lengthAdjust="spacingAndGlyphs">SD</text>
<text transform="translate(402.40,245.87) rotate(-90)" font-size="21.50" fill="#000" stroke="#000" textLength="22.33" lengthAdjust="spacingAndGlyphs">Ca</text>
<text transform="translate(393.60,221.93) rotate(-90)" font-size="12.50" fill="#000" stroke="#000" textLength="14.25" lengthAdjust="spacingAndGlyphs">2+</text>
<text transform="translate(402.40,202.51) rotate(-90)" font-size="21.50" fill="#000" stroke="#000" textLength="72.86" lengthAdjust="spacingAndGlyphs">Z-Score</text>
<path d="M630.2 276.2 V324.3 H667" fill="none" stroke="#222" stroke-width="1.6"/>
<text x="614.39" y="307.80" font-size="22.00" fill="#1a1a1a" stroke="#1a1a1a" textLength="12.66" lengthAdjust="spacingAndGlyphs">1</text>
<text x="636.18" y="317.80" font-size="22.00" fill="#1a1a1a" stroke="#1a1a1a" textLength="48.90" lengthAdjust="spacingAndGlyphs">5 sec</text>
<text x="-2.75" y="387.70" font-size="38.00" fill="#000" stroke="#000" textLength="22.94" lengthAdjust="spacingAndGlyphs">B</text>
<line x1="71.0" y1="408.1" x2="71.0" y2="626.9" stroke="#000" stroke-width="1.6"/>
<line x1="65.0" y1="408.9" x2="71.0" y2="408.9" stroke="#000" stroke-width="1.4"/>
<line x1="65.0" y1="463.2" x2="71.0" y2="463.2" stroke="#000" stroke-width="1.4"/>
<line x1="65.0" y1="517.5" x2="71.0" y2="517.5" stroke="#000" stroke-width="1.4"/>
<line x1="65.0" y1="571.8" x2="71.0" y2="571.8" stroke="#000" stroke-width="1.4"/>
<line x1="65.0" y1="626.1" x2="71.0" y2="626.1" stroke="#000" stroke-width="1.4"/>
<line x1="67.8" y1="436.0" x2="71.0" y2="436.0" stroke="#000" stroke-width="1.4"/>
<line x1="67.8" y1="490.3" x2="71.0" y2="490.3" stroke="#000" stroke-width="1.4"/>
<line x1="67.8" y1="544.6" x2="71.0" y2="544.6" stroke="#000" stroke-width="1.4"/>
<line x1="67.8" y1="598.9" x2="71.0" y2="598.9" stroke="#000" stroke-width="1.4"/>
<text x="36.66" y="414.50" font-size="22.00" fill="#000" stroke="#000" textLength="24.47" lengthAdjust="spacingAndGlyphs">15</text>
<text x="36.55" y="468.80" font-size="22.00" fill="#000" stroke="#000" textLength="24.47" lengthAdjust="spacingAndGlyphs">10</text>
<text x="48.87" y="523.10" font-size="22.00" fill="#000" stroke="#000" textLength="12.24" lengthAdjust="spacingAndGlyphs">5</text>
<text x="48.76" y="577.40" font-size="22.00" fill="#000" stroke="#000" textLength="12.24" lengthAdjust="spacingAndGlyphs">0</text>
<text x="41.50" y="631.70" font-size="22.00" fill="#000" stroke="#000" textLength="19.56" lengthAdjust="spacingAndGlyphs">-5</text>
<rect x="83.3" y="537.9" width="34.4" height="33.9" fill="#fff" stroke="#000" stroke-width="1.7"/>
<rect x="120.4" y="562.8" width="33.8" height="9.0" fill="#ffc0c0" stroke="#ff0000" stroke-width="1.7"/>
<rect x="192.7" y="488.9" width="34.3" height="82.9" fill="#fff" stroke="#000" stroke-width="1.7"/>
<rect x="229.8" y="540.7" width="34.0" height="31.1" fill="#ffc0c0" stroke="#ff0000" stroke-width="1.7"/>
<line x1="71.0" y1="571.8" x2="282.8" y2="571.8" stroke="#000" stroke-width="1.7"/>
<line x1="100.3" y1="530.0" x2="100.3" y2="545.0" stroke="#000" stroke-width="1.7"/>
<line x1="137.3" y1="553.4" x2="137.3" y2="571.0" stroke="#ff0000" stroke-width="1.7"/>
<line x1="209.6" y1="467.5" x2="209.6" y2="508.3" stroke="#000" stroke-width="1.7"/>
<line x1="205.6" y1="467.5" x2="213.6" y2="467.5" stroke="#000" stroke-width="1.5"/>
<line x1="246.7" y1="532.0" x2="246.7" y2="546.3" stroke="#ff0000" stroke-width="1.7"/>
<circle cx="100.2" cy="505.7" r="4.1" fill="none" stroke="#000" stroke-width="1.7"/>
<circle cx="95.8" cy="523.1" r="4.1" fill="none" stroke="#000" stroke-width="1.7"/>
<circle cx="104.7" cy="526.7" r="4.1" fill="none" stroke="#000" stroke-width="1.7"/>
<circle cx="86.9" cy="536.8" r="4.1" fill="none" stroke="#000" stroke-width="1.7"/>
<circle cx="95.8" cy="534.7" r="4.1" fill="none" stroke="#000" stroke-width="1.7"/>
<circle cx="113.6" cy="536.8" r="4.1" fill="none" stroke="#000" stroke-width="1.7"/>
<circle cx="104.2" cy="541.3" r="4.1" fill="none" stroke="#000" stroke-width="1.7"/>
<circle cx="100.2" cy="560.5" r="4.1" fill="none" stroke="#000" stroke-width="1.7"/>
<circle cx="100.2" cy="570.8" r="4.1" fill="none" stroke="#000" stroke-width="1.7"/>
<circle cx="137.1" cy="523.7" r="4.1" fill="rgba(255,0,0,0.25)" stroke="#ff0000" stroke-width="1.7"/>
<circle cx="123.9" cy="545.9" r="4.1" fill="rgba(255,0,0,0.25)" stroke="#ff0000" stroke-width="1.7"/>
<circle cx="137.1" cy="546.6" r="4.1" fill="rgba(255,0,0,0.25)" stroke="#ff0000" stroke-width="1.7"/>
<circle cx="150.6" cy="548.4" r="4.1" fill="rgba(255,0,0,0.25)" stroke="#ff0000" stroke-width="1.7"/>
<circle cx="123.9" cy="556.6" r="4.1" fill="rgba(255,0,0,0.25)" stroke="#ff0000" stroke-width="1.7"/>
<circle cx="137.1" cy="558.2" r="4.1" fill="rgba(255,0,0,0.25)" stroke="#ff0000" stroke-width="1.7"/>
<circle cx="137.1" cy="578.3" r="4.1" fill="rgba(255,0,0,0.25)" stroke="#ff0000" stroke-width="1.7"/>
<circle cx="137.1" cy="590.7" r="4.1" fill="rgba(255,0,0,0.25)" stroke="#ff0000" stroke-width="1.7"/>
<circle cx="137.1" cy="608.9" r="4.1" fill="rgba(255,0,0,0.25)" stroke="#ff0000" stroke-width="1.7"/>
<circle cx="209.5" cy="414.6" r="4.1" fill="none" stroke="#000" stroke-width="1.7"/>
<circle cx="223.0" cy="411.3" r="4.1" fill="none" stroke="#000" stroke-width="1.7"/>
<circle cx="209.5" cy="451.5" r="4.1" fill="none" stroke="#000" stroke-width="1.7"/>
<circle cx="223.0" cy="461.9" r="4.1" fill="none" stroke="#000" stroke-width="1.7"/>
<circle cx="209.5" cy="468.4" r="4.1" fill="none" stroke="#000" stroke-width="1.7"/>
<circle cx="209.5" cy="487.2" r="4.1" fill="none" stroke="#000" stroke-width="1.7"/>
<circle cx="196.3" cy="568.2" r="4.1" fill="none" stroke="#000" stroke-width="1.7"/>
<circle cx="209.5" cy="563.7" r="4.1" fill="none" stroke="#000" stroke-width="1.7"/>
<circle cx="223.0" cy="563.7" r="4.1" fill="none" stroke="#000" stroke-width="1.7"/>
<circle cx="233.5" cy="515.9" r="4.1" fill="rgba(255,0,0,0.25)" stroke="#ff0000" stroke-width="1.7"/>
<circle cx="246.7" cy="513.9" r="4.1" fill="rgba(255,0,0,0.25)" stroke="#ff0000" stroke-width="1.7"/>
<circle cx="260.2" cy="512.5" r="4.1" fill="rgba(255,0,0,0.25)" stroke="#ff0000" stroke-width="1.7"/>
<circle cx="260.2" cy="525.8" r="4.1" fill="rgba(255,0,0,0.25)" stroke="#ff0000" stroke-width="1.7"/>
<circle cx="246.7" cy="530.8" r="4.1" fill="rgba(255,0,0,0.25)" stroke="#ff0000" stroke-width="1.7"/>
<circle cx="253.1" cy="555.6" r="4.1" fill="rgba(255,0,0,0.25)" stroke="#ff0000" stroke-width="1.7"/>
<circle cx="239.6" cy="560.9" r="4.1" fill="rgba(255,0,0,0.25)" stroke="#ff0000" stroke-width="1.7"/>
<circle cx="239.6" cy="570.2" r="4.1" fill="rgba(255,0,0,0.25)" stroke="#ff0000" stroke-width="1.7"/>
<circle cx="253.1" cy="570.2" r="4.1" fill="rgba(255,0,0,0.25)" stroke="#ff0000" stroke-width="1.7"/>
<rect x="83" y="367.8" width="21.5" height="8.8" fill="#fff" stroke="#222" stroke-width="1.6"/>
<rect x="83" y="394" width="21.5" height="8.8" fill="#ffc0c0" stroke="#ff0000" stroke-width="1.6"/>
<text x="113.27" y="379.00" font-size="22.00" fill="#000" stroke="#000" textLength="53.02" lengthAdjust="spacingAndGlyphs">Sleep</text>
<text x="113.16" y="406.30" font-size="22.00" fill="#000" stroke="#000" textLength="26.07" lengthAdjust="spacingAndGlyphs">SD</text>
<line x1="174.0" y1="372.2" x2="174.0" y2="399.5" stroke="#222" stroke-width="1.6"/>
<line x1="187.00" y1="381.00" x2="187.00" y2="391.60" stroke="#ff0000" stroke-width="2.8" stroke-linecap="round"/>
<line x1="182.41" y1="383.65" x2="191.59" y2="388.95" stroke="#ff0000" stroke-width="2.8" stroke-linecap="round"/>
<line x1="182.41" y1="388.95" x2="191.59" y2="383.65" stroke="#ff0000" stroke-width="2.8" stroke-linecap="round"/>
<line x1="203.10" y1="381.00" x2="203.10" y2="391.60" stroke="#ff0000" stroke-width="2.8" stroke-linecap="round"/>
<line x1="198.51" y1="383.65" x2="207.69" y2="388.95" stroke="#ff0000" stroke-width="2.8" stroke-linecap="round"/>
<line x1="198.51" y1="388.95" x2="207.69" y2="383.65" stroke="#ff0000" stroke-width="2.8" stroke-linecap="round"/>
<text transform="translate(27.20,609.60) rotate(-90)" font-size="22.00" fill="#000" stroke="#000" textLength="183.04" lengthAdjust="spacingAndGlyphs">AUC (Z-score x sec)</text>
<text x="82.90" y="647.00" font-size="22.00" fill="#000" stroke="#000" textLength="75.49" lengthAdjust="spacingAndGlyphs">Pre-ALP</text>
<text x="192.58" y="646.90" font-size="22.00" fill="#000" stroke="#000" textLength="85.31" lengthAdjust="spacingAndGlyphs">Post-ALP</text>
<text x="319.41" y="387.20" font-size="38.00" fill="#000" stroke="#000" textLength="22.97" lengthAdjust="spacingAndGlyphs">C</text>
<line x1="390.7" y1="408.9" x2="390.7" y2="627.7" stroke="#000" stroke-width="1.6"/>
<line x1="384.7" y1="409.7" x2="390.7" y2="409.7" stroke="#000" stroke-width="1.4"/>
<line x1="384.7" y1="464.0" x2="390.7" y2="464.0" stroke="#000" stroke-width="1.4"/>
<line x1="384.7" y1="518.3" x2="390.7" y2="518.3" stroke="#000" stroke-width="1.4"/>
<line x1="384.7" y1="572.6" x2="390.7" y2="572.6" stroke="#000" stroke-width="1.4"/>
<line x1="384.7" y1="626.9" x2="390.7" y2="626.9" stroke="#000" stroke-width="1.4"/>
<line x1="387.5" y1="436.9" x2="390.7" y2="436.9" stroke="#000" stroke-width="1.4"/>
<line x1="387.5" y1="491.1" x2="390.7" y2="491.1" stroke="#000" stroke-width="1.4"/>
<line x1="387.5" y1="545.5" x2="390.7" y2="545.5" stroke="#000" stroke-width="1.4"/>
<line x1="387.5" y1="599.8" x2="390.7" y2="599.8" stroke="#000" stroke-width="1.4"/>
<text x="351.60" y="415.30" font-size="22.00" fill="#000" stroke="#000" textLength="30.58" lengthAdjust="spacingAndGlyphs">1.5</text>
<text x="351.49" y="469.60" font-size="22.00" fill="#000" stroke="#000" textLength="30.58" lengthAdjust="spacingAndGlyphs">1.0</text>
<text x="351.60" y="523.90" font-size="22.00" fill="#000" stroke="#000" textLength="30.58" lengthAdjust="spacingAndGlyphs">0.5</text>
<text x="364.36" y="578.20" font-size="22.00" fill="#000" stroke="#000" textLength="12.24" lengthAdjust="spacingAndGlyphs">0</text>
<text x="344.34" y="632.50" font-size="22.00" fill="#000" stroke="#000" textLength="37.91" lengthAdjust="spacingAndGlyphs">-0.5</text>
<rect x="409.2" y="510.6" width="34.0" height="62.0" fill="#fff" stroke="#000" stroke-width="1.7"/>
<rect x="446.4" y="551.4" width="34.3" height="21.2" fill="#ffc0c0" stroke="#ff0000" stroke-width="1.7"/>
<line x1="390.7" y1="572.6" x2="497.5" y2="572.6" stroke="#000" stroke-width="1.7"/>
<line x1="425.9" y1="496.0" x2="425.9" y2="523.3" stroke="#000" stroke-width="1.7"/>
<line x1="463.5" y1="539.3" x2="463.5" y2="561.5" stroke="#ff0000" stroke-width="1.7"/>
<circle cx="425.9" cy="423.3" r="4.1" fill="none" stroke="#000" stroke-width="1.7"/>
<circle cx="425.9" cy="478.3" r="4.1" fill="none" stroke="#000" stroke-width="1.7"/>
<circle cx="425.9" cy="489.0" r="4.1" fill="none" stroke="#000" stroke-width="1.7"/>
<circle cx="425.9" cy="510.9" r="4.1" fill="none" stroke="#000" stroke-width="1.7"/>
<circle cx="417.2" cy="522.7" r="4.1" fill="none" stroke="#000" stroke-width="1.7"/>
<circle cx="434.7" cy="523.7" r="4.1" fill="none" stroke="#000" stroke-width="1.7"/>
<circle cx="417.2" cy="542.5" r="4.1" fill="none" stroke="#000" stroke-width="1.7"/>
<circle cx="434.7" cy="543.7" r="4.1" fill="none" stroke="#000" stroke-width="1.7"/>
<circle cx="425.8" cy="554.8" r="4.1" fill="none" stroke="#000" stroke-width="1.7"/>
<circle cx="463.2" cy="499.7" r="4.1" fill="rgba(255,0,0,0.25)" stroke="#ff0000" stroke-width="1.7"/>
<circle cx="455.0" cy="529.9" r="4.1" fill="rgba(255,0,0,0.25)" stroke="#ff0000" stroke-width="1.7"/>
<circle cx="472.1" cy="524.2" r="4.1" fill="rgba(255,0,0,0.25)" stroke="#ff0000" stroke-width="1.7"/>
<circle cx="472.1" cy="535.6" r="4.1" fill="rgba(255,0,0,0.25)" stroke="#ff0000" stroke-width="1.7"/>
<circle cx="455.0" cy="544.0" r="4.1" fill="rgba(255,0,0,0.25)" stroke="#ff0000" stroke-width="1.7"/>
<circle cx="472.1" cy="548.9" r="4.1" fill="rgba(255,0,0,0.25)" stroke="#ff0000" stroke-width="1.7"/>
<circle cx="455.0" cy="581.5" r="4.1" fill="rgba(255,0,0,0.25)" stroke="#ff0000" stroke-width="1.7"/>
<circle cx="472.1" cy="583.0" r="4.1" fill="rgba(255,0,0,0.25)" stroke="#ff0000" stroke-width="1.7"/>
<circle cx="463.5" cy="607.4" r="4.1" fill="rgba(255,0,0,0.25)" stroke="#ff0000" stroke-width="1.7"/>
<line x1="425.6" y1="397.7" x2="463.9" y2="397.7" stroke="#000" stroke-width="1.7"/>
<line x1="436.80" y1="375.10" x2="436.80" y2="385.70" stroke="#ff0000" stroke-width="2.8" stroke-linecap="round"/>
<line x1="432.21" y1="377.75" x2="441.39" y2="383.05" stroke="#ff0000" stroke-width="2.8" stroke-linecap="round"/>
<line x1="432.21" y1="383.05" x2="441.39" y2="377.75" stroke="#ff0000" stroke-width="2.8" stroke-linecap="round"/>
<line x1="452.70" y1="375.10" x2="452.70" y2="385.70" stroke="#ff0000" stroke-width="2.8" stroke-linecap="round"/>
<line x1="448.11" y1="377.75" x2="457.29" y2="383.05" stroke="#ff0000" stroke-width="2.8" stroke-linecap="round"/>
<line x1="448.11" y1="383.05" x2="457.29" y2="377.75" stroke="#ff0000" stroke-width="2.8" stroke-linecap="round"/>
<text transform="translate(339.80,630.97) rotate(-90)" font-size="22.00" fill="#000" stroke="#000" textLength="229.29" lengthAdjust="spacingAndGlyphs">Rise Slope (Z-score/sec)</text>
<text transform="translate(435.10,636.00) rotate(-45)" font-size="22" fill="#000" stroke="#000" text-anchor="end">Sleep</text>
<text transform="translate(473.20,637.80) rotate(-45)" font-size="22" fill="#000" stroke="#000" text-anchor="end" textLength="28" lengthAdjust="spacingAndGlyphs">SD</text>
<text x="505.21" y="387.80" font-size="38.00" fill="#000" stroke="#000" textLength="26.10" lengthAdjust="spacingAndGlyphs">D</text>
<line x1="576.2" y1="408.1" x2="576.2" y2="626.6" stroke="#000" stroke-width="1.6"/>
<line x1="570.2" y1="408.9" x2="576.2" y2="408.9" stroke="#000" stroke-width="1.4"/>
<line x1="570.2" y1="481.2" x2="576.2" y2="481.2" stroke="#000" stroke-width="1.4"/>
<line x1="570.2" y1="553.5" x2="576.2" y2="553.5" stroke="#000" stroke-width="1.4"/>
<line x1="570.2" y1="625.8" x2="576.2" y2="625.8" stroke="#000" stroke-width="1.4"/>
<text x="541.65" y="414.50" font-size="22.00" fill="#000" stroke="#000" textLength="24.47" lengthAdjust="spacingAndGlyphs">60</text>
<text x="541.65" y="486.80" font-size="22.00" fill="#000" stroke="#000" textLength="24.47" lengthAdjust="spacingAndGlyphs">40</text>
<text x="541.65" y="559.10" font-size="22.00" fill="#000" stroke="#000" textLength="24.47" lengthAdjust="spacingAndGlyphs">20</text>
<text x="553.86" y="631.40" font-size="22.00" fill="#000" stroke="#000" textLength="12.24" lengthAdjust="spacingAndGlyphs">0</text>
<rect x="594.6" y="563.3" width="34.2" height="62.5" fill="#fff" stroke="#000" stroke-width="1.7"/>
<rect x="632.3" y="507.9" width="33.9" height="117.9" fill="#ffc0c0" stroke="#ff0000" stroke-width="1.7"/>
<line x1="576.2" y1="626.0" x2="685.0" y2="626.0" stroke="#000" stroke-width="1.7"/>
<line x1="611.4" y1="552.0" x2="611.4" y2="573.7" stroke="#000" stroke-width="1.7"/>
<line x1="649.1" y1="486.9" x2="649.1" y2="527.2" stroke="#ff0000" stroke-width="1.7"/>
<circle cx="607.3" cy="501.6" r="4.1" fill="none" stroke="#000" stroke-width="1.7"/>
<circle cx="616.2" cy="496.1" r="4.1" fill="none" stroke="#000" stroke-width="1.7"/>
<circle cx="611.4" cy="552.0" r="4.1" fill="none" stroke="#000" stroke-width="1.7"/>
<circle cx="607.3" cy="570.5" r="4.1" fill="none" stroke="#000" stroke-width="1.7"/>
<circle cx="598.1" cy="578.9" r="4.1" fill="none" stroke="#000" stroke-width="1.7"/>
<circle cx="607.3" cy="585.8" r="4.1" fill="none" stroke="#000" stroke-width="1.7"/>
<circle cx="616.3" cy="590.6" r="4.1" fill="none" stroke="#000" stroke-width="1.7"/>
<circle cx="625.4" cy="587.9" r="4.1" fill="none" stroke="#000" stroke-width="1.7"/>
<circle cx="598.1" cy="594.3" r="4.1" fill="none" stroke="#000" stroke-width="1.7"/>
<circle cx="648.9" cy="420.0" r="4.1" fill="rgba(255,0,0,0.25)" stroke="#ff0000" stroke-width="1.7"/>
<circle cx="648.9" cy="445.4" r="4.1" fill="rgba(255,0,0,0.25)" stroke="#ff0000" stroke-width="1.7"/>
<circle cx="662.5" cy="463.2" r="4.1" fill="rgba(255,0,0,0.25)" stroke="#ff0000" stroke-width="1.7"/>
<circle cx="648.9" cy="470.3" r="4.1" fill="rgba(255,0,0,0.25)" stroke="#ff0000" stroke-width="1.7"/>
<circle cx="649.1" cy="510.5" r="4.1" fill="rgba(255,0,0,0.25)" stroke="#ff0000" stroke-width="1.7"/>
<circle cx="635.5" cy="544.8" r="4.1" fill="rgba(255,0,0,0.25)" stroke="#ff0000" stroke-width="1.7"/>
<circle cx="649.0" cy="549.6" r="4.1" fill="rgba(255,0,0,0.25)" stroke="#ff0000" stroke-width="1.7"/>
<circle cx="662.8" cy="547.7" r="4.1" fill="rgba(255,0,0,0.25)" stroke="#ff0000" stroke-width="1.7"/>
<circle cx="649.0" cy="613.1" r="4.1" fill="rgba(255,0,0,0.25)" stroke="#ff0000" stroke-width="1.7"/>
<line x1="611.3" y1="394.2" x2="649.5" y2="394.2" stroke="#000" stroke-width="1.7"/>
<line x1="622.50" y1="371.60" x2="622.50" y2="382.20" stroke="#ff0000" stroke-width="2.8" stroke-linecap="round"/>
<line x1="617.91" y1="374.25" x2="627.09" y2="379.55" stroke="#ff0000" stroke-width="2.8" stroke-linecap="round"/>
<line x1="617.91" y1="379.55" x2="627.09" y2="374.25" stroke="#ff0000" stroke-width="2.8" stroke-linecap="round"/>
<line x1="638.20" y1="371.60" x2="638.20" y2="382.20" stroke="#ff0000" stroke-width="2.8" stroke-linecap="round"/>
<line x1="633.61" y1="374.25" x2="642.79" y2="379.55" stroke="#ff0000" stroke-width="2.8" stroke-linecap="round"/>
<line x1="633.61" y1="379.55" x2="642.79" y2="374.25" stroke="#ff0000" stroke-width="2.8" stroke-linecap="round"/>
<text transform="translate(526.70,577.11) rotate(-90)" font-size="22.00" fill="#000" stroke="#000" textLength="124.34" lengthAdjust="spacingAndGlyphs">#ALP/30 min</text>
<text transform="translate(620.40,636.00) rotate(-45)" font-size="22" fill="#000" stroke="#000" text-anchor="end">Sleep</text>
<text transform="translate(658.70,637.70) rotate(-45)" font-size="22" fill="#000" stroke="#000" text-anchor="end" textLength="28" lengthAdjust="spacingAndGlyphs">SD</text>
</svg></body></html>
